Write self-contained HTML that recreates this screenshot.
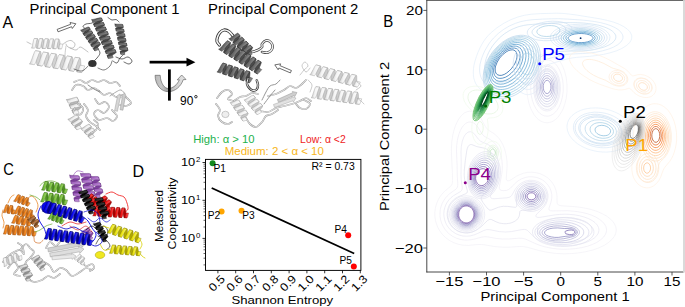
<!DOCTYPE html>
<html><head><meta charset="utf-8"><style>
html,body{margin:0;padding:0;background:#fff;}
body{width:685px;height:307px;overflow:hidden;}
svg{display:block;}
</style></head><body>
<svg width="685" height="307" viewBox="0 0 685 307">
<defs><clipPath id="clipB"><rect x="427.3" y="1.1" width="255.9" height="270.5"/></clipPath></defs>
<g clip-path="url(#clipB)">
<g fill="none" stroke-width="0.7"><path d="M540.6 13.6 556.8 13.2 562.8 13.4 568.8 14.0 575.8 14.9 599.8 18.8 607.3 20.4 613.8 22.2 619.3 24.3 623.7 26.6 627.3 29.1 629.8 31.6 631.2 34.1 631.7 35.6 631.8 37.1 631.6 38.6 631.2 40.1 629.6 42.6 628.2 44.1 626.4 45.6 621.8 48.5 616.3 50.9 609.8 52.9 603.3 54.4 595.8 55.6 589.3 56.4 576.3 57.4 571.2 58.1 566.3 59.2 549.8 64.0 547.8 64.7 546.3 65.9 545.4 67.6 544.0 75.6 543.3 78.6 542.1 82.1 540.5 85.6 538.6 88.6 536.3 91.1 533.8 93.0 531.3 94.1 528.3 94.6 526.3 94.5 524.8 94.2 521.8 92.8 517.3 89.7 516.3 89.2 515.3 89.0 513.3 89.3 507.3 91.4 502.8 92.7 498.8 93.5 494.8 93.7 490.8 93.5 486.8 92.6 483.3 91.1 480.3 89.1 478.3 87.2 476.8 85.3 475.5 83.1 474.5 80.6 473.8 78.1 473.4 75.1 473.3 72.1 473.5 68.6 474.0 65.1 475.0 61.1 476.4 56.6 478.1 52.1 480.1 47.6 482.0 44.1 483.8 41.1 486.0 38.1 488.1 35.6 490.8 32.9 496.8 27.9 503.8 23.3 510.8 19.7 517.8 17.0 524.3 15.3 531.3 14.2 540.6 13.6 M590.8 108.1 595.8 107.9 600.8 108.2 605.3 109.0 610.3 110.3 614.8 112.0 618.8 113.9 622.8 116.5 625.9 119.1 628.7 122.1 630.7 125.1 632.1 128.1 632.9 131.6 632.9 135.1 632.2 138.1 630.7 141.1 628.8 143.6 626.6 145.6 623.8 147.5 620.8 149.0 617.8 150.2 614.3 151.1 610.8 151.7 606.8 152.1 602.8 152.0 598.8 151.7 594.8 151.0 590.8 150.0 587.3 148.9 583.8 147.4 580.3 145.5 577.3 143.6 574.3 141.1 571.9 138.6 570.0 136.1 568.6 133.6 567.5 130.6 567.0 127.6 567.1 125.1 567.6 122.6 568.6 120.1 570.2 117.6 572.0 115.6 574.5 113.6 577.3 111.9 580.3 110.5 583.8 109.3 587.3 108.6 590.8 108.1" stroke="#e3eef9"/>
<path d="M542.8 19.1 551.3 18.8 558.8 18.7 567.3 19.1 579.8 19.9 587.8 20.6 594.3 21.5 600.3 22.6 605.8 24.0 610.8 25.7 615.0 27.6 618.3 29.7 620.9 32.1 622.5 34.6 622.9 36.1 623.0 37.1 622.8 38.6 622.4 39.6 620.8 42.1 617.9 44.6 613.6 47.1 608.3 49.2 602.3 50.9 595.8 52.2 589.3 53.0 582.8 53.5 569.8 54.1 564.3 54.7 557.3 56.2 547.8 58.8 544.8 59.9 543.3 61.1 542.6 62.1 542.2 63.1 541.8 65.1 541.4 70.6 540.9 74.1 540.0 77.6 538.6 81.1 536.9 84.1 534.8 86.5 532.8 88.1 530.3 89.2 528.8 89.4 527.3 89.5 525.8 89.2 524.3 88.7 521.8 87.2 517.8 83.9 516.8 83.4 515.8 83.2 514.8 83.2 513.3 83.5 507.8 85.5 504.3 86.5 500.8 87.2 497.3 87.4 493.8 87.1 490.3 86.2 487.3 84.8 485.0 83.1 483.6 81.6 482.1 79.6 481.1 77.6 480.3 75.1 479.8 72.6 479.6 70.1 479.7 67.1 480.1 64.1 481.0 60.6 481.9 57.6 483.3 54.1 484.9 50.6 488.7 44.1 490.9 41.1 493.5 38.1 498.1 33.6 503.3 29.6 509.3 26.0 515.3 23.4 520.8 21.6 526.8 20.4 532.8 19.7 542.8 19.1 M590.5 112.6 594.3 112.2 598.3 112.3 602.3 112.7 606.3 113.5 610.3 114.8 613.8 116.3 616.9 118.1 619.8 120.2 622.3 122.6 624.2 125.1 625.5 127.6 626.4 130.6 626.6 133.6 626.1 136.1 625.0 138.6 623.5 140.6 622.0 142.1 620.0 143.6 617.8 144.9 615.3 145.9 612.8 146.7 609.8 147.4 606.8 147.7 603.3 147.8 600.3 147.6 596.8 147.2 593.3 146.4 590.3 145.4 587.3 144.2 584.8 142.9 582.3 141.4 580.0 139.6 577.9 137.6 576.3 135.6 575.0 133.6 574.2 131.6 573.5 129.1 573.4 127.1 573.6 125.1 574.2 123.1 575.2 121.1 576.8 119.1 578.3 117.6 580.3 116.2 582.3 115.1 584.8 114.0 587.3 113.3 590.5 112.6" stroke="#dae8f6"/>
<path d="M563.2 22.6 577.3 22.7 583.3 23.0 588.8 23.6 593.8 24.3 598.8 25.3 603.2 26.6 606.8 28.0 610.1 29.6 612.3 31.1 614.4 33.1 615.6 35.1 615.9 37.1 615.5 39.1 614.2 41.1 611.8 43.3 608.8 45.1 604.8 46.8 600.3 48.2 594.8 49.5 588.8 50.4 582.8 50.9 564.8 51.2 559.2 51.6 554.8 52.3 549.3 53.6 544.8 54.8 542.3 55.9 541.2 56.6 540.3 57.4 539.6 58.6 539.2 59.6 538.9 62.1 538.9 67.6 538.6 71.1 537.9 74.6 536.9 77.6 535.6 80.1 533.8 82.4 531.8 84.1 529.8 84.9 527.3 85.1 524.8 84.4 522.3 82.8 518.8 79.4 517.8 78.8 516.8 78.4 515.8 78.3 514.3 78.6 508.3 80.8 504.8 81.7 501.3 82.2 498.3 82.2 494.8 81.7 491.8 80.5 489.3 78.7 487.4 76.6 486.2 74.6 485.5 72.6 484.9 70.1 484.7 67.6 484.9 64.6 485.4 61.6 486.2 58.6 487.3 55.6 488.6 52.6 490.5 49.1 492.4 46.1 494.7 43.1 499.3 38.0 502.1 35.6 504.8 33.5 509.3 30.7 513.8 28.5 518.8 26.6 523.8 25.4 527.8 24.8 532.3 24.4 552.3 23.0 563.2 22.6 M592.4 116.1 595.3 115.8 598.3 115.8 601.8 116.2 604.8 116.8 607.8 117.7 610.8 119.0 613.3 120.4 615.7 122.1 617.8 124.1 619.3 126.1 620.4 128.1 621.0 130.1 621.3 132.1 621.1 134.1 620.4 136.1 619.1 138.1 617.8 139.5 616.3 140.7 614.3 141.8 612.3 142.7 607.8 143.9 602.8 144.2 597.8 143.8 592.8 142.5 588.3 140.6 584.3 137.9 581.5 135.1 580.5 133.6 579.5 131.6 579.0 130.1 578.7 128.1 578.9 126.1 579.3 124.6 580.1 123.1 581.1 121.6 582.7 120.1 584.0 119.1 585.8 118.1 587.8 117.3 592.4 116.1" stroke="#ccdff1"/></g>
<g fill="none" stroke-width="0.7"><path d="M544.1 53.6 546.3 53.3 548.3 53.3 550.3 53.7 552.3 54.5 553.8 55.3 555.8 56.7 557.7 58.6 559.4 60.6 561.0 63.1 562.4 65.6 564.6 71.1 566.2 77.6 567.0 84.6 567.0 91.6 566.2 98.6 564.5 105.1 563.4 108.1 562.0 111.1 559.2 115.6 557.6 117.6 555.8 119.3 553.8 120.7 551.8 121.8 549.8 122.4 547.8 122.7 545.8 122.7 543.8 122.3 542.3 121.8 540.3 120.8 538.3 119.4 536.8 118.0 535.3 116.3 533.7 114.1 531.0 109.1 529.0 103.6 527.7 97.6 526.9 91.1 527.0 84.6 527.7 78.1 529.1 72.1 531.1 66.6 533.8 61.8 536.8 58.0 538.4 56.6 540.3 55.2 542.3 54.2 544.1 53.6 M467.4 111.6 469.8 111.2 472.3 111.5 474.8 112.5 477.3 114.3 479.3 116.4 481.0 118.6 485.3 126.4 486.8 128.6 488.8 130.4 493.8 133.5 496.4 135.6 499.2 138.6 501.5 142.1 503.1 145.1 504.6 149.1 505.7 153.1 506.5 157.1 507.0 161.6 507.1 166.1 506.3 178.1 506.5 179.6 507.1 180.6 507.8 180.9 509.3 180.7 511.3 179.6 516.3 176.3 519.3 174.8 523.3 173.3 527.3 172.4 531.8 172.2 536.3 172.7 540.3 173.8 544.3 175.7 547.3 177.6 550.3 180.3 552.6 183.1 554.6 186.6 555.9 190.1 556.7 193.6 557.0 196.6 557.1 203.1 557.5 204.1 558.3 204.9 559.8 205.5 561.8 205.8 572.8 206.5 579.8 207.2 585.8 208.3 590.8 209.4 596.8 211.3 602.3 213.7 606.8 216.2 610.8 219.3 612.9 221.6 614.6 224.1 615.7 226.6 616.2 229.1 616.1 231.6 615.5 234.1 614.2 236.6 612.3 239.1 608.8 242.3 604.3 245.3 598.8 247.9 592.8 250.0 585.8 251.7 578.8 252.9 571.3 253.6 563.8 253.8 555.3 253.4 546.8 252.2 539.3 250.6 527.3 247.3 523.3 246.6 519.3 246.5 509.3 247.2 502.8 247.2 494.8 246.6 484.3 244.8 481.3 244.5 477.8 244.5 468.3 245.4 465.3 245.3 462.3 245.1 457.8 244.1 453.3 242.5 449.3 240.4 445.3 237.3 442.3 234.3 439.9 231.1 437.9 227.6 436.5 224.1 435.5 220.6 434.9 216.6 434.8 212.6 435.3 208.6 436.0 205.6 437.0 202.6 438.3 199.6 440.1 196.6 442.0 194.1 444.3 191.6 450.8 186.1 451.6 185.1 452.2 183.6 452.6 180.6 452.4 172.6 451.5 155.1 451.4 149.1 451.8 141.6 452.9 134.6 454.0 130.1 455.3 126.1 456.8 122.6 458.7 119.1 460.8 116.3 462.8 114.2 464.8 112.7 467.4 111.6" stroke="#f2f0f7"/>
<path d="M544.8 60.1 546.3 59.9 548.3 59.9 551.3 60.8 552.8 61.7 554.3 62.8 555.8 64.3 557.3 66.1 559.6 70.1 561.5 75.1 562.7 80.1 563.2 85.6 563.2 91.6 562.4 97.1 560.9 102.6 559.0 107.1 556.7 110.6 555.3 112.2 553.8 113.6 552.3 114.6 550.8 115.4 549.3 115.9 547.3 116.2 544.3 115.8 542.8 115.2 541.3 114.4 539.8 113.3 538.3 111.8 535.9 108.6 533.8 104.6 532.3 100.1 531.2 95.1 530.7 90.1 530.8 84.6 531.4 79.6 532.7 74.6 534.3 70.3 536.4 66.6 538.9 63.6 540.3 62.3 541.8 61.3 544.8 60.1 M468.7 122.1 470.3 122.0 472.3 122.4 473.8 123.1 475.3 124.2 477.8 127.0 481.5 133.1 483.0 135.1 484.8 136.6 490.3 139.6 493.3 141.8 496.3 145.1 497.6 147.1 498.9 149.6 500.3 153.1 501.4 157.1 502.0 161.1 502.3 165.6 502.2 170.1 501.7 174.6 499.3 186.6 499.3 188.4 499.9 189.6 501.3 190.4 503.3 190.6 506.3 190.4 508.3 189.7 510.3 188.3 514.8 183.6 517.8 181.0 521.3 178.9 525.3 177.5 528.8 176.8 532.8 176.8 536.8 177.5 540.3 178.8 542.3 179.8 544.2 181.1 547.3 184.1 549.7 187.6 551.1 191.1 551.8 194.6 551.8 198.1 551.0 202.1 549.0 208.1 548.9 209.1 549.3 210.1 550.3 210.7 552.3 210.9 567.3 210.7 572.8 211.1 577.8 211.7 582.8 212.6 587.3 213.7 591.3 215.1 595.3 216.8 599.2 219.1 602.3 221.5 604.5 224.1 605.9 226.6 606.5 229.1 606.5 230.6 606.3 232.1 605.3 234.6 603.6 237.1 600.8 239.7 596.8 242.4 592.3 244.5 587.3 246.3 581.8 247.6 575.8 248.6 569.8 249.1 563.3 249.3 558.3 249.0 553.3 248.5 548.8 247.7 544.3 246.7 540.3 245.5 536.8 244.2 525.8 239.2 522.3 238.3 518.8 238.2 508.8 239.0 502.3 239.0 496.8 238.5 487.8 236.9 484.8 236.7 481.3 237.2 474.8 239.0 471.3 239.7 467.8 240.1 464.8 240.1 460.8 239.5 456.8 238.4 452.8 236.4 449.3 234.0 446.8 231.6 444.8 229.1 443.0 226.1 441.6 223.1 440.7 220.1 440.1 216.6 440.0 213.1 440.3 209.6 441.0 206.6 442.1 203.6 443.7 200.6 445.3 198.2 447.1 196.1 449.3 194.0 456.0 189.1 456.9 188.1 457.4 187.1 457.7 185.6 457.8 184.1 457.3 176.6 457.1 165.6 456.5 151.1 456.7 145.6 457.3 140.6 458.1 137.1 459.1 133.6 460.3 130.6 461.8 127.8 463.4 125.6 465.3 123.7 466.8 122.8 468.7 122.1" stroke="#efedf5"/>
<path d="M545.5 65.1 546.8 65.0 548.3 65.1 550.8 65.9 553.3 67.7 555.7 70.6 557.4 73.6 558.9 77.6 559.9 82.1 560.3 86.6 560.2 91.1 559.6 95.6 558.5 99.6 556.8 103.6 554.8 106.7 552.4 109.1 549.8 110.5 547.3 111.0 544.8 110.7 542.3 109.6 540.0 107.6 538.1 105.1 536.3 101.8 535.0 98.1 534.1 94.1 533.7 89.6 533.8 85.1 534.4 80.6 535.4 76.6 536.8 73.1 538.6 70.1 540.8 67.6 543.3 65.9 545.5 65.1 M468.3 132.1 470.3 131.7 471.8 132.1 472.8 132.6 474.8 134.4 478.3 139.1 480.3 141.0 482.3 142.1 487.8 144.4 490.8 146.4 492.8 148.4 494.3 150.4 495.8 153.1 496.8 155.6 497.9 159.6 498.6 164.1 498.7 168.6 498.3 173.6 497.4 178.1 495.9 183.1 494.5 186.6 490.7 195.1 490.4 196.1 490.5 197.1 491.1 198.1 492.3 198.6 494.8 198.7 506.8 197.8 509.3 197.3 510.8 196.4 511.8 195.3 515.0 189.6 517.2 186.6 519.3 184.5 522.0 182.6 525.3 181.1 529.3 180.3 533.3 180.4 537.3 181.3 539.8 182.5 541.8 183.8 543.8 185.6 545.3 187.5 546.5 189.6 547.3 191.6 547.9 194.1 548.0 196.6 547.8 198.6 547.4 200.6 545.8 204.3 544.6 206.1 542.8 208.3 536.7 214.1 535.9 215.6 535.9 216.1 536.3 216.9 536.8 217.2 537.8 217.4 539.8 217.4 554.8 214.9 559.8 214.4 564.8 214.2 569.8 214.4 574.8 214.9 579.3 215.7 583.8 216.9 588.5 218.6 592.3 220.6 595.0 222.6 597.3 225.1 598.6 227.6 598.9 229.1 598.9 230.6 598.3 233.1 596.8 235.6 594.3 238.0 591.3 240.0 587.8 241.7 583.3 243.3 578.3 244.5 573.3 245.3 568.3 245.7 562.8 245.7 556.8 245.3 551.3 244.4 546.3 243.2 541.8 241.5 538.8 240.1 535.5 238.1 532.5 235.6 527.8 230.7 526.3 229.8 524.8 229.4 521.8 229.6 511.3 231.6 505.3 232.0 499.3 231.6 489.8 229.7 486.8 229.6 483.8 230.5 477.8 233.4 474.3 234.8 470.3 235.9 466.8 236.2 462.8 236.0 459.3 235.1 455.8 233.7 452.3 231.4 450.2 229.6 448.1 227.1 446.5 224.6 445.4 222.1 444.6 219.6 444.0 216.6 443.8 213.6 444.1 210.6 444.8 207.6 445.9 204.6 447.3 202.1 449.1 199.6 451.1 197.6 453.3 195.8 460.4 191.6 461.4 190.6 462.0 189.6 462.2 188.6 462.2 187.1 461.2 179.6 461.0 174.6 461.2 162.1 461.0 151.6 461.3 146.6 462.3 141.2 463.8 137.1 464.8 135.3 465.8 134.0 466.8 133.0 468.3 132.1" stroke="#e8e6f2"/>
<path d="M546.6 69.6 548.8 69.8 550.8 70.8 552.8 72.5 554.3 74.6 555.8 77.6 556.8 80.6 557.4 84.1 557.7 87.6 557.5 91.1 557.0 94.6 556.1 97.6 554.8 100.6 553.3 102.9 551.3 104.9 549.3 106.0 547.3 106.4 545.3 106.2 543.3 105.3 541.3 103.6 539.8 101.6 538.3 98.7 537.3 95.6 536.6 92.1 536.3 88.6 536.5 85.1 537.0 81.6 538.0 78.1 539.3 75.3 540.8 73.0 542.8 71.1 544.8 70.0 546.6 69.6 M470.2 144.6 471.8 144.6 476.8 146.6 484.3 148.2 486.3 149.0 487.8 149.9 489.9 151.6 491.8 154.0 493.3 156.8 494.5 160.1 495.4 165.1 495.5 170.1 494.8 175.6 493.4 180.6 491.7 184.6 489.3 188.6 486.8 191.7 482.1 196.1 481.4 197.1 481.1 198.1 481.4 199.6 482.7 202.1 485.8 206.4 488.3 209.2 489.8 210.1 491.3 210.1 498.3 207.3 500.8 206.7 503.3 206.3 507.8 206.4 514.8 207.3 515.8 207.2 516.3 206.9 516.6 206.6 516.8 205.6 516.5 199.6 516.7 196.1 517.4 193.1 518.5 190.6 519.5 189.1 520.8 187.6 523.3 185.6 526.3 184.2 529.8 183.4 531.8 183.4 533.8 183.7 537.3 184.8 539.3 186.0 540.6 187.1 542.0 188.6 543.0 190.1 543.7 191.6 544.4 193.6 544.6 195.1 544.6 197.1 544.2 199.1 543.7 200.6 542.8 202.5 541.7 204.1 540.3 205.6 538.3 207.1 536.3 208.3 533.8 209.3 529.3 210.2 522.3 210.3 520.7 210.6 520.2 211.1 519.9 211.6 519.4 215.1 519.0 216.6 517.8 218.7 516.5 220.1 515.1 221.1 513.2 222.1 510.8 223.0 508.8 223.4 506.3 223.7 503.8 223.7 501.3 223.4 499.3 223.0 496.8 222.1 491.3 219.5 490.3 219.4 489.3 219.5 487.3 220.7 481.3 226.6 477.3 229.6 475.3 230.7 472.8 231.7 470.3 232.4 467.8 232.8 463.8 232.7 460.3 232.0 456.8 230.5 453.8 228.4 452.0 226.6 450.4 224.6 449.2 222.6 448.2 220.1 447.6 218.1 447.2 215.6 447.2 213.1 447.5 210.6 448.3 207.6 449.4 205.1 451.0 202.6 453.3 200.1 455.3 198.5 457.8 197.0 466.0 193.6 466.8 193.0 467.3 192.1 467.4 191.1 467.2 190.1 465.3 183.6 464.6 179.6 464.2 175.1 464.3 170.1 465.3 160.6 466.8 150.3 467.4 148.1 468.3 146.3 469.3 145.1 470.2 144.6 M560.0 217.6 566.8 217.4 573.3 218.0 579.3 219.3 584.3 221.1 586.3 222.2 588.4 223.6 590.0 225.1 591.1 226.6 591.8 228.1 592.1 229.6 592.0 231.1 591.6 232.6 590.7 234.1 589.3 235.6 587.4 237.1 584.8 238.6 582.3 239.7 579.3 240.7 575.8 241.6 572.3 242.1 565.3 242.6 561.3 242.5 557.8 242.2 554.3 241.6 550.8 240.7 547.8 239.8 545.3 238.7 542.8 237.3 540.8 235.8 539.1 234.1 538.2 232.6 537.5 230.6 537.4 229.1 537.7 227.6 538.5 226.1 539.7 224.6 541.6 223.1 543.8 221.8 546.4 220.6 549.3 219.6 552.8 218.7 556.3 218.0 560.0 217.6" stroke="#dfdfed"/></g>
<g fill="none" stroke-width="0.7"><path d="M579.8 51.6 585.3 51.9 591.8 53.1 598.3 55.0 605.3 57.9 610.8 60.7 624.8 68.7 627.9 71.1 631.3 75.1 632.3 75.8 633.3 75.9 637.8 74.7 640.8 74.5 644.3 75.1 647.8 76.5 650.3 78.1 652.3 79.9 654.0 82.1 655.1 84.1 655.9 86.6 656.0 88.6 655.8 90.6 655.1 92.6 654.1 94.1 653.1 95.1 651.8 96.1 650.3 96.8 648.8 97.3 646.8 97.5 644.8 97.5 642.8 97.2 639.3 96.1 636.3 94.4 634.0 92.6 630.8 89.1 629.8 88.4 628.8 88.3 624.8 89.5 621.8 89.9 618.8 89.9 615.3 89.4 611.3 88.3 599.8 84.3 594.8 82.2 589.8 79.7 582.8 75.3 579.8 73.1 576.9 70.6 574.4 68.1 572.7 66.1 571.1 63.6 570.1 61.6 569.6 59.6 569.6 57.6 570.0 56.1 571.0 54.6 572.3 53.5 574.3 52.5 576.8 51.9 579.8 51.6 M651.6 104.1 653.8 103.7 656.3 103.8 658.8 104.2 661.3 105.1 663.8 106.6 665.8 108.1 667.8 110.1 669.8 112.7 671.6 115.6 673.0 118.6 674.2 121.6 675.2 125.1 675.9 128.6 676.5 132.6 676.6 136.1 676.6 140.1 676.2 144.1 675.4 148.1 674.3 152.1 673.0 155.6 671.5 158.6 669.8 161.3 665.0 167.1 663.8 168.9 662.8 171.1 660.7 177.1 658.8 180.6 656.3 183.7 653.3 186.1 651.8 186.8 649.8 187.5 648.3 187.8 646.3 187.8 643.8 187.4 641.8 186.6 639.8 185.5 637.8 183.8 636.3 182.1 634.6 179.6 633.4 177.1 632.5 174.1 631.8 169.6 631.9 165.1 632.6 161.1 634.7 154.6 635.0 152.1 634.8 150.1 633.5 141.1 633.4 137.6 633.5 133.6 634.1 128.1 635.3 123.1 637.0 118.6 639.3 114.1 641.8 110.6 644.8 107.6 648.3 105.3 651.6 104.1" stroke="#fff0e2"/>
<path d="M586.9 59.6 589.3 59.4 591.8 59.6 594.8 60.2 598.3 61.2 604.2 63.6 611.8 67.8 613.8 68.5 619.3 70.0 622.3 71.3 623.8 72.3 625.2 73.6 626.4 75.1 627.2 76.6 627.7 78.1 627.8 79.6 627.6 81.1 626.9 82.6 625.3 84.4 622.8 85.7 619.8 86.2 616.3 85.8 614.3 85.2 612.3 84.3 605.8 80.4 598.3 77.5 593.4 75.1 590.2 73.1 587.0 70.6 584.6 68.1 583.1 65.6 582.5 63.6 582.6 62.6 583.0 61.6 584.3 60.4 585.3 60.0 586.9 59.6 M639.1 78.1 640.8 77.9 642.3 78.0 645.3 78.8 646.8 79.5 648.3 80.6 650.3 82.6 651.7 85.1 652.1 86.6 652.2 88.1 651.9 89.6 651.5 90.6 650.8 91.6 649.8 92.6 648.3 93.5 646.3 94.0 644.3 94.1 642.3 93.8 640.3 93.1 638.3 91.9 636.7 90.6 635.4 89.1 634.6 87.6 633.9 85.6 633.8 83.6 634.1 82.1 634.9 80.6 635.9 79.6 637.3 78.7 639.1 78.1 M652.2 112.1 653.8 111.8 655.8 111.8 657.8 112.1 659.8 112.8 661.8 114.0 663.3 115.2 664.8 116.7 666.3 118.7 667.5 120.6 668.7 123.1 669.7 125.6 670.5 128.6 671.3 134.1 671.3 140.1 670.4 145.6 669.6 148.6 668.6 151.1 667.1 154.1 665.4 156.6 663.8 158.4 660.4 161.6 659.4 163.1 658.7 165.1 657.3 172.4 656.5 174.6 655.5 176.6 653.5 179.1 651.3 180.8 648.8 181.8 646.3 181.9 644.3 181.5 642.8 180.8 641.3 179.8 639.8 178.3 638.6 176.6 637.5 174.6 636.9 172.6 636.5 170.6 636.3 166.6 636.9 163.1 638.0 160.1 640.5 155.1 641.0 153.1 640.8 151.1 639.4 145.1 638.8 141.6 638.6 137.6 638.7 133.6 639.3 129.6 640.2 126.1 641.5 122.6 643.1 119.6 644.9 117.1 647.3 114.7 649.8 113.0 652.2 112.1" stroke="#fee9d4"/></g>
<g fill="none" stroke-width="0.7"><path d="M471.1 86.6 473.3 86.3 475.8 86.2 478.3 86.4 480.8 86.9 485.8 88.5 490.8 91.1 493.3 92.9 495.4 94.6 497.4 96.6 499.1 98.6 500.5 100.6 501.5 102.6 502.3 104.6 502.8 106.6 502.9 109.1 502.3 111.6 501.2 113.6 499.8 115.1 497.8 116.4 495.8 117.2 493.3 117.7 488.8 118.1 487.8 118.6 487.5 119.1 487.5 120.1 488.1 125.1 488.2 129.1 487.9 132.6 487.2 136.1 485.9 139.6 484.4 142.1 482.8 143.6 480.8 144.4 479.3 144.4 478.3 144.1 476.8 143.2 475.8 142.2 474.7 140.6 473.7 138.6 472.3 134.1 471.8 129.6 471.9 124.6 472.8 120.1 474.5 115.1 474.5 113.6 473.5 112.1 469.2 108.1 466.3 104.6 464.3 101.1 463.3 97.6 463.1 95.6 463.3 93.6 463.8 92.1 464.6 90.6 465.8 89.2 467.3 88.1 469.3 87.1 471.1 86.6 M490.5 141.6 492.3 141.2 493.8 141.3 495.8 141.9 497.3 142.9 498.8 144.5 499.8 146.1 500.7 148.1 501.3 150.6 501.4 153.1 501.1 155.6 500.6 157.6 499.7 159.6 498.7 161.1 497.2 162.6 495.3 163.7 493.8 164.1 492.3 164.2 490.8 163.9 489.3 163.2 487.8 162.0 486.6 160.6 485.7 159.1 484.8 157.1 484.4 155.1 484.2 153.1 484.3 150.6 484.7 148.6 485.5 146.1 486.4 144.6 487.3 143.6 488.8 142.4 490.5 141.6" stroke="#eff9eb"/>
<path d="M475.2 90.1 477.3 90.0 479.8 90.2 482.3 90.8 484.8 91.7 487.3 92.8 489.8 94.3 491.8 95.9 493.7 97.6 495.0 99.1 496.3 101.1 497.3 103.1 497.9 105.1 498.1 107.1 497.9 108.6 497.3 110.1 496.1 111.6 493.9 113.1 491.3 113.8 487.8 114.0 484.3 113.5 481.8 112.8 478.8 111.4 475.3 109.0 472.5 106.6 470.4 104.1 468.8 101.1 468.0 98.6 468.0 96.1 468.6 94.1 469.2 93.1 470.2 92.1 472.3 90.8 475.2 90.1 M479.7 121.6 480.3 121.6 481.3 122.1 482.3 123.5 483.0 125.6 483.2 128.1 482.9 130.6 482.2 132.6 481.3 133.9 480.8 134.2 479.8 134.4 478.8 134.0 477.8 132.6 477.1 130.6 476.8 128.1 477.0 125.6 477.7 123.6 478.7 122.1 479.7 121.6 M491.0 145.6 492.3 145.2 493.3 145.2 494.3 145.5 495.3 146.0 496.3 146.8 497.3 148.1 498.2 150.6 498.4 153.6 498.1 155.1 497.6 156.6 496.8 158.0 495.8 159.1 494.8 159.7 493.8 160.1 491.8 160.1 490.8 159.7 489.8 159.1 488.2 157.1 487.3 154.6 487.2 151.6 487.8 149.1 488.3 148.1 489.3 146.8 491.0 145.6" stroke="#e2f4dd"/></g>
<g fill="none" stroke-width="0.7"><path d="M517.3 35.6 520.3 35.3 523.3 35.3 525.8 35.7 528.9 36.6 531.8 38.1 533.8 39.6 535.7 41.6 537.2 43.6 538.3 45.7 539.4 48.6 540.0 51.6 540.3 55.1 540.3 58.6 539.8 62.1 538.9 66.1 537.8 69.3 536.3 72.8 534.8 75.7 532.8 79.0 530.3 82.4 527.8 85.3 525.0 88.1 522.1 90.6 519.3 92.6 515.9 94.6 512.7 96.1 509.8 97.1 506.3 98.0 503.3 98.3 500.3 98.3 497.3 97.9 494.8 97.1 491.3 95.3 488.3 92.7 486.8 90.8 485.8 89.1 484.3 85.6 483.3 80.9 483.2 76.1 483.8 70.8 485.3 65.4 487.3 60.5 490.3 55.2 493.8 50.4 498.3 45.7 502.6 42.1 507.4 39.1 511.8 37.1 514.8 36.2 517.3 35.6" stroke="#b7d4ea"/>
<path d="M517.9 36.6 520.8 36.4 523.5 36.6 526.3 37.2 528.7 38.1 530.8 39.3 533.0 41.1 534.7 43.1 536.0 45.1 537.1 47.6 537.8 50.1 538.3 53.1 538.5 56.1 538.3 59.4 537.8 62.6 536.9 66.1 535.8 69.2 534.3 72.6 532.7 75.6 530.8 78.6 528.3 81.9 525.9 84.6 523.3 87.1 520.3 89.6 517.3 91.6 514.3 93.3 511.4 94.6 508.4 95.6 505.8 96.2 502.8 96.5 499.8 96.4 497.3 96.0 494.8 95.2 492.8 94.3 491.3 93.3 489.8 92.0 488.5 90.6 486.3 87.2 484.8 83.1 484.1 78.6 484.3 73.6 485.2 68.6 486.8 63.6 489.3 58.3 492.3 53.6 495.8 49.3 499.8 45.4 504.0 42.1 508.3 39.6 513.3 37.6 517.9 36.6" stroke="#aed1e7"/>
<path d="M516.2 38.1 518.8 37.8 521.3 37.8 523.8 38.2 526.3 38.9 528.3 39.9 530.3 41.3 532.1 43.1 533.6 45.1 534.8 47.6 535.6 50.1 536.1 52.6 536.3 55.6 536.2 58.6 535.8 61.6 534.9 65.1 533.9 68.1 532.4 71.6 530.8 74.6 528.8 77.6 527.0 80.1 524.8 82.6 522.3 85.1 519.8 87.2 516.8 89.4 513.8 91.1 510.8 92.5 507.8 93.5 505.3 94.1 502.3 94.4 499.8 94.3 497.3 93.9 495.3 93.3 492.2 91.6 490.8 90.5 489.3 88.9 487.3 85.9 485.9 82.1 485.3 78.1 485.3 73.6 486.2 68.6 487.6 64.1 489.8 59.3 492.3 55.1 495.8 50.6 499.3 47.0 503.3 43.8 507.6 41.1 511.8 39.3 516.2 38.1" stroke="#a1cbe2"/>
<path d="M515.3 39.6 517.8 39.3 520.3 39.3 522.8 39.7 524.8 40.3 526.8 41.3 528.6 42.6 530.1 44.1 531.5 46.1 532.5 48.1 533.3 50.6 533.8 53.1 533.9 55.6 533.9 58.1 533.5 61.1 532.7 64.1 531.8 67.1 530.5 70.1 528.9 73.1 525.3 78.4 521.0 83.1 518.7 85.1 516.0 87.1 513.3 88.7 510.8 89.9 507.8 91.1 505.3 91.7 502.8 92.0 500.3 92.0 497.8 91.7 495.8 91.1 492.8 89.5 490.3 87.2 488.3 84.2 487.2 81.1 486.5 77.1 486.5 73.1 487.3 68.6 488.7 64.1 490.7 59.6 493.3 55.3 496.3 51.4 499.8 47.9 503.3 45.0 507.3 42.5 511.3 40.7 515.3 39.6" stroke="#8cc0dd"/>
<path d="M514.9 41.1 517.3 40.9 519.8 40.9 521.8 41.3 523.8 42.0 525.3 42.9 526.9 44.1 528.3 45.6 529.6 47.6 530.4 49.6 531.0 51.6 531.3 54.1 531.4 56.6 530.8 61.6 529.9 64.6 529.0 67.1 526.3 72.5 522.8 77.5 518.8 81.7 514.3 85.2 509.8 87.6 507.3 88.6 504.8 89.2 502.3 89.5 500.3 89.5 497.8 89.2 495.8 88.6 493.2 87.1 490.8 84.7 489.2 82.1 488.2 79.1 487.8 75.6 487.9 71.6 488.7 67.6 490.0 63.6 491.9 59.6 494.3 55.7 497.1 52.1 500.3 48.8 503.8 46.0 507.3 43.8 511.3 42.0 514.9 41.1" stroke="#74b3d8"/>
<path d="M515.2 42.6 517.3 42.5 519.3 42.7 521.3 43.3 522.8 44.0 524.3 45.0 525.5 46.1 526.6 47.6 527.4 49.1 528.1 51.1 528.6 53.1 528.7 55.1 528.7 57.6 527.9 62.1 526.1 67.1 523.4 72.1 520.3 76.3 516.5 80.1 512.3 83.3 507.8 85.6 505.3 86.4 503.3 86.8 501.3 86.9 499.3 86.8 497.3 86.4 495.8 85.9 493.3 84.3 491.4 82.1 490.1 79.6 489.4 76.6 489.1 73.1 489.5 69.6 490.3 66.1 491.9 62.1 493.7 58.6 496.0 55.1 498.8 51.8 501.8 49.0 504.9 46.6 508.3 44.7 511.8 43.3 515.2 42.6" stroke="#5da5d1"/>
<path d="M512.7 44.6 516.3 44.3 518.3 44.5 519.8 45.0 521.0 45.6 522.4 46.6 523.4 47.6 524.4 49.1 525.6 52.1 525.9 54.1 526.0 56.1 525.4 60.6 524.0 65.1 521.7 69.6 518.9 73.6 515.7 77.1 511.8 80.3 507.8 82.5 503.8 83.9 500.3 84.2 498.3 83.9 496.8 83.5 494.8 82.4 492.9 80.6 491.7 78.6 490.9 76.1 490.6 73.1 490.7 70.1 491.3 67.1 492.5 63.6 494.1 60.1 496.0 57.1 498.2 54.1 500.8 51.4 503.8 48.9 506.8 46.9 509.8 45.5 512.7 44.6" stroke="#4695c8"/>
<path d="M513.6 46.1 515.3 46.1 516.8 46.3 519.3 47.4 521.1 49.1 522.5 51.6 523.0 54.6 522.9 58.1 522.1 61.6 520.6 65.6 518.3 69.6 515.8 72.8 512.8 75.8 509.3 78.5 505.8 80.3 502.8 81.2 499.8 81.3 498.3 81.1 496.8 80.6 494.8 79.2 493.5 77.6 492.6 75.6 492.1 73.1 492.1 70.6 492.5 67.6 493.4 64.6 494.7 61.6 496.4 58.6 498.5 55.6 500.8 53.0 503.3 50.8 505.8 49.0 508.3 47.6 510.8 46.6 513.6 46.1" stroke="#3282be"/>
<path d="M511.5 48.1 514.3 48.0 516.5 48.6 517.3 49.1 518.4 50.1 519.5 52.1 520.1 54.6 520.0 57.6 519.3 60.6 518.0 64.1 516.0 67.6 513.8 70.6 511.3 73.2 508.3 75.6 505.3 77.3 502.3 78.2 499.8 78.4 498.3 78.2 497.3 77.8 495.8 76.8 494.8 75.6 494.1 74.1 493.7 72.1 493.6 70.1 493.9 67.6 494.6 65.1 495.8 62.1 497.2 59.6 498.9 57.1 500.8 54.8 502.8 52.8 504.9 51.1 507.3 49.6 509.3 48.7 511.5 48.1" stroke="#1d6cb1"/>
<path d="M510.0 50.1 512.3 49.8 513.9 50.1 515.5 51.1 516.5 52.6 517.0 54.6 517.0 57.1 516.3 60.1 515.1 63.1 513.3 66.1 511.3 68.8 509.0 71.1 506.5 73.1 504.3 74.4 501.8 75.3 499.8 75.4 497.8 74.9 496.8 74.2 495.9 73.1 495.4 71.6 495.2 70.1 495.2 68.1 495.6 66.1 497.2 62.1 499.6 58.1 502.8 54.5 506.3 51.8 508.3 50.7 510.0 50.1" stroke="#0d57a1"/></g>
<g fill="none" stroke-width="0.7"><path d="M572.7 24.6 580.3 24.2 587.8 24.6 594.8 25.9 597.8 26.8 600.8 27.9 603.3 29.2 605.6 30.6 607.3 32.1 608.6 33.6 609.4 35.1 609.9 36.6 609.9 38.1 609.4 40.1 608.2 42.1 606.8 43.6 604.8 45.1 602.3 46.5 599.3 47.8 596.3 48.8 592.8 49.7 589.3 50.3 581.8 51.0 577.8 51.0 573.8 50.7 570.3 50.3 566.3 49.5 562.8 48.5 559.8 47.4 557.0 46.1 554.6 44.6 552.8 43.0 551.3 41.1 550.6 39.6 550.2 37.6 550.6 35.6 551.3 34.1 552.4 32.6 554.3 30.8 556.8 29.2 559.3 28.0 562.3 26.8 565.8 25.8 572.7 24.6" stroke="#d9e8f5"/>
<path d="M573.9 26.1 580.3 25.8 586.8 26.1 592.8 27.2 598.3 28.9 600.8 30.0 602.6 31.1 604.3 32.4 605.5 33.6 606.4 35.1 607.0 36.6 607.1 38.1 606.7 39.6 605.9 41.1 604.7 42.6 602.8 44.1 600.8 45.3 598.3 46.5 595.3 47.5 588.8 48.9 581.8 49.5 574.3 49.3 567.8 48.2 564.8 47.4 561.8 46.4 559.3 45.2 557.3 43.9 555.7 42.6 554.4 41.1 553.6 39.6 553.3 38.1 553.5 36.1 554.2 34.6 555.3 33.1 557.0 31.6 558.8 30.4 561.3 29.2 564.3 28.1 567.3 27.2 573.9 26.1" stroke="#d3e3f3"/>
<path d="M573.7 27.6 579.8 27.2 585.8 27.5 591.3 28.4 596.3 29.9 600.3 31.8 601.8 32.9 603.0 34.1 603.8 35.3 604.3 36.6 604.5 38.1 604.1 39.6 603.3 41.0 602.3 42.1 600.8 43.3 598.6 44.6 593.8 46.5 587.8 47.8 581.3 48.3 574.8 48.0 568.8 47.0 563.8 45.5 561.3 44.3 559.4 43.1 558.2 42.1 556.9 40.6 556.4 39.6 556.0 38.1 556.2 36.6 556.8 35.1 557.8 33.8 559.1 32.6 560.8 31.5 562.8 30.4 567.8 28.7 573.7 27.6" stroke="#c7dbef"/>
<path d="M578.5 28.6 583.3 28.7 588.3 29.2 592.8 30.2 596.4 31.6 599.3 33.3 600.3 34.2 601.3 35.5 601.8 36.6 602.0 37.6 601.9 38.6 601.6 39.6 600.8 40.9 599.6 42.1 596.3 44.1 591.8 45.7 586.3 46.7 580.3 47.1 574.3 46.7 568.8 45.7 564.3 44.1 561.1 42.1 560.0 41.1 559.0 39.6 558.7 38.6 558.7 37.1 559.2 35.6 560.0 34.6 561.0 33.6 562.8 32.4 564.8 31.3 567.3 30.4 572.8 29.1 578.5 28.6" stroke="#afd1e7"/>
<path d="M575.7 30.1 580.3 29.9 585.3 30.1 589.8 30.9 593.3 31.9 596.3 33.4 598.5 35.1 599.2 36.1 599.6 37.1 599.7 38.1 599.5 39.1 598.9 40.1 598.1 41.1 596.8 42.1 595.3 43.0 591.3 44.5 586.8 45.4 581.8 45.9 576.3 45.7 571.3 45.0 567.3 43.8 564.0 42.1 562.7 41.1 561.8 40.1 561.3 39.1 561.1 38.1 561.2 37.1 561.6 36.1 562.3 35.1 563.4 34.1 564.9 33.1 566.8 32.2 570.8 30.9 575.7 30.1" stroke="#8fc2de"/>
<path d="M574.2 31.6 578.3 31.2 582.8 31.2 586.8 31.6 590.8 32.5 593.8 33.7 595.9 35.1 597.1 36.6 597.4 37.6 597.3 38.6 596.9 39.6 596.3 40.4 594.3 41.9 591.3 43.2 587.3 44.2 582.8 44.7 578.3 44.7 574.3 44.3 570.3 43.4 567.0 42.1 564.8 40.6 563.7 39.1 563.5 38.1 563.6 37.1 564.1 36.1 565.0 35.1 567.3 33.6 570.3 32.5 574.2 31.6" stroke="#69add5"/>
<path d="M576.1 32.6 579.8 32.3 583.3 32.4 586.8 32.9 589.8 33.6 592.3 34.6 594.3 36.0 595.0 37.1 595.1 38.6 594.2 40.1 592.3 41.4 589.8 42.4 586.3 43.2 582.3 43.7 578.3 43.6 574.8 43.2 571.3 42.4 568.8 41.4 566.8 40.1 565.9 38.6 566.0 37.1 567.2 35.6 569.3 34.3 572.3 33.3 576.1 32.6" stroke="#4896c8"/>
<path d="M578.2 33.6 581.3 33.5 584.3 33.7 586.8 34.1 589.3 34.8 591.1 35.6 592.4 36.6 593.0 37.6 593.0 38.6 592.3 39.6 590.3 40.9 587.8 41.8 584.8 42.4 581.8 42.6 578.3 42.6 575.3 42.2 572.3 41.5 570.2 40.6 568.8 39.6 568.2 38.6 568.1 37.6 568.4 37.1 569.8 35.8 571.8 34.8 574.8 34.0 578.2 33.6" stroke="#2979b9"/></g>
<g fill="none" stroke-width="0.7"><path d="M590.4 114.6 593.8 114.3 597.3 114.3 600.8 114.7 604.3 115.5 607.8 116.6 610.8 117.9 613.8 119.7 616.4 121.6 618.4 123.6 620.2 126.1 621.3 128.3 622.0 130.6 622.1 133.1 621.8 135.1 620.7 137.6 619.3 139.6 617.8 141.0 616.3 142.1 614.3 143.3 611.8 144.3 609.3 145.1 606.8 145.5 601.3 145.9 595.8 145.3 590.3 143.9 585.2 141.6 582.9 140.1 580.9 138.6 579.3 137.1 577.7 135.1 576.7 133.6 575.8 131.6 575.3 129.6 575.1 127.6 575.3 125.6 575.8 124.1 576.5 122.6 577.8 120.7 579.3 119.2 580.8 118.1 582.8 116.9 585.3 115.9 587.8 115.1 590.4 114.6" stroke="#d0e1f2"/>
<path d="M594.8 117.1 597.8 117.1 600.8 117.3 603.8 117.9 606.3 118.6 608.8 119.6 611.3 120.9 613.8 122.6 615.5 124.1 616.8 125.6 618.1 127.6 618.9 129.6 619.2 131.6 619.1 133.6 618.7 135.1 617.7 137.1 616.4 138.6 614.8 140.0 613.3 140.9 609.8 142.3 605.3 143.2 600.8 143.3 595.8 142.6 591.3 141.1 587.4 139.1 584.2 136.6 582.8 135.1 581.7 133.6 580.4 130.6 580.1 128.6 580.2 127.1 580.5 125.6 581.2 124.1 583.1 121.6 584.8 120.3 586.3 119.4 590.3 117.8 594.8 117.1" stroke="#c9ddf0"/>
<path d="M594.8 120.1 599.3 119.8 601.8 120.0 604.3 120.5 606.8 121.3 608.8 122.2 612.3 124.5 614.0 126.1 615.1 127.6 615.8 129.1 616.3 130.6 616.4 132.1 616.2 133.6 615.6 135.1 614.8 136.3 612.8 138.1 610.1 139.6 606.8 140.5 603.3 140.8 599.3 140.5 595.8 139.7 592.3 138.2 589.3 136.3 587.1 134.1 585.7 131.6 585.1 129.1 585.4 126.6 585.9 125.6 586.8 124.2 588.8 122.4 591.3 121.1 594.8 120.1" stroke="#b8d5ea"/>
<path d="M599.1 122.6 602.3 122.7 605.8 123.5 608.8 124.9 611.3 126.9 612.9 129.1 613.3 130.2 613.5 131.6 613.1 133.6 612.5 134.6 611.7 135.6 609.8 136.9 607.8 137.7 605.3 138.2 602.3 138.3 599.3 137.8 596.8 137.0 594.3 135.7 592.3 134.1 590.8 132.1 590.1 130.1 590.2 128.1 590.8 126.6 592.1 125.1 594.3 123.7 596.3 123.0 599.1 122.6" stroke="#a1cbe2"/>
<path d="M599.4 125.6 601.8 125.3 604.3 125.6 606.3 126.3 608.3 127.4 609.8 128.9 610.6 130.6 610.5 132.1 609.8 133.6 608.8 134.5 607.3 135.3 605.8 135.6 603.8 135.8 601.9 135.6 600.3 135.2 598.8 134.6 597.2 133.6 596.2 132.6 595.5 131.6 595.1 130.1 595.1 129.1 595.5 128.1 596.3 127.1 597.8 126.1 599.4 125.6" stroke="#7fb9da"/></g>
<g fill="none" stroke-width="0.7"><path d="M524.6 45.1 527.3 44.8 530.3 45.4 532.8 46.6 535.2 48.6 537.2 51.1 538.8 54.1 540.0 57.6 540.7 61.6 540.8 65.6 540.3 69.1 539.3 72.7 537.7 76.1 535.8 78.8 533.3 81.1 530.8 82.5 527.8 83.2 525.3 83.1 522.8 82.3 520.3 80.8 518.0 78.6 516.3 76.1 514.8 73.1 513.8 69.6 513.3 66.1 513.2 62.6 513.7 59.1 514.6 55.6 515.9 52.6 517.8 49.7 519.8 47.6 522.3 45.9 524.6 45.1" stroke="#d0e1f2"/>
<path d="M525.8 49.1 527.8 49.0 529.9 49.6 531.8 50.7 533.8 52.6 535.2 54.6 536.3 57.1 537.1 60.1 537.5 63.1 537.4 66.1 536.9 69.1 536.1 71.6 534.8 74.1 533.2 76.1 531.3 77.7 529.3 78.6 527.3 79.0 525.3 78.8 523.3 78.0 521.3 76.6 519.9 75.1 518.7 73.1 517.6 70.6 516.9 68.1 516.5 65.1 516.6 62.1 517.0 59.6 517.7 57.1 518.8 54.6 520.2 52.6 521.8 51.0 523.8 49.7 525.8 49.1" stroke="#c4daee"/>
<path d="M525.1 53.6 526.3 53.3 527.8 53.3 529.3 53.8 530.8 54.8 531.9 56.1 533.0 58.1 533.7 60.1 534.1 62.1 534.2 64.6 534.0 66.6 533.5 68.6 532.7 70.6 531.8 72.1 530.3 73.6 529.3 74.2 527.8 74.7 526.3 74.7 525.3 74.5 523.8 73.7 522.8 72.8 521.8 71.5 520.8 69.6 519.9 66.1 519.8 64.1 519.9 62.1 520.8 58.5 521.5 57.1 522.5 55.6 523.8 54.3 525.1 53.6" stroke="#a6cee4"/></g>
<g fill="none" stroke-width="0.7"><path d="M547.2 21.6 552.3 21.2 557.3 21.4 562.0 22.1 565.8 23.2 568.6 24.6 570.0 25.6 570.9 26.6 571.5 27.6 571.9 28.6 571.9 29.6 571.6 31.1 570.7 32.6 569.9 33.6 568.1 35.1 566.3 36.2 561.8 38.2 555.8 39.8 549.8 40.6 543.8 40.7 538.2 40.1 535.8 39.6 533.3 38.7 531.3 37.8 529.8 36.9 528.5 35.6 527.8 34.6 527.4 33.6 527.3 32.1 527.7 30.6 528.7 29.1 530.2 27.6 531.6 26.6 535.8 24.4 541.3 22.7 547.2 21.6" stroke="#d0e1f2"/>
<path d="M547.6 23.6 551.3 23.4 555.3 23.6 558.8 24.2 561.6 25.1 563.5 26.1 565.2 27.6 565.9 29.1 565.9 30.1 565.7 31.1 565.2 32.1 564.4 33.1 561.7 35.1 558.3 36.6 553.8 37.9 549.3 38.5 544.8 38.6 540.5 38.1 536.8 37.1 534.1 35.6 533.0 34.6 532.4 33.6 532.1 32.6 532.1 31.6 532.4 30.6 533.0 29.6 535.2 27.6 538.8 25.7 542.8 24.4 547.6 23.6" stroke="#c4daee"/>
<path d="M548.2 25.6 551.3 25.6 554.3 25.9 556.8 26.7 558.8 27.9 559.7 29.1 559.9 30.6 559.3 32.1 557.7 33.6 555.8 34.7 552.8 35.7 549.8 36.3 546.8 36.5 543.8 36.3 541.3 35.8 538.8 34.7 537.5 33.6 537.0 32.6 536.9 31.1 537.8 29.6 538.8 28.6 540.5 27.6 542.9 26.6 545.3 26.0 548.2 25.6" stroke="#a6cee4"/></g>
<g fill="none" stroke-width="0.9"><path d="M489.8 84.6 490.8 84.5 491.3 84.7 492.3 85.6 492.8 87.1 493.0 89.1 492.7 92.6 492.0 95.6 490.9 99.1 489.6 102.6 488.1 106.1 485.9 110.1 484.1 113.1 481.8 116.2 479.8 118.4 477.8 120.0 476.3 120.7 474.8 120.7 473.9 120.1 473.3 119.0 473.0 117.1 473.0 115.1 473.4 112.1 474.0 109.6 476.2 103.1 479.5 96.1 483.0 90.6 485.0 88.1 486.8 86.4 488.3 85.2 489.8 84.6" stroke="#73c476"/>
<path d="M488.8 85.6 490.3 85.2 491.3 85.5 492.1 86.6 492.5 88.6 492.5 91.1 492.0 94.1 491.0 97.6 489.6 101.6 488.1 105.1 486.0 109.1 484.1 112.1 481.9 115.1 480.3 116.9 478.3 118.6 476.8 119.4 475.3 119.4 474.4 118.6 474.0 117.6 473.7 116.1 473.7 114.1 474.7 109.1 476.7 103.1 479.4 97.1 482.4 92.1 485.8 87.9 487.3 86.5 488.8 85.6" stroke="#70c274"/>
<path d="M488.9 86.1 490.3 85.8 491.3 86.4 491.9 87.6 492.2 89.6 492.0 92.1 491.5 94.6 490.5 98.1 489.2 101.6 486.1 108.1 484.3 111.0 482.3 113.9 480.3 116.1 478.8 117.4 477.3 118.2 476.3 118.3 475.8 118.2 475.1 117.6 474.5 116.1 474.4 114.6 474.5 112.6 475.6 107.6 477.5 102.1 480.1 96.6 483.2 91.6 486.3 88.0 487.8 86.7 488.9 86.1" stroke="#68be70"/>
<path d="M489.0 86.6 490.3 86.5 491.1 87.1 491.6 88.1 491.8 90.1 491.5 92.6 490.9 95.6 490.0 98.6 488.6 102.1 485.3 108.6 483.4 111.6 481.8 113.7 480.3 115.3 478.8 116.5 477.3 117.2 476.3 117.1 475.7 116.6 475.2 115.6 475.0 114.1 475.1 112.1 476.0 107.6 477.9 102.1 480.5 96.6 483.7 91.6 486.3 88.5 487.8 87.2 489.0 86.6" stroke="#5eb96b"/>
<path d="M489.0 87.1 490.2 87.1 490.8 87.6 491.3 88.8 491.4 90.6 491.1 93.1 490.6 95.6 488.5 101.6 485.5 107.6 482.3 112.4 480.8 114.1 479.3 115.4 477.8 116.1 476.8 116.0 476.3 115.6 475.8 114.5 475.6 113.1 475.8 111.1 476.7 106.6 478.5 101.6 480.9 96.6 483.8 92.0 486.8 88.5 487.8 87.7 489.0 87.1" stroke="#53b466"/>
<path d="M489.1 87.6 489.8 87.6 490.5 88.1 490.9 89.1 491.1 91.1 490.7 93.6 490.1 96.1 488.1 101.6 485.3 107.2 482.3 111.7 480.8 113.3 479.3 114.6 478.3 115.0 477.3 115.0 476.8 114.6 476.4 113.6 476.2 112.1 476.3 110.6 477.3 106.1 479.1 101.1 481.6 96.1 484.1 92.1 486.8 89.0 487.8 88.2 489.1 87.6" stroke="#48ae60"/>
<path d="M489.1 88.1 489.8 88.2 490.5 89.1 490.7 90.6 490.7 92.1 489.7 96.6 487.8 101.6 485.3 106.6 482.3 111.0 479.8 113.5 478.8 114.0 477.8 114.0 477.3 113.6 476.9 112.6 476.8 111.1 476.9 109.6 478.0 105.1 479.7 100.6 481.9 96.1 484.5 92.1 486.8 89.4 488.3 88.3 489.1 88.1" stroke="#3ea75a"/>
<path d="M489.2 88.6 489.8 88.8 490.2 89.6 490.4 91.1 490.3 92.6 489.4 96.6 487.5 101.6 484.9 106.6 482.3 110.3 480.8 111.9 479.8 112.7 478.8 113.1 478.3 113.0 477.8 112.6 477.4 111.6 477.5 108.6 478.6 104.6 480.3 100.1 482.6 95.6 485.2 91.6 487.3 89.4 488.3 88.8 489.2 88.6" stroke="#359e53"/>
<path d="M488.8 89.1 489.3 89.2 489.8 89.7 490.1 90.6 490.1 92.1 489.2 96.1 487.6 100.6 485.3 105.2 482.8 109.1 481.3 110.8 480.3 111.6 479.3 112.1 478.8 112.1 478.3 111.7 478.0 111.1 478.0 108.6 478.8 105.1 480.4 100.6 482.6 96.1 484.9 92.6 487.0 90.1 487.8 89.5 488.8 89.1" stroke="#2d954d"/>
<path d="M488.7 89.6 489.3 89.8 489.7 90.6 489.7 92.6 488.9 96.1 487.3 100.6 485.0 105.1 482.8 108.4 480.8 110.6 479.8 111.1 479.3 111.2 478.8 110.8 478.5 110.1 478.6 107.6 479.5 104.1 481.0 100.1 483.0 96.1 485.2 92.6 487.3 90.3 488.7 89.6" stroke="#248c46"/>
<path d="M487.5 90.6 488.3 90.1 488.8 90.1 489.3 90.6 489.5 91.6 489.1 94.6 487.8 98.6 485.8 103.0 483.7 106.6 481.3 109.5 480.3 110.1 479.8 110.2 479.3 110.0 479.1 109.6 479.0 107.6 479.5 105.1 480.7 101.6 482.3 98.1 484.2 94.6 486.0 92.1 487.5 90.6" stroke="#19833e"/>
<path d="M488.2 90.6 488.8 90.7 489.0 91.1 489.1 93.1 488.2 96.6 486.6 100.6 484.8 104.2 482.8 107.2 481.8 108.4 480.8 109.2 480.3 109.3 479.8 109.1 479.6 108.6 479.5 107.6 479.8 105.6 480.7 102.6 482.1 99.1 483.9 95.6 485.5 93.1 486.8 91.6 488.2 90.6" stroke="#0e7936"/>
<path d="M488.1 91.1 488.4 91.1 488.8 91.6 488.8 93.6 487.9 96.6 486.6 100.1 484.8 103.6 482.8 106.6 481.3 108.2 480.8 108.4 480.3 108.3 480.0 107.1 480.3 105.1 481.2 102.1 482.4 99.1 484.0 96.1 485.5 93.6 486.8 92.0 488.1 91.1" stroke="#026f2e"/>
<path d="M487.8 91.6 488.3 91.6 488.6 92.1 488.5 93.6 487.7 96.6 486.5 99.6 485.0 102.6 483.3 105.4 481.8 107.1 481.3 107.4 480.8 107.5 480.5 106.6 480.7 105.1 481.4 102.6 482.5 99.6 484.0 96.6 485.5 94.1 486.8 92.4 487.8 91.6" stroke="#006227"/>
<path d="M487.6 92.1 488.1 92.1 488.3 92.5 488.1 94.1 487.4 96.6 486.4 99.1 484.9 102.1 483.4 104.6 482.3 106.0 481.3 106.6 481.0 106.1 481.1 104.6 481.9 102.1 482.9 99.6 485.5 94.6 486.8 92.8 487.6 92.1" stroke="#005221"/>
<path d="M487.4 92.6 487.8 92.4 487.9 92.6 487.9 94.1 486.3 98.6 484.9 101.6 483.4 104.1 482.3 105.4 481.8 105.8 481.5 105.1 481.7 103.6 483.2 99.6 485.8 94.6 487.4 92.6" stroke="#00441b"/></g>
<g fill="none" stroke-width="0.7"><path d="M491.7 147.1 493.3 146.9 494.8 147.6 496.0 149.1 496.5 150.1 496.8 151.6 496.8 154.1 496.1 156.1 494.8 157.8 493.3 158.5 491.8 158.3 490.3 157.3 489.2 155.6 488.7 153.6 488.8 151.6 489.3 149.6 490.3 148.1 491.7 147.1" stroke="#d3eecd"/>
<path d="M492.0 149.1 492.8 148.9 493.3 149.0 494.3 149.6 495.0 150.6 495.4 152.1 495.3 153.6 494.8 155.1 493.8 156.2 492.8 156.5 491.8 156.2 491.1 155.6 490.6 154.6 490.2 153.1 490.3 151.6 490.6 150.6 491.3 149.6 492.0 149.1" stroke="#b8e3b2"/></g>
<g fill="none" stroke-width="0.7"><path d="M544.9 66.6 547.3 66.3 549.8 66.9 552.3 68.4 554.3 70.6 556.2 73.6 557.6 77.1 558.6 81.1 559.2 85.6 559.2 90.1 558.6 94.6 557.6 98.6 556.2 102.1 554.3 105.3 552.3 107.4 549.8 109.0 547.3 109.5 544.8 109.2 542.8 108.2 540.8 106.5 538.9 104.1 537.3 101.1 536.1 97.6 535.3 94.1 534.8 90.1 534.8 86.1 535.2 82.1 536.1 78.1 537.3 74.8 538.8 71.9 540.8 69.3 542.8 67.6 544.9 66.6" stroke="#e2e2ef"/>
<path d="M544.6 69.1 546.8 68.6 548.3 68.8 549.3 69.0 551.3 70.2 553.3 72.2 554.9 74.6 556.4 78.1 557.3 81.6 557.8 85.6 557.8 89.6 557.4 93.1 556.6 96.6 555.3 100.1 553.8 102.7 551.8 104.9 549.8 106.2 548.8 106.6 547.3 106.9 545.3 106.6 543.3 105.7 541.4 104.1 539.9 102.1 538.5 99.6 537.4 96.6 536.7 93.6 536.3 90.1 536.2 86.6 536.5 83.1 537.2 79.6 538.2 76.6 539.7 73.6 541.2 71.6 542.8 70.1 544.6 69.1" stroke="#ddddec"/>
<path d="M545.8 71.1 547.8 71.0 549.6 71.6 551.3 72.7 552.9 74.6 554.3 77.0 555.3 79.6 556.0 82.6 556.4 86.1 556.4 89.6 556.0 92.6 555.3 95.7 554.1 98.6 552.8 100.8 551.1 102.6 549.3 103.7 547.3 104.2 545.3 103.9 543.8 103.2 542.3 102.0 540.8 100.1 539.5 97.6 538.6 95.1 537.9 92.1 537.6 89.1 537.7 85.6 538.0 82.6 538.8 79.6 539.7 77.1 540.8 75.1 542.3 73.2 543.8 72.0 545.8 71.1" stroke="#d1d2e7"/>
<path d="M545.4 73.6 547.3 73.3 548.8 73.6 550.3 74.5 551.8 76.0 552.8 77.6 553.9 80.1 554.6 82.6 555.0 85.6 555.1 88.6 554.7 91.6 554.2 94.1 553.2 96.6 552.0 98.6 550.6 100.1 548.8 101.2 547.3 101.6 545.8 101.4 544.3 100.7 542.9 99.6 541.8 98.2 540.8 96.4 539.9 94.1 539.4 91.6 539.1 89.1 539.0 86.1 539.3 83.6 539.8 81.1 540.5 79.1 541.6 77.1 542.8 75.4 544.3 74.1 545.4 73.6" stroke="#c1c2df"/>
<path d="M545.2 76.1 546.8 75.6 548.3 75.8 549.7 76.6 550.8 77.6 551.8 79.1 552.7 81.1 553.3 83.1 553.7 85.6 553.7 88.1 553.5 90.6 553.0 92.6 552.2 94.6 551.3 96.3 550.1 97.6 548.8 98.5 547.3 98.9 545.8 98.7 544.8 98.2 543.8 97.4 542.8 96.2 541.3 93.1 540.5 89.1 540.5 85.1 541.4 81.1 543.0 78.1 543.8 77.1 545.2 76.1" stroke="#afaed4"/>
<path d="M546.2 78.1 547.3 78.0 548.3 78.2 549.3 78.8 550.3 79.9 551.1 81.1 551.7 82.6 552.3 86.1 552.2 89.6 551.7 91.6 551.1 93.1 550.3 94.4 549.3 95.4 548.3 96.0 547.3 96.3 546.3 96.2 545.3 95.7 543.7 94.1 542.5 91.6 541.8 88.1 542.0 84.6 542.9 81.6 544.3 79.3 545.3 78.5 546.2 78.1" stroke="#9c98c7"/>
<path d="M546.0 80.6 547.3 80.3 548.3 80.6 548.9 81.1 549.7 82.1 550.3 83.1 550.9 85.6 550.9 88.6 550.1 91.1 548.8 92.9 547.3 93.6 545.8 93.2 544.8 92.3 543.8 90.5 543.3 88.1 543.3 85.6 543.7 83.6 544.8 81.6 546.0 80.6" stroke="#8683bd"/></g>
<g fill="none" stroke-width="0.7"><path d="M484.9 151.6 486.8 151.6 488.3 151.8 491.3 152.8 492.8 153.8 494.3 155.0 496.8 158.1 498.5 161.6 499.8 165.9 500.4 170.6 500.2 175.1 499.5 179.6 498.2 184.1 496.3 188.2 493.7 192.1 490.8 195.1 487.8 197.1 486.3 197.8 484.3 198.5 482.3 198.8 480.8 198.7 477.8 198.1 475.0 196.6 472.8 194.6 470.6 191.6 469.0 188.1 467.9 184.1 467.4 180.1 467.5 175.6 468.1 171.1 469.3 166.9 471.2 162.6 473.3 159.2 475.8 156.3 478.8 153.8 481.8 152.3 484.9 151.6" stroke="#e2e2ef"/>
<path d="M482.7 154.1 485.8 153.7 488.8 154.2 490.3 154.8 491.8 155.7 494.3 158.0 496.3 161.0 497.8 164.6 498.7 169.1 498.9 173.6 498.4 178.1 497.3 182.6 495.6 186.6 493.3 190.3 490.8 193.1 487.8 195.4 484.8 196.7 482.8 197.1 481.3 197.1 478.8 196.7 476.2 195.6 473.8 193.7 471.8 191.2 470.2 188.1 469.1 184.6 468.5 181.1 468.4 177.1 468.8 173.1 469.7 169.1 471.0 165.6 472.8 162.3 474.8 159.5 477.3 157.0 479.8 155.3 482.7 154.1" stroke="#ddddec"/>
<path d="M482.9 156.1 485.8 155.8 488.3 156.3 490.8 157.6 493.3 159.9 495.1 162.6 496.5 166.1 497.3 170.1 497.5 174.1 497.0 178.1 496.0 182.1 494.3 186.1 492.3 189.3 489.8 192.0 487.3 193.9 484.3 195.1 481.3 195.5 478.8 195.0 476.3 193.9 474.3 192.2 472.6 190.1 471.0 187.1 470.1 184.1 469.5 180.6 469.4 177.1 469.8 173.6 470.6 170.1 471.8 166.8 473.5 163.6 475.3 161.1 477.8 158.7 480.3 157.1 482.9 156.1" stroke="#d1d2e7"/>
<path d="M483.3 158.1 485.8 158.0 488.3 158.7 490.6 160.1 492.6 162.1 494.1 164.6 495.3 167.9 495.9 171.6 496.0 175.1 495.5 178.6 494.6 182.1 493.0 185.6 491.3 188.3 489.2 190.6 486.8 192.4 484.3 193.4 482.8 193.8 481.3 193.8 478.8 193.4 476.8 192.4 474.8 190.8 473.1 188.6 471.9 186.1 471.0 183.1 470.5 180.1 470.5 176.6 470.9 173.1 471.8 169.9 473.2 166.6 474.7 164.1 476.8 161.6 478.8 160.0 480.8 158.9 483.3 158.1" stroke="#c1c2df"/>
<path d="M481.6 160.6 483.8 160.1 486.3 160.3 488.8 161.4 490.8 163.1 492.3 165.1 493.6 168.1 494.3 171.1 494.6 174.1 494.3 177.6 493.6 180.6 492.5 183.6 490.8 186.6 488.8 188.9 486.7 190.6 484.3 191.7 481.8 192.2 479.8 192.0 477.8 191.2 475.8 189.8 474.3 188.1 473.1 186.1 472.2 183.6 471.7 181.1 471.5 178.1 471.7 175.1 472.1 172.6 473.1 169.6 474.3 167.2 475.8 164.9 477.8 162.8 479.8 161.4 481.6 160.6" stroke="#afaed4"/>
<path d="M481.7 162.6 483.8 162.3 486.2 162.6 488.3 163.6 489.8 165.0 491.3 167.1 492.2 169.1 492.8 171.6 493.1 174.6 492.9 177.6 492.2 180.6 491.2 183.1 489.8 185.6 488.1 187.6 486.2 189.1 483.8 190.2 481.8 190.5 479.8 190.3 478.3 189.8 476.8 188.8 475.2 187.1 474.0 185.1 473.2 183.1 472.7 180.6 472.5 178.1 472.7 175.1 473.3 172.6 474.2 170.1 475.2 168.1 476.8 165.9 478.3 164.5 479.8 163.4 481.7 162.6" stroke="#9c98c7"/>
<path d="M481.9 164.6 483.8 164.4 485.8 164.8 487.3 165.5 488.8 166.8 490.0 168.6 490.9 170.6 491.5 173.1 491.7 175.6 491.4 178.1 490.8 180.6 489.7 183.1 488.4 185.1 486.8 186.8 485.3 187.8 483.3 188.7 481.3 188.9 479.8 188.6 478.3 188.0 476.8 186.9 475.7 185.6 474.8 184.1 474.1 182.1 473.6 180.1 473.5 177.6 473.8 175.1 474.2 173.1 475.0 171.1 476.1 169.1 477.3 167.5 478.8 166.1 480.3 165.2 481.9 164.6" stroke="#8683bd"/>
<path d="M482.3 166.6 483.8 166.6 485.3 166.9 486.8 167.8 488.1 169.1 489.0 170.6 489.8 172.6 490.1 174.6 490.2 176.6 489.9 178.6 489.4 180.6 488.4 182.6 487.3 184.2 485.8 185.7 484.3 186.6 482.8 187.1 481.3 187.2 479.8 187.0 478.3 186.2 477.3 185.4 476.3 184.2 475.4 182.6 474.9 181.1 474.6 179.1 474.6 177.1 474.8 175.1 475.3 173.4 476.1 171.6 477.0 170.1 478.3 168.6 479.3 167.8 480.8 167.0 482.3 166.6" stroke="#7363ad"/>
<path d="M480.7 169.1 481.8 168.8 483.3 168.7 484.8 169.1 485.8 169.7 486.8 170.6 487.8 172.1 488.4 173.6 488.7 175.6 488.7 177.6 488.4 179.1 487.7 181.1 486.8 182.6 485.8 183.7 484.3 184.8 483.3 185.3 481.8 185.6 480.3 185.4 479.3 185.1 478.3 184.4 477.5 183.6 476.3 181.6 475.8 180.1 475.6 178.6 475.8 175.7 476.8 172.9 478.5 170.6 479.3 169.9 480.7 169.1" stroke="#61409b"/></g>
<g fill="none" stroke-width="0.55"><path d="M463.3 196.1 466.8 195.8 470.8 196.4 474.3 197.7 477.3 199.5 479.8 201.8 481.9 204.6 483.6 208.1 484.5 211.6 484.7 215.6 484.1 219.1 483.0 222.1 481.0 225.6 478.7 228.1 475.8 230.3 472.8 231.8 469.3 232.7 465.8 233.0 462.3 232.5 458.8 231.4 455.8 229.6 453.3 227.5 450.9 224.6 449.1 221.1 448.2 217.6 447.9 213.6 448.4 210.1 449.6 206.6 451.3 203.6 453.5 201.1 456.3 198.8 459.8 197.0 463.3 196.1" stroke="#e2e2ef"/>
<path d="M464.3 197.6 467.3 197.5 470.8 198.1 473.8 199.3 476.8 201.2 479.1 203.6 481.1 206.6 482.3 209.6 482.9 212.6 482.9 216.1 482.3 219.1 481.2 222.1 479.3 225.0 476.8 227.6 474.3 229.3 471.3 230.6 468.3 231.2 464.8 231.3 461.8 230.7 458.8 229.5 456.3 227.9 453.8 225.6 452.0 223.1 450.6 220.1 449.8 216.6 449.6 213.6 450.2 210.1 451.3 207.1 453.1 204.1 455.3 201.7 457.8 199.8 460.8 198.4 464.3 197.6" stroke="#dfdfed"/>
<path d="M463.0 199.1 466.3 198.7 469.3 199.0 472.3 200.0 474.8 201.4 476.9 203.1 479.0 205.6 480.3 208.1 481.3 211.1 481.6 214.1 481.4 217.1 480.6 220.1 479.1 223.1 477.0 225.6 474.8 227.4 472.3 228.8 469.3 229.8 466.3 230.1 463.3 229.8 460.3 228.8 457.8 227.4 455.6 225.6 453.5 223.1 452.2 220.6 451.3 217.6 451.0 214.6 451.2 211.6 452.0 208.6 453.3 206.1 455.2 203.6 457.5 201.6 460.3 200.0 463.0 199.1" stroke="#d8d8ea"/>
<path d="M463.5 200.1 466.3 199.8 469.3 200.1 471.8 200.9 474.3 202.3 476.3 204.0 478.0 206.1 479.3 208.6 480.2 211.6 480.5 214.6 480.2 217.6 479.4 220.1 478.0 222.6 476.3 224.8 474.1 226.6 471.8 227.9 468.8 228.8 465.8 229.0 463.3 228.7 460.8 227.9 458.3 226.5 456.3 224.8 454.6 222.6 453.2 220.1 452.3 217.1 452.1 214.1 452.5 211.1 453.3 208.6 454.6 206.1 456.3 204.0 458.3 202.3 460.8 200.9 463.5 200.1" stroke="#cdcde4"/>
<path d="M463.4 201.1 465.8 200.8 468.3 200.9 470.8 201.6 473.3 202.8 475.5 204.6 477.1 206.6 478.4 209.1 479.2 211.6 479.5 214.1 479.2 217.1 478.5 219.6 477.2 222.1 475.6 224.1 473.3 226.0 471.3 227.0 468.8 227.8 466.3 228.0 463.8 227.8 461.3 227.0 458.8 225.6 456.8 223.8 455.3 221.9 454.1 219.6 453.4 217.1 453.1 214.6 453.3 212.1 454.0 209.6 455.2 207.1 456.8 205.0 458.8 203.2 460.8 202.0 463.4 201.1" stroke="#c0c1de"/>
<path d="M463.1 202.1 465.3 201.7 467.8 201.7 470.3 202.3 472.3 203.3 474.3 204.7 476.0 206.6 477.2 208.6 478.1 211.1 478.5 213.6 478.4 216.1 477.9 218.6 476.8 220.9 475.3 223.0 473.6 224.6 471.8 225.8 469.3 226.8 466.8 227.1 464.8 227.1 462.3 226.5 460.3 225.5 458.3 224.1 456.5 222.1 455.4 220.1 454.5 217.6 454.1 215.1 454.2 212.6 454.8 210.1 455.7 208.1 457.0 206.1 458.8 204.3 460.8 203.0 463.1 202.1" stroke="#b2b2d5"/>
<path d="M464.6 202.6 466.8 202.5 468.8 202.8 470.8 203.4 472.8 204.6 474.5 206.1 476.0 208.1 476.9 210.1 477.5 212.6 477.6 215.1 477.4 217.1 476.5 219.6 475.4 221.6 473.8 223.4 471.8 224.8 469.8 225.8 467.8 226.2 465.3 226.3 463.3 225.9 461.3 225.1 459.3 223.8 457.8 222.3 456.6 220.6 455.7 218.6 455.0 216.1 455.0 213.6 455.2 211.6 456.1 209.1 457.3 207.1 458.8 205.4 460.6 204.1 462.3 203.2 464.6 202.6" stroke="#a3a0cb"/>
<path d="M463.6 203.6 465.8 203.2 467.8 203.3 469.8 203.9 471.8 204.9 473.4 206.1 475.0 208.1 476.0 210.1 476.6 212.1 476.8 214.1 476.6 216.6 476.1 218.6 475.1 220.6 473.8 222.2 472.3 223.6 470.3 224.7 468.3 225.4 466.3 225.6 464.3 225.4 462.3 224.7 460.8 223.9 459.1 222.6 457.9 221.1 456.7 219.1 456.1 217.1 455.8 215.1 455.9 212.6 456.4 210.6 457.3 208.6 458.3 207.1 459.8 205.6 461.8 204.3 463.6 203.6" stroke="#9390c3"/>
<path d="M464.7 204.1 466.8 204.0 468.8 204.3 470.7 205.1 472.2 206.1 473.7 207.6 474.7 209.1 475.6 211.1 476.0 213.1 476.0 215.6 475.6 217.6 474.8 219.6 473.8 221.1 472.3 222.6 470.8 223.7 469.3 224.3 467.3 224.8 465.3 224.8 463.8 224.5 461.8 223.7 460.3 222.6 458.8 221.1 457.8 219.6 457.0 217.6 456.6 215.6 456.6 213.6 456.9 211.6 457.6 209.6 458.5 208.1 459.8 206.6 461.3 205.4 462.8 204.7 464.7 204.1" stroke="#827fbb"/>
<path d="M463.6 205.1 465.3 204.7 467.3 204.7 469.3 205.2 470.8 206.0 472.3 207.1 473.6 208.6 474.4 210.1 475.1 212.1 475.3 214.1 475.2 216.1 474.7 218.1 473.9 219.6 472.8 221.2 471.3 222.5 469.8 223.4 468.3 223.9 466.8 224.1 464.8 224.0 463.3 223.6 461.8 222.8 460.3 221.7 459.3 220.6 458.4 219.1 457.6 217.1 457.3 215.1 457.3 213.1 457.8 211.1 458.4 209.6 459.4 208.1 460.8 206.7 462.3 205.7 463.6 205.1" stroke="#7566ae"/>
<path d="M464.3 205.6 465.8 205.3 467.8 205.5 469.3 205.9 470.8 206.8 471.8 207.6 473.1 209.1 473.9 210.6 474.5 212.6 474.6 214.1 474.5 216.1 473.9 218.1 473.1 219.6 471.9 221.1 470.8 222.0 469.3 222.9 467.8 223.3 466.3 223.5 464.8 223.3 463.3 222.9 461.8 222.0 460.7 221.1 459.5 219.6 458.7 218.1 458.1 216.1 458.0 214.1 458.1 212.6 458.5 211.1 459.2 209.6 460.3 208.1 461.4 207.1 462.8 206.2 464.3 205.6" stroke="#674ba0"/>
<path d="M465.0 206.1 466.3 206.0 467.6 206.1 469.2 206.6 470.8 207.6 471.8 208.6 472.9 210.1 473.5 211.6 473.9 213.1 473.8 216.0 473.3 217.8 472.3 219.6 471.3 220.8 470.3 221.6 468.8 222.4 467.3 222.8 465.8 222.8 464.6 222.6 463.2 222.1 461.7 221.1 460.7 220.1 459.7 218.6 459.1 217.1 458.7 215.6 458.8 212.8 459.3 211.1 460.0 209.6 461.2 208.1 462.5 207.1 463.8 206.4 465.0 206.1" stroke="#582f93"/></g>
<g fill="none" stroke-width="0.7"><path d="M529.3 181.6 532.3 181.6 535.3 182.1 538.3 183.2 540.8 184.6 543.0 186.6 544.9 189.1 546.1 191.6 546.9 194.6 546.9 197.6 546.4 200.6 545.3 203.1 543.7 205.6 541.7 207.6 539.3 209.3 536.3 210.6 533.3 211.3 529.8 211.4 526.8 210.9 523.8 209.8 521.3 208.4 519.3 206.6 517.3 204.1 516.0 201.6 515.2 198.6 515.1 195.6 515.6 192.6 516.6 190.1 518.3 187.5 520.7 185.1 523.3 183.4 526.3 182.2 529.3 181.6" stroke="#e2e2ef"/>
<path d="M527.2 183.6 529.8 183.2 532.8 183.2 535.3 183.7 537.8 184.7 539.8 185.9 541.8 187.6 543.4 189.6 544.6 192.1 545.3 194.6 545.4 197.1 545.0 199.6 544.0 202.1 542.8 204.1 540.8 206.3 538.8 207.7 536.3 208.9 533.3 209.6 530.3 209.8 527.3 209.3 524.8 208.5 522.3 207.0 520.3 205.2 518.7 203.1 517.5 200.6 516.9 198.1 516.9 195.1 517.4 192.6 518.5 190.1 520.3 187.7 522.3 185.9 524.8 184.5 527.2 183.6" stroke="#dcdcec"/>
<path d="M527.9 185.1 530.3 184.7 532.8 184.8 535.3 185.4 537.3 186.2 539.3 187.5 541.0 189.1 542.4 191.1 543.3 193.1 543.7 195.1 543.7 197.6 543.3 199.6 542.5 201.6 541.3 203.4 539.7 205.1 537.8 206.4 535.3 207.5 532.8 208.1 530.3 208.1 527.8 207.7 525.3 206.8 523.3 205.6 521.6 204.1 520.1 202.1 519.1 200.1 518.5 197.6 518.6 195.1 519.2 192.6 520.2 190.6 521.7 188.6 523.5 187.1 525.8 185.8 527.9 185.1" stroke="#cecee5"/>
<path d="M528.6 186.6 530.8 186.3 532.8 186.4 534.8 186.9 536.8 187.7 538.3 188.7 539.8 190.1 540.9 191.6 541.8 193.6 542.2 195.6 542.1 197.6 541.6 199.6 540.9 201.1 539.8 202.7 538.3 204.1 536.8 205.1 534.8 205.9 532.8 206.4 530.3 206.5 528.3 206.1 526.3 205.5 524.3 204.3 522.8 202.9 521.4 201.1 520.6 199.1 520.2 197.1 520.3 195.1 520.8 193.1 521.8 191.1 523.1 189.6 524.8 188.2 526.8 187.2 528.6 186.6" stroke="#babadb"/>
<path d="M529.3 188.1 530.8 187.9 532.8 188.0 534.3 188.4 536.0 189.1 537.3 189.9 538.5 191.1 539.6 192.6 540.2 194.1 540.5 195.6 540.6 197.1 540.3 198.6 539.6 200.1 538.6 201.6 537.3 202.8 535.8 203.8 534.3 204.4 532.3 204.8 530.3 204.8 528.3 204.4 526.8 203.8 525.3 202.9 523.9 201.6 522.8 200.1 522.2 198.6 521.9 197.1 522.0 195.1 522.4 193.6 523.2 192.1 524.3 190.7 525.8 189.5 527.3 188.7 529.3 188.1" stroke="#a4a1cc"/>
<path d="M530.1 189.6 531.8 189.5 533.3 189.8 535.8 190.8 537.7 192.6 538.3 193.6 538.9 195.1 539.0 196.1 538.9 197.6 538.6 198.6 537.8 200.0 536.8 201.1 535.8 201.9 533.3 203.0 531.8 203.2 530.3 203.1 528.8 202.8 527.3 202.2 525.8 201.2 524.8 200.1 524.2 199.1 523.7 197.6 523.6 196.1 523.7 195.1 524.2 193.6 524.9 192.6 525.8 191.6 527.1 190.6 528.8 189.9 530.1 189.6" stroke="#8c88bf"/>
<path d="M528.8 191.6 530.8 191.1 533.3 191.4 535.3 192.4 536.5 193.6 537.2 195.1 537.3 197.1 536.8 198.6 535.3 200.3 534.3 200.9 532.8 201.4 530.3 201.5 528.9 201.1 527.9 200.6 526.2 199.1 525.7 198.1 525.4 197.1 525.5 195.1 525.9 194.1 526.6 193.1 527.8 192.1 528.8 191.6" stroke="#7669af"/>
<path d="M529.4 193.1 530.8 192.8 532.3 192.8 533.8 193.3 534.8 194.1 535.5 195.1 535.8 196.6 535.5 197.6 534.8 198.6 533.3 199.5 531.3 199.9 529.3 199.5 528.0 198.6 527.1 197.1 527.1 195.6 527.9 194.1 529.4 193.1" stroke="#61409b"/></g>
<g fill="none" stroke-width="0.7"><path d="M556.2 218.1 563.8 217.7 571.3 218.2 578.4 219.6 581.7 220.6 584.8 221.9 587.2 223.1 589.5 224.6 591.3 226.2 592.7 228.1 593.5 229.6 593.9 231.6 593.8 233.6 593.3 235.1 592.0 237.1 590.6 238.6 588.7 240.1 585.8 241.8 582.9 243.1 579.8 244.1 576.1 245.1 572.3 245.8 568.3 246.2 564.3 246.4 560.3 246.4 556.3 246.1 552.3 245.5 548.3 244.6 544.8 243.6 541.8 242.4 538.8 240.8 536.4 239.1 534.8 237.6 533.4 235.6 532.6 233.6 532.5 231.6 532.9 229.6 533.7 228.1 535.2 226.1 536.9 224.6 539.3 223.0 542.2 221.6 545.3 220.4 548.8 219.4 552.3 218.7 556.2 218.1" stroke="#e2e2ef"/>
<path d="M555.5 220.1 562.3 219.8 568.8 220.2 574.8 221.3 580.3 223.1 582.8 224.3 584.8 225.6 586.5 227.1 587.7 228.6 588.5 230.1 588.8 231.6 588.8 233.1 588.4 234.6 587.5 236.1 586.2 237.6 584.3 239.1 581.7 240.6 579.3 241.7 576.3 242.7 569.8 244.1 562.8 244.6 555.8 244.3 549.3 243.2 546.3 242.3 543.3 241.2 540.8 240.0 538.7 238.6 537.1 237.1 535.9 235.6 535.2 234.1 534.9 232.6 535.1 230.6 535.7 229.1 536.8 227.6 538.3 226.1 540.3 224.7 542.8 223.4 545.8 222.2 548.8 221.3 555.5 220.1" stroke="#dbdbec"/>
<path d="M554.9 222.1 560.8 221.8 566.3 222.1 571.8 223.1 576.4 224.6 580.1 226.6 581.3 227.6 582.7 229.1 583.3 230.2 583.7 231.6 583.7 233.1 583.4 234.1 582.6 235.6 581.8 236.6 579.9 238.1 578.3 239.1 576.1 240.1 573.3 241.1 567.8 242.3 561.8 242.8 555.8 242.6 549.8 241.6 544.8 240.0 542.8 239.1 540.8 237.9 539.3 236.6 538.1 235.1 537.6 234.1 537.3 232.6 537.4 231.1 538.1 229.6 539.2 228.1 540.3 227.1 542.3 225.8 544.3 224.8 549.3 223.1 554.9 222.1" stroke="#cccce4"/>
<path d="M554.3 224.1 559.3 223.8 564.1 224.1 568.8 224.9 573.3 226.3 576.3 227.7 578.4 229.6 579.1 230.6 579.4 231.6 579.4 232.6 579.2 233.6 578.6 234.6 577.8 235.6 576.3 236.8 574.8 237.7 570.8 239.3 565.8 240.5 560.8 241.0 555.3 240.8 550.3 240.1 546.3 238.9 542.8 237.1 541.6 236.1 540.7 235.1 540.1 234.1 539.8 233.1 539.8 231.6 540.1 230.6 541.2 229.1 542.3 228.1 545.3 226.4 549.3 225.0 554.3 224.1" stroke="#b7b7d9"/>
<path d="M553.6 226.1 557.3 225.9 561.3 226.0 568.8 227.0 572.3 227.7 574.8 228.7 576.6 230.1 577.4 231.6 577.3 233.1 576.3 234.7 575.3 235.5 573.8 236.3 570.3 237.3 563.8 238.7 560.3 239.1 556.3 239.2 552.3 238.8 548.8 238.0 545.4 236.6 543.3 235.1 542.3 233.6 542.1 232.6 542.3 231.6 542.8 230.6 543.7 229.6 546.1 228.1 549.3 226.9 553.6 226.1" stroke="#9f9cc9"/>
<path d="M553.0 228.1 557.8 227.9 564.3 228.5 569.3 228.6 571.8 228.9 573.3 229.3 574.8 230.1 575.7 231.1 576.0 231.6 576.0 232.6 575.6 233.6 574.5 234.6 573.3 235.2 571.3 235.8 565.8 236.3 558.3 237.4 554.8 237.4 551.3 236.9 548.3 236.1 546.2 235.1 545.3 234.3 544.8 233.6 544.6 233.1 544.6 232.1 545.2 231.1 545.7 230.6 547.3 229.6 549.8 228.7 553.0 228.1" stroke="#8582bc"/>
<path d="M569.0 230.1 571.8 230.0 573.6 230.6 574.6 231.6 574.7 232.6 574.5 233.1 573.3 234.1 571.3 234.6 569.3 234.6 565.8 233.8 565.2 232.6 565.2 231.6 565.5 231.1 569.0 230.1" stroke="#6f5ba8"/></g>
<g fill="none" stroke-width="0.7"><path d="M652.7 114.1 654.3 113.7 655.8 113.7 657.3 113.8 658.8 114.3 660.3 115.0 661.8 115.9 664.3 118.4 666.5 121.6 668.3 125.6 669.5 130.1 670.1 134.6 670.1 139.6 669.6 144.1 668.4 148.6 666.8 152.6 664.5 156.1 662.0 158.6 659.3 160.2 657.8 160.8 656.3 161.0 654.8 161.0 653.3 160.8 650.8 159.8 648.3 158.0 646.2 155.6 644.3 152.6 642.6 148.6 641.6 144.6 640.9 140.1 640.9 135.6 641.4 131.1 642.3 127.1 643.8 123.1 645.8 119.6 647.8 117.2 650.3 115.2 652.7 114.1" stroke="#fee2c6"/>
<path d="M653.3 116.1 654.8 115.8 656.3 115.8 658.8 116.5 661.3 117.9 663.5 120.1 665.5 123.1 667.0 126.6 668.1 130.6 668.6 134.6 668.7 139.1 668.2 143.1 667.2 147.1 665.7 150.6 663.8 153.7 661.5 156.1 658.8 157.7 656.3 158.3 653.8 158.2 651.3 157.2 649.3 155.8 647.3 153.6 645.4 150.6 644.0 147.1 643.0 143.6 642.5 139.6 642.4 135.6 642.8 131.6 643.8 127.6 645.1 124.1 646.8 121.2 648.8 118.8 650.8 117.2 653.3 116.1" stroke="#fdd9b5"/>
<path d="M654.1 118.1 656.3 118.0 658.8 118.7 660.8 119.9 662.9 122.1 664.7 125.1 665.9 128.1 666.8 131.6 667.2 135.6 667.1 139.6 666.6 143.1 665.6 146.6 664.2 149.6 662.3 152.3 660.3 154.1 658.3 155.2 655.8 155.7 653.3 155.3 651.3 154.4 649.3 152.7 647.8 150.8 646.3 148.2 645.1 145.1 644.3 141.6 644.0 138.1 644.0 134.6 644.5 131.1 645.3 128.1 646.5 125.1 647.9 122.6 649.8 120.4 651.8 119.0 654.1 118.1" stroke="#fdca99"/>
<path d="M655.0 120.1 656.8 120.2 658.8 120.9 660.8 122.4 662.3 124.1 663.7 126.6 664.8 129.6 665.5 132.6 665.8 136.1 665.6 139.6 665.0 142.6 664.1 145.6 662.9 148.1 661.3 150.2 659.8 151.6 657.8 152.6 655.8 153.0 653.8 152.7 651.8 151.8 650.3 150.5 648.7 148.6 647.4 146.1 646.5 143.6 645.8 140.6 645.5 137.1 645.6 134.1 646.1 131.1 646.9 128.1 648.1 125.6 649.4 123.6 651.3 121.7 653.3 120.5 655.0 120.1" stroke="#fdb170"/>
<path d="M653.6 122.6 655.3 122.2 657.3 122.5 658.8 123.2 660.5 124.6 661.8 126.4 662.9 128.6 663.7 131.1 664.2 134.1 664.3 137.1 664.0 140.1 663.4 142.6 662.4 145.1 661.3 146.9 659.8 148.6 658.3 149.7 656.3 150.3 654.8 150.3 653.3 149.8 651.8 148.8 650.3 147.3 649.2 145.6 648.3 143.5 647.6 141.1 647.2 138.6 647.1 136.1 647.2 133.6 647.7 131.1 648.5 128.6 649.4 126.6 650.8 124.7 652.3 123.3 653.6 122.6" stroke="#fd9547"/>
<path d="M654.2 124.6 655.8 124.3 657.3 124.6 658.8 125.5 659.8 126.5 660.8 127.9 661.6 129.6 662.3 131.6 662.7 134.1 662.8 136.6 662.5 139.1 662.1 141.1 661.3 143.2 660.3 144.9 659.3 146.1 657.8 147.2 656.3 147.6 654.8 147.6 653.8 147.2 652.3 146.2 651.3 145.1 650.3 143.5 649.5 141.6 649.0 139.6 648.7 137.6 648.6 135.1 648.8 133.1 649.3 131.1 650.0 129.1 650.8 127.6 651.8 126.3 652.8 125.4 654.2 124.6" stroke="#f5741f"/>
<path d="M654.8 126.6 656.3 126.5 657.3 126.8 658.3 127.5 659.3 128.6 660.2 130.1 660.7 131.6 661.3 135.1 661.3 137.1 660.9 139.1 659.8 142.1 658.8 143.5 657.8 144.3 656.8 144.8 655.8 145.0 654.8 144.9 653.8 144.4 652.8 143.6 652.0 142.6 650.8 140.0 650.2 136.6 650.4 133.1 651.3 130.1 652.8 127.9 653.8 127.1 654.8 126.6" stroke="#e05206"/>
<path d="M654.3 129.1 655.3 128.7 656.3 128.7 657.8 129.5 658.9 131.1 659.7 133.6 659.8 136.5 659.2 139.1 658.5 140.6 657.8 141.4 656.3 142.3 654.8 142.1 653.5 141.1 652.4 139.1 651.9 137.1 651.8 134.6 652.3 132.1 653.3 130.1 654.3 129.1" stroke="#b03903"/></g>
<g fill="none" stroke-width="0.7"><path d="M646.3 153.6 648.8 153.5 650.8 154.0 652.8 155.0 654.6 156.6 656.2 158.6 657.4 161.1 658.2 163.6 658.7 166.6 658.7 169.6 658.2 172.6 657.4 175.1 656.0 177.6 654.4 179.6 652.6 181.1 650.3 182.2 648.3 182.5 646.3 182.4 644.3 181.7 642.3 180.5 640.8 179.0 639.4 177.1 638.3 174.9 637.5 172.1 637.1 169.6 637.1 166.6 637.4 164.1 638.1 161.6 639.3 159.1 640.7 157.1 642.3 155.5 644.3 154.3 646.3 153.6" stroke="#fee7d0"/>
<path d="M647.0 156.6 648.8 156.7 650.3 157.2 651.8 158.1 653.3 159.6 654.3 161.1 655.2 163.1 655.7 165.1 656.0 167.6 655.9 170.1 655.5 172.1 654.7 174.1 653.8 175.7 652.7 177.1 651.3 178.3 649.8 179.0 647.8 179.4 646.3 179.3 644.5 178.6 643.1 177.6 641.8 176.2 640.8 174.6 639.9 172.6 639.4 170.6 639.2 168.6 639.3 166.1 639.7 164.1 640.4 162.1 641.3 160.5 642.3 159.1 643.8 157.8 645.3 157.0 647.0 156.6" stroke="#fee0c1"/>
<path d="M645.5 160.1 646.8 159.7 647.8 159.7 649.2 160.1 650.3 160.8 651.3 161.8 652.1 163.1 652.8 164.6 653.2 166.6 653.3 168.6 653.1 170.1 652.7 171.6 652.0 173.1 651.3 174.2 650.3 175.2 649.3 175.9 647.8 176.3 646.8 176.3 645.8 176.0 644.8 175.5 643.8 174.6 642.3 172.3 641.6 169.6 641.5 166.6 642.3 163.7 643.8 161.4 645.5 160.1" stroke="#fdd3a9"/>
<path d="M646.0 163.1 647.3 162.8 648.8 163.5 650.0 165.1 650.5 167.1 650.5 169.1 649.9 171.1 648.8 172.5 647.3 173.2 646.3 173.1 645.0 172.1 644.1 170.6 643.7 169.1 643.7 167.1 644.0 165.6 644.8 164.1 646.0 163.1" stroke="#fdbe84"/></g>
<g fill="none" stroke-width="0.7"><path d="M615.1 70.6 617.8 70.5 620.8 71.3 622.3 72.0 623.8 73.0 625.6 75.1 626.7 77.6 626.9 79.1 626.8 80.1 626.3 81.6 625.8 82.5 624.1 84.1 622.8 84.8 620.8 85.3 618.8 85.4 616.8 85.2 614.8 84.5 613.2 83.6 611.4 82.1 610.3 80.7 609.5 79.1 609.1 77.6 609.1 76.1 609.5 74.6 610.5 73.1 611.8 71.9 613.3 71.1 615.1 70.6" stroke="#feeddc"/>
<path d="M614.8 72.6 616.8 72.3 619.3 72.6 621.5 73.6 623.2 75.1 624.2 76.6 624.7 78.6 624.3 80.5 623.3 81.9 622.3 82.6 621.1 83.1 619.8 83.4 618.3 83.4 616.8 83.1 615.3 82.5 613.8 81.6 612.8 80.6 611.6 78.6 611.3 77.1 611.4 76.1 611.7 75.1 612.4 74.1 613.3 73.3 614.8 72.6" stroke="#fee7d0"/>
<path d="M616.8 74.1 618.3 74.2 619.8 74.7 620.8 75.3 621.8 76.4 622.4 77.6 622.5 78.6 622.2 79.6 621.3 80.6 619.8 81.3 617.8 81.3 615.8 80.5 614.2 79.1 613.6 77.6 613.6 76.6 613.8 75.9 614.4 75.1 615.1 74.6 616.8 74.1" stroke="#fdd9b4"/></g>
<g fill="none" stroke-width="0.7"><path d="M639.1 78.6 641.8 78.3 644.8 78.9 646.3 79.6 647.8 80.6 649.8 82.6 651.2 85.1 651.6 86.6 651.7 88.1 651.3 89.6 650.9 90.6 650.2 91.6 649.3 92.4 647.8 93.2 646.3 93.7 644.8 93.8 642.8 93.6 640.9 93.1 639.3 92.3 637.6 91.1 636.2 89.6 635.2 88.1 634.6 86.6 634.3 84.6 634.5 83.1 635.1 81.6 636.3 80.1 637.8 79.1 639.1 78.6" stroke="#feeddc"/>
<path d="M640.4 80.6 642.8 80.6 644.8 81.2 646.8 82.4 648.4 84.1 649.3 86.1 649.5 88.1 648.8 89.9 647.6 91.1 646.7 91.6 645.3 92.0 643.8 92.0 642.3 91.8 639.8 90.6 638.6 89.6 637.7 88.6 637.1 87.6 636.6 86.1 636.5 84.6 636.7 83.6 637.3 82.5 638.2 81.6 639.3 80.9 640.4 80.6" stroke="#fee7d0"/>
<path d="M640.1 83.1 641.3 82.7 642.8 82.7 644.3 83.2 645.8 84.2 646.8 85.4 647.3 86.6 647.3 88.1 646.7 89.1 646.2 89.6 645.3 90.1 643.8 90.3 641.8 89.8 640.3 88.8 639.0 87.1 638.6 85.6 639.1 84.1 640.1 83.1" stroke="#fdd9b4"/></g>
<g fill="none" stroke-width="0.55"><path d="M633.5 113.6 635.3 113.3 636.8 113.3 638.3 113.7 639.3 114.2 640.8 115.4 641.8 116.6 642.7 118.1 643.5 120.1 644.6 124.6 644.9 129.6 644.5 135.1 643.4 141.1 641.7 147.1 639.3 153.0 636.3 158.6 633.3 163.0 629.8 166.8 626.3 169.4 624.3 170.3 622.8 170.7 621.3 170.9 619.8 170.7 618.3 170.2 617.3 169.6 615.3 167.7 613.8 164.9 612.8 161.7 612.2 157.6 612.2 153.1 612.6 148.1 613.6 143.1 615.1 137.6 617.0 132.6 619.5 127.6 621.9 123.6 624.8 119.8 627.8 116.9 630.8 114.7 633.5 113.6" stroke="#e2e2e2"/>
<path d="M634.3 114.6 635.8 114.4 637.3 114.6 638.8 115.2 639.8 115.9 640.8 116.8 641.7 118.1 643.1 121.1 644.0 125.1 644.2 130.1 643.7 135.6 642.6 141.1 640.9 146.6 638.6 152.1 635.8 157.1 632.8 161.2 629.8 164.2 626.8 166.3 625.3 167.0 623.8 167.4 622.3 167.5 620.8 167.3 618.8 166.4 617.8 165.6 616.8 164.4 615.4 161.6 614.5 158.6 614.0 154.6 614.1 150.1 614.6 145.6 615.6 140.6 617.2 135.6 619.0 131.1 621.1 127.1 623.6 123.1 626.0 120.1 628.8 117.4 631.8 115.5 634.3 114.6" stroke="#dedede"/>
<path d="M635.1 115.6 636.3 115.6 637.8 115.9 639.8 117.1 640.8 118.2 641.7 119.6 642.8 122.6 643.5 126.6 643.5 131.1 643.0 136.1 641.8 141.1 640.2 146.1 637.9 151.1 635.3 155.6 632.8 158.8 630.3 161.3 627.3 163.3 625.8 164.0 624.3 164.3 622.8 164.3 621.8 164.1 619.8 163.0 618.3 161.4 616.9 158.6 616.1 155.6 615.7 151.6 615.9 147.6 616.5 143.1 617.5 138.6 619.0 134.1 620.7 130.1 622.9 126.1 625.2 122.6 627.8 119.7 630.3 117.6 632.8 116.2 635.1 115.6" stroke="#d6d6d6"/>
<path d="M633.4 117.1 635.8 116.6 637.3 116.8 638.3 117.2 639.3 117.9 640.3 118.9 641.8 121.6 642.7 125.1 643.0 129.1 642.7 133.6 641.9 138.1 640.4 143.1 638.6 147.6 636.3 151.9 633.8 155.4 631.3 158.1 628.3 160.2 625.8 161.1 624.3 161.3 623.3 161.1 621.3 160.2 619.8 158.6 618.7 156.6 618.0 154.1 617.5 151.1 617.4 147.6 617.7 144.1 618.4 140.1 619.5 136.1 621.0 132.1 622.6 128.6 624.7 125.1 626.8 122.2 628.8 120.1 631.3 118.1 633.4 117.1" stroke="#cccccc"/>
<path d="M633.6 118.1 634.8 117.8 636.3 117.7 638.3 118.4 639.8 119.6 641.2 122.1 642.0 125.1 642.4 128.6 642.2 132.6 641.4 137.1 640.1 141.6 638.3 146.1 636.3 149.7 633.8 153.2 631.3 155.8 628.8 157.4 626.3 158.2 624.3 158.1 622.8 157.4 621.3 155.9 620.3 154.1 619.5 151.6 619.1 148.6 619.1 145.6 619.4 142.1 620.1 138.6 621.1 135.1 622.4 131.6 623.8 128.6 625.5 125.6 627.7 122.6 629.7 120.6 631.8 119.0 633.6 118.1" stroke="#bfbfbf"/>
<path d="M633.8 119.1 635.8 118.7 637.8 119.2 639.3 120.3 640.7 122.6 641.4 125.1 641.8 128.6 641.6 132.1 641.0 136.1 639.8 140.2 638.3 143.9 636.3 147.7 634.3 150.5 632.3 152.6 629.8 154.4 627.8 155.2 625.8 155.2 624.3 154.7 622.8 153.3 621.9 151.6 621.2 149.6 620.8 147.1 620.7 144.1 621.0 141.1 621.5 138.1 622.4 134.6 623.5 131.6 624.9 128.6 626.3 126.1 628.1 123.6 630.0 121.6 631.8 120.1 633.8 119.1" stroke="#aeaeae"/>
<path d="M633.9 120.1 635.8 119.7 636.8 119.8 637.8 120.2 639.3 121.6 640.2 123.1 640.9 125.6 641.2 128.6 641.1 131.6 640.5 135.1 639.5 138.6 638.3 141.8 636.8 144.8 634.8 147.8 632.8 150.0 630.8 151.5 628.8 152.3 626.8 152.3 625.3 151.7 624.3 150.7 623.3 149.1 622.8 147.5 622.4 145.1 622.3 142.6 622.5 140.1 623.0 137.1 623.8 134.1 624.9 131.1 626.0 128.6 627.5 126.1 628.9 124.1 630.8 122.1 632.3 120.9 633.9 120.1" stroke="#999999"/>
<path d="M634.0 121.1 635.8 120.7 637.3 121.0 638.7 122.1 639.6 123.6 640.3 125.6 640.6 128.6 640.5 131.6 640.0 134.6 639.1 137.6 637.8 140.9 636.3 143.6 634.8 145.7 633.3 147.3 631.3 148.8 629.3 149.5 627.8 149.5 626.8 149.1 625.7 148.1 624.8 146.6 624.3 145.1 624.0 143.1 623.9 141.1 624.0 138.6 624.4 136.1 626.0 131.1 628.3 126.6 629.7 124.6 631.1 123.1 632.8 121.7 634.0 121.1" stroke="#858585"/>
<path d="M634.1 122.1 635.3 121.8 636.8 121.9 638.3 122.8 639.1 124.1 639.8 126.1 640.0 128.1 640.0 130.6 639.5 133.6 638.8 136.3 637.8 138.8 636.3 141.6 634.8 143.7 633.3 145.2 631.8 146.2 630.3 146.7 628.8 146.6 627.8 146.2 626.8 145.1 625.8 142.8 625.5 141.1 625.4 139.1 625.9 135.1 627.1 131.1 629.0 127.1 631.3 124.1 632.8 122.8 634.1 122.1" stroke="#707070"/>
<path d="M634.2 123.1 635.3 122.7 636.8 122.9 637.8 123.5 638.6 124.6 639.2 126.1 639.5 128.1 639.2 132.1 638.6 134.6 637.8 136.8 635.8 140.4 634.3 142.1 632.8 143.3 631.3 143.9 630.3 144.0 629.3 143.6 628.6 143.1 627.9 142.1 627.4 141.1 627.0 138.1 627.3 134.6 628.2 131.1 629.8 127.6 631.8 124.9 632.8 124.0 634.2 123.1" stroke="#5c5c5c"/>
<path d="M634.2 124.1 635.3 123.7 636.3 123.7 637.3 124.2 638.1 125.1 638.6 126.1 638.9 127.6 638.8 131.1 637.8 134.7 636.8 136.9 635.8 138.4 634.8 139.6 633.3 140.7 632.3 141.1 631.3 141.2 630.3 140.8 629.8 140.4 628.8 138.6 628.5 136.1 628.7 133.6 629.5 130.6 630.9 127.6 632.4 125.6 634.2 124.1" stroke="#414141"/>
<path d="M634.3 125.1 635.3 124.7 636.3 124.7 636.8 124.9 637.6 125.6 638.1 126.6 638.3 127.6 638.3 130.4 637.9 132.1 637.3 133.9 635.8 136.4 634.8 137.5 633.8 138.2 632.3 138.4 631.3 138.0 630.4 136.6 630.0 134.6 630.1 132.6 630.7 130.1 631.7 128.1 632.8 126.4 634.3 125.1" stroke="#232323"/></g>
</g>
<defs>
<linearGradient id="rd2d2d2f4f4f4ffffff" x1="0" y1="0" x2="1" y2="0"><stop offset="0" stop-color="#d2d2d2"/><stop offset="0.45" stop-color="#f4f4f4"/><stop offset="1" stop-color="#ffffff"/></linearGradient>
<linearGradient id="r4a4a4a6c6c6c989898" x1="0" y1="0" x2="1" y2="0"><stop offset="0" stop-color="#4a4a4a"/><stop offset="0.45" stop-color="#6c6c6c"/><stop offset="1" stop-color="#989898"/></linearGradient>
<linearGradient id="rb8b8b8eeeeeeffffff" x1="0" y1="0" x2="1" y2="0"><stop offset="0" stop-color="#b8b8b8"/><stop offset="0.45" stop-color="#eeeeee"/><stop offset="1" stop-color="#ffffff"/></linearGradient>
</defs>
<path d="M27.0 42.0 C27.7 42.3 30.3 43.7 31.0 44.0" fill="none" stroke="#9a9a9a" stroke-width="0.6" stroke-linecap="round"/>
<path d="M62.0 45.0 C62.7 44.5 64.5 42.8 66.0 42.0 C67.5 41.2 69.5 40.2 71.0 40.5 C72.5 40.8 74.7 42.8 75.0 44.0 C75.3 45.2 74.2 47.5 73.0 48.0 C71.8 48.5 69.2 47.7 68.0 47.0 C66.8 46.3 66.3 44.5 66.0 44.0" fill="none" stroke="#9a9a9a" stroke-width="0.6" stroke-linecap="round"/>
<path d="M70.0 48.0 C71.0 48.3 74.3 50.2 76.0 50.0 C77.7 49.8 78.7 47.2 80.0 47.0 C81.3 46.8 82.7 48.2 84.0 49.0 C85.3 49.8 87.3 51.5 88.0 52.0" fill="none" stroke="#9a9a9a" stroke-width="0.6" stroke-linecap="round"/>
<path d="M66.0 46.0 C65.8 47.5 65.0 52.7 65.0 55.0 C65.0 57.3 65.8 59.2 66.0 60.0" fill="none" stroke="#9a9a9a" stroke-width="0.5" stroke-linecap="round"/>
<g transform="translate(31.5,43.3) rotate(1.4)">
<path d="M2.7 -4.8 L2.9 -4.6 L3.1 -4.1 L3.4 -3.4 L3.6 -2.4 L3.8 -1.2 L4.0 -0.0 L4.2 1.2 L4.5 2.4 L4.7 3.4 L4.9 4.1 L5.1 4.6 L5.4 4.8 L8.6 4.8 L8.4 4.6 L8.1 4.1 L7.9 3.4 L7.7 2.4 L7.5 1.2 L7.2 -0.0 L7.0 -1.2 L6.8 -2.4 L6.6 -3.4 L6.3 -4.1 L6.1 -4.6 L5.9 -4.8Z" fill="#d2d2d2" stroke="#969696" stroke-width="0.4" stroke-linejoin="round"/>
<path d="M8.0 -4.8 L8.3 -4.6 L8.5 -4.1 L8.7 -3.4 L8.9 -2.4 L9.2 -1.2 L9.4 -0.0 L9.6 1.2 L9.8 2.4 L10.1 3.4 L10.3 4.1 L10.5 4.6 L10.7 4.8 L13.9 4.8 L13.7 4.6 L13.5 4.1 L13.3 3.4 L13.1 2.4 L12.8 1.2 L12.6 -0.0 L12.4 -1.2 L12.2 -2.4 L11.9 -3.4 L11.7 -4.1 L11.5 -4.6 L11.3 -4.8Z" fill="#d2d2d2" stroke="#969696" stroke-width="0.4" stroke-linejoin="round"/>
<path d="M13.4 -4.8 L13.6 -4.6 L13.9 -4.1 L14.1 -3.4 L14.3 -2.4 L14.5 -1.2 L14.8 -0.0 L15.0 1.2 L15.2 2.4 L15.4 3.4 L15.6 4.1 L15.9 4.6 L16.1 4.8 L19.3 4.8 L19.1 4.6 L18.9 4.1 L18.6 3.4 L18.4 2.4 L18.2 1.2 L18.0 -0.0 L17.7 -1.2 L17.5 -2.4 L17.3 -3.4 L17.1 -4.1 L16.9 -4.6 L16.6 -4.8Z" fill="#d2d2d2" stroke="#969696" stroke-width="0.4" stroke-linejoin="round"/>
<path d="M18.8 -4.8 L19.0 -4.6 L19.2 -4.1 L19.4 -3.4 L19.7 -2.4 L19.9 -1.2 L20.1 -0.0 L20.3 1.2 L20.6 2.4 L20.8 3.4 L21.0 4.1 L21.2 4.6 L21.5 4.8 L24.7 4.8 L24.5 4.6 L24.2 4.1 L24.0 3.4 L23.8 2.4 L23.6 1.2 L23.3 -0.0 L23.1 -1.2 L22.9 -2.4 L22.7 -3.4 L22.4 -4.1 L22.2 -4.6 L22.0 -4.8Z" fill="#d2d2d2" stroke="#969696" stroke-width="0.4" stroke-linejoin="round"/>
<path d="M24.1 -4.8 L24.4 -4.6 L24.6 -4.1 L24.8 -3.4 L25.0 -2.4 L25.3 -1.2 L25.5 -0.0 L25.7 1.2 L25.9 2.4 L26.2 3.4 L26.4 4.1 L26.6 4.6 L26.8 4.8 L30.0 4.8 L29.8 4.6 L29.6 4.1 L29.4 3.4 L29.2 2.4 L28.9 1.2 L28.7 -0.0 L28.5 -1.2 L28.3 -2.4 L28.0 -3.4 L27.8 -4.1 L27.6 -4.6 L27.4 -4.8Z" fill="#d2d2d2" stroke="#969696" stroke-width="0.4" stroke-linejoin="round"/>
<path d="M0.0 4.8 L0.2 4.6 L0.4 4.1 L0.7 3.4 L0.9 2.4 L1.1 1.2 L1.3 0.0 L1.6 -1.2 L1.8 -2.4 L2.0 -3.4 L2.2 -4.1 L2.5 -4.6 L2.7 -4.8 L5.9 -4.8 L5.7 -4.6 L5.5 -4.1 L5.2 -3.4 L5.0 -2.4 L4.8 -1.2 L4.6 0.0 L4.3 1.2 L4.1 2.4 L3.9 3.4 L3.7 4.1 L3.4 4.6 L3.2 4.8Z" fill="url(#rd2d2d2f4f4f4ffffff)" stroke="#969696" stroke-width="0.4" stroke-linejoin="round"/>
<path d="M5.4 4.8 L5.6 4.6 L5.8 4.1 L6.0 3.4 L6.3 2.4 L6.5 1.2 L6.7 0.0 L6.9 -1.2 L7.2 -2.4 L7.4 -3.4 L7.6 -4.1 L7.8 -4.6 L8.0 -4.8 L11.3 -4.8 L11.0 -4.6 L10.8 -4.1 L10.6 -3.4 L10.4 -2.4 L10.1 -1.2 L9.9 0.0 L9.7 1.2 L9.5 2.4 L9.3 3.4 L9.0 4.1 L8.8 4.6 L8.6 4.8Z" fill="url(#rd2d2d2f4f4f4ffffff)" stroke="#969696" stroke-width="0.4" stroke-linejoin="round"/>
<path d="M10.7 4.8 L11.0 4.6 L11.2 4.1 L11.4 3.4 L11.6 2.4 L11.8 1.2 L12.1 0.0 L12.3 -1.2 L12.5 -2.4 L12.7 -3.4 L13.0 -4.1 L13.2 -4.6 L13.4 -4.8 L16.6 -4.8 L16.4 -4.6 L16.2 -4.1 L16.0 -3.4 L15.7 -2.4 L15.5 -1.2 L15.3 0.0 L15.1 1.2 L14.8 2.4 L14.6 3.4 L14.4 4.1 L14.2 4.6 L13.9 4.8Z" fill="url(#rd2d2d2f4f4f4ffffff)" stroke="#969696" stroke-width="0.4" stroke-linejoin="round"/>
<path d="M16.1 4.8 L16.3 4.6 L16.5 4.1 L16.8 3.4 L17.0 2.4 L17.2 1.2 L17.4 0.0 L17.7 -1.2 L17.9 -2.4 L18.1 -3.4 L18.3 -4.1 L18.6 -4.6 L18.8 -4.8 L22.0 -4.8 L21.8 -4.6 L21.6 -4.1 L21.3 -3.4 L21.1 -2.4 L20.9 -1.2 L20.7 0.0 L20.4 1.2 L20.2 2.4 L20.0 3.4 L19.8 4.1 L19.5 4.6 L19.3 4.8Z" fill="url(#rd2d2d2f4f4f4ffffff)" stroke="#969696" stroke-width="0.4" stroke-linejoin="round"/>
<path d="M21.5 4.8 L21.7 4.6 L21.9 4.1 L22.1 3.4 L22.4 2.4 L22.6 1.2 L22.8 0.0 L23.0 -1.2 L23.2 -2.4 L23.5 -3.4 L23.7 -4.1 L23.9 -4.6 L24.1 -4.8 L27.4 -4.8 L27.1 -4.6 L26.9 -4.1 L26.7 -3.4 L26.5 -2.4 L26.2 -1.2 L26.0 0.0 L25.8 1.2 L25.6 2.4 L25.4 3.4 L25.1 4.1 L24.9 4.6 L24.7 4.8Z" fill="url(#rd2d2d2f4f4f4ffffff)" stroke="#969696" stroke-width="0.4" stroke-linejoin="round"/>
<path d="M26.8 4.8 L27.0 4.6 L27.3 4.1 L27.5 3.4 L27.7 2.4 L27.9 1.2 L28.2 0.0 L31.4 0.0 L31.2 1.2 L30.9 2.4 L30.7 3.4 L30.5 4.1 L30.3 4.6 L30.0 4.8Z" fill="url(#rd2d2d2f4f4f4ffffff)" stroke="#969696" stroke-width="0.4" stroke-linejoin="round"/>
</g>
<g transform="translate(30.5,57.0) rotate(9.4)">
<path d="M4.0 -7.0 L4.3 -6.8 L4.7 -6.1 L5.0 -4.9 L5.4 -3.5 L5.7 -1.8 L6.0 -0.0 L6.4 1.8 L6.7 3.5 L7.0 4.9 L7.4 6.1 L7.7 6.8 L8.0 7.0 L12.8 7.0 L12.5 6.8 L12.2 6.1 L11.8 4.9 L11.5 3.5 L11.2 1.8 L10.8 -0.0 L10.5 -1.8 L10.2 -3.5 L9.8 -4.9 L9.5 -6.1 L9.2 -6.8 L8.8 -7.0Z" fill="#d2d2d2" stroke="#969696" stroke-width="0.4" stroke-linejoin="round"/>
<path d="M12.0 -7.0 L12.4 -6.8 L12.7 -6.1 L13.0 -4.9 L13.4 -3.5 L13.7 -1.8 L14.1 -0.0 L14.4 1.8 L14.7 3.5 L15.1 4.9 L15.4 6.1 L15.7 6.8 L16.1 7.0 L20.9 7.0 L20.5 6.8 L20.2 6.1 L19.9 4.9 L19.5 3.5 L19.2 1.8 L18.9 -0.0 L18.5 -1.8 L18.2 -3.5 L17.9 -4.9 L17.5 -6.1 L17.2 -6.8 L16.9 -7.0Z" fill="#d2d2d2" stroke="#969696" stroke-width="0.4" stroke-linejoin="round"/>
<path d="M20.1 -7.0 L20.4 -6.8 L20.7 -6.1 L21.1 -4.9 L21.4 -3.5 L21.7 -1.8 L22.1 -0.0 L22.4 1.8 L22.8 3.5 L23.1 4.9 L23.4 6.1 L23.8 6.8 L24.1 7.0 L28.9 7.0 L28.6 6.8 L28.2 6.1 L27.9 4.9 L27.6 3.5 L27.2 1.8 L26.9 -0.0 L26.6 -1.8 L26.2 -3.5 L25.9 -4.9 L25.6 -6.1 L25.2 -6.8 L24.9 -7.0Z" fill="#d2d2d2" stroke="#969696" stroke-width="0.4" stroke-linejoin="round"/>
<path d="M28.1 -7.0 L28.4 -6.8 L28.8 -6.1 L29.1 -4.9 L29.4 -3.5 L29.8 -1.8 L30.1 -0.0 L30.4 1.8 L30.8 3.5 L31.1 4.9 L31.5 6.1 L31.8 6.8 L32.1 7.0 L36.9 7.0 L36.6 6.8 L36.3 6.1 L35.9 4.9 L35.6 3.5 L35.3 1.8 L34.9 -0.0 L34.6 -1.8 L34.3 -3.5 L33.9 -4.9 L33.6 -6.1 L33.3 -6.8 L32.9 -7.0Z" fill="#d2d2d2" stroke="#969696" stroke-width="0.4" stroke-linejoin="round"/>
<path d="M36.1 -7.0 L36.5 -6.8 L36.8 -6.1 L37.1 -4.9 L37.5 -3.5 L37.8 -1.8 L38.1 -0.0 L38.5 1.8 L38.8 3.5 L39.1 4.9 L39.5 6.1 L39.8 6.8 L40.2 7.0 L45.0 7.0 L44.6 6.8 L44.3 6.1 L44.0 4.9 L43.6 3.5 L43.3 1.8 L43.0 -0.0 L42.6 -1.8 L42.3 -3.5 L42.0 -4.9 L41.6 -6.1 L41.3 -6.8 L41.0 -7.0Z" fill="#d2d2d2" stroke="#969696" stroke-width="0.4" stroke-linejoin="round"/>
<path d="M44.2 -7.0 L44.5 -6.8 L44.8 -6.1 L45.2 -4.9 L45.5 -3.5 L45.8 -1.8 L46.2 -0.0 L46.5 1.8 L46.8 3.5 L47.2 4.9 L47.5 6.1 L47.8 6.8 L48.2 7.0 L53.0 7.0 L52.7 6.8 L52.3 6.1 L52.0 4.9 L51.7 3.5 L51.3 1.8 L51.0 -0.0 L50.7 -1.8 L50.3 -3.5 L50.0 -4.9 L49.7 -6.1 L49.3 -6.8 L49.0 -7.0Z" fill="#d2d2d2" stroke="#969696" stroke-width="0.4" stroke-linejoin="round"/>
<path d="M0.0 7.0 L0.3 6.8 L0.7 6.1 L1.0 4.9 L1.3 3.5 L1.7 1.8 L2.0 0.0 L2.3 -1.8 L2.7 -3.5 L3.0 -4.9 L3.3 -6.1 L3.7 -6.8 L4.0 -7.0 L8.8 -7.0 L8.5 -6.8 L8.2 -6.1 L7.8 -4.9 L7.5 -3.5 L7.2 -1.8 L6.8 0.0 L6.5 1.8 L6.2 3.5 L5.8 4.9 L5.5 6.1 L5.2 6.8 L4.8 7.0Z" fill="url(#rd2d2d2f4f4f4ffffff)" stroke="#969696" stroke-width="0.4" stroke-linejoin="round"/>
<path d="M8.0 7.0 L8.4 6.8 L8.7 6.1 L9.0 4.9 L9.4 3.5 L9.7 1.8 L10.0 0.0 L10.4 -1.8 L10.7 -3.5 L11.0 -4.9 L11.4 -6.1 L11.7 -6.8 L12.0 -7.0 L16.9 -7.0 L16.5 -6.8 L16.2 -6.1 L15.9 -4.9 L15.5 -3.5 L15.2 -1.8 L14.9 0.0 L14.5 1.8 L14.2 3.5 L13.9 4.9 L13.5 6.1 L13.2 6.8 L12.8 7.0Z" fill="url(#rd2d2d2f4f4f4ffffff)" stroke="#969696" stroke-width="0.4" stroke-linejoin="round"/>
<path d="M16.1 7.0 L16.4 6.8 L16.7 6.1 L17.1 4.9 L17.4 3.5 L17.7 1.8 L18.1 0.0 L18.4 -1.8 L18.7 -3.5 L19.1 -4.9 L19.4 -6.1 L19.7 -6.8 L20.1 -7.0 L24.9 -7.0 L24.6 -6.8 L24.2 -6.1 L23.9 -4.9 L23.6 -3.5 L23.2 -1.8 L22.9 0.0 L22.6 1.8 L22.2 3.5 L21.9 4.9 L21.5 6.1 L21.2 6.8 L20.9 7.0Z" fill="url(#rd2d2d2f4f4f4ffffff)" stroke="#969696" stroke-width="0.4" stroke-linejoin="round"/>
<path d="M24.1 7.0 L24.4 6.8 L24.8 6.1 L25.1 4.9 L25.4 3.5 L25.8 1.8 L26.1 0.0 L26.4 -1.8 L26.8 -3.5 L27.1 -4.9 L27.4 -6.1 L27.8 -6.8 L28.1 -7.0 L32.9 -7.0 L32.6 -6.8 L32.3 -6.1 L31.9 -4.9 L31.6 -3.5 L31.3 -1.8 L30.9 0.0 L30.6 1.8 L30.2 3.5 L29.9 4.9 L29.6 6.1 L29.2 6.8 L28.9 7.0Z" fill="url(#rd2d2d2f4f4f4ffffff)" stroke="#969696" stroke-width="0.4" stroke-linejoin="round"/>
<path d="M32.1 7.0 L32.5 6.8 L32.8 6.1 L33.1 4.9 L33.5 3.5 L33.8 1.8 L34.1 0.0 L34.5 -1.8 L34.8 -3.5 L35.1 -4.9 L35.5 -6.1 L35.8 -6.8 L36.1 -7.0 L41.0 -7.0 L40.6 -6.8 L40.3 -6.1 L40.0 -4.9 L39.6 -3.5 L39.3 -1.8 L38.9 0.0 L38.6 1.8 L38.3 3.5 L37.9 4.9 L37.6 6.1 L37.3 6.8 L36.9 7.0Z" fill="url(#rd2d2d2f4f4f4ffffff)" stroke="#969696" stroke-width="0.4" stroke-linejoin="round"/>
<path d="M40.2 7.0 L40.5 6.8 L40.8 6.1 L41.2 4.9 L41.5 3.5 L41.8 1.8 L42.2 0.0 L42.5 -1.8 L42.8 -3.5 L43.2 -4.9 L43.5 -6.1 L43.8 -6.8 L44.2 -7.0 L49.0 -7.0 L48.7 -6.8 L48.3 -6.1 L48.0 -4.9 L47.6 -3.5 L47.3 -1.8 L47.0 0.0 L46.6 1.8 L46.3 3.5 L46.0 4.9 L45.6 6.1 L45.3 6.8 L45.0 7.0Z" fill="url(#rd2d2d2f4f4f4ffffff)" stroke="#969696" stroke-width="0.4" stroke-linejoin="round"/>
<path d="M48.2 7.0 L48.5 6.8 L48.9 6.1 L49.2 4.9 L49.5 3.5 L49.9 1.8 L50.2 0.0 L55.0 0.0 L54.7 1.8 L54.3 3.5 L54.0 4.9 L53.7 6.1 L53.3 6.8 L53.0 7.0Z" fill="url(#rd2d2d2f4f4f4ffffff)" stroke="#969696" stroke-width="0.4" stroke-linejoin="round"/>
</g>
<path d="M86.0 29.0 C85.5 28.6 83.0 27.3 83.0 26.5 C83.0 25.7 84.5 24.6 86.0 24.0 C87.5 23.4 90.2 23.8 92.0 23.0 C93.8 22.2 96.2 19.7 97.0 19.0" fill="none" stroke="#2a2a2a" stroke-width="0.7" stroke-linecap="round"/>
<path d="M97.5 48.5 C97.9 49.2 100.1 51.4 100.0 53.0 C99.9 54.6 98.2 56.5 97.0 58.0 C95.8 59.5 93.7 61.3 93.0 62.0" fill="none" stroke="#2a2a2a" stroke-width="0.7" stroke-linecap="round"/>
<path d="M119.0 22.0 C118.5 21.6 117.2 19.8 116.0 19.5 C114.8 19.2 113.3 20.3 112.0 20.0 C110.7 19.7 108.7 17.9 108.0 17.5" fill="none" stroke="#2a2a2a" stroke-width="0.7" stroke-linecap="round"/>
<path d="M113.0 61.0 C113.7 61.3 115.8 63.5 117.0 63.0 C118.2 62.5 118.8 59.5 120.0 58.0 C121.2 56.5 123.3 54.7 124.0 54.0" fill="none" stroke="#2a2a2a" stroke-width="0.7" stroke-linecap="round"/>
<path d="M116.0 57.0 C117.0 57.3 120.0 59.0 122.0 59.0 C124.0 59.0 126.3 56.7 128.0 57.0 C129.7 57.3 131.8 59.8 132.0 61.0 C132.2 62.2 130.3 63.8 129.0 64.0 C127.7 64.2 124.8 62.3 124.0 62.0" fill="none" stroke="#2a2a2a" stroke-width="0.7" stroke-linecap="round"/>
<path d="M112.0 61.0 C111.7 61.8 111.3 64.5 110.0 66.0 C108.7 67.5 106.0 69.7 104.0 70.0 C102.0 70.3 99.0 68.3 98.0 68.0" fill="none" stroke="#2a2a2a" stroke-width="0.6" stroke-linecap="round"/>
<path d="M88.0 66.0 C87.3 66.7 85.3 69.2 84.0 70.0 C82.7 70.8 81.7 71.2 80.0 71.0 C78.3 70.8 75.0 69.3 74.0 69.0" fill="none" stroke="#2a2a2a" stroke-width="0.6" stroke-linecap="round"/>
<g transform="translate(84.0,27.5) rotate(55.7)">
<path d="M2.3 -4.2 L2.4 -4.1 L2.6 -3.7 L2.8 -3.0 L3.0 -2.1 L3.2 -1.1 L3.4 -0.0 L3.6 1.1 L3.8 2.1 L3.9 3.0 L4.1 3.7 L4.3 4.1 L4.5 4.2 L7.2 4.2 L7.0 4.1 L6.8 3.7 L6.7 3.0 L6.5 2.1 L6.3 1.1 L6.1 -0.0 L5.9 -1.1 L5.7 -2.1 L5.5 -3.0 L5.3 -3.7 L5.2 -4.1 L5.0 -4.2Z" fill="#4a4a4a" stroke="#2c2c2c" stroke-width="0.4" stroke-linejoin="round"/>
<path d="M6.8 -4.2 L7.0 -4.1 L7.1 -3.7 L7.3 -3.0 L7.5 -2.1 L7.7 -1.1 L7.9 -0.0 L8.1 1.1 L8.3 2.1 L8.5 3.0 L8.7 3.7 L8.8 4.1 L9.0 4.2 L11.7 4.2 L11.5 4.1 L11.4 3.7 L11.2 3.0 L11.0 2.1 L10.8 1.1 L10.6 -0.0 L10.4 -1.1 L10.2 -2.1 L10.0 -3.0 L9.9 -3.7 L9.7 -4.1 L9.5 -4.2Z" fill="#4a4a4a" stroke="#2c2c2c" stroke-width="0.4" stroke-linejoin="round"/>
<path d="M11.3 -4.2 L11.5 -4.1 L11.7 -3.7 L11.8 -3.0 L12.0 -2.1 L12.2 -1.1 L12.4 -0.0 L12.6 1.1 L12.8 2.1 L13.0 3.0 L13.2 3.7 L13.4 4.1 L13.5 4.2 L16.2 4.2 L16.1 4.1 L15.9 3.7 L15.7 3.0 L15.5 2.1 L15.3 1.1 L15.1 -0.0 L14.9 -1.1 L14.7 -2.1 L14.6 -3.0 L14.4 -3.7 L14.2 -4.1 L14.0 -4.2Z" fill="#4a4a4a" stroke="#2c2c2c" stroke-width="0.4" stroke-linejoin="round"/>
<path d="M15.8 -4.2 L16.0 -4.1 L16.2 -3.7 L16.4 -3.0 L16.5 -2.1 L16.7 -1.1 L16.9 -0.0 L17.1 1.1 L17.3 2.1 L17.5 3.0 L17.7 3.7 L17.9 4.1 L18.1 4.2 L20.8 4.2 L20.6 4.1 L20.4 3.7 L20.2 3.0 L20.0 2.1 L19.8 1.1 L19.6 -0.0 L19.4 -1.1 L19.3 -2.1 L19.1 -3.0 L18.9 -3.7 L18.7 -4.1 L18.5 -4.2Z" fill="#4a4a4a" stroke="#2c2c2c" stroke-width="0.4" stroke-linejoin="round"/>
<path d="M20.3 -4.2 L20.5 -4.1 L20.7 -3.7 L20.9 -3.0 L21.1 -2.1 L21.3 -1.1 L21.4 -0.0 L21.6 1.1 L21.8 2.1 L22.0 3.0 L22.2 3.7 L22.4 4.1 L22.6 4.2 L25.3 4.2 L25.1 4.1 L24.9 3.7 L24.7 3.0 L24.5 2.1 L24.3 1.1 L24.1 -0.0 L24.0 -1.1 L23.8 -2.1 L23.6 -3.0 L23.4 -3.7 L23.2 -4.1 L23.0 -4.2Z" fill="#4a4a4a" stroke="#2c2c2c" stroke-width="0.4" stroke-linejoin="round"/>
<path d="M0.0 4.2 L0.2 4.1 L0.4 3.7 L0.6 3.0 L0.8 2.1 L0.9 1.1 L1.1 0.0 L1.3 -1.1 L1.5 -2.1 L1.7 -3.0 L1.9 -3.7 L2.1 -4.1 L2.3 -4.2 L5.0 -4.2 L4.8 -4.1 L4.6 -3.7 L4.4 -3.0 L4.2 -2.1 L4.0 -1.1 L3.8 0.0 L3.6 1.1 L3.5 2.1 L3.3 3.0 L3.1 3.7 L2.9 4.1 L2.7 4.2Z" fill="url(#r4a4a4a6c6c6c989898)" stroke="#2c2c2c" stroke-width="0.4" stroke-linejoin="round"/>
<path d="M4.5 4.2 L4.7 4.1 L4.9 3.7 L5.1 3.0 L5.3 2.1 L5.5 1.1 L5.6 0.0 L5.8 -1.1 L6.0 -2.1 L6.2 -3.0 L6.4 -3.7 L6.6 -4.1 L6.8 -4.2 L9.5 -4.2 L9.3 -4.1 L9.1 -3.7 L8.9 -3.0 L8.7 -2.1 L8.5 -1.1 L8.4 0.0 L8.2 1.1 L8.0 2.1 L7.8 3.0 L7.6 3.7 L7.4 4.1 L7.2 4.2Z" fill="url(#r4a4a4a6c6c6c989898)" stroke="#2c2c2c" stroke-width="0.4" stroke-linejoin="round"/>
<path d="M9.0 4.2 L9.2 4.1 L9.4 3.7 L9.6 3.0 L9.8 2.1 L10.0 1.1 L10.2 0.0 L10.3 -1.1 L10.5 -2.1 L10.7 -3.0 L10.9 -3.7 L11.1 -4.1 L11.3 -4.2 L14.0 -4.2 L13.8 -4.1 L13.6 -3.7 L13.4 -3.0 L13.2 -2.1 L13.1 -1.1 L12.9 0.0 L12.7 1.1 L12.5 2.1 L12.3 3.0 L12.1 3.7 L11.9 4.1 L11.7 4.2Z" fill="url(#r4a4a4a6c6c6c989898)" stroke="#2c2c2c" stroke-width="0.4" stroke-linejoin="round"/>
<path d="M13.5 4.2 L13.7 4.1 L13.9 3.7 L14.1 3.0 L14.3 2.1 L14.5 1.1 L14.7 0.0 L14.9 -1.1 L15.0 -2.1 L15.2 -3.0 L15.4 -3.7 L15.6 -4.1 L15.8 -4.2 L18.5 -4.2 L18.3 -4.1 L18.1 -3.7 L17.9 -3.0 L17.8 -2.1 L17.6 -1.1 L17.4 0.0 L17.2 1.1 L17.0 2.1 L16.8 3.0 L16.6 3.7 L16.4 4.1 L16.2 4.2Z" fill="url(#r4a4a4a6c6c6c989898)" stroke="#2c2c2c" stroke-width="0.4" stroke-linejoin="round"/>
<path d="M18.1 4.2 L18.2 4.1 L18.4 3.7 L18.6 3.0 L18.8 2.1 L19.0 1.1 L19.2 0.0 L19.4 -1.1 L19.6 -2.1 L19.7 -3.0 L19.9 -3.7 L20.1 -4.1 L20.3 -4.2 L23.0 -4.2 L22.8 -4.1 L22.6 -3.7 L22.5 -3.0 L22.3 -2.1 L22.1 -1.1 L21.9 0.0 L21.7 1.1 L21.5 2.1 L21.3 3.0 L21.1 3.7 L21.0 4.1 L20.8 4.2Z" fill="url(#r4a4a4a6c6c6c989898)" stroke="#2c2c2c" stroke-width="0.4" stroke-linejoin="round"/>
<path d="M22.6 4.2 L22.8 4.1 L22.9 3.7 L23.1 3.0 L23.3 2.1 L23.5 1.1 L23.7 0.0 L26.4 0.0 L26.2 1.1 L26.0 2.1 L25.8 3.0 L25.7 3.7 L25.5 4.1 L25.3 4.2Z" fill="url(#r4a4a4a6c6c6c989898)" stroke="#2c2c2c" stroke-width="0.4" stroke-linejoin="round"/>
</g>
<g transform="translate(96.0,17.5) rotate(66.8)">
<path d="M2.5 -4.8 L2.7 -4.6 L2.9 -4.1 L3.1 -3.4 L3.3 -2.4 L3.5 -1.2 L3.7 -0.0 L3.9 1.2 L4.1 2.4 L4.3 3.4 L4.5 4.1 L4.7 4.6 L4.9 4.8 L7.9 4.8 L7.7 4.6 L7.5 4.1 L7.3 3.4 L7.1 2.4 L6.9 1.2 L6.7 -0.0 L6.4 -1.2 L6.2 -2.4 L6.0 -3.4 L5.8 -4.1 L5.6 -4.6 L5.4 -4.8Z" fill="#4a4a4a" stroke="#2c2c2c" stroke-width="0.4" stroke-linejoin="round"/>
<path d="M7.4 -4.8 L7.6 -4.6 L7.8 -4.1 L8.0 -3.4 L8.2 -2.4 L8.4 -1.2 L8.6 -0.0 L8.8 1.2 L9.0 2.4 L9.2 3.4 L9.4 4.1 L9.7 4.6 L9.9 4.8 L12.8 4.8 L12.6 4.6 L12.4 4.1 L12.2 3.4 L12.0 2.4 L11.8 1.2 L11.6 -0.0 L11.4 -1.2 L11.2 -2.4 L11.0 -3.4 L10.8 -4.1 L10.6 -4.6 L10.3 -4.8Z" fill="#4a4a4a" stroke="#2c2c2c" stroke-width="0.4" stroke-linejoin="round"/>
<path d="M12.3 -4.8 L12.5 -4.6 L12.7 -4.1 L12.9 -3.4 L13.1 -2.4 L13.3 -1.2 L13.6 -0.0 L13.8 1.2 L14.0 2.4 L14.2 3.4 L14.4 4.1 L14.6 4.6 L14.8 4.8 L17.7 4.8 L17.5 4.6 L17.3 4.1 L17.1 3.4 L16.9 2.4 L16.7 1.2 L16.5 -0.0 L16.3 -1.2 L16.1 -2.4 L15.9 -3.4 L15.7 -4.1 L15.5 -4.6 L15.3 -4.8Z" fill="#4a4a4a" stroke="#2c2c2c" stroke-width="0.4" stroke-linejoin="round"/>
<path d="M17.2 -4.8 L17.5 -4.6 L17.7 -4.1 L17.9 -3.4 L18.1 -2.4 L18.3 -1.2 L18.5 -0.0 L18.7 1.2 L18.9 2.4 L19.1 3.4 L19.3 4.1 L19.5 4.6 L19.7 4.8 L22.7 4.8 L22.5 4.6 L22.3 4.1 L22.1 3.4 L21.8 2.4 L21.6 1.2 L21.4 -0.0 L21.2 -1.2 L21.0 -2.4 L20.8 -3.4 L20.6 -4.1 L20.4 -4.6 L20.2 -4.8Z" fill="#4a4a4a" stroke="#2c2c2c" stroke-width="0.4" stroke-linejoin="round"/>
<path d="M22.2 -4.8 L22.4 -4.6 L22.6 -4.1 L22.8 -3.4 L23.0 -2.4 L23.2 -1.2 L23.4 -0.0 L23.6 1.2 L23.8 2.4 L24.0 3.4 L24.2 4.1 L24.4 4.6 L24.6 4.8 L27.6 4.8 L27.4 4.6 L27.2 4.1 L27.0 3.4 L26.8 2.4 L26.6 1.2 L26.4 -0.0 L26.2 -1.2 L26.0 -2.4 L25.7 -3.4 L25.5 -4.1 L25.3 -4.6 L25.1 -4.8Z" fill="#4a4a4a" stroke="#2c2c2c" stroke-width="0.4" stroke-linejoin="round"/>
<path d="M27.1 -4.8 L27.3 -4.6 L27.5 -4.1 L27.7 -3.4 L27.9 -2.4 L28.1 -1.2 L28.3 -0.0 L28.5 1.2 L28.7 2.4 L29.0 3.4 L29.2 4.1 L29.4 4.6 L29.6 4.8 L32.5 4.8 L32.3 4.6 L32.1 4.1 L31.9 3.4 L31.7 2.4 L31.5 1.2 L31.3 -0.0 L31.1 -1.2 L30.9 -2.4 L30.7 -3.4 L30.5 -4.1 L30.3 -4.6 L30.1 -4.8Z" fill="#4a4a4a" stroke="#2c2c2c" stroke-width="0.4" stroke-linejoin="round"/>
<path d="M32.0 -4.8 L32.2 -4.6 L32.4 -4.1 L32.6 -3.4 L32.9 -2.4 L33.1 -1.2 L33.3 -0.0 L33.5 1.2 L33.7 2.4 L33.9 3.4 L34.1 4.1 L34.3 4.6 L34.5 4.8 L37.5 4.8 L37.2 4.6 L37.0 4.1 L36.8 3.4 L36.6 2.4 L36.4 1.2 L36.2 -0.0 L36.0 -1.2 L35.8 -2.4 L35.6 -3.4 L35.4 -4.1 L35.2 -4.6 L35.0 -4.8Z" fill="#4a4a4a" stroke="#2c2c2c" stroke-width="0.4" stroke-linejoin="round"/>
<path d="M37.0 -4.8 L37.2 -4.6 L37.4 -4.1 L37.6 -3.4 L37.8 -2.4 L38.0 -1.2 L38.2 -0.0 L38.4 1.2 L38.6 2.4 L38.8 3.4 L39.0 4.1 L39.2 4.6 L39.4 4.8 L42.4 4.8 L42.2 4.6 L42.0 4.1 L41.8 3.4 L41.6 2.4 L41.4 1.2 L41.1 -0.0 L40.9 -1.2 L40.7 -2.4 L40.5 -3.4 L40.3 -4.1 L40.1 -4.6 L39.9 -4.8Z" fill="#4a4a4a" stroke="#2c2c2c" stroke-width="0.4" stroke-linejoin="round"/>
<path d="M0.0 4.8 L0.2 4.6 L0.4 4.1 L0.6 3.4 L0.8 2.4 L1.0 1.2 L1.2 0.0 L1.4 -1.2 L1.6 -2.4 L1.8 -3.4 L2.1 -4.1 L2.3 -4.6 L2.5 -4.8 L5.4 -4.8 L5.2 -4.6 L5.0 -4.1 L4.8 -3.4 L4.6 -2.4 L4.4 -1.2 L4.2 0.0 L4.0 1.2 L3.8 2.4 L3.6 3.4 L3.4 4.1 L3.2 4.6 L3.0 4.8Z" fill="url(#r4a4a4a6c6c6c989898)" stroke="#2c2c2c" stroke-width="0.4" stroke-linejoin="round"/>
<path d="M4.9 4.8 L5.1 4.6 L5.3 4.1 L5.5 3.4 L5.7 2.4 L6.0 1.2 L6.2 0.0 L6.4 -1.2 L6.6 -2.4 L6.8 -3.4 L7.0 -4.1 L7.2 -4.6 L7.4 -4.8 L10.3 -4.8 L10.1 -4.6 L9.9 -4.1 L9.7 -3.4 L9.5 -2.4 L9.3 -1.2 L9.1 0.0 L8.9 1.2 L8.7 2.4 L8.5 3.4 L8.3 4.1 L8.1 4.6 L7.9 4.8Z" fill="url(#r4a4a4a6c6c6c989898)" stroke="#2c2c2c" stroke-width="0.4" stroke-linejoin="round"/>
<path d="M9.9 4.8 L10.1 4.6 L10.3 4.1 L10.5 3.4 L10.7 2.4 L10.9 1.2 L11.1 0.0 L11.3 -1.2 L11.5 -2.4 L11.7 -3.4 L11.9 -4.1 L12.1 -4.6 L12.3 -4.8 L15.3 -4.8 L15.1 -4.6 L14.9 -4.1 L14.7 -3.4 L14.5 -2.4 L14.2 -1.2 L14.0 0.0 L13.8 1.2 L13.6 2.4 L13.4 3.4 L13.2 4.1 L13.0 4.6 L12.8 4.8Z" fill="url(#r4a4a4a6c6c6c989898)" stroke="#2c2c2c" stroke-width="0.4" stroke-linejoin="round"/>
<path d="M14.8 4.8 L15.0 4.6 L15.2 4.1 L15.4 3.4 L15.6 2.4 L15.8 1.2 L16.0 0.0 L16.2 -1.2 L16.4 -2.4 L16.6 -3.4 L16.8 -4.1 L17.0 -4.6 L17.2 -4.8 L20.2 -4.8 L20.0 -4.6 L19.8 -4.1 L19.6 -3.4 L19.4 -2.4 L19.2 -1.2 L19.0 0.0 L18.8 1.2 L18.6 2.4 L18.4 3.4 L18.2 4.1 L17.9 4.6 L17.7 4.8Z" fill="url(#r4a4a4a6c6c6c989898)" stroke="#2c2c2c" stroke-width="0.4" stroke-linejoin="round"/>
<path d="M19.7 4.8 L19.9 4.6 L20.1 4.1 L20.3 3.4 L20.5 2.4 L20.7 1.2 L20.9 0.0 L21.1 -1.2 L21.4 -2.4 L21.6 -3.4 L21.8 -4.1 L22.0 -4.6 L22.2 -4.8 L25.1 -4.8 L24.9 -4.6 L24.7 -4.1 L24.5 -3.4 L24.3 -2.4 L24.1 -1.2 L23.9 0.0 L23.7 1.2 L23.5 2.4 L23.3 3.4 L23.1 4.1 L22.9 4.6 L22.7 4.8Z" fill="url(#r4a4a4a6c6c6c989898)" stroke="#2c2c2c" stroke-width="0.4" stroke-linejoin="round"/>
<path d="M24.6 4.8 L24.8 4.6 L25.0 4.1 L25.3 3.4 L25.5 2.4 L25.7 1.2 L25.9 0.0 L26.1 -1.2 L26.3 -2.4 L26.5 -3.4 L26.7 -4.1 L26.9 -4.6 L27.1 -4.8 L30.1 -4.8 L29.9 -4.6 L29.6 -4.1 L29.4 -3.4 L29.2 -2.4 L29.0 -1.2 L28.8 0.0 L28.6 1.2 L28.4 2.4 L28.2 3.4 L28.0 4.1 L27.8 4.6 L27.6 4.8Z" fill="url(#r4a4a4a6c6c6c989898)" stroke="#2c2c2c" stroke-width="0.4" stroke-linejoin="round"/>
<path d="M29.6 4.8 L29.8 4.6 L30.0 4.1 L30.2 3.4 L30.4 2.4 L30.6 1.2 L30.8 0.0 L31.0 -1.2 L31.2 -2.4 L31.4 -3.4 L31.6 -4.1 L31.8 -4.6 L32.0 -4.8 L35.0 -4.8 L34.8 -4.6 L34.6 -4.1 L34.4 -3.4 L34.2 -2.4 L34.0 -1.2 L33.8 0.0 L33.6 1.2 L33.3 2.4 L33.1 3.4 L32.9 4.1 L32.7 4.6 L32.5 4.8Z" fill="url(#r4a4a4a6c6c6c989898)" stroke="#2c2c2c" stroke-width="0.4" stroke-linejoin="round"/>
<path d="M34.5 4.8 L34.7 4.6 L34.9 4.1 L35.1 3.4 L35.3 2.4 L35.5 1.2 L35.7 0.0 L35.9 -1.2 L36.1 -2.4 L36.3 -3.4 L36.5 -4.1 L36.8 -4.6 L37.0 -4.8 L39.9 -4.8 L39.7 -4.6 L39.5 -4.1 L39.3 -3.4 L39.1 -2.4 L38.9 -1.2 L38.7 0.0 L38.5 1.2 L38.3 2.4 L38.1 3.4 L37.9 4.1 L37.7 4.6 L37.5 4.8Z" fill="url(#r4a4a4a6c6c6c989898)" stroke="#2c2c2c" stroke-width="0.4" stroke-linejoin="round"/>
<path d="M39.4 4.8 L39.6 4.6 L39.8 4.1 L40.0 3.4 L40.2 2.4 L40.4 1.2 L40.7 0.0 L43.6 0.0 L43.4 1.2 L43.2 2.4 L43.0 3.4 L42.8 4.1 L42.6 4.6 L42.4 4.8Z" fill="url(#r4a4a4a6c6c6c989898)" stroke="#2c2c2c" stroke-width="0.4" stroke-linejoin="round"/>
</g>
<g transform="translate(118.5,23.0) rotate(78.7)">
<path d="M2.4 -3.8 L2.5 -3.6 L2.7 -3.2 L2.9 -2.7 L3.1 -1.9 L3.3 -1.0 L3.5 -0.0 L3.7 1.0 L3.9 1.9 L4.1 2.7 L4.3 3.2 L4.5 3.6 L4.7 3.8 L7.5 3.8 L7.3 3.6 L7.1 3.2 L6.9 2.7 L6.7 1.9 L6.6 1.0 L6.4 -0.0 L6.2 -1.0 L6.0 -1.9 L5.8 -2.7 L5.6 -3.2 L5.4 -3.6 L5.2 -3.8Z" fill="#4a4a4a" stroke="#2c2c2c" stroke-width="0.4" stroke-linejoin="round"/>
<path d="M7.1 -3.8 L7.3 -3.6 L7.5 -3.2 L7.6 -2.7 L7.8 -1.9 L8.0 -1.0 L8.2 -0.0 L8.4 1.0 L8.6 1.9 L8.8 2.7 L9.0 3.2 L9.2 3.6 L9.4 3.8 L12.2 3.8 L12.0 3.6 L11.8 3.2 L11.6 2.7 L11.5 1.9 L11.3 1.0 L11.1 -0.0 L10.9 -1.0 L10.7 -1.9 L10.5 -2.7 L10.3 -3.2 L10.1 -3.6 L9.9 -3.8Z" fill="#4a4a4a" stroke="#2c2c2c" stroke-width="0.4" stroke-linejoin="round"/>
<path d="M11.8 -3.8 L12.0 -3.6 L12.2 -3.2 L12.4 -2.7 L12.6 -1.9 L12.7 -1.0 L12.9 -0.0 L13.1 1.0 L13.3 1.9 L13.5 2.7 L13.7 3.2 L13.9 3.6 L14.1 3.8 L16.9 3.8 L16.7 3.6 L16.6 3.2 L16.4 2.7 L16.2 1.9 L16.0 1.0 L15.8 -0.0 L15.6 -1.0 L15.4 -1.9 L15.2 -2.7 L15.0 -3.2 L14.8 -3.6 L14.6 -3.8Z" fill="#4a4a4a" stroke="#2c2c2c" stroke-width="0.4" stroke-linejoin="round"/>
<path d="M16.5 -3.8 L16.7 -3.6 L16.9 -3.2 L17.1 -2.7 L17.3 -1.9 L17.5 -1.0 L17.7 -0.0 L17.8 1.0 L18.0 1.9 L18.2 2.7 L18.4 3.2 L18.6 3.6 L18.8 3.8 L21.7 3.8 L21.5 3.6 L21.3 3.2 L21.1 2.7 L20.9 1.9 L20.7 1.0 L20.5 -0.0 L20.3 -1.0 L20.1 -1.9 L19.9 -2.7 L19.7 -3.2 L19.5 -3.6 L19.3 -3.8Z" fill="#4a4a4a" stroke="#2c2c2c" stroke-width="0.4" stroke-linejoin="round"/>
<path d="M21.2 -3.8 L21.4 -3.6 L21.6 -3.2 L21.8 -2.7 L22.0 -1.9 L22.2 -1.0 L22.4 -0.0 L22.6 1.0 L22.7 1.9 L22.9 2.7 L23.1 3.2 L23.3 3.6 L23.5 3.8 L26.4 3.8 L26.2 3.6 L26.0 3.2 L25.8 2.7 L25.6 1.9 L25.4 1.0 L25.2 -0.0 L25.0 -1.0 L24.8 -1.9 L24.6 -2.7 L24.4 -3.2 L24.2 -3.6 L24.0 -3.8Z" fill="#4a4a4a" stroke="#2c2c2c" stroke-width="0.4" stroke-linejoin="round"/>
<path d="M25.9 -3.8 L26.1 -3.6 L26.3 -3.2 L26.5 -2.7 L26.7 -1.9 L26.9 -1.0 L27.1 -0.0 L27.3 1.0 L27.5 1.9 L27.7 2.7 L27.8 3.2 L28.0 3.6 L28.2 3.8 L31.1 3.8 L30.9 3.6 L30.7 3.2 L30.5 2.7 L30.3 1.9 L30.1 1.0 L29.9 -0.0 L29.7 -1.0 L29.5 -1.9 L29.3 -2.7 L29.1 -3.2 L28.9 -3.6 L28.7 -3.8Z" fill="#4a4a4a" stroke="#2c2c2c" stroke-width="0.4" stroke-linejoin="round"/>
<path d="M0.0 3.8 L0.2 3.6 L0.4 3.2 L0.6 2.7 L0.8 1.9 L1.0 1.0 L1.2 0.0 L1.4 -1.0 L1.6 -1.9 L1.8 -2.7 L2.0 -3.2 L2.2 -3.6 L2.4 -3.8 L5.2 -3.8 L5.0 -3.6 L4.8 -3.2 L4.6 -2.7 L4.4 -1.9 L4.2 -1.0 L4.0 0.0 L3.8 1.0 L3.6 1.9 L3.4 2.7 L3.2 3.2 L3.0 3.6 L2.8 3.8Z" fill="url(#r4a4a4a6c6c6c989898)" stroke="#2c2c2c" stroke-width="0.4" stroke-linejoin="round"/>
<path d="M4.7 3.8 L4.9 3.6 L5.1 3.2 L5.3 2.7 L5.5 1.9 L5.7 1.0 L5.9 0.0 L6.1 -1.0 L6.3 -1.9 L6.5 -2.7 L6.7 -3.2 L6.9 -3.6 L7.1 -3.8 L9.9 -3.8 L9.7 -3.6 L9.5 -3.2 L9.3 -2.7 L9.1 -1.9 L8.9 -1.0 L8.7 0.0 L8.5 1.0 L8.3 1.9 L8.1 2.7 L7.9 3.2 L7.7 3.6 L7.5 3.8Z" fill="url(#r4a4a4a6c6c6c989898)" stroke="#2c2c2c" stroke-width="0.4" stroke-linejoin="round"/>
<path d="M9.4 3.8 L9.6 3.6 L9.8 3.2 L10.0 2.7 L10.2 1.9 L10.4 1.0 L10.6 0.0 L10.8 -1.0 L11.0 -1.9 L11.2 -2.7 L11.4 -3.2 L11.6 -3.6 L11.8 -3.8 L14.6 -3.8 L14.4 -3.6 L14.2 -3.2 L14.0 -2.7 L13.8 -1.9 L13.6 -1.0 L13.4 0.0 L13.2 1.0 L13.0 1.9 L12.8 2.7 L12.6 3.2 L12.4 3.6 L12.2 3.8Z" fill="url(#r4a4a4a6c6c6c989898)" stroke="#2c2c2c" stroke-width="0.4" stroke-linejoin="round"/>
<path d="M14.1 3.8 L14.3 3.6 L14.5 3.2 L14.7 2.7 L14.9 1.9 L15.1 1.0 L15.3 0.0 L15.5 -1.0 L15.7 -1.9 L15.9 -2.7 L16.1 -3.2 L16.3 -3.6 L16.5 -3.8 L19.3 -3.8 L19.1 -3.6 L18.9 -3.2 L18.7 -2.7 L18.5 -1.9 L18.3 -1.0 L18.1 0.0 L17.9 1.0 L17.7 1.9 L17.5 2.7 L17.3 3.2 L17.1 3.6 L16.9 3.8Z" fill="url(#r4a4a4a6c6c6c989898)" stroke="#2c2c2c" stroke-width="0.4" stroke-linejoin="round"/>
<path d="M18.8 3.8 L19.0 3.6 L19.2 3.2 L19.4 2.7 L19.6 1.9 L19.8 1.0 L20.0 0.0 L20.2 -1.0 L20.4 -1.9 L20.6 -2.7 L20.8 -3.2 L21.0 -3.6 L21.2 -3.8 L24.0 -3.8 L23.8 -3.6 L23.6 -3.2 L23.4 -2.7 L23.2 -1.9 L23.0 -1.0 L22.8 0.0 L22.6 1.0 L22.4 1.9 L22.2 2.7 L22.0 3.2 L21.8 3.6 L21.7 3.8Z" fill="url(#r4a4a4a6c6c6c989898)" stroke="#2c2c2c" stroke-width="0.4" stroke-linejoin="round"/>
<path d="M23.5 3.8 L23.7 3.6 L23.9 3.2 L24.1 2.7 L24.3 1.9 L24.5 1.0 L24.7 0.0 L24.9 -1.0 L25.1 -1.9 L25.3 -2.7 L25.5 -3.2 L25.7 -3.6 L25.9 -3.8 L28.7 -3.8 L28.5 -3.6 L28.3 -3.2 L28.1 -2.7 L27.9 -1.9 L27.7 -1.0 L27.5 0.0 L27.3 1.0 L27.1 1.9 L26.9 2.7 L26.8 3.2 L26.6 3.6 L26.4 3.8Z" fill="url(#r4a4a4a6c6c6c989898)" stroke="#2c2c2c" stroke-width="0.4" stroke-linejoin="round"/>
<path d="M28.2 3.8 L28.4 3.6 L28.6 3.2 L28.8 2.7 L29.0 1.9 L29.2 1.0 L29.4 0.0 L32.2 0.0 L32.0 1.0 L31.8 1.9 L31.7 2.7 L31.5 3.2 L31.3 3.6 L31.1 3.8Z" fill="url(#r4a4a4a6c6c6c989898)" stroke="#2c2c2c" stroke-width="0.4" stroke-linejoin="round"/>
</g>
<ellipse cx="92.4" cy="63.5" rx="4.2" ry="3.6" fill="#333"/>
<path transform="translate(57.6,30.6) rotate(-20.6)" d="M0 -1.3 L14.5 -1.3 L14.5 -3.2 L19.5 0 L14.5 3.2 L14.5 1.3 L0 1.3 Z" fill="#fff" stroke="#444" stroke-width="0.7" stroke-linejoin="round"/>
<path d="M74.0 82.0 C75.0 81.7 78.0 79.8 80.0 80.0 C82.0 80.2 84.0 83.0 86.0 83.0 C88.0 83.0 90.0 80.2 92.0 80.0 C94.0 79.8 96.0 82.0 98.0 82.0 C100.0 82.0 102.0 79.8 104.0 80.0 C106.0 80.2 108.0 82.7 110.0 83.0 C112.0 83.3 114.3 81.5 116.0 82.0 C117.7 82.5 119.3 85.3 120.0 86.0" fill="none" stroke="#9c9c9c" stroke-width="1.7" stroke-linecap="round"/>
<path d="M74.0 82.0 C75.0 81.7 78.0 79.8 80.0 80.0 C82.0 80.2 84.0 83.0 86.0 83.0 C88.0 83.0 90.0 80.2 92.0 80.0 C94.0 79.8 96.0 82.0 98.0 82.0 C100.0 82.0 102.0 79.8 104.0 80.0 C106.0 80.2 108.0 82.7 110.0 83.0 C112.0 83.3 114.3 81.5 116.0 82.0 C117.7 82.5 119.3 85.3 120.0 86.0" fill="none" stroke="#ffffff" stroke-width="0.7" stroke-linecap="round"/>
<path d="M72.0 90.0 C72.7 89.2 74.2 85.7 76.0 85.0 C77.8 84.3 81.0 85.2 83.0 86.0 C85.0 86.8 86.2 89.7 88.0 90.0 C89.8 90.3 92.2 87.8 94.0 88.0 C95.8 88.2 98.2 90.5 99.0 91.0" fill="none" stroke="#9c9c9c" stroke-width="1.7" stroke-linecap="round"/>
<path d="M72.0 90.0 C72.7 89.2 74.2 85.7 76.0 85.0 C77.8 84.3 81.0 85.2 83.0 86.0 C85.0 86.8 86.2 89.7 88.0 90.0 C89.8 90.3 92.2 87.8 94.0 88.0 C95.8 88.2 98.2 90.5 99.0 91.0" fill="none" stroke="#ffffff" stroke-width="0.7" stroke-linecap="round"/>
<path d="M99.0 91.0 C99.8 91.7 102.2 94.7 104.0 95.0 C105.8 95.3 108.0 92.7 110.0 93.0 C112.0 93.3 114.0 96.7 116.0 97.0 C118.0 97.3 120.0 94.7 122.0 95.0 C124.0 95.3 126.5 97.7 128.0 99.0 C129.5 100.3 131.3 101.8 131.0 103.0 C130.7 104.2 127.8 105.7 126.0 106.0 C124.2 106.3 121.0 105.2 120.0 105.0" fill="none" stroke="#9c9c9c" stroke-width="1.7" stroke-linecap="round"/>
<path d="M99.0 91.0 C99.8 91.7 102.2 94.7 104.0 95.0 C105.8 95.3 108.0 92.7 110.0 93.0 C112.0 93.3 114.0 96.7 116.0 97.0 C118.0 97.3 120.0 94.7 122.0 95.0 C124.0 95.3 126.5 97.7 128.0 99.0 C129.5 100.3 131.3 101.8 131.0 103.0 C130.7 104.2 127.8 105.7 126.0 106.0 C124.2 106.3 121.0 105.2 120.0 105.0" fill="none" stroke="#ffffff" stroke-width="0.7" stroke-linecap="round"/>
<path d="M95.0 99.0 C95.7 99.8 97.3 103.5 99.0 104.0 C100.7 104.5 103.3 101.5 105.0 102.0 C106.7 102.5 109.2 105.2 109.0 107.0 C108.8 108.8 105.8 112.5 104.0 113.0 C102.2 113.5 99.7 109.8 98.0 110.0 C96.3 110.2 93.8 112.3 94.0 114.0 C94.2 115.7 96.8 119.3 99.0 120.0 C101.2 120.7 104.7 117.8 107.0 118.0 C109.3 118.2 111.3 121.3 113.0 121.0 C114.7 120.7 117.2 117.8 117.0 116.0 C116.8 114.2 112.8 111.0 112.0 110.0" fill="none" stroke="#9c9c9c" stroke-width="1.7" stroke-linecap="round"/>
<path d="M95.0 99.0 C95.7 99.8 97.3 103.5 99.0 104.0 C100.7 104.5 103.3 101.5 105.0 102.0 C106.7 102.5 109.2 105.2 109.0 107.0 C108.8 108.8 105.8 112.5 104.0 113.0 C102.2 113.5 99.7 109.8 98.0 110.0 C96.3 110.2 93.8 112.3 94.0 114.0 C94.2 115.7 96.8 119.3 99.0 120.0 C101.2 120.7 104.7 117.8 107.0 118.0 C109.3 118.2 111.3 121.3 113.0 121.0 C114.7 120.7 117.2 117.8 117.0 116.0 C116.8 114.2 112.8 111.0 112.0 110.0" fill="none" stroke="#ffffff" stroke-width="0.7" stroke-linecap="round"/>
<path d="M84.0 104.0 C84.7 105.0 87.7 108.0 88.0 110.0 C88.3 112.0 85.7 114.0 86.0 116.0 C86.3 118.0 88.3 120.3 90.0 122.0 C91.7 123.7 94.3 124.7 96.0 126.0 C97.7 127.3 99.3 129.3 100.0 130.0" fill="none" stroke="#9c9c9c" stroke-width="1.7" stroke-linecap="round"/>
<path d="M84.0 104.0 C84.7 105.0 87.7 108.0 88.0 110.0 C88.3 112.0 85.7 114.0 86.0 116.0 C86.3 118.0 88.3 120.3 90.0 122.0 C91.7 123.7 94.3 124.7 96.0 126.0 C97.7 127.3 99.3 129.3 100.0 130.0" fill="none" stroke="#ffffff" stroke-width="0.7" stroke-linecap="round"/>
<path d="M110.0 96.0 C111.0 95.3 114.2 93.0 116.0 92.0 C117.8 91.0 119.5 89.7 121.0 90.0 C122.5 90.3 124.3 93.3 125.0 94.0" fill="none" stroke="#999" stroke-width="0.8" stroke-linecap="round"/>
<path transform="translate(116.0,111.0) rotate(-78.4)" d="M0.0 -1.5 L13.8 -1.5 L13.8 -2.7 L17.4 0.0 L13.8 2.7 L13.8 1.5 L0.0 1.5Z" fill="#d6d6d6" stroke="#909090" stroke-width="0.4" stroke-linejoin="round"/>
<path transform="translate(121.5,110.0) rotate(-80.0)" d="M0.0 -1.5 L13.7 -1.5 L13.7 -2.7 L17.3 0.0 L13.7 2.7 L13.7 1.5 L0.0 1.5Z" fill="#cccccc" stroke="#909090" stroke-width="0.4" stroke-linejoin="round"/>
<path d="M88.0 85.0 C89.0 85.7 92.0 87.8 94.0 89.0 C96.0 90.2 99.0 91.5 100.0 92.0" fill="none" stroke="#8c8c8c" stroke-width="1.0" stroke-linecap="round"/>
<g transform="translate(71.0,97.0) rotate(63.4)">
<path d="M3.1 -5.2 L3.4 -5.1 L3.7 -4.5 L3.9 -3.7 L4.2 -2.6 L4.4 -1.4 L4.7 -0.0 L5.0 1.4 L5.2 2.6 L5.5 3.7 L5.7 4.5 L6.0 5.1 L6.3 5.2 L10.3 5.2 L10.1 5.1 L9.8 4.5 L9.5 3.7 L9.3 2.6 L9.0 1.4 L8.8 -0.0 L8.5 -1.4 L8.2 -2.6 L8.0 -3.7 L7.7 -4.5 L7.5 -5.1 L7.2 -5.2Z" fill="#b8b8b8" stroke="#8a8a8a" stroke-width="0.4" stroke-linejoin="round"/>
<path d="M9.4 -5.2 L9.7 -5.1 L9.9 -4.5 L10.2 -3.7 L10.4 -2.6 L10.7 -1.4 L11.0 -0.0 L11.2 1.4 L11.5 2.6 L11.7 3.7 L12.0 4.5 L12.3 5.1 L12.5 5.2 L16.6 5.2 L16.3 5.1 L16.1 4.5 L15.8 3.7 L15.5 2.6 L15.3 1.4 L15.0 -0.0 L14.8 -1.4 L14.5 -2.6 L14.2 -3.7 L14.0 -4.5 L13.7 -5.1 L13.5 -5.2Z" fill="#b8b8b8" stroke="#8a8a8a" stroke-width="0.4" stroke-linejoin="round"/>
<path d="M0.0 5.2 L0.3 5.1 L0.5 4.5 L0.8 3.7 L1.0 2.6 L1.3 1.4 L1.6 0.0 L1.8 -1.4 L2.1 -2.6 L2.3 -3.7 L2.6 -4.5 L2.9 -5.1 L3.1 -5.2 L7.2 -5.2 L6.9 -5.1 L6.7 -4.5 L6.4 -3.7 L6.2 -2.6 L5.9 -1.4 L5.6 0.0 L5.4 1.4 L5.1 2.6 L4.9 3.7 L4.6 4.5 L4.3 5.1 L4.1 5.2Z" fill="url(#rb8b8b8eeeeeeffffff)" stroke="#8a8a8a" stroke-width="0.4" stroke-linejoin="round"/>
<path d="M6.3 5.2 L6.5 5.1 L6.8 4.5 L7.0 3.7 L7.3 2.6 L7.6 1.4 L7.8 0.0 L8.1 -1.4 L8.3 -2.6 L8.6 -3.7 L8.9 -4.5 L9.1 -5.1 L9.4 -5.2 L13.5 -5.2 L13.2 -5.1 L12.9 -4.5 L12.7 -3.7 L12.4 -2.6 L12.2 -1.4 L11.9 0.0 L11.6 1.4 L11.4 2.6 L11.1 3.7 L10.9 4.5 L10.6 5.1 L10.3 5.2Z" fill="url(#rb8b8b8eeeeeeffffff)" stroke="#8a8a8a" stroke-width="0.4" stroke-linejoin="round"/>
<path d="M12.5 5.2 L12.8 5.1 L13.0 4.5 L13.3 3.7 L13.6 2.6 L13.8 1.4 L14.1 0.0 L18.2 0.0 L17.9 1.4 L17.6 2.6 L17.4 3.7 L17.1 4.5 L16.9 5.1 L16.6 5.2Z" fill="url(#rb8b8b8eeeeeeffffff)" stroke="#8a8a8a" stroke-width="0.4" stroke-linejoin="round"/>
</g>
<g transform="translate(71.5,116.0) rotate(49.6)">
<path d="M2.6 -4.8 L2.8 -4.6 L3.1 -4.1 L3.3 -3.4 L3.5 -2.4 L3.7 -1.2 L3.9 -0.0 L4.2 1.2 L4.4 2.4 L4.6 3.4 L4.8 4.1 L5.0 4.6 L5.2 4.8 L8.7 4.8 L8.4 4.6 L8.2 4.1 L8.0 3.4 L7.8 2.4 L7.6 1.2 L7.3 -0.0 L7.1 -1.2 L6.9 -2.4 L6.7 -3.4 L6.5 -4.1 L6.3 -4.6 L6.0 -4.8Z" fill="#b8b8b8" stroke="#8a8a8a" stroke-width="0.4" stroke-linejoin="round"/>
<path d="M7.9 -4.8 L8.1 -4.6 L8.3 -4.1 L8.5 -3.4 L8.7 -2.4 L9.0 -1.2 L9.2 -0.0 L9.4 1.2 L9.6 2.4 L9.8 3.4 L10.1 4.1 L10.3 4.6 L10.5 4.8 L13.9 4.8 L13.7 4.6 L13.5 4.1 L13.3 3.4 L13.0 2.4 L12.8 1.2 L12.6 -0.0 L12.4 -1.2 L12.2 -2.4 L11.9 -3.4 L11.7 -4.1 L11.5 -4.6 L11.3 -4.8Z" fill="#b8b8b8" stroke="#8a8a8a" stroke-width="0.4" stroke-linejoin="round"/>
<path d="M0.0 4.8 L0.2 4.6 L0.4 4.1 L0.7 3.4 L0.9 2.4 L1.1 1.2 L1.3 0.0 L1.5 -1.2 L1.7 -2.4 L2.0 -3.4 L2.2 -4.1 L2.4 -4.6 L2.6 -4.8 L6.0 -4.8 L5.8 -4.6 L5.6 -4.1 L5.4 -3.4 L5.2 -2.4 L4.9 -1.2 L4.7 0.0 L4.5 1.2 L4.3 2.4 L4.1 3.4 L3.8 4.1 L3.6 4.6 L3.4 4.8Z" fill="url(#rb8b8b8eeeeeeffffff)" stroke="#8a8a8a" stroke-width="0.4" stroke-linejoin="round"/>
<path d="M5.2 4.8 L5.5 4.6 L5.7 4.1 L5.9 3.4 L6.1 2.4 L6.3 1.2 L6.6 0.0 L6.8 -1.2 L7.0 -2.4 L7.2 -3.4 L7.4 -4.1 L7.7 -4.6 L7.9 -4.8 L11.3 -4.8 L11.1 -4.6 L10.8 -4.1 L10.6 -3.4 L10.4 -2.4 L10.2 -1.2 L10.0 0.0 L9.8 1.2 L9.5 2.4 L9.3 3.4 L9.1 4.1 L8.9 4.6 L8.7 4.8Z" fill="url(#rb8b8b8eeeeeeffffff)" stroke="#8a8a8a" stroke-width="0.4" stroke-linejoin="round"/>
<path d="M10.5 4.8 L10.7 4.6 L10.9 4.1 L11.2 3.4 L11.4 2.4 L11.6 1.2 L11.8 0.0 L15.2 0.0 L15.0 1.2 L14.8 2.4 L14.6 3.4 L14.3 4.1 L14.1 4.6 L13.9 4.8Z" fill="url(#rb8b8b8eeeeeeffffff)" stroke="#8a8a8a" stroke-width="0.4" stroke-linejoin="round"/>
</g>
<g transform="translate(84.0,125.5) rotate(46.5)">
<path d="M2.6 -4.5 L2.8 -4.3 L3.1 -3.9 L3.3 -3.2 L3.5 -2.3 L3.7 -1.2 L3.9 -0.0 L4.1 1.2 L4.4 2.2 L4.6 3.2 L4.8 3.9 L5.0 4.3 L5.2 4.5 L8.6 4.5 L8.4 4.3 L8.2 3.9 L8.0 3.2 L7.8 2.2 L7.5 1.2 L7.3 -0.0 L7.1 -1.2 L6.9 -2.3 L6.7 -3.2 L6.5 -3.9 L6.2 -4.3 L6.0 -4.5Z" fill="#b8b8b8" stroke="#8a8a8a" stroke-width="0.4" stroke-linejoin="round"/>
<path d="M7.9 -4.5 L8.1 -4.3 L8.3 -3.9 L8.5 -3.2 L8.7 -2.3 L8.9 -1.2 L9.2 -0.0 L9.4 1.2 L9.6 2.2 L9.8 3.2 L10.0 3.9 L10.3 4.3 L10.5 4.5 L13.9 4.5 L13.7 4.3 L13.4 3.9 L13.2 3.2 L13.0 2.2 L12.8 1.2 L12.6 -0.0 L12.3 -1.2 L12.1 -2.3 L11.9 -3.2 L11.7 -3.9 L11.5 -4.3 L11.3 -4.5Z" fill="#b8b8b8" stroke="#8a8a8a" stroke-width="0.4" stroke-linejoin="round"/>
<path d="M0.0 4.5 L0.2 4.3 L0.4 3.9 L0.7 3.2 L0.9 2.3 L1.1 1.2 L1.3 0.0 L1.5 -1.2 L1.7 -2.2 L2.0 -3.2 L2.2 -3.9 L2.4 -4.3 L2.6 -4.5 L6.0 -4.5 L5.8 -4.3 L5.6 -3.9 L5.4 -3.2 L5.1 -2.2 L4.9 -1.2 L4.7 0.0 L4.5 1.2 L4.3 2.3 L4.1 3.2 L3.8 3.9 L3.6 4.3 L3.4 4.5Z" fill="url(#rb8b8b8eeeeeeffffff)" stroke="#8a8a8a" stroke-width="0.4" stroke-linejoin="round"/>
<path d="M5.2 4.5 L5.5 4.3 L5.7 3.9 L5.9 3.2 L6.1 2.3 L6.3 1.2 L6.5 0.0 L6.8 -1.2 L7.0 -2.2 L7.2 -3.2 L7.4 -3.9 L7.6 -4.3 L7.9 -4.5 L11.3 -4.5 L11.0 -4.3 L10.8 -3.9 L10.6 -3.2 L10.4 -2.2 L10.2 -1.2 L9.9 0.0 L9.7 1.2 L9.5 2.3 L9.3 3.2 L9.1 3.9 L8.9 4.3 L8.6 4.5Z" fill="url(#rb8b8b8eeeeeeffffff)" stroke="#8a8a8a" stroke-width="0.4" stroke-linejoin="round"/>
<path d="M10.5 4.5 L10.7 4.3 L10.9 3.9 L11.1 3.2 L11.3 2.3 L11.6 1.2 L11.8 0.0 L15.2 0.0 L15.0 1.2 L14.7 2.3 L14.5 3.2 L14.3 3.9 L14.1 4.3 L13.9 4.5Z" fill="url(#rb8b8b8eeeeeeffffff)" stroke="#8a8a8a" stroke-width="0.4" stroke-linejoin="round"/>
</g>
<path d="M78.0 104.0 C78.8 104.7 82.5 106.3 83.0 108.0 C83.5 109.7 82.0 112.8 81.0 114.0 C80.0 115.2 77.7 114.8 77.0 115.0" fill="none" stroke="#9c9c9c" stroke-width="1.7" stroke-linecap="round"/>
<path d="M78.0 104.0 C78.8 104.7 82.5 106.3 83.0 108.0 C83.5 109.7 82.0 112.8 81.0 114.0 C80.0 115.2 77.7 114.8 77.0 115.0" fill="none" stroke="#ffffff" stroke-width="0.7" stroke-linecap="round"/>
<path d="M91.0 133.0 C91.8 132.5 94.8 131.5 96.0 130.0 C97.2 128.5 98.3 125.7 98.0 124.0 C97.7 122.3 94.7 120.7 94.0 120.0" fill="none" stroke="#9c9c9c" stroke-width="1.7" stroke-linecap="round"/>
<path d="M91.0 133.0 C91.8 132.5 94.8 131.5 96.0 130.0 C97.2 128.5 98.3 125.7 98.0 124.0 C97.7 122.3 94.7 120.7 94.0 120.0" fill="none" stroke="#ffffff" stroke-width="0.7" stroke-linecap="round"/>
<path d="M75.0 108.0 C74.7 108.7 73.3 111.3 73.0 112.0" fill="none" stroke="#9c9c9c" stroke-width="1.7" stroke-linecap="round"/>
<path d="M75.0 108.0 C74.7 108.7 73.3 111.3 73.0 112.0" fill="none" stroke="#ffffff" stroke-width="0.7" stroke-linecap="round"/>
<defs>
<linearGradient id="rd2d2d2f4f4f4ffffff" x1="0" y1="0" x2="1" y2="0"><stop offset="0" stop-color="#d2d2d2"/><stop offset="0.45" stop-color="#f4f4f4"/><stop offset="1" stop-color="#ffffff"/></linearGradient>
<linearGradient id="r4a4a4a6c6c6c989898" x1="0" y1="0" x2="1" y2="0"><stop offset="0" stop-color="#4a4a4a"/><stop offset="0.45" stop-color="#6c6c6c"/><stop offset="1" stop-color="#989898"/></linearGradient>
<linearGradient id="rb8b8b8eeeeeeffffff" x1="0" y1="0" x2="1" y2="0"><stop offset="0" stop-color="#b8b8b8"/><stop offset="0.45" stop-color="#eeeeee"/><stop offset="1" stop-color="#ffffff"/></linearGradient>
<linearGradient id="rcacacaf4f4f4ffffff" x1="0" y1="0" x2="1" y2="0"><stop offset="0" stop-color="#cacaca"/><stop offset="0.45" stop-color="#f4f4f4"/><stop offset="1" stop-color="#ffffff"/></linearGradient>
<linearGradient id="rc8c8c8f2f2f2ffffff" x1="0" y1="0" x2="1" y2="0"><stop offset="0" stop-color="#c8c8c8"/><stop offset="0.45" stop-color="#f2f2f2"/><stop offset="1" stop-color="#ffffff"/></linearGradient>
</defs>
<path d="M233.0 36.0 C232.3 35.2 230.5 32.5 229.0 31.5 C227.5 30.5 225.5 29.8 224.0 30.0 C222.5 30.2 221.1 31.3 220.0 32.5 C218.9 33.7 218.0 35.5 217.5 37.0 C217.0 38.5 216.7 40.2 217.0 41.5 C217.3 42.8 219.1 44.4 219.5 45.0" fill="none" stroke="#2a2a2a" stroke-width="3.2" stroke-linecap="round"/>
<path d="M233.0 36.0 C232.3 35.2 230.5 32.5 229.0 31.5 C227.5 30.5 225.5 29.8 224.0 30.0 C222.5 30.2 221.1 31.3 220.0 32.5 C218.9 33.7 218.0 35.5 217.5 37.0 C217.0 38.5 216.7 40.2 217.0 41.5 C217.3 42.8 219.1 44.4 219.5 45.0" fill="none" stroke="#f4f4f4" stroke-width="1.6" stroke-linecap="round"/>
<path d="M252.0 52.0 C253.0 51.7 256.3 50.8 258.0 50.0 C259.7 49.2 261.3 48.0 262.0 47.0 C262.7 46.0 261.3 45.1 262.0 44.0 C262.7 42.9 264.5 40.8 266.0 40.5 C267.5 40.2 269.9 41.2 271.0 42.5 C272.1 43.8 273.0 46.3 272.5 48.0 C272.0 49.7 269.8 51.8 268.0 52.5 C266.2 53.2 263.0 52.1 262.0 52.0" fill="none" stroke="#444" stroke-width="2.6" stroke-linecap="round"/>
<path d="M252.0 52.0 C253.0 51.7 256.3 50.8 258.0 50.0 C259.7 49.2 261.3 48.0 262.0 47.0 C262.7 46.0 261.3 45.1 262.0 44.0 C262.7 42.9 264.5 40.8 266.0 40.5 C267.5 40.2 269.9 41.2 271.0 42.5 C272.1 43.8 273.0 46.3 272.5 48.0 C272.0 49.7 269.8 51.8 268.0 52.5 C266.2 53.2 263.0 52.1 262.0 52.0" fill="none" stroke="#f4f4f4" stroke-width="1.2" stroke-linecap="round"/>
<g transform="translate(232.2,35.0) rotate(43.4)">
<path d="M2.8 -5.0 L3.1 -4.8 L3.3 -4.3 L3.6 -3.5 L3.8 -2.5 L4.0 -1.3 L4.3 -0.0 L4.5 1.3 L4.7 2.5 L5.0 3.5 L5.2 4.3 L5.5 4.8 L5.7 5.0 L9.1 5.0 L8.9 4.8 L8.6 4.3 L8.4 3.5 L8.2 2.5 L7.9 1.3 L7.7 -0.0 L7.4 -1.3 L7.2 -2.5 L7.0 -3.5 L6.7 -4.3 L6.5 -4.8 L6.3 -5.0Z" fill="#4a4a4a" stroke="#2c2c2c" stroke-width="0.4" stroke-linejoin="round"/>
<path d="M8.5 -5.0 L8.8 -4.8 L9.0 -4.3 L9.2 -3.5 L9.5 -2.5 L9.7 -1.3 L10.0 -0.0 L10.2 1.3 L10.4 2.5 L10.7 3.5 L10.9 4.3 L11.1 4.8 L11.4 5.0 L14.8 5.0 L14.6 4.8 L14.3 4.3 L14.1 3.5 L13.8 2.5 L13.6 1.3 L13.4 -0.0 L13.1 -1.3 L12.9 -2.5 L12.7 -3.5 L12.4 -4.3 L12.2 -4.8 L11.9 -5.0Z" fill="#4a4a4a" stroke="#2c2c2c" stroke-width="0.4" stroke-linejoin="round"/>
<path d="M14.2 -5.0 L14.5 -4.8 L14.7 -4.3 L14.9 -3.5 L15.2 -2.5 L15.4 -1.3 L15.6 -0.0 L15.9 1.3 L16.1 2.5 L16.4 3.5 L16.6 4.3 L16.8 4.8 L17.1 5.0 L20.5 5.0 L20.2 4.8 L20.0 4.3 L19.8 3.5 L19.5 2.5 L19.3 1.3 L19.1 -0.0 L18.8 -1.3 L18.6 -2.5 L18.4 -3.5 L18.1 -4.3 L17.9 -4.8 L17.6 -5.0Z" fill="#4a4a4a" stroke="#2c2c2c" stroke-width="0.4" stroke-linejoin="round"/>
<path d="M19.9 -5.0 L20.2 -4.8 L20.4 -4.3 L20.6 -3.5 L20.9 -2.5 L21.1 -1.3 L21.3 -0.0 L21.6 1.3 L21.8 2.5 L22.1 3.5 L22.3 4.3 L22.5 4.8 L22.8 5.0 L26.2 5.0 L25.9 4.8 L25.7 4.3 L25.5 3.5 L25.2 2.5 L25.0 1.3 L24.8 -0.0 L24.5 -1.3 L24.3 -2.5 L24.0 -3.5 L23.8 -4.3 L23.6 -4.8 L23.3 -5.0Z" fill="#4a4a4a" stroke="#2c2c2c" stroke-width="0.4" stroke-linejoin="round"/>
<path d="M0.0 5.0 L0.2 4.8 L0.5 4.3 L0.7 3.5 L0.9 2.5 L1.2 1.3 L1.4 0.0 L1.7 -1.3 L1.9 -2.5 L2.1 -3.5 L2.4 -4.3 L2.6 -4.8 L2.8 -5.0 L6.3 -5.0 L6.0 -4.8 L5.8 -4.3 L5.5 -3.5 L5.3 -2.5 L5.1 -1.3 L4.8 0.0 L4.6 1.3 L4.4 2.5 L4.1 3.5 L3.9 4.3 L3.7 4.8 L3.4 5.0Z" fill="url(#r4a4a4a6c6c6c989898)" stroke="#2c2c2c" stroke-width="0.4" stroke-linejoin="round"/>
<path d="M5.7 5.0 L5.9 4.8 L6.2 4.3 L6.4 3.5 L6.6 2.5 L6.9 1.3 L7.1 0.0 L7.4 -1.3 L7.6 -2.5 L7.8 -3.5 L8.1 -4.3 L8.3 -4.8 L8.5 -5.0 L11.9 -5.0 L11.7 -4.8 L11.5 -4.3 L11.2 -3.5 L11.0 -2.5 L10.8 -1.3 L10.5 0.0 L10.3 1.3 L10.1 2.5 L9.8 3.5 L9.6 4.3 L9.3 4.8 L9.1 5.0Z" fill="url(#r4a4a4a6c6c6c989898)" stroke="#2c2c2c" stroke-width="0.4" stroke-linejoin="round"/>
<path d="M11.4 5.0 L11.6 4.8 L11.9 4.3 L12.1 3.5 L12.3 2.5 L12.6 1.3 L12.8 0.0 L13.0 -1.3 L13.3 -2.5 L13.5 -3.5 L13.8 -4.3 L14.0 -4.8 L14.2 -5.0 L17.6 -5.0 L17.4 -4.8 L17.2 -4.3 L16.9 -3.5 L16.7 -2.5 L16.5 -1.3 L16.2 0.0 L16.0 1.3 L15.7 2.5 L15.5 3.5 L15.3 4.3 L15.0 4.8 L14.8 5.0Z" fill="url(#r4a4a4a6c6c6c989898)" stroke="#2c2c2c" stroke-width="0.4" stroke-linejoin="round"/>
<path d="M17.1 5.0 L17.3 4.8 L17.5 4.3 L17.8 3.5 L18.0 2.5 L18.3 1.3 L18.5 0.0 L18.7 -1.3 L19.0 -2.5 L19.2 -3.5 L19.4 -4.3 L19.7 -4.8 L19.9 -5.0 L23.3 -5.0 L23.1 -4.8 L22.9 -4.3 L22.6 -3.5 L22.4 -2.5 L22.1 -1.3 L21.9 0.0 L21.7 1.3 L21.4 2.5 L21.2 3.5 L21.0 4.3 L20.7 4.8 L20.5 5.0Z" fill="url(#r4a4a4a6c6c6c989898)" stroke="#2c2c2c" stroke-width="0.4" stroke-linejoin="round"/>
<path d="M22.8 5.0 L23.0 4.8 L23.2 4.3 L23.5 3.5 L23.7 2.5 L23.9 1.3 L24.2 0.0 L27.6 0.0 L27.4 1.3 L27.1 2.5 L26.9 3.5 L26.7 4.3 L26.4 4.8 L26.2 5.0Z" fill="url(#r4a4a4a6c6c6c989898)" stroke="#2c2c2c" stroke-width="0.4" stroke-linejoin="round"/>
</g>
<g transform="translate(221.8,44.2) rotate(32.5)">
<path d="M3.0 -6.0 L3.3 -5.8 L3.5 -5.2 L3.8 -4.2 L4.0 -3.0 L4.3 -1.6 L4.5 -0.0 L4.8 1.6 L5.0 3.0 L5.3 4.2 L5.5 5.2 L5.8 5.8 L6.0 6.0 L9.7 6.0 L9.4 5.8 L9.2 5.2 L8.9 4.2 L8.7 3.0 L8.4 1.6 L8.1 -0.0 L7.9 -1.6 L7.6 -3.0 L7.4 -4.2 L7.1 -5.2 L6.9 -5.8 L6.6 -6.0Z" fill="#4a4a4a" stroke="#2c2c2c" stroke-width="0.4" stroke-linejoin="round"/>
<path d="M9.1 -6.0 L9.3 -5.8 L9.6 -5.2 L9.8 -4.2 L10.1 -3.0 L10.3 -1.6 L10.6 -0.0 L10.8 1.6 L11.1 3.0 L11.3 4.2 L11.6 5.2 L11.8 5.8 L12.1 6.0 L15.7 6.0 L15.4 5.8 L15.2 5.2 L14.9 4.2 L14.7 3.0 L14.4 1.6 L14.2 -0.0 L13.9 -1.6 L13.7 -3.0 L13.4 -4.2 L13.2 -5.2 L12.9 -5.8 L12.7 -6.0Z" fill="#4a4a4a" stroke="#2c2c2c" stroke-width="0.4" stroke-linejoin="round"/>
<path d="M15.1 -6.0 L15.3 -5.8 L15.6 -5.2 L15.8 -4.2 L16.1 -3.0 L16.3 -1.6 L16.6 -0.0 L16.9 1.6 L17.1 3.0 L17.4 4.2 L17.6 5.2 L17.9 5.8 L18.1 6.0 L21.7 6.0 L21.5 5.8 L21.2 5.2 L21.0 4.2 L20.7 3.0 L20.5 1.6 L20.2 -0.0 L20.0 -1.6 L19.7 -3.0 L19.5 -4.2 L19.2 -5.2 L19.0 -5.8 L18.7 -6.0Z" fill="#4a4a4a" stroke="#2c2c2c" stroke-width="0.4" stroke-linejoin="round"/>
<path d="M21.1 -6.0 L21.4 -5.8 L21.6 -5.2 L21.9 -4.2 L22.1 -3.0 L22.4 -1.6 L22.6 -0.0 L22.9 1.6 L23.1 3.0 L23.4 4.2 L23.6 5.2 L23.9 5.8 L24.1 6.0 L27.8 6.0 L27.5 5.8 L27.3 5.2 L27.0 4.2 L26.8 3.0 L26.5 1.6 L26.3 -0.0 L26.0 -1.6 L25.8 -3.0 L25.5 -4.2 L25.3 -5.2 L25.0 -5.8 L24.7 -6.0Z" fill="#4a4a4a" stroke="#2c2c2c" stroke-width="0.4" stroke-linejoin="round"/>
<path d="M27.2 -6.0 L27.4 -5.8 L27.7 -5.2 L27.9 -4.2 L28.2 -3.0 L28.4 -1.6 L28.7 -0.0 L28.9 1.6 L29.2 3.0 L29.4 4.2 L29.7 5.2 L29.9 5.8 L30.2 6.0 L33.8 6.0 L33.6 5.8 L33.3 5.2 L33.0 4.2 L32.8 3.0 L32.5 1.6 L32.3 -0.0 L32.0 -1.6 L31.8 -3.0 L31.5 -4.2 L31.3 -5.2 L31.0 -5.8 L30.8 -6.0Z" fill="#4a4a4a" stroke="#2c2c2c" stroke-width="0.4" stroke-linejoin="round"/>
<path d="M33.2 -6.0 L33.5 -5.8 L33.7 -5.2 L34.0 -4.2 L34.2 -3.0 L34.5 -1.6 L34.7 -0.0 L35.0 1.6 L35.2 3.0 L35.5 4.2 L35.7 5.2 L36.0 5.8 L36.2 6.0 L39.8 6.0 L39.6 5.8 L39.3 5.2 L39.1 4.2 L38.8 3.0 L38.6 1.6 L38.3 -0.0 L38.1 -1.6 L37.8 -3.0 L37.6 -4.2 L37.3 -5.2 L37.1 -5.8 L36.8 -6.0Z" fill="#4a4a4a" stroke="#2c2c2c" stroke-width="0.4" stroke-linejoin="round"/>
<path d="M39.2 -6.0 L39.5 -5.8 L39.7 -5.2 L40.0 -4.2 L40.2 -3.0 L40.5 -1.6 L40.7 -0.0 L41.0 1.6 L41.2 3.0 L41.5 4.2 L41.8 5.2 L42.0 5.8 L42.3 6.0 L45.9 6.0 L45.6 5.8 L45.4 5.2 L45.1 4.2 L44.9 3.0 L44.6 1.6 L44.4 -0.0 L44.1 -1.6 L43.9 -3.0 L43.6 -4.2 L43.4 -5.2 L43.1 -5.8 L42.9 -6.0Z" fill="#4a4a4a" stroke="#2c2c2c" stroke-width="0.4" stroke-linejoin="round"/>
<path d="M0.0 6.0 L0.3 5.8 L0.5 5.2 L0.8 4.2 L1.0 3.0 L1.3 1.6 L1.5 0.0 L1.8 -1.6 L2.0 -3.0 L2.3 -4.2 L2.5 -5.2 L2.8 -5.8 L3.0 -6.0 L6.6 -6.0 L6.4 -5.8 L6.1 -5.2 L5.9 -4.2 L5.6 -3.0 L5.4 -1.6 L5.1 0.0 L4.9 1.6 L4.6 3.0 L4.4 4.2 L4.1 5.2 L3.9 5.8 L3.6 6.0Z" fill="url(#r4a4a4a6c6c6c989898)" stroke="#2c2c2c" stroke-width="0.4" stroke-linejoin="round"/>
<path d="M6.0 6.0 L6.3 5.8 L6.5 5.2 L6.8 4.2 L7.0 3.0 L7.3 1.6 L7.5 0.0 L7.8 -1.6 L8.0 -3.0 L8.3 -4.2 L8.6 -5.2 L8.8 -5.8 L9.1 -6.0 L12.7 -6.0 L12.4 -5.8 L12.2 -5.2 L11.9 -4.2 L11.7 -3.0 L11.4 -1.6 L11.2 0.0 L10.9 1.6 L10.7 3.0 L10.4 4.2 L10.2 5.2 L9.9 5.8 L9.7 6.0Z" fill="url(#r4a4a4a6c6c6c989898)" stroke="#2c2c2c" stroke-width="0.4" stroke-linejoin="round"/>
<path d="M12.1 6.0 L12.3 5.8 L12.6 5.2 L12.8 4.2 L13.1 3.0 L13.3 1.6 L13.6 0.0 L13.8 -1.6 L14.1 -3.0 L14.3 -4.2 L14.6 -5.2 L14.8 -5.8 L15.1 -6.0 L18.7 -6.0 L18.5 -5.8 L18.2 -5.2 L18.0 -4.2 L17.7 -3.0 L17.5 -1.6 L17.2 0.0 L17.0 1.6 L16.7 3.0 L16.4 4.2 L16.2 5.2 L15.9 5.8 L15.7 6.0Z" fill="url(#r4a4a4a6c6c6c989898)" stroke="#2c2c2c" stroke-width="0.4" stroke-linejoin="round"/>
<path d="M18.1 6.0 L18.4 5.8 L18.6 5.2 L18.9 4.2 L19.1 3.0 L19.4 1.6 L19.6 0.0 L19.9 -1.6 L20.1 -3.0 L20.4 -4.2 L20.6 -5.2 L20.9 -5.8 L21.1 -6.0 L24.7 -6.0 L24.5 -5.8 L24.2 -5.2 L24.0 -4.2 L23.7 -3.0 L23.5 -1.6 L23.2 0.0 L23.0 1.6 L22.7 3.0 L22.5 4.2 L22.2 5.2 L22.0 5.8 L21.7 6.0Z" fill="url(#r4a4a4a6c6c6c989898)" stroke="#2c2c2c" stroke-width="0.4" stroke-linejoin="round"/>
<path d="M24.1 6.0 L24.4 5.8 L24.6 5.2 L24.9 4.2 L25.2 3.0 L25.4 1.6 L25.7 0.0 L25.9 -1.6 L26.2 -3.0 L26.4 -4.2 L26.7 -5.2 L26.9 -5.8 L27.2 -6.0 L30.8 -6.0 L30.5 -5.8 L30.3 -5.2 L30.0 -4.2 L29.8 -3.0 L29.5 -1.6 L29.3 0.0 L29.0 1.6 L28.8 3.0 L28.5 4.2 L28.3 5.2 L28.0 5.8 L27.8 6.0Z" fill="url(#r4a4a4a6c6c6c989898)" stroke="#2c2c2c" stroke-width="0.4" stroke-linejoin="round"/>
<path d="M30.2 6.0 L30.4 5.8 L30.7 5.2 L30.9 4.2 L31.2 3.0 L31.4 1.6 L31.7 0.0 L31.9 -1.6 L32.2 -3.0 L32.4 -4.2 L32.7 -5.2 L32.9 -5.8 L33.2 -6.0 L36.8 -6.0 L36.6 -5.8 L36.3 -5.2 L36.1 -4.2 L35.8 -3.0 L35.6 -1.6 L35.3 0.0 L35.1 1.6 L34.8 3.0 L34.6 4.2 L34.3 5.2 L34.1 5.8 L33.8 6.0Z" fill="url(#r4a4a4a6c6c6c989898)" stroke="#2c2c2c" stroke-width="0.4" stroke-linejoin="round"/>
<path d="M36.2 6.0 L36.5 5.8 L36.7 5.2 L37.0 4.2 L37.2 3.0 L37.5 1.6 L37.7 0.0 L38.0 -1.6 L38.2 -3.0 L38.5 -4.2 L38.7 -5.2 L39.0 -5.8 L39.2 -6.0 L42.9 -6.0 L42.6 -5.8 L42.4 -5.2 L42.1 -4.2 L41.9 -3.0 L41.6 -1.6 L41.4 0.0 L41.1 1.6 L40.8 3.0 L40.6 4.2 L40.3 5.2 L40.1 5.8 L39.8 6.0Z" fill="url(#r4a4a4a6c6c6c989898)" stroke="#2c2c2c" stroke-width="0.4" stroke-linejoin="round"/>
<path d="M42.3 6.0 L42.5 5.8 L42.8 5.2 L43.0 4.2 L43.3 3.0 L43.5 1.6 L43.8 0.0 L47.4 0.0 L47.1 1.6 L46.9 3.0 L46.6 4.2 L46.4 5.2 L46.1 5.8 L45.9 6.0Z" fill="url(#r4a4a4a6c6c6c989898)" stroke="#2c2c2c" stroke-width="0.4" stroke-linejoin="round"/>
</g>
<g transform="translate(218.5,67.0) rotate(18.2)">
<path d="M3.1 -5.2 L3.3 -5.1 L3.6 -4.5 L3.8 -3.7 L4.1 -2.6 L4.3 -1.4 L4.6 -0.0 L4.8 1.4 L5.1 2.6 L5.4 3.7 L5.6 4.5 L5.9 5.1 L6.1 5.2 L9.8 5.2 L9.5 5.1 L9.3 4.5 L9.0 3.7 L8.8 2.6 L8.5 1.4 L8.3 -0.0 L8.0 -1.4 L7.8 -2.6 L7.5 -3.7 L7.2 -4.5 L7.0 -5.1 L6.7 -5.2Z" fill="#4a4a4a" stroke="#2c2c2c" stroke-width="0.4" stroke-linejoin="round"/>
<path d="M9.2 -5.2 L9.4 -5.1 L9.7 -4.5 L10.0 -3.7 L10.2 -2.6 L10.5 -1.4 L10.7 -0.0 L11.0 1.4 L11.2 2.6 L11.5 3.7 L11.7 4.5 L12.0 5.1 L12.2 5.2 L15.9 5.2 L15.7 5.1 L15.4 4.5 L15.2 3.7 L14.9 2.6 L14.6 1.4 L14.4 -0.0 L14.1 -1.4 L13.9 -2.6 L13.6 -3.7 L13.4 -4.5 L13.1 -5.1 L12.9 -5.2Z" fill="#4a4a4a" stroke="#2c2c2c" stroke-width="0.4" stroke-linejoin="round"/>
<path d="M15.3 -5.2 L15.6 -5.1 L15.8 -4.5 L16.1 -3.7 L16.3 -2.6 L16.6 -1.4 L16.8 -0.0 L17.1 1.4 L17.3 2.6 L17.6 3.7 L17.9 4.5 L18.1 5.1 L18.4 5.2 L22.0 5.2 L21.8 5.1 L21.5 4.5 L21.3 3.7 L21.0 2.6 L20.8 1.4 L20.5 -0.0 L20.3 -1.4 L20.0 -2.6 L19.7 -3.7 L19.5 -4.5 L19.2 -5.1 L19.0 -5.2Z" fill="#4a4a4a" stroke="#2c2c2c" stroke-width="0.4" stroke-linejoin="round"/>
<path d="M21.4 -5.2 L21.7 -5.1 L21.9 -4.5 L22.2 -3.7 L22.5 -2.6 L22.7 -1.4 L23.0 -0.0 L23.2 1.4 L23.5 2.6 L23.7 3.7 L24.0 4.5 L24.2 5.1 L24.5 5.2 L28.2 5.2 L27.9 5.1 L27.7 4.5 L27.4 3.7 L27.1 2.6 L26.9 1.4 L26.6 -0.0 L26.4 -1.4 L26.1 -2.6 L25.9 -3.7 L25.6 -4.5 L25.4 -5.1 L25.1 -5.2Z" fill="#4a4a4a" stroke="#2c2c2c" stroke-width="0.4" stroke-linejoin="round"/>
<path d="M27.6 -5.2 L27.8 -5.1 L28.1 -4.5 L28.3 -3.7 L28.6 -2.6 L28.8 -1.4 L29.1 -0.0 L29.3 1.4 L29.6 2.6 L29.9 3.7 L30.1 4.5 L30.4 5.1 L30.6 5.2 L34.3 5.2 L34.0 5.1 L33.8 4.5 L33.5 3.7 L33.3 2.6 L33.0 1.4 L32.8 -0.0 L32.5 -1.4 L32.2 -2.6 L32.0 -3.7 L31.7 -4.5 L31.5 -5.1 L31.2 -5.2Z" fill="#4a4a4a" stroke="#2c2c2c" stroke-width="0.4" stroke-linejoin="round"/>
<path d="M0.0 5.2 L0.3 5.1 L0.5 4.5 L0.8 3.7 L1.0 2.6 L1.3 1.4 L1.5 0.0 L1.8 -1.4 L2.0 -2.6 L2.3 -3.7 L2.6 -4.5 L2.8 -5.1 L3.1 -5.2 L6.7 -5.2 L6.5 -5.1 L6.2 -4.5 L6.0 -3.7 L5.7 -2.6 L5.5 -1.4 L5.2 0.0 L4.9 1.4 L4.7 2.6 L4.4 3.7 L4.2 4.5 L3.9 5.1 L3.7 5.2Z" fill="url(#r4a4a4a6c6c6c989898)" stroke="#2c2c2c" stroke-width="0.4" stroke-linejoin="round"/>
<path d="M6.1 5.2 L6.4 5.1 L6.6 4.5 L6.9 3.7 L7.1 2.6 L7.4 1.4 L7.7 0.0 L7.9 -1.4 L8.2 -2.6 L8.4 -3.7 L8.7 -4.5 L8.9 -5.1 L9.2 -5.2 L12.9 -5.2 L12.6 -5.1 L12.3 -4.5 L12.1 -3.7 L11.8 -2.6 L11.6 -1.4 L11.3 0.0 L11.1 1.4 L10.8 2.6 L10.6 3.7 L10.3 4.5 L10.1 5.1 L9.8 5.2Z" fill="url(#r4a4a4a6c6c6c989898)" stroke="#2c2c2c" stroke-width="0.4" stroke-linejoin="round"/>
<path d="M12.2 5.2 L12.5 5.1 L12.8 4.5 L13.0 3.7 L13.3 2.6 L13.5 1.4 L13.8 0.0 L14.0 -1.4 L14.3 -2.6 L14.5 -3.7 L14.8 -4.5 L15.1 -5.1 L15.3 -5.2 L19.0 -5.2 L18.7 -5.1 L18.5 -4.5 L18.2 -3.7 L18.0 -2.6 L17.7 -1.4 L17.5 0.0 L17.2 1.4 L16.9 2.6 L16.7 3.7 L16.4 4.5 L16.2 5.1 L15.9 5.2Z" fill="url(#r4a4a4a6c6c6c989898)" stroke="#2c2c2c" stroke-width="0.4" stroke-linejoin="round"/>
<path d="M18.4 5.2 L18.6 5.1 L18.9 4.5 L19.1 3.7 L19.4 2.6 L19.6 1.4 L19.9 0.0 L20.2 -1.4 L20.4 -2.6 L20.7 -3.7 L20.9 -4.5 L21.2 -5.1 L21.4 -5.2 L25.1 -5.2 L24.9 -5.1 L24.6 -4.5 L24.3 -3.7 L24.1 -2.6 L23.8 -1.4 L23.6 0.0 L23.3 1.4 L23.1 2.6 L22.8 3.7 L22.6 4.5 L22.3 5.1 L22.0 5.2Z" fill="url(#r4a4a4a6c6c6c989898)" stroke="#2c2c2c" stroke-width="0.4" stroke-linejoin="round"/>
<path d="M24.5 5.2 L24.7 5.1 L25.0 4.5 L25.3 3.7 L25.5 2.6 L25.8 1.4 L26.0 0.0 L26.3 -1.4 L26.5 -2.6 L26.8 -3.7 L27.0 -4.5 L27.3 -5.1 L27.6 -5.2 L31.2 -5.2 L31.0 -5.1 L30.7 -4.5 L30.5 -3.7 L30.2 -2.6 L30.0 -1.4 L29.7 0.0 L29.4 1.4 L29.2 2.6 L28.9 3.7 L28.7 4.5 L28.4 5.1 L28.2 5.2Z" fill="url(#r4a4a4a6c6c6c989898)" stroke="#2c2c2c" stroke-width="0.4" stroke-linejoin="round"/>
<path d="M30.6 5.2 L30.9 5.1 L31.1 4.5 L31.4 3.7 L31.6 2.6 L31.9 1.4 L32.1 0.0 L35.8 0.0 L35.6 1.4 L35.3 2.6 L35.1 3.7 L34.8 4.5 L34.5 5.1 L34.3 5.2Z" fill="url(#r4a4a4a6c6c6c989898)" stroke="#2c2c2c" stroke-width="0.4" stroke-linejoin="round"/>
</g>
<path transform="translate(290.9,71.7) rotate(-157)" d="M0 -1.3 L12.5 -1.3 L12.5 -3.2 L17.5 0 L12.5 3.2 L12.5 1.3 L0 1.3 Z" fill="#fff" stroke="#444" stroke-width="0.7" stroke-linejoin="round"/>
<path d="M300.0 75.0 C300.7 74.2 302.7 71.5 304.0 70.0 C305.3 68.5 307.8 67.3 308.0 66.0 C308.2 64.7 306.0 62.0 305.0 62.0 C304.0 62.0 301.8 64.3 302.0 66.0 C302.2 67.7 304.7 71.7 306.0 72.0 C307.3 72.3 309.3 68.7 310.0 68.0" fill="none" stroke="#a8a8a8" stroke-width="0.6" stroke-linecap="round"/>
<g transform="translate(311.2,69.3) rotate(14.7)">
<path d="M3.7 -5.5 L4.0 -5.3 L4.3 -4.8 L4.6 -3.9 L4.9 -2.8 L5.2 -1.4 L5.6 -0.0 L5.9 1.4 L6.2 2.7 L6.5 3.9 L6.8 4.8 L7.1 5.3 L7.4 5.5 L11.9 5.5 L11.5 5.3 L11.2 4.8 L10.9 3.9 L10.6 2.7 L10.3 1.4 L10.0 -0.0 L9.7 -1.4 L9.4 -2.8 L9.1 -3.9 L8.8 -4.8 L8.5 -5.3 L8.2 -5.5Z" fill="#cacaca" stroke="#9a9a9a" stroke-width="0.4" stroke-linejoin="round"/>
<path d="M11.1 -5.5 L11.4 -5.3 L11.7 -4.8 L12.0 -3.9 L12.4 -2.8 L12.7 -1.4 L13.0 -0.0 L13.3 1.4 L13.6 2.7 L13.9 3.9 L14.2 4.8 L14.5 5.3 L14.8 5.5 L19.3 5.5 L19.0 5.3 L18.7 4.8 L18.3 3.9 L18.0 2.7 L17.7 1.4 L17.4 -0.0 L17.1 -1.4 L16.8 -2.8 L16.5 -3.9 L16.2 -4.8 L15.9 -5.3 L15.6 -5.5Z" fill="#cacaca" stroke="#9a9a9a" stroke-width="0.4" stroke-linejoin="round"/>
<path d="M18.5 -5.5 L18.8 -5.3 L19.1 -4.8 L19.5 -3.9 L19.8 -2.8 L20.1 -1.4 L20.4 -0.0 L20.7 1.4 L21.0 2.7 L21.3 3.9 L21.6 4.8 L21.9 5.3 L22.2 5.5 L26.7 5.5 L26.4 5.3 L26.1 4.8 L25.8 3.9 L25.4 2.7 L25.1 1.4 L24.8 -0.0 L24.5 -1.4 L24.2 -2.8 L23.9 -3.9 L23.6 -4.8 L23.3 -5.3 L23.0 -5.5Z" fill="#cacaca" stroke="#9a9a9a" stroke-width="0.4" stroke-linejoin="round"/>
<path d="M25.9 -5.5 L26.2 -5.3 L26.6 -4.8 L26.9 -3.9 L27.2 -2.8 L27.5 -1.4 L27.8 -0.0 L28.1 1.4 L28.4 2.7 L28.7 3.9 L29.0 4.8 L29.3 5.3 L29.6 5.5 L34.1 5.5 L33.8 5.3 L33.5 4.8 L33.2 3.9 L32.9 2.7 L32.5 1.4 L32.2 -0.0 L31.9 -1.4 L31.6 -2.8 L31.3 -3.9 L31.0 -4.8 L30.7 -5.3 L30.4 -5.5Z" fill="#cacaca" stroke="#9a9a9a" stroke-width="0.4" stroke-linejoin="round"/>
<path d="M33.3 -5.5 L33.7 -5.3 L34.0 -4.8 L34.3 -3.9 L34.6 -2.8 L34.9 -1.4 L35.2 -0.0 L35.5 1.4 L35.8 2.7 L36.1 3.9 L36.4 4.8 L36.7 5.3 L37.1 5.5 L41.5 5.5 L41.2 5.3 L40.9 4.8 L40.6 3.9 L40.3 2.7 L40.0 1.4 L39.6 -0.0 L39.3 -1.4 L39.0 -2.8 L38.7 -3.9 L38.4 -4.8 L38.1 -5.3 L37.8 -5.5Z" fill="#cacaca" stroke="#9a9a9a" stroke-width="0.4" stroke-linejoin="round"/>
<path d="M40.8 -5.5 L41.1 -5.3 L41.4 -4.8 L41.7 -3.9 L42.0 -2.8 L42.3 -1.4 L42.6 -0.0 L42.9 1.4 L43.2 2.7 L43.5 3.9 L43.8 4.8 L44.2 5.3 L44.5 5.5 L48.9 5.5 L48.6 5.3 L48.3 4.8 L48.0 3.9 L47.7 2.7 L47.4 1.4 L47.1 -0.0 L46.8 -1.4 L46.4 -2.8 L46.1 -3.9 L45.8 -4.8 L45.5 -5.3 L45.2 -5.5Z" fill="#cacaca" stroke="#9a9a9a" stroke-width="0.4" stroke-linejoin="round"/>
<path d="M0.0 5.5 L0.3 5.3 L0.6 4.8 L0.9 3.9 L1.2 2.8 L1.5 1.4 L1.9 0.0 L2.2 -1.4 L2.5 -2.7 L2.8 -3.9 L3.1 -4.8 L3.4 -5.3 L3.7 -5.5 L8.2 -5.5 L7.8 -5.3 L7.5 -4.8 L7.2 -3.9 L6.9 -2.7 L6.6 -1.4 L6.3 0.0 L6.0 1.4 L5.7 2.8 L5.4 3.9 L5.1 4.8 L4.8 5.3 L4.4 5.5Z" fill="url(#rcacacaf4f4f4ffffff)" stroke="#9a9a9a" stroke-width="0.4" stroke-linejoin="round"/>
<path d="M7.4 5.5 L7.7 5.3 L8.0 4.8 L8.3 3.9 L8.6 2.8 L9.0 1.4 L9.3 0.0 L9.6 -1.4 L9.9 -2.7 L10.2 -3.9 L10.5 -4.8 L10.8 -5.3 L11.1 -5.5 L15.6 -5.5 L15.3 -5.3 L14.9 -4.8 L14.6 -3.9 L14.3 -2.7 L14.0 -1.4 L13.7 0.0 L13.4 1.4 L13.1 2.8 L12.8 3.9 L12.5 4.8 L12.2 5.3 L11.9 5.5Z" fill="url(#rcacacaf4f4f4ffffff)" stroke="#9a9a9a" stroke-width="0.4" stroke-linejoin="round"/>
<path d="M14.8 5.5 L15.1 5.3 L15.4 4.8 L15.7 3.9 L16.1 2.8 L16.4 1.4 L16.7 0.0 L17.0 -1.4 L17.3 -2.7 L17.6 -3.9 L17.9 -4.8 L18.2 -5.3 L18.5 -5.5 L23.0 -5.5 L22.7 -5.3 L22.4 -4.8 L22.0 -3.9 L21.7 -2.7 L21.4 -1.4 L21.1 0.0 L20.8 1.4 L20.5 2.8 L20.2 3.9 L19.9 4.8 L19.6 5.3 L19.3 5.5Z" fill="url(#rcacacaf4f4f4ffffff)" stroke="#9a9a9a" stroke-width="0.4" stroke-linejoin="round"/>
<path d="M22.2 5.5 L22.5 5.3 L22.9 4.8 L23.2 3.9 L23.5 2.8 L23.8 1.4 L24.1 0.0 L24.4 -1.4 L24.7 -2.7 L25.0 -3.9 L25.3 -4.8 L25.6 -5.3 L25.9 -5.5 L30.4 -5.5 L30.1 -5.3 L29.8 -4.8 L29.5 -3.9 L29.1 -2.7 L28.8 -1.4 L28.5 0.0 L28.2 1.4 L27.9 2.8 L27.6 3.9 L27.3 4.8 L27.0 5.3 L26.7 5.5Z" fill="url(#rcacacaf4f4f4ffffff)" stroke="#9a9a9a" stroke-width="0.4" stroke-linejoin="round"/>
<path d="M29.6 5.5 L30.0 5.3 L30.3 4.8 L30.6 3.9 L30.9 2.8 L31.2 1.4 L31.5 0.0 L31.8 -1.4 L32.1 -2.7 L32.4 -3.9 L32.7 -4.8 L33.0 -5.3 L33.3 -5.5 L37.8 -5.5 L37.5 -5.3 L37.2 -4.8 L36.9 -3.9 L36.6 -2.7 L36.3 -1.4 L35.9 0.0 L35.6 1.4 L35.3 2.8 L35.0 3.9 L34.7 4.8 L34.4 5.3 L34.1 5.5Z" fill="url(#rcacacaf4f4f4ffffff)" stroke="#9a9a9a" stroke-width="0.4" stroke-linejoin="round"/>
<path d="M37.1 5.5 L37.4 5.3 L37.7 4.8 L38.0 3.9 L38.3 2.8 L38.6 1.4 L38.9 0.0 L39.2 -1.4 L39.5 -2.7 L39.8 -3.9 L40.1 -4.8 L40.5 -5.3 L40.8 -5.5 L45.2 -5.5 L44.9 -5.3 L44.6 -4.8 L44.3 -3.9 L44.0 -2.7 L43.7 -1.4 L43.4 0.0 L43.0 1.4 L42.7 2.8 L42.4 3.9 L42.1 4.8 L41.8 5.3 L41.5 5.5Z" fill="url(#rcacacaf4f4f4ffffff)" stroke="#9a9a9a" stroke-width="0.4" stroke-linejoin="round"/>
<path d="M44.5 5.5 L44.8 5.3 L45.1 4.8 L45.4 3.9 L45.7 2.8 L46.0 1.4 L46.3 0.0 L50.8 0.0 L50.5 1.4 L50.1 2.8 L49.8 3.9 L49.5 4.8 L49.2 5.3 L48.9 5.5Z" fill="url(#rcacacaf4f4f4ffffff)" stroke="#9a9a9a" stroke-width="0.4" stroke-linejoin="round"/>
</g>
<g transform="translate(312.0,92.0) rotate(7.8)">
<path d="M3.2 -5.8 L3.5 -5.6 L3.7 -5.0 L4.0 -4.1 L4.3 -2.9 L4.5 -1.5 L4.8 -0.0 L5.1 1.5 L5.3 2.9 L5.6 4.1 L5.9 5.0 L6.1 5.6 L6.4 5.8 L10.2 5.8 L10.0 5.6 L9.7 5.0 L9.4 4.1 L9.2 2.9 L8.9 1.5 L8.6 -0.0 L8.4 -1.5 L8.1 -2.9 L7.8 -4.1 L7.6 -5.0 L7.3 -5.6 L7.0 -5.8Z" fill="#cacaca" stroke="#9a9a9a" stroke-width="0.4" stroke-linejoin="round"/>
<path d="M9.6 -5.8 L9.9 -5.6 L10.1 -5.0 L10.4 -4.1 L10.7 -2.9 L10.9 -1.5 L11.2 -0.0 L11.5 1.5 L11.7 2.9 L12.0 4.1 L12.3 5.0 L12.5 5.6 L12.8 5.8 L16.6 5.8 L16.4 5.6 L16.1 5.0 L15.8 4.1 L15.6 2.9 L15.3 1.5 L15.0 -0.0 L14.8 -1.5 L14.5 -2.9 L14.2 -4.1 L14.0 -5.0 L13.7 -5.6 L13.4 -5.8Z" fill="#cacaca" stroke="#9a9a9a" stroke-width="0.4" stroke-linejoin="round"/>
<path d="M16.0 -5.8 L16.2 -5.6 L16.5 -5.0 L16.8 -4.1 L17.0 -2.9 L17.3 -1.5 L17.6 -0.0 L17.8 1.5 L18.1 2.9 L18.4 4.1 L18.6 5.0 L18.9 5.6 L19.2 5.8 L23.0 5.8 L22.7 5.6 L22.5 5.0 L22.2 4.1 L21.9 2.9 L21.7 1.5 L21.4 -0.0 L21.1 -1.5 L20.9 -2.9 L20.6 -4.1 L20.3 -5.0 L20.1 -5.6 L19.8 -5.8Z" fill="#cacaca" stroke="#9a9a9a" stroke-width="0.4" stroke-linejoin="round"/>
<path d="M22.4 -5.8 L22.6 -5.6 L22.9 -5.0 L23.2 -4.1 L23.4 -2.9 L23.7 -1.5 L24.0 -0.0 L24.2 1.5 L24.5 2.9 L24.8 4.1 L25.0 5.0 L25.3 5.6 L25.6 5.8 L29.4 5.8 L29.1 5.6 L28.9 5.0 L28.6 4.1 L28.3 2.9 L28.1 1.5 L27.8 -0.0 L27.5 -1.5 L27.3 -2.9 L27.0 -4.1 L26.7 -5.0 L26.5 -5.6 L26.2 -5.8Z" fill="#cacaca" stroke="#9a9a9a" stroke-width="0.4" stroke-linejoin="round"/>
<path d="M28.8 -5.8 L29.0 -5.6 L29.3 -5.0 L29.6 -4.1 L29.8 -2.9 L30.1 -1.5 L30.4 -0.0 L30.6 1.5 L30.9 2.9 L31.2 4.1 L31.4 5.0 L31.7 5.6 L32.0 5.8 L35.8 5.8 L35.5 5.6 L35.3 5.0 L35.0 4.1 L34.7 2.9 L34.5 1.5 L34.2 -0.0 L33.9 -1.5 L33.7 -2.9 L33.4 -4.1 L33.1 -5.0 L32.9 -5.6 L32.6 -5.8Z" fill="#cacaca" stroke="#9a9a9a" stroke-width="0.4" stroke-linejoin="round"/>
<path d="M35.2 -5.8 L35.4 -5.6 L35.7 -5.0 L36.0 -4.1 L36.2 -2.9 L36.5 -1.5 L36.8 -0.0 L37.0 1.5 L37.3 2.9 L37.6 4.1 L37.8 5.0 L38.1 5.6 L38.4 5.8 L42.2 5.8 L41.9 5.6 L41.7 5.0 L41.4 4.1 L41.1 2.9 L40.9 1.5 L40.6 -0.0 L40.3 -1.5 L40.1 -2.9 L39.8 -4.1 L39.5 -5.0 L39.3 -5.6 L39.0 -5.8Z" fill="#cacaca" stroke="#9a9a9a" stroke-width="0.4" stroke-linejoin="round"/>
<path d="M41.6 -5.8 L41.8 -5.6 L42.1 -5.0 L42.3 -4.1 L42.6 -2.9 L42.9 -1.5 L43.1 -0.0 L43.4 1.5 L43.7 2.9 L43.9 4.1 L44.2 5.0 L44.5 5.6 L44.7 5.8 L48.6 5.8 L48.3 5.6 L48.0 5.0 L47.8 4.1 L47.5 2.9 L47.3 1.5 L47.0 -0.0 L46.7 -1.5 L46.5 -2.9 L46.2 -4.1 L45.9 -5.0 L45.7 -5.6 L45.4 -5.8Z" fill="#cacaca" stroke="#9a9a9a" stroke-width="0.4" stroke-linejoin="round"/>
<path d="M0.0 5.8 L0.3 5.6 L0.5 5.0 L0.8 4.1 L1.1 2.9 L1.3 1.5 L1.6 0.0 L1.9 -1.5 L2.1 -2.9 L2.4 -4.1 L2.7 -5.0 L2.9 -5.6 L3.2 -5.8 L7.0 -5.8 L6.8 -5.6 L6.5 -5.0 L6.2 -4.1 L6.0 -2.9 L5.7 -1.5 L5.4 0.0 L5.2 1.5 L4.9 2.9 L4.6 4.1 L4.4 5.0 L4.1 5.6 L3.8 5.8Z" fill="url(#rcacacaf4f4f4ffffff)" stroke="#9a9a9a" stroke-width="0.4" stroke-linejoin="round"/>
<path d="M6.4 5.8 L6.7 5.6 L6.9 5.0 L7.2 4.1 L7.5 2.9 L7.7 1.5 L8.0 0.0 L8.3 -1.5 L8.5 -2.9 L8.8 -4.1 L9.1 -5.0 L9.3 -5.6 L9.6 -5.8 L13.4 -5.8 L13.2 -5.6 L12.9 -5.0 L12.6 -4.1 L12.4 -2.9 L12.1 -1.5 L11.8 0.0 L11.6 1.5 L11.3 2.9 L11.0 4.1 L10.8 5.0 L10.5 5.6 L10.2 5.8Z" fill="url(#rcacacaf4f4f4ffffff)" stroke="#9a9a9a" stroke-width="0.4" stroke-linejoin="round"/>
<path d="M12.8 5.8 L13.1 5.6 L13.3 5.0 L13.6 4.1 L13.9 2.9 L14.1 1.5 L14.4 0.0 L14.6 -1.5 L14.9 -2.9 L15.2 -4.1 L15.4 -5.0 L15.7 -5.6 L16.0 -5.8 L19.8 -5.8 L19.5 -5.6 L19.3 -5.0 L19.0 -4.1 L18.8 -2.9 L18.5 -1.5 L18.2 0.0 L18.0 1.5 L17.7 2.9 L17.4 4.1 L17.2 5.0 L16.9 5.6 L16.6 5.8Z" fill="url(#rcacacaf4f4f4ffffff)" stroke="#9a9a9a" stroke-width="0.4" stroke-linejoin="round"/>
<path d="M19.2 5.8 L19.4 5.6 L19.7 5.0 L20.0 4.1 L20.2 2.9 L20.5 1.5 L20.8 0.0 L21.0 -1.5 L21.3 -2.9 L21.6 -4.1 L21.8 -5.0 L22.1 -5.6 L22.4 -5.8 L26.2 -5.8 L25.9 -5.6 L25.7 -5.0 L25.4 -4.1 L25.1 -2.9 L24.9 -1.5 L24.6 0.0 L24.3 1.5 L24.1 2.9 L23.8 4.1 L23.5 5.0 L23.3 5.6 L23.0 5.8Z" fill="url(#rcacacaf4f4f4ffffff)" stroke="#9a9a9a" stroke-width="0.4" stroke-linejoin="round"/>
<path d="M25.6 5.8 L25.8 5.6 L26.1 5.0 L26.4 4.1 L26.6 2.9 L26.9 1.5 L27.2 0.0 L27.4 -1.5 L27.7 -2.9 L28.0 -4.1 L28.2 -5.0 L28.5 -5.6 L28.8 -5.8 L32.6 -5.8 L32.3 -5.6 L32.1 -5.0 L31.8 -4.1 L31.5 -2.9 L31.3 -1.5 L31.0 0.0 L30.7 1.5 L30.5 2.9 L30.2 4.1 L29.9 5.0 L29.7 5.6 L29.4 5.8Z" fill="url(#rcacacaf4f4f4ffffff)" stroke="#9a9a9a" stroke-width="0.4" stroke-linejoin="round"/>
<path d="M32.0 5.8 L32.2 5.6 L32.5 5.0 L32.8 4.1 L33.0 2.9 L33.3 1.5 L33.6 0.0 L33.8 -1.5 L34.1 -2.9 L34.4 -4.1 L34.6 -5.0 L34.9 -5.6 L35.2 -5.8 L39.0 -5.8 L38.7 -5.6 L38.5 -5.0 L38.2 -4.1 L37.9 -2.9 L37.7 -1.5 L37.4 0.0 L37.1 1.5 L36.9 2.9 L36.6 4.1 L36.3 5.0 L36.1 5.6 L35.8 5.8Z" fill="url(#rcacacaf4f4f4ffffff)" stroke="#9a9a9a" stroke-width="0.4" stroke-linejoin="round"/>
<path d="M38.4 5.8 L38.6 5.6 L38.9 5.0 L39.2 4.1 L39.4 2.9 L39.7 1.5 L40.0 0.0 L40.2 -1.5 L40.5 -2.9 L40.8 -4.1 L41.0 -5.0 L41.3 -5.6 L41.6 -5.8 L45.4 -5.8 L45.1 -5.6 L44.9 -5.0 L44.6 -4.1 L44.3 -2.9 L44.1 -1.5 L43.8 0.0 L43.5 1.5 L43.3 2.9 L43.0 4.1 L42.7 5.0 L42.5 5.6 L42.2 5.8Z" fill="url(#rcacacaf4f4f4ffffff)" stroke="#9a9a9a" stroke-width="0.4" stroke-linejoin="round"/>
<path d="M44.7 5.8 L45.0 5.6 L45.3 5.0 L45.5 4.1 L45.8 2.9 L46.1 1.5 L46.3 0.0 L50.2 0.0 L49.9 1.5 L49.6 2.9 L49.4 4.1 L49.1 5.0 L48.8 5.6 L48.6 5.8Z" fill="url(#rcacacaf4f4f4ffffff)" stroke="#9a9a9a" stroke-width="0.4" stroke-linejoin="round"/>
</g>
<path d="M308.0 80.0 C308.7 80.8 311.7 83.0 312.0 85.0 C312.3 87.0 310.3 90.8 310.0 92.0" fill="none" stroke="#a8a8a8" stroke-width="0.6" stroke-linecap="round"/>
<path d="M357.0 98.0 C357.7 98.5 359.8 100.0 361.0 101.0 C362.2 102.0 363.5 103.5 364.0 104.0" fill="none" stroke="#a8a8a8" stroke-width="0.6" stroke-linecap="round"/>
<path d="M357.0 82.0 C357.7 82.7 361.2 84.7 361.0 86.0 C360.8 87.3 356.8 89.3 356.0 90.0" fill="none" stroke="#a8a8a8" stroke-width="0.6" stroke-linecap="round"/>
<path d="M217.0 98.0 C217.8 97.0 220.2 93.3 222.0 92.0 C223.8 90.7 226.3 89.7 228.0 90.0 C229.7 90.3 232.0 92.5 232.0 94.0 C232.0 95.5 227.7 97.8 228.0 99.0 C228.3 100.2 233.0 100.7 234.0 101.0" fill="none" stroke="#9c9c9c" stroke-width="1.7" stroke-linecap="round"/>
<path d="M217.0 98.0 C217.8 97.0 220.2 93.3 222.0 92.0 C223.8 90.7 226.3 89.7 228.0 90.0 C229.7 90.3 232.0 92.5 232.0 94.0 C232.0 95.5 227.7 97.8 228.0 99.0 C228.3 100.2 233.0 100.7 234.0 101.0" fill="none" stroke="#ffffff" stroke-width="0.7" stroke-linecap="round"/>
<path d="M216.0 104.0 C216.7 105.0 219.7 108.0 220.0 110.0 C220.3 112.0 217.7 114.0 218.0 116.0 C218.3 118.0 220.3 120.7 222.0 122.0 C223.7 123.3 226.3 124.0 228.0 124.0 C229.7 124.0 231.3 122.3 232.0 122.0" fill="none" stroke="#9c9c9c" stroke-width="1.7" stroke-linecap="round"/>
<path d="M216.0 104.0 C216.7 105.0 219.7 108.0 220.0 110.0 C220.3 112.0 217.7 114.0 218.0 116.0 C218.3 118.0 220.3 120.7 222.0 122.0 C223.7 123.3 226.3 124.0 228.0 124.0 C229.7 124.0 231.3 122.3 232.0 122.0" fill="none" stroke="#ffffff" stroke-width="0.7" stroke-linecap="round"/>
<path d="M234.0 101.0 C235.0 100.3 238.0 97.8 240.0 97.0 C242.0 96.2 244.0 96.7 246.0 96.0 C248.0 95.3 250.0 93.3 252.0 93.0 C254.0 92.7 257.0 93.8 258.0 94.0" fill="none" stroke="#9c9c9c" stroke-width="1.7" stroke-linecap="round"/>
<path d="M234.0 101.0 C235.0 100.3 238.0 97.8 240.0 97.0 C242.0 96.2 244.0 96.7 246.0 96.0 C248.0 95.3 250.0 93.3 252.0 93.0 C254.0 92.7 257.0 93.8 258.0 94.0" fill="none" stroke="#ffffff" stroke-width="0.7" stroke-linecap="round"/>
<path d="M246.0 118.0 C246.7 119.0 248.3 122.5 250.0 124.0 C251.7 125.5 254.0 127.3 256.0 127.0 C258.0 126.7 260.3 123.8 262.0 122.0 C263.7 120.2 264.3 117.3 266.0 116.0 C267.7 114.7 270.0 115.0 272.0 114.0 C274.0 113.0 277.0 110.7 278.0 110.0" fill="none" stroke="#9c9c9c" stroke-width="1.7" stroke-linecap="round"/>
<path d="M246.0 118.0 C246.7 119.0 248.3 122.5 250.0 124.0 C251.7 125.5 254.0 127.3 256.0 127.0 C258.0 126.7 260.3 123.8 262.0 122.0 C263.7 120.2 264.3 117.3 266.0 116.0 C267.7 114.7 270.0 115.0 272.0 114.0 C274.0 113.0 277.0 110.7 278.0 110.0" fill="none" stroke="#ffffff" stroke-width="0.7" stroke-linecap="round"/>
<path d="M260.0 111.0 C261.3 111.2 265.3 112.5 268.0 112.0 C270.7 111.5 273.3 109.0 276.0 108.0 C278.7 107.0 281.3 106.7 284.0 106.0 C286.7 105.3 289.3 104.8 292.0 104.0 C294.7 103.2 297.7 102.0 300.0 101.0 C302.3 100.0 304.2 98.0 306.0 98.0 C307.8 98.0 310.2 100.5 311.0 101.0" fill="none" stroke="#9c9c9c" stroke-width="1.7" stroke-linecap="round"/>
<path d="M260.0 111.0 C261.3 111.2 265.3 112.5 268.0 112.0 C270.7 111.5 273.3 109.0 276.0 108.0 C278.7 107.0 281.3 106.7 284.0 106.0 C286.7 105.3 289.3 104.8 292.0 104.0 C294.7 103.2 297.7 102.0 300.0 101.0 C302.3 100.0 304.2 98.0 306.0 98.0 C307.8 98.0 310.2 100.5 311.0 101.0" fill="none" stroke="#ffffff" stroke-width="0.7" stroke-linecap="round"/>
<path d="M268.0 96.0 C269.3 95.7 273.3 95.0 276.0 94.0 C278.7 93.0 281.7 91.3 284.0 90.0 C286.3 88.7 288.0 86.3 290.0 86.0 C292.0 85.7 294.0 88.3 296.0 88.0 C298.0 87.7 300.3 85.3 302.0 84.0 C303.7 82.7 305.3 80.7 306.0 80.0" fill="none" stroke="#9c9c9c" stroke-width="1.7" stroke-linecap="round"/>
<path d="M268.0 96.0 C269.3 95.7 273.3 95.0 276.0 94.0 C278.7 93.0 281.7 91.3 284.0 90.0 C286.3 88.7 288.0 86.3 290.0 86.0 C292.0 85.7 294.0 88.3 296.0 88.0 C298.0 87.7 300.3 85.3 302.0 84.0 C303.7 82.7 305.3 80.7 306.0 80.0" fill="none" stroke="#ffffff" stroke-width="0.7" stroke-linecap="round"/>
<path d="M296.0 104.0 C296.7 104.7 298.3 107.2 300.0 108.0 C301.7 108.8 304.3 109.7 306.0 109.0 C307.7 108.3 310.3 105.5 310.0 104.0 C309.7 102.5 305.0 100.7 304.0 100.0" fill="none" stroke="#9c9c9c" stroke-width="1.7" stroke-linecap="round"/>
<path d="M296.0 104.0 C296.7 104.7 298.3 107.2 300.0 108.0 C301.7 108.8 304.3 109.7 306.0 109.0 C307.7 108.3 310.3 105.5 310.0 104.0 C309.7 102.5 305.0 100.7 304.0 100.0" fill="none" stroke="#ffffff" stroke-width="0.7" stroke-linecap="round"/>
<path d="M262.0 100.0 C262.7 98.7 264.7 94.3 266.0 92.0 C267.3 89.7 268.3 87.3 270.0 86.0 C271.7 84.7 274.3 85.0 276.0 84.0 C277.7 83.0 279.3 80.7 280.0 80.0" fill="none" stroke="#8a8a8a" stroke-width="0.9" stroke-linecap="round"/>
<path d="M264.0 104.0 C265.0 102.7 268.2 98.3 270.0 96.0 C271.8 93.7 274.2 91.0 275.0 90.0" fill="none" stroke="#8a8a8a" stroke-width="0.9" stroke-linecap="round"/>
<path transform="translate(278.0,101.0) rotate(-24.1)" d="M0.0 -1.6 L17.0 -1.6 L17.0 -2.9 L20.8 0.0 L17.0 2.9 L17.0 1.6 L0.0 1.6Z" fill="#cfcfcf" stroke="#8e8e8e" stroke-width="0.4" stroke-linejoin="round"/>
<path transform="translate(274.0,106.0) rotate(-20.0)" d="M0.0 -1.6 L19.6 -1.6 L19.6 -2.9 L23.4 0.0 L19.6 2.9 L19.6 1.6 L0.0 1.6Z" fill="#e2e2e2" stroke="#9a9a9a" stroke-width="0.4" stroke-linejoin="round"/>
<g transform="translate(247.8,96.5) rotate(48.6)">
<path d="M2.7 -5.0 L2.9 -4.8 L3.2 -4.3 L3.4 -3.5 L3.6 -2.5 L3.9 -1.3 L4.1 -0.0 L4.3 1.3 L4.5 2.5 L4.8 3.5 L5.0 4.3 L5.2 4.8 L5.4 5.0 L8.7 5.0 L8.5 4.8 L8.3 4.3 L8.0 3.5 L7.8 2.5 L7.6 1.3 L7.4 -0.0 L7.1 -1.3 L6.9 -2.5 L6.7 -3.5 L6.4 -4.3 L6.2 -4.8 L6.0 -5.0Z" fill="#c8c8c8" stroke="#959595" stroke-width="0.4" stroke-linejoin="round"/>
<path d="M8.2 -5.0 L8.4 -4.8 L8.6 -4.3 L8.8 -3.5 L9.1 -2.5 L9.3 -1.3 L9.5 -0.0 L9.8 1.3 L10.0 2.5 L10.2 3.5 L10.4 4.3 L10.7 4.8 L10.9 5.0 L14.2 5.0 L13.9 4.8 L13.7 4.3 L13.5 3.5 L13.3 2.5 L13.0 1.3 L12.8 -0.0 L12.6 -1.3 L12.3 -2.5 L12.1 -3.5 L11.9 -4.3 L11.7 -4.8 L11.4 -5.0Z" fill="#c8c8c8" stroke="#959595" stroke-width="0.4" stroke-linejoin="round"/>
<path d="M13.6 -5.0 L13.8 -4.8 L14.1 -4.3 L14.3 -3.5 L14.5 -2.5 L14.7 -1.3 L15.0 -0.0 L15.2 1.3 L15.4 2.5 L15.7 3.5 L15.9 4.3 L16.1 4.8 L16.3 5.0 L19.6 5.0 L19.4 4.8 L19.1 4.3 L18.9 3.5 L18.7 2.5 L18.5 1.3 L18.2 -0.0 L18.0 -1.3 L17.8 -2.5 L17.6 -3.5 L17.3 -4.3 L17.1 -4.8 L16.9 -5.0Z" fill="#c8c8c8" stroke="#959595" stroke-width="0.4" stroke-linejoin="round"/>
<path d="M0.0 5.0 L0.2 4.8 L0.5 4.3 L0.7 3.5 L0.9 2.5 L1.1 1.3 L1.4 0.0 L1.6 -1.3 L1.8 -2.5 L2.0 -3.5 L2.3 -4.3 L2.5 -4.8 L2.7 -5.0 L6.0 -5.0 L5.8 -4.8 L5.5 -4.3 L5.3 -3.5 L5.1 -2.5 L4.9 -1.3 L4.6 0.0 L4.4 1.3 L4.2 2.5 L3.9 3.5 L3.7 4.3 L3.5 4.8 L3.3 5.0Z" fill="url(#rc8c8c8f2f2f2ffffff)" stroke="#959595" stroke-width="0.4" stroke-linejoin="round"/>
<path d="M5.4 5.0 L5.7 4.8 L5.9 4.3 L6.1 3.5 L6.4 2.5 L6.6 1.3 L6.8 0.0 L7.0 -1.3 L7.3 -2.5 L7.5 -3.5 L7.7 -4.3 L7.9 -4.8 L8.2 -5.0 L11.4 -5.0 L11.2 -4.8 L11.0 -4.3 L10.8 -3.5 L10.5 -2.5 L10.3 -1.3 L10.1 0.0 L9.8 1.3 L9.6 2.5 L9.4 3.5 L9.2 4.3 L8.9 4.8 L8.7 5.0Z" fill="url(#rc8c8c8f2f2f2ffffff)" stroke="#959595" stroke-width="0.4" stroke-linejoin="round"/>
<path d="M10.9 5.0 L11.1 4.8 L11.3 4.3 L11.6 3.5 L11.8 2.5 L12.0 1.3 L12.3 0.0 L12.5 -1.3 L12.7 -2.5 L12.9 -3.5 L13.2 -4.3 L13.4 -4.8 L13.6 -5.0 L16.9 -5.0 L16.7 -4.8 L16.4 -4.3 L16.2 -3.5 L16.0 -2.5 L15.7 -1.3 L15.5 0.0 L15.3 1.3 L15.1 2.5 L14.8 3.5 L14.6 4.3 L14.4 4.8 L14.2 5.0Z" fill="url(#rc8c8c8f2f2f2ffffff)" stroke="#959595" stroke-width="0.4" stroke-linejoin="round"/>
<path d="M16.3 5.0 L16.6 4.8 L16.8 4.3 L17.0 3.5 L17.2 2.5 L17.5 1.3 L17.7 0.0 L21.0 0.0 L20.7 1.3 L20.5 2.5 L20.3 3.5 L20.1 4.3 L19.8 4.8 L19.6 5.0Z" fill="url(#rc8c8c8f2f2f2ffffff)" stroke="#959595" stroke-width="0.4" stroke-linejoin="round"/>
</g>
<g transform="translate(233.5,100.0) rotate(55.2)">
<path d="M3.1 -4.2 L3.4 -4.1 L3.7 -3.7 L3.9 -3.0 L4.2 -2.1 L4.4 -1.1 L4.7 -0.0 L5.0 1.1 L5.2 2.1 L5.5 3.0 L5.7 3.7 L6.0 4.1 L6.3 4.2 L10.0 4.2 L9.8 4.1 L9.5 3.7 L9.2 3.0 L9.0 2.1 L8.7 1.1 L8.5 -0.0 L8.2 -1.1 L7.9 -2.1 L7.7 -3.0 L7.4 -3.7 L7.1 -4.1 L6.9 -4.2Z" fill="#c8c8c8" stroke="#959595" stroke-width="0.4" stroke-linejoin="round"/>
<path d="M9.4 -4.2 L9.7 -4.1 L9.9 -3.7 L10.2 -3.0 L10.4 -2.1 L10.7 -1.1 L11.0 -0.0 L11.2 1.1 L11.5 2.1 L11.7 3.0 L12.0 3.7 L12.3 4.1 L12.5 4.2 L16.3 4.2 L16.0 4.1 L15.8 3.7 L15.5 3.0 L15.2 2.1 L15.0 1.1 L14.7 -0.0 L14.5 -1.1 L14.2 -2.1 L13.9 -3.0 L13.7 -3.7 L13.4 -4.1 L13.1 -4.2Z" fill="#c8c8c8" stroke="#959595" stroke-width="0.4" stroke-linejoin="round"/>
<path d="M15.7 -4.2 L15.9 -4.1 L16.2 -3.7 L16.4 -3.0 L16.7 -2.1 L17.0 -1.1 L17.2 -0.0 L17.5 1.1 L17.7 2.1 L18.0 3.0 L18.3 3.7 L18.5 4.1 L18.8 4.2 L22.5 4.2 L22.3 4.1 L22.0 3.7 L21.8 3.0 L21.5 2.1 L21.2 1.1 L21.0 -0.0 L20.7 -1.1 L20.5 -2.1 L20.2 -3.0 L19.9 -3.7 L19.7 -4.1 L19.4 -4.2Z" fill="#c8c8c8" stroke="#959595" stroke-width="0.4" stroke-linejoin="round"/>
<path d="M0.0 4.2 L0.3 4.1 L0.5 3.7 L0.8 3.0 L1.0 2.1 L1.3 1.1 L1.6 0.0 L1.8 -1.1 L2.1 -2.1 L2.3 -3.0 L2.6 -3.7 L2.9 -4.1 L3.1 -4.2 L6.9 -4.2 L6.6 -4.1 L6.4 -3.7 L6.1 -3.0 L5.8 -2.1 L5.6 -1.1 L5.3 0.0 L5.1 1.1 L4.8 2.1 L4.5 3.0 L4.3 3.7 L4.0 4.1 L3.8 4.2Z" fill="url(#rc8c8c8f2f2f2ffffff)" stroke="#959595" stroke-width="0.4" stroke-linejoin="round"/>
<path d="M6.3 4.2 L6.5 4.1 L6.8 3.7 L7.0 3.0 L7.3 2.1 L7.6 1.1 L7.8 0.0 L8.1 -1.1 L8.3 -2.1 L8.6 -3.0 L8.9 -3.7 L9.1 -4.1 L9.4 -4.2 L13.1 -4.2 L12.9 -4.1 L12.6 -3.7 L12.4 -3.0 L12.1 -2.1 L11.8 -1.1 L11.6 0.0 L11.3 1.1 L11.1 2.1 L10.8 3.0 L10.5 3.7 L10.3 4.1 L10.0 4.2Z" fill="url(#rc8c8c8f2f2f2ffffff)" stroke="#959595" stroke-width="0.4" stroke-linejoin="round"/>
<path d="M12.5 4.2 L12.8 4.1 L13.0 3.7 L13.3 3.0 L13.6 2.1 L13.8 1.1 L14.1 0.0 L14.3 -1.1 L14.6 -2.1 L14.9 -3.0 L15.1 -3.7 L15.4 -4.1 L15.7 -4.2 L19.4 -4.2 L19.1 -4.1 L18.9 -3.7 L18.6 -3.0 L18.4 -2.1 L18.1 -1.1 L17.8 0.0 L17.6 1.1 L17.3 2.1 L17.1 3.0 L16.8 3.7 L16.5 4.1 L16.3 4.2Z" fill="url(#rc8c8c8f2f2f2ffffff)" stroke="#959595" stroke-width="0.4" stroke-linejoin="round"/>
<path d="M18.8 4.2 L19.0 4.1 L19.3 3.7 L19.6 3.0 L19.8 2.1 L20.1 1.1 L20.3 0.0 L24.1 0.0 L23.8 1.1 L23.6 2.1 L23.3 3.0 L23.1 3.7 L22.8 4.1 L22.5 4.2Z" fill="url(#rc8c8c8f2f2f2ffffff)" stroke="#959595" stroke-width="0.4" stroke-linejoin="round"/>
</g>
<ellipse cx="225.4" cy="114.4" rx="3.6" ry="3.2" fill="#eeeeee" stroke="#9a9a9a" stroke-width="0.5"/>
<path d="M248.0 78.6 C247.8 79.5 246.7 82.4 247.0 84.0 C247.3 85.6 248.6 87.3 249.6 88.4 C250.6 89.5 251.8 90.3 253.0 90.5 C254.2 90.7 256.0 90.2 256.8 89.3 C257.6 88.4 258.0 86.5 258.0 85.0 C258.0 83.5 257.0 81.2 256.8 80.4" fill="none" stroke="#333" stroke-width="2.4" stroke-linecap="round"/>
<path d="M248.0 78.6 C247.8 79.5 246.7 82.4 247.0 84.0 C247.3 85.6 248.6 87.3 249.6 88.4 C250.6 89.5 251.8 90.3 253.0 90.5 C254.2 90.7 256.0 90.2 256.8 89.3 C257.6 88.4 258.0 86.5 258.0 85.0 C258.0 83.5 257.0 81.2 256.8 80.4" fill="none" stroke="#f4f4f4" stroke-width="1.0" stroke-linecap="round"/>
<defs>
<linearGradient id="rd2d2d2f4f4f4ffffff" x1="0" y1="0" x2="1" y2="0"><stop offset="0" stop-color="#d2d2d2"/><stop offset="0.45" stop-color="#f4f4f4"/><stop offset="1" stop-color="#ffffff"/></linearGradient>
<linearGradient id="r4a4a4a6c6c6c989898" x1="0" y1="0" x2="1" y2="0"><stop offset="0" stop-color="#4a4a4a"/><stop offset="0.45" stop-color="#6c6c6c"/><stop offset="1" stop-color="#989898"/></linearGradient>
<linearGradient id="rb8b8b8eeeeeeffffff" x1="0" y1="0" x2="1" y2="0"><stop offset="0" stop-color="#b8b8b8"/><stop offset="0.45" stop-color="#eeeeee"/><stop offset="1" stop-color="#ffffff"/></linearGradient>
<linearGradient id="rcacacaf4f4f4ffffff" x1="0" y1="0" x2="1" y2="0"><stop offset="0" stop-color="#cacaca"/><stop offset="0.45" stop-color="#f4f4f4"/><stop offset="1" stop-color="#ffffff"/></linearGradient>
<linearGradient id="rc8c8c8f2f2f2ffffff" x1="0" y1="0" x2="1" y2="0"><stop offset="0" stop-color="#c8c8c8"/><stop offset="0.45" stop-color="#f2f2f2"/><stop offset="1" stop-color="#ffffff"/></linearGradient>
<linearGradient id="r909090d8d8d8f4f4f4" x1="0" y1="0" x2="1" y2="0"><stop offset="0" stop-color="#909090"/><stop offset="0.45" stop-color="#d8d8d8"/><stop offset="1" stop-color="#f4f4f4"/></linearGradient>
<linearGradient id="rc86c1cf5871ffbb468" x1="0" y1="0" x2="1" y2="0"><stop offset="0" stop-color="#c86c1c"/><stop offset="0.45" stop-color="#f5871f"/><stop offset="1" stop-color="#fbb468"/></linearGradient>
<linearGradient id="r7a4a20b07040d09a6a" x1="0" y1="0" x2="1" y2="0"><stop offset="0" stop-color="#7a4a20"/><stop offset="0.45" stop-color="#b07040"/><stop offset="1" stop-color="#d09a6a"/></linearGradient>
<linearGradient id="r4e8f227cc040a8dc78" x1="0" y1="0" x2="1" y2="0"><stop offset="0" stop-color="#4e8f22"/><stop offset="0.45" stop-color="#7cc040"/><stop offset="1" stop-color="#a8dc78"/></linearGradient>
<linearGradient id="r7e3f9ea86cc4d0a8e4" x1="0" y1="0" x2="1" y2="0"><stop offset="0" stop-color="#7e3f9e"/><stop offset="0.45" stop-color="#a86cc4"/><stop offset="1" stop-color="#d0a8e4"/></linearGradient>
<linearGradient id="rb00000f01a1aff7070" x1="0" y1="0" x2="1" y2="0"><stop offset="0" stop-color="#b00000"/><stop offset="0.45" stop-color="#f01a1a"/><stop offset="1" stop-color="#ff7070"/></linearGradient>
<linearGradient id="r0505052a2a2a555555" x1="0" y1="0" x2="1" y2="0"><stop offset="0" stop-color="#050505"/><stop offset="0.45" stop-color="#2a2a2a"/><stop offset="1" stop-color="#555555"/></linearGradient>
<linearGradient id="r00008c0a0af05a5aff" x1="0" y1="0" x2="1" y2="0"><stop offset="0" stop-color="#00008c"/><stop offset="0.45" stop-color="#0a0af0"/><stop offset="1" stop-color="#5a5aff"/></linearGradient>
<linearGradient id="rb0a800eee81afbf790" x1="0" y1="0" x2="1" y2="0"><stop offset="0" stop-color="#b0a800"/><stop offset="0.45" stop-color="#eee81a"/><stop offset="1" stop-color="#fbf790"/></linearGradient>
</defs>
<path d="M3.0 262.0 C3.8 261.0 6.2 257.7 8.0 256.0 C9.8 254.3 12.0 253.0 14.0 252.0 C16.0 251.0 18.3 249.7 20.0 250.0 C21.7 250.3 23.7 254.7 24.0 254.0 C24.3 253.3 23.0 247.8 22.0 246.0 C21.0 244.2 18.7 243.5 18.0 243.0" fill="none" stroke="#9c9c9c" stroke-width="1.7" stroke-linecap="round"/>
<path d="M3.0 262.0 C3.8 261.0 6.2 257.7 8.0 256.0 C9.8 254.3 12.0 253.0 14.0 252.0 C16.0 251.0 18.3 249.7 20.0 250.0 C21.7 250.3 23.7 254.7 24.0 254.0 C24.3 253.3 23.0 247.8 22.0 246.0 C21.0 244.2 18.7 243.5 18.0 243.0" fill="none" stroke="#ffffff" stroke-width="0.7" stroke-linecap="round"/>
<path d="M20.0 250.0 C21.0 249.0 24.3 244.3 26.0 244.0 C27.7 243.7 28.7 246.7 30.0 248.0 C31.3 249.3 34.0 250.3 34.0 252.0 C34.0 253.7 31.3 256.3 30.0 258.0 C28.7 259.7 27.0 260.0 26.0 262.0 C25.0 264.0 23.7 267.3 24.0 270.0 C24.3 272.7 26.3 276.0 28.0 278.0 C29.7 280.0 31.7 281.7 34.0 282.0 C36.3 282.3 39.7 281.0 42.0 280.0 C44.3 279.0 46.0 276.3 48.0 276.0 C50.0 275.7 52.0 278.3 54.0 278.0 C56.0 277.7 59.0 274.7 60.0 274.0" fill="none" stroke="#9c9c9c" stroke-width="1.7" stroke-linecap="round"/>
<path d="M20.0 250.0 C21.0 249.0 24.3 244.3 26.0 244.0 C27.7 243.7 28.7 246.7 30.0 248.0 C31.3 249.3 34.0 250.3 34.0 252.0 C34.0 253.7 31.3 256.3 30.0 258.0 C28.7 259.7 27.0 260.0 26.0 262.0 C25.0 264.0 23.7 267.3 24.0 270.0 C24.3 272.7 26.3 276.0 28.0 278.0 C29.7 280.0 31.7 281.7 34.0 282.0 C36.3 282.3 39.7 281.0 42.0 280.0 C44.3 279.0 46.0 276.3 48.0 276.0 C50.0 275.7 52.0 278.3 54.0 278.0 C56.0 277.7 59.0 274.7 60.0 274.0" fill="none" stroke="#ffffff" stroke-width="0.7" stroke-linecap="round"/>
<path d="M44.0 262.0 C45.0 262.7 48.3 264.3 50.0 266.0 C51.7 267.7 52.3 271.7 54.0 272.0 C55.7 272.3 58.0 268.3 60.0 268.0 C62.0 267.7 64.0 268.7 66.0 270.0 C68.0 271.3 69.7 275.7 72.0 276.0 C74.3 276.3 77.7 273.3 80.0 272.0 C82.3 270.7 84.0 268.3 86.0 268.0 C88.0 267.7 91.0 269.7 92.0 270.0" fill="none" stroke="#9c9c9c" stroke-width="1.7" stroke-linecap="round"/>
<path d="M44.0 262.0 C45.0 262.7 48.3 264.3 50.0 266.0 C51.7 267.7 52.3 271.7 54.0 272.0 C55.7 272.3 58.0 268.3 60.0 268.0 C62.0 267.7 64.0 268.7 66.0 270.0 C68.0 271.3 69.7 275.7 72.0 276.0 C74.3 276.3 77.7 273.3 80.0 272.0 C82.3 270.7 84.0 268.3 86.0 268.0 C88.0 267.7 91.0 269.7 92.0 270.0" fill="none" stroke="#ffffff" stroke-width="0.7" stroke-linecap="round"/>
<path d="M46.0 248.0 C46.7 247.0 48.3 242.3 50.0 242.0 C51.7 241.7 54.0 246.3 56.0 246.0 C58.0 245.7 59.7 240.3 62.0 240.0 C64.3 239.7 68.7 243.3 70.0 244.0" fill="none" stroke="#9c9c9c" stroke-width="1.7" stroke-linecap="round"/>
<path d="M46.0 248.0 C46.7 247.0 48.3 242.3 50.0 242.0 C51.7 241.7 54.0 246.3 56.0 246.0 C58.0 245.7 59.7 240.3 62.0 240.0 C64.3 239.7 68.7 243.3 70.0 244.0" fill="none" stroke="#ffffff" stroke-width="0.7" stroke-linecap="round"/>
<path d="M82.0 262.0 C82.7 262.7 84.3 265.7 86.0 266.0 C87.7 266.3 90.7 263.7 92.0 264.0 C93.3 264.3 94.3 266.8 94.0 268.0 C93.7 269.2 90.7 270.5 90.0 271.0" fill="none" stroke="#9c9c9c" stroke-width="1.7" stroke-linecap="round"/>
<path d="M82.0 262.0 C82.7 262.7 84.3 265.7 86.0 266.0 C87.7 266.3 90.7 263.7 92.0 264.0 C93.3 264.3 94.3 266.8 94.0 268.0 C93.7 269.2 90.7 270.5 90.0 271.0" fill="none" stroke="#ffffff" stroke-width="0.7" stroke-linecap="round"/>
<path d="M8.0 268.0 C9.0 267.0 12.3 262.0 14.0 262.0 C15.7 262.0 18.0 266.0 18.0 268.0 C18.0 270.0 13.7 272.7 14.0 274.0 C14.3 275.3 19.0 275.7 20.0 276.0" fill="none" stroke="#9c9c9c" stroke-width="1.7" stroke-linecap="round"/>
<path d="M8.0 268.0 C9.0 267.0 12.3 262.0 14.0 262.0 C15.7 262.0 18.0 266.0 18.0 268.0 C18.0 270.0 13.7 272.7 14.0 274.0 C14.3 275.3 19.0 275.7 20.0 276.0" fill="none" stroke="#ffffff" stroke-width="0.7" stroke-linecap="round"/>
<g transform="translate(2.5,263.0) rotate(-21.8)">
<path d="M2.7 -4.0 L2.9 -3.9 L3.1 -3.5 L3.4 -2.8 L3.6 -2.0 L3.8 -1.0 L4.0 -0.0 L4.3 1.0 L4.5 2.0 L4.7 2.8 L4.9 3.5 L5.2 3.9 L5.4 4.0 L8.3 4.0 L8.1 3.9 L7.9 3.5 L7.7 2.8 L7.4 2.0 L7.2 1.0 L7.0 -0.0 L6.8 -1.0 L6.6 -2.0 L6.3 -2.8 L6.1 -3.5 L5.9 -3.9 L5.7 -4.0Z" fill="#cacaca" stroke="#9a9a9a" stroke-width="0.4" stroke-linejoin="round"/>
<path d="M8.1 -4.0 L8.3 -3.9 L8.5 -3.5 L8.8 -2.8 L9.0 -2.0 L9.2 -1.0 L9.4 -0.0 L9.6 1.0 L9.9 2.0 L10.1 2.8 L10.3 3.5 L10.5 3.9 L10.8 4.0 L13.7 4.0 L13.5 3.9 L13.3 3.5 L13.1 2.8 L12.8 2.0 L12.6 1.0 L12.4 -0.0 L12.2 -1.0 L11.9 -2.0 L11.7 -2.8 L11.5 -3.5 L11.3 -3.9 L11.0 -4.0Z" fill="#cacaca" stroke="#9a9a9a" stroke-width="0.4" stroke-linejoin="round"/>
<path d="M13.5 -4.0 L13.7 -3.9 L13.9 -3.5 L14.1 -2.8 L14.4 -2.0 L14.6 -1.0 L14.8 -0.0 L15.0 1.0 L15.3 2.0 L15.5 2.8 L15.7 3.5 L15.9 3.9 L16.2 4.0 L19.1 4.0 L18.9 3.9 L18.7 3.5 L18.4 2.8 L18.2 2.0 L18.0 1.0 L17.8 -0.0 L17.5 -1.0 L17.3 -2.0 L17.1 -2.8 L16.9 -3.5 L16.6 -3.9 L16.4 -4.0Z" fill="#cacaca" stroke="#9a9a9a" stroke-width="0.4" stroke-linejoin="round"/>
<path d="M0.0 4.0 L0.2 3.9 L0.4 3.5 L0.7 2.8 L0.9 2.0 L1.1 1.0 L1.3 0.0 L1.6 -1.0 L1.8 -2.0 L2.0 -2.8 L2.2 -3.5 L2.5 -3.9 L2.7 -4.0 L5.7 -4.0 L5.4 -3.9 L5.2 -3.5 L5.0 -2.8 L4.8 -2.0 L4.5 -1.0 L4.3 0.0 L4.1 1.0 L3.9 2.0 L3.6 2.8 L3.4 3.5 L3.2 3.9 L3.0 4.0Z" fill="url(#rcacacaf4f4f4ffffff)" stroke="#9a9a9a" stroke-width="0.4" stroke-linejoin="round"/>
<path d="M5.4 4.0 L5.6 3.9 L5.8 3.5 L6.1 2.8 L6.3 2.0 L6.5 1.0 L6.7 0.0 L7.0 -1.0 L7.2 -2.0 L7.4 -2.8 L7.6 -3.5 L7.9 -3.9 L8.1 -4.0 L11.0 -4.0 L10.8 -3.9 L10.6 -3.5 L10.4 -2.8 L10.1 -2.0 L9.9 -1.0 L9.7 0.0 L9.5 1.0 L9.2 2.0 L9.0 2.8 L8.8 3.5 L8.6 3.9 L8.3 4.0Z" fill="url(#rcacacaf4f4f4ffffff)" stroke="#9a9a9a" stroke-width="0.4" stroke-linejoin="round"/>
<path d="M10.8 4.0 L11.0 3.9 L11.2 3.5 L11.4 2.8 L11.7 2.0 L11.9 1.0 L12.1 0.0 L12.3 -1.0 L12.6 -2.0 L12.8 -2.8 L13.0 -3.5 L13.2 -3.9 L13.5 -4.0 L16.4 -4.0 L16.2 -3.9 L16.0 -3.5 L15.8 -2.8 L15.5 -2.0 L15.3 -1.0 L15.1 0.0 L14.9 1.0 L14.6 2.0 L14.4 2.8 L14.2 3.5 L14.0 3.9 L13.7 4.0Z" fill="url(#rcacacaf4f4f4ffffff)" stroke="#9a9a9a" stroke-width="0.4" stroke-linejoin="round"/>
<path d="M16.2 4.0 L16.4 3.9 L16.6 3.5 L16.8 2.8 L17.1 2.0 L17.3 1.0 L17.5 0.0 L20.5 0.0 L20.2 1.0 L20.0 2.0 L19.8 2.8 L19.6 3.5 L19.3 3.9 L19.1 4.0Z" fill="url(#rcacacaf4f4f4ffffff)" stroke="#9a9a9a" stroke-width="0.4" stroke-linejoin="round"/>
</g>
<g transform="translate(22.0,264.0) rotate(61.9)">
<path d="M2.4 -4.0 L2.6 -3.9 L2.8 -3.5 L3.0 -2.8 L3.2 -2.0 L3.4 -1.0 L3.6 -0.0 L3.8 1.0 L4.0 2.0 L4.2 2.8 L4.5 3.5 L4.7 3.9 L4.9 4.0 L7.5 4.0 L7.3 3.9 L7.1 3.5 L6.9 2.8 L6.7 2.0 L6.5 1.0 L6.3 -0.0 L6.1 -1.0 L5.9 -2.0 L5.7 -2.8 L5.5 -3.5 L5.3 -3.9 L5.1 -4.0Z" fill="#909090" stroke="#808080" stroke-width="0.4" stroke-linejoin="round"/>
<path d="M7.3 -4.0 L7.5 -3.9 L7.7 -3.5 L7.9 -2.8 L8.1 -2.0 L8.3 -1.0 L8.5 -0.0 L8.7 1.0 L8.9 2.0 L9.1 2.8 L9.3 3.5 L9.5 3.9 L9.7 4.0 L12.4 4.0 L12.2 3.9 L12.0 3.5 L11.8 2.8 L11.6 2.0 L11.4 1.0 L11.2 -0.0 L11.0 -1.0 L10.8 -2.0 L10.6 -2.8 L10.4 -3.5 L10.2 -3.9 L10.0 -4.0Z" fill="#909090" stroke="#808080" stroke-width="0.4" stroke-linejoin="round"/>
<path d="M12.1 -4.0 L12.3 -3.9 L12.5 -3.5 L12.7 -2.8 L13.0 -2.0 L13.2 -1.0 L13.4 -0.0 L13.6 1.0 L13.8 2.0 L14.0 2.8 L14.2 3.5 L14.4 3.9 L14.6 4.0 L17.2 4.0 L17.0 3.9 L16.8 3.5 L16.6 2.8 L16.4 2.0 L16.2 1.0 L16.0 -0.0 L15.8 -1.0 L15.6 -2.0 L15.4 -2.8 L15.2 -3.5 L15.0 -3.9 L14.8 -4.0Z" fill="#909090" stroke="#808080" stroke-width="0.4" stroke-linejoin="round"/>
<path d="M0.0 4.0 L0.2 3.9 L0.4 3.5 L0.6 2.8 L0.8 2.0 L1.0 1.0 L1.2 0.0 L1.4 -1.0 L1.6 -2.0 L1.8 -2.8 L2.0 -3.5 L2.2 -3.9 L2.4 -4.0 L5.1 -4.0 L4.9 -3.9 L4.7 -3.5 L4.5 -2.8 L4.3 -2.0 L4.1 -1.0 L3.9 0.0 L3.7 1.0 L3.5 2.0 L3.3 2.8 L3.1 3.5 L2.9 3.9 L2.7 4.0Z" fill="url(#r909090d8d8d8f4f4f4)" stroke="#808080" stroke-width="0.4" stroke-linejoin="round"/>
<path d="M4.9 4.0 L5.1 3.9 L5.3 3.5 L5.5 2.8 L5.7 2.0 L5.9 1.0 L6.1 0.0 L6.3 -1.0 L6.5 -2.0 L6.7 -2.8 L6.9 -3.5 L7.1 -3.9 L7.3 -4.0 L10.0 -4.0 L9.8 -3.9 L9.6 -3.5 L9.3 -2.8 L9.1 -2.0 L8.9 -1.0 L8.7 0.0 L8.5 1.0 L8.3 2.0 L8.1 2.8 L7.9 3.5 L7.7 3.9 L7.5 4.0Z" fill="url(#r909090d8d8d8f4f4f4)" stroke="#808080" stroke-width="0.4" stroke-linejoin="round"/>
<path d="M9.7 4.0 L9.9 3.9 L10.1 3.5 L10.3 2.8 L10.5 2.0 L10.7 1.0 L10.9 0.0 L11.1 -1.0 L11.3 -2.0 L11.5 -2.8 L11.7 -3.5 L11.9 -3.9 L12.1 -4.0 L14.8 -4.0 L14.6 -3.9 L14.4 -3.5 L14.2 -2.8 L14.0 -2.0 L13.8 -1.0 L13.6 0.0 L13.4 1.0 L13.2 2.0 L13.0 2.8 L12.8 3.5 L12.6 3.9 L12.4 4.0Z" fill="url(#r909090d8d8d8f4f4f4)" stroke="#808080" stroke-width="0.4" stroke-linejoin="round"/>
<path d="M14.6 4.0 L14.8 3.9 L15.0 3.5 L15.2 2.8 L15.4 2.0 L15.6 1.0 L15.8 0.0 L18.5 0.0 L18.3 1.0 L18.1 2.0 L17.8 2.8 L17.6 3.5 L17.4 3.9 L17.2 4.0Z" fill="url(#r909090d8d8d8f4f4f4)" stroke="#808080" stroke-width="0.4" stroke-linejoin="round"/>
</g>
<g transform="translate(34.0,256.0) rotate(50.2)">
<path d="M2.2 -4.0 L2.4 -3.9 L2.6 -3.5 L2.8 -2.8 L3.0 -2.0 L3.2 -1.0 L3.3 -0.0 L3.5 1.0 L3.7 2.0 L3.9 2.8 L4.1 3.5 L4.3 3.9 L4.5 4.0 L6.9 4.0 L6.7 3.9 L6.5 3.5 L6.4 2.8 L6.2 2.0 L6.0 1.0 L5.8 -0.0 L5.6 -1.0 L5.4 -2.0 L5.2 -2.8 L5.1 -3.5 L4.9 -3.9 L4.7 -4.0Z" fill="#909090" stroke="#808080" stroke-width="0.4" stroke-linejoin="round"/>
<path d="M6.7 -4.0 L6.9 -3.9 L7.1 -3.5 L7.3 -2.8 L7.4 -2.0 L7.6 -1.0 L7.8 -0.0 L8.0 1.0 L8.2 2.0 L8.4 2.8 L8.6 3.5 L8.7 3.9 L8.9 4.0 L11.4 4.0 L11.2 3.9 L11.0 3.5 L10.8 2.8 L10.6 2.0 L10.5 1.0 L10.3 -0.0 L10.1 -1.0 L9.9 -2.0 L9.7 -2.8 L9.5 -3.5 L9.3 -3.9 L9.1 -4.0Z" fill="#909090" stroke="#808080" stroke-width="0.4" stroke-linejoin="round"/>
<path d="M11.2 -4.0 L11.3 -3.9 L11.5 -3.5 L11.7 -2.8 L11.9 -2.0 L12.1 -1.0 L12.3 -0.0 L12.5 1.0 L12.6 2.0 L12.8 2.8 L13.0 3.5 L13.2 3.9 L13.4 4.0 L15.8 4.0 L15.7 3.9 L15.5 3.5 L15.3 2.8 L15.1 2.0 L14.9 1.0 L14.7 -0.0 L14.5 -1.0 L14.4 -2.0 L14.2 -2.8 L14.0 -3.5 L13.8 -3.9 L13.6 -4.0Z" fill="#909090" stroke="#808080" stroke-width="0.4" stroke-linejoin="round"/>
<path d="M0.0 4.0 L0.2 3.9 L0.4 3.5 L0.6 2.8 L0.7 2.0 L0.9 1.0 L1.1 0.0 L1.3 -1.0 L1.5 -2.0 L1.7 -2.8 L1.9 -3.5 L2.0 -3.9 L2.2 -4.0 L4.7 -4.0 L4.5 -3.9 L4.3 -3.5 L4.1 -2.8 L3.9 -2.0 L3.8 -1.0 L3.6 0.0 L3.4 1.0 L3.2 2.0 L3.0 2.8 L2.8 3.5 L2.6 3.9 L2.5 4.0Z" fill="url(#r909090d8d8d8f4f4f4)" stroke="#808080" stroke-width="0.4" stroke-linejoin="round"/>
<path d="M4.5 4.0 L4.6 3.9 L4.8 3.5 L5.0 2.8 L5.2 2.0 L5.4 1.0 L5.6 0.0 L5.8 -1.0 L6.0 -2.0 L6.1 -2.8 L6.3 -3.5 L6.5 -3.9 L6.7 -4.0 L9.1 -4.0 L9.0 -3.9 L8.8 -3.5 L8.6 -2.8 L8.4 -2.0 L8.2 -1.0 L8.0 0.0 L7.8 1.0 L7.7 2.0 L7.5 2.8 L7.3 3.5 L7.1 3.9 L6.9 4.0Z" fill="url(#r909090d8d8d8f4f4f4)" stroke="#808080" stroke-width="0.4" stroke-linejoin="round"/>
<path d="M8.9 4.0 L9.1 3.9 L9.3 3.5 L9.5 2.8 L9.7 2.0 L9.9 1.0 L10.0 0.0 L10.2 -1.0 L10.4 -2.0 L10.6 -2.8 L10.8 -3.5 L11.0 -3.9 L11.2 -4.0 L13.6 -4.0 L13.4 -3.9 L13.2 -3.5 L13.1 -2.8 L12.9 -2.0 L12.7 -1.0 L12.5 0.0 L12.3 1.0 L12.1 2.0 L11.9 2.8 L11.8 3.5 L11.6 3.9 L11.4 4.0Z" fill="url(#r909090d8d8d8f4f4f4)" stroke="#808080" stroke-width="0.4" stroke-linejoin="round"/>
<path d="M13.4 4.0 L13.6 3.9 L13.8 3.5 L13.9 2.8 L14.1 2.0 L14.3 1.0 L14.5 0.0 L17.0 0.0 L16.8 1.0 L16.6 2.0 L16.4 2.8 L16.2 3.5 L16.0 3.9 L15.8 4.0Z" fill="url(#r909090d8d8d8f4f4f4)" stroke="#808080" stroke-width="0.4" stroke-linejoin="round"/>
</g>
<path transform="translate(48.0,250.0) rotate(-10.4)" d="M0.0 -2.0 L33.8 -2.0 L33.8 -3.6 L38.6 0.0 L33.8 3.6 L33.8 2.0 L0.0 2.0Z" fill="#d2d2d2" stroke="#8e8e8e" stroke-width="0.4" stroke-linejoin="round"/>
<path transform="translate(50.0,255.0) rotate(-10.0)" d="M0.0 -2.0 L29.7 -2.0 L29.7 -3.6 L34.5 0.0 L29.7 3.6 L29.7 2.0 L0.0 2.0Z" fill="#dedede" stroke="#8e8e8e" stroke-width="0.4" stroke-linejoin="round"/>
<path transform="translate(52.0,258.0) rotate(-4.8)" d="M0.0 -1.8 L19.9 -1.8 L19.9 -3.1 L24.1 0.0 L19.9 3.1 L19.9 1.8 L0.0 1.8Z" fill="#e8e8e8" stroke="#999" stroke-width="0.4" stroke-linejoin="round"/>
<g transform="translate(76.0,256.0) rotate(36.9)">
<path d="M2.0 -3.5 L2.2 -3.4 L2.3 -3.0 L2.5 -2.5 L2.7 -1.8 L2.8 -0.9 L3.0 -0.0 L3.2 0.9 L3.3 1.7 L3.5 2.5 L3.7 3.0 L3.8 3.4 L4.0 3.5 L6.2 3.5 L6.0 3.4 L5.9 3.0 L5.7 2.5 L5.5 1.7 L5.4 0.9 L5.2 -0.0 L5.0 -0.9 L4.9 -1.8 L4.7 -2.5 L4.5 -3.0 L4.4 -3.4 L4.2 -3.5Z" fill="#cacaca" stroke="#9a9a9a" stroke-width="0.4" stroke-linejoin="round"/>
<path d="M6.0 -3.5 L6.2 -3.4 L6.3 -3.0 L6.5 -2.5 L6.7 -1.8 L6.8 -0.9 L7.0 -0.0 L7.2 0.9 L7.3 1.7 L7.5 2.5 L7.7 3.0 L7.8 3.4 L8.0 3.5 L10.2 3.5 L10.0 3.4 L9.9 3.0 L9.7 2.5 L9.5 1.7 L9.4 0.9 L9.2 -0.0 L9.0 -0.9 L8.9 -1.8 L8.7 -2.5 L8.5 -3.0 L8.4 -3.4 L8.2 -3.5Z" fill="#cacaca" stroke="#9a9a9a" stroke-width="0.4" stroke-linejoin="round"/>
<path d="M0.0 3.5 L0.2 3.4 L0.3 3.0 L0.5 2.5 L0.7 1.8 L0.8 0.9 L1.0 0.0 L1.2 -0.9 L1.3 -1.7 L1.5 -2.5 L1.7 -3.0 L1.8 -3.4 L2.0 -3.5 L4.2 -3.5 L4.0 -3.4 L3.9 -3.0 L3.7 -2.5 L3.5 -1.7 L3.4 -0.9 L3.2 0.0 L3.0 0.9 L2.9 1.8 L2.7 2.5 L2.5 3.0 L2.4 3.4 L2.2 3.5Z" fill="url(#rcacacaf4f4f4ffffff)" stroke="#9a9a9a" stroke-width="0.4" stroke-linejoin="round"/>
<path d="M4.0 3.5 L4.2 3.4 L4.3 3.0 L4.5 2.5 L4.7 1.8 L4.8 0.9 L5.0 0.0 L5.2 -0.9 L5.3 -1.7 L5.5 -2.5 L5.7 -3.0 L5.8 -3.4 L6.0 -3.5 L8.2 -3.5 L8.0 -3.4 L7.9 -3.0 L7.7 -2.5 L7.5 -1.7 L7.4 -0.9 L7.2 0.0 L7.0 0.9 L6.9 1.8 L6.7 2.5 L6.5 3.0 L6.4 3.4 L6.2 3.5Z" fill="url(#rcacacaf4f4f4ffffff)" stroke="#9a9a9a" stroke-width="0.4" stroke-linejoin="round"/>
<path d="M8.0 3.5 L8.2 3.4 L8.3 3.0 L8.5 2.5 L8.7 1.8 L8.8 0.9 L9.0 0.0 L11.2 0.0 L11.0 0.9 L10.9 1.8 L10.7 2.5 L10.5 3.0 L10.4 3.4 L10.2 3.5Z" fill="url(#rcacacaf4f4f4ffffff)" stroke="#9a9a9a" stroke-width="0.4" stroke-linejoin="round"/>
</g>
<path d="M8.0 203.0 C8.5 202.0 10.0 198.3 11.0 197.0 C12.0 195.7 13.5 195.3 14.0 195.0" fill="none" stroke="#e8862a" stroke-width="0.8" stroke-linecap="round"/>
<path d="M3.0 210.0 C2.8 211.0 1.8 214.0 2.0 216.0 C2.2 218.0 3.8 220.0 4.0 222.0 C4.2 224.0 3.2 227.0 3.0 228.0" fill="none" stroke="#e8862a" stroke-width="0.8" stroke-linecap="round"/>
<path d="M33.0 232.0 C33.2 233.0 33.7 236.3 34.0 238.0 C34.3 239.7 34.0 241.2 35.0 242.0 C36.0 242.8 38.7 243.3 40.0 243.0 C41.3 242.7 42.5 240.5 43.0 240.0" fill="none" stroke="#d88040" stroke-width="0.8" stroke-linecap="round"/>
<path d="M28.0 198.0 C28.7 197.7 30.7 195.7 32.0 196.0 C33.3 196.3 35.0 198.3 36.0 200.0 C37.0 201.7 38.0 204.0 38.0 206.0 C38.0 208.0 36.3 211.0 36.0 212.0" fill="none" stroke="#e8862a" stroke-width="0.8" stroke-linecap="round"/>
<g transform="translate(14.8,197.5) rotate(19.4)">
<path d="M2.2 -3.8 L2.3 -3.6 L2.5 -3.2 L2.7 -2.7 L2.9 -1.9 L3.0 -1.0 L3.2 -0.0 L3.4 1.0 L3.6 1.9 L3.8 2.7 L3.9 3.2 L4.1 3.6 L4.3 3.8 L6.7 3.8 L6.5 3.6 L6.3 3.2 L6.1 2.7 L6.0 1.9 L5.8 1.0 L5.6 -0.0 L5.4 -1.0 L5.2 -1.9 L5.1 -2.7 L4.9 -3.2 L4.7 -3.6 L4.5 -3.8Z" fill="#c86c1c" stroke="#9a5212" stroke-width="0.4" stroke-linejoin="round"/>
<path d="M6.5 -3.8 L6.6 -3.6 L6.8 -3.2 L7.0 -2.7 L7.2 -1.9 L7.3 -1.0 L7.5 -0.0 L7.7 1.0 L7.9 1.9 L8.1 2.7 L8.2 3.2 L8.4 3.6 L8.6 3.8 L11.0 3.8 L10.8 3.6 L10.6 3.2 L10.4 2.7 L10.3 1.9 L10.1 1.0 L9.9 -0.0 L9.7 -1.0 L9.5 -1.9 L9.4 -2.7 L9.2 -3.2 L9.0 -3.6 L8.8 -3.8Z" fill="#c86c1c" stroke="#9a5212" stroke-width="0.4" stroke-linejoin="round"/>
<path d="M10.8 -3.8 L10.9 -3.6 L11.1 -3.2 L11.3 -2.7 L11.5 -1.9 L11.6 -1.0 L11.8 -0.0 L12.0 1.0 L12.2 1.9 L12.4 2.7 L12.5 3.2 L12.7 3.6 L12.9 3.8 L15.3 3.8 L15.1 3.6 L14.9 3.2 L14.7 2.7 L14.6 1.9 L14.4 1.0 L14.2 -0.0 L14.0 -1.0 L13.8 -1.9 L13.7 -2.7 L13.5 -3.2 L13.3 -3.6 L13.1 -3.8Z" fill="#c86c1c" stroke="#9a5212" stroke-width="0.4" stroke-linejoin="round"/>
<path d="M0.0 3.8 L0.2 3.6 L0.4 3.2 L0.5 2.7 L0.7 1.9 L0.9 1.0 L1.1 0.0 L1.3 -1.0 L1.4 -1.9 L1.6 -2.7 L1.8 -3.2 L2.0 -3.6 L2.2 -3.8 L4.5 -3.8 L4.3 -3.6 L4.2 -3.2 L4.0 -2.7 L3.8 -1.9 L3.6 -1.0 L3.4 0.0 L3.3 1.0 L3.1 1.9 L2.9 2.7 L2.7 3.2 L2.5 3.6 L2.4 3.8Z" fill="url(#rc86c1cf5871ffbb468)" stroke="#9a5212" stroke-width="0.4" stroke-linejoin="round"/>
<path d="M4.3 3.8 L4.5 3.6 L4.7 3.2 L4.8 2.7 L5.0 1.9 L5.2 1.0 L5.4 0.0 L5.6 -1.0 L5.7 -1.9 L5.9 -2.7 L6.1 -3.2 L6.3 -3.6 L6.5 -3.8 L8.8 -3.8 L8.6 -3.6 L8.5 -3.2 L8.3 -2.7 L8.1 -1.9 L7.9 -1.0 L7.7 0.0 L7.6 1.0 L7.4 1.9 L7.2 2.7 L7.0 3.2 L6.8 3.6 L6.7 3.8Z" fill="url(#rc86c1cf5871ffbb468)" stroke="#9a5212" stroke-width="0.4" stroke-linejoin="round"/>
<path d="M8.6 3.8 L8.8 3.6 L9.0 3.2 L9.1 2.7 L9.3 1.9 L9.5 1.0 L9.7 0.0 L9.9 -1.0 L10.0 -1.9 L10.2 -2.7 L10.4 -3.2 L10.6 -3.6 L10.8 -3.8 L13.1 -3.8 L12.9 -3.6 L12.8 -3.2 L12.6 -2.7 L12.4 -1.9 L12.2 -1.0 L12.0 0.0 L11.9 1.0 L11.7 1.9 L11.5 2.7 L11.3 3.2 L11.1 3.6 L11.0 3.8Z" fill="url(#rc86c1cf5871ffbb468)" stroke="#9a5212" stroke-width="0.4" stroke-linejoin="round"/>
<path d="M12.9 3.8 L13.1 3.6 L13.3 3.2 L13.4 2.7 L13.6 1.9 L13.8 1.0 L14.0 0.0 L16.3 0.0 L16.2 1.0 L16.0 1.9 L15.8 2.7 L15.6 3.2 L15.4 3.6 L15.3 3.8Z" fill="url(#rc86c1cf5871ffbb468)" stroke="#9a5212" stroke-width="0.4" stroke-linejoin="round"/>
</g>
<g transform="translate(3.5,208.5) rotate(8.1)">
<path d="M2.1 -4.0 L2.3 -3.9 L2.5 -3.5 L2.7 -2.8 L2.8 -2.0 L3.0 -1.0 L3.2 -0.0 L3.4 1.0 L3.5 2.0 L3.7 2.8 L3.9 3.5 L4.1 3.9 L4.2 4.0 L6.6 4.0 L6.4 3.9 L6.2 3.5 L6.0 2.8 L5.9 2.0 L5.7 1.0 L5.5 -0.0 L5.3 -1.0 L5.2 -2.0 L5.0 -2.8 L4.8 -3.5 L4.6 -3.9 L4.5 -4.0Z" fill="#c86c1c" stroke="#9a5212" stroke-width="0.4" stroke-linejoin="round"/>
<path d="M6.4 -4.0 L6.5 -3.9 L6.7 -3.5 L6.9 -2.8 L7.1 -2.0 L7.2 -1.0 L7.4 -0.0 L7.6 1.0 L7.8 2.0 L8.0 2.8 L8.1 3.5 L8.3 3.9 L8.5 4.0 L10.8 4.0 L10.6 3.9 L10.5 3.5 L10.3 2.8 L10.1 2.0 L9.9 1.0 L9.8 -0.0 L9.6 -1.0 L9.4 -2.0 L9.2 -2.8 L9.1 -3.5 L8.9 -3.9 L8.7 -4.0Z" fill="#c86c1c" stroke="#9a5212" stroke-width="0.4" stroke-linejoin="round"/>
<path d="M0.0 4.0 L0.2 3.9 L0.4 3.5 L0.5 2.8 L0.7 2.0 L0.9 1.0 L1.1 0.0 L1.2 -1.0 L1.4 -2.0 L1.6 -2.8 L1.8 -3.5 L1.9 -3.9 L2.1 -4.0 L4.5 -4.0 L4.3 -3.9 L4.1 -3.5 L3.9 -2.8 L3.7 -2.0 L3.6 -1.0 L3.4 0.0 L3.2 1.0 L3.0 2.0 L2.9 2.8 L2.7 3.5 L2.5 3.9 L2.3 4.0Z" fill="url(#rc86c1cf5871ffbb468)" stroke="#9a5212" stroke-width="0.4" stroke-linejoin="round"/>
<path d="M4.2 4.0 L4.4 3.9 L4.6 3.5 L4.8 2.8 L4.9 2.0 L5.1 1.0 L5.3 0.0 L5.5 -1.0 L5.7 -2.0 L5.8 -2.8 L6.0 -3.5 L6.2 -3.9 L6.4 -4.0 L8.7 -4.0 L8.5 -3.9 L8.3 -3.5 L8.2 -2.8 L8.0 -2.0 L7.8 -1.0 L7.6 0.0 L7.5 1.0 L7.3 2.0 L7.1 2.8 L6.9 3.5 L6.8 3.9 L6.6 4.0Z" fill="url(#rc86c1cf5871ffbb468)" stroke="#9a5212" stroke-width="0.4" stroke-linejoin="round"/>
<path d="M8.5 4.0 L8.7 3.9 L8.8 3.5 L9.0 2.8 L9.2 2.0 L9.4 1.0 L9.5 0.0 L11.9 0.0 L11.7 1.0 L11.5 2.0 L11.3 2.8 L11.2 3.5 L11.0 3.9 L10.8 4.0Z" fill="url(#rc86c1cf5871ffbb468)" stroke="#9a5212" stroke-width="0.4" stroke-linejoin="round"/>
</g>
<g transform="translate(15.0,209.5) rotate(17.0)">
<path d="M2.1 -4.2 L2.3 -4.1 L2.4 -3.7 L2.6 -3.0 L2.8 -2.1 L3.0 -1.1 L3.1 -0.0 L3.3 1.1 L3.5 2.1 L3.7 3.0 L3.8 3.7 L4.0 4.1 L4.2 4.2 L6.5 4.2 L6.3 4.1 L6.1 3.7 L6.0 3.0 L5.8 2.1 L5.6 1.1 L5.4 -0.0 L5.3 -1.1 L5.1 -2.1 L4.9 -3.0 L4.7 -3.7 L4.6 -4.1 L4.4 -4.2Z" fill="#c86c1c" stroke="#9a5212" stroke-width="0.4" stroke-linejoin="round"/>
<path d="M6.3 -4.2 L6.4 -4.1 L6.6 -3.7 L6.8 -3.0 L7.0 -2.1 L7.1 -1.1 L7.3 -0.0 L7.5 1.1 L7.7 2.1 L7.8 3.0 L8.0 3.7 L8.2 4.1 L8.4 4.2 L10.7 4.2 L10.5 4.1 L10.3 3.7 L10.1 3.0 L10.0 2.1 L9.8 1.1 L9.6 -0.0 L9.4 -1.1 L9.3 -2.1 L9.1 -3.0 L8.9 -3.7 L8.7 -4.1 L8.6 -4.2Z" fill="#c86c1c" stroke="#9a5212" stroke-width="0.4" stroke-linejoin="round"/>
<path d="M10.5 -4.2 L10.6 -4.1 L10.8 -3.7 L11.0 -3.0 L11.2 -2.1 L11.3 -1.1 L11.5 -0.0 L11.7 1.1 L11.9 2.1 L12.0 3.0 L12.2 3.7 L12.4 4.1 L12.5 4.2 L14.8 4.2 L14.7 4.1 L14.5 3.7 L14.3 3.0 L14.2 2.1 L14.0 1.1 L13.8 -0.0 L13.6 -1.1 L13.5 -2.1 L13.3 -3.0 L13.1 -3.7 L12.9 -4.1 L12.8 -4.2Z" fill="#c86c1c" stroke="#9a5212" stroke-width="0.4" stroke-linejoin="round"/>
<path d="M14.6 -4.2 L14.8 -4.1 L15.0 -3.7 L15.2 -3.0 L15.3 -2.1 L15.5 -1.1 L15.7 -0.0 L15.9 1.1 L16.0 2.1 L16.2 3.0 L16.4 3.7 L16.6 4.1 L16.7 4.2 L19.0 4.2 L18.9 4.1 L18.7 3.7 L18.5 3.0 L18.3 2.1 L18.2 1.1 L18.0 -0.0 L17.8 -1.1 L17.6 -2.1 L17.5 -3.0 L17.3 -3.7 L17.1 -4.1 L16.9 -4.2Z" fill="#c86c1c" stroke="#9a5212" stroke-width="0.4" stroke-linejoin="round"/>
<path d="M0.0 4.2 L0.2 4.1 L0.3 3.7 L0.5 3.0 L0.7 2.1 L0.9 1.1 L1.0 0.0 L1.2 -1.1 L1.4 -2.1 L1.6 -3.0 L1.7 -3.7 L1.9 -4.1 L2.1 -4.2 L4.4 -4.2 L4.2 -4.1 L4.0 -3.7 L3.9 -3.0 L3.7 -2.1 L3.5 -1.1 L3.3 0.0 L3.2 1.1 L3.0 2.1 L2.8 3.0 L2.6 3.7 L2.5 4.1 L2.3 4.2Z" fill="url(#rc86c1cf5871ffbb468)" stroke="#9a5212" stroke-width="0.4" stroke-linejoin="round"/>
<path d="M4.2 4.2 L4.4 4.1 L4.5 3.7 L4.7 3.0 L4.9 2.1 L5.1 1.1 L5.2 0.0 L5.4 -1.1 L5.6 -2.1 L5.8 -3.0 L5.9 -3.7 L6.1 -4.1 L6.3 -4.2 L8.6 -4.2 L8.4 -4.1 L8.2 -3.7 L8.1 -3.0 L7.9 -2.1 L7.7 -1.1 L7.5 0.0 L7.4 1.1 L7.2 2.1 L7.0 3.0 L6.8 3.7 L6.7 4.1 L6.5 4.2Z" fill="url(#rc86c1cf5871ffbb468)" stroke="#9a5212" stroke-width="0.4" stroke-linejoin="round"/>
<path d="M8.4 4.2 L8.5 4.1 L8.7 3.7 L8.9 3.0 L9.1 2.1 L9.2 1.1 L9.4 0.0 L9.6 -1.1 L9.8 -2.1 L9.9 -3.0 L10.1 -3.7 L10.3 -4.1 L10.5 -4.2 L12.8 -4.2 L12.6 -4.1 L12.4 -3.7 L12.2 -3.0 L12.1 -2.1 L11.9 -1.1 L11.7 0.0 L11.5 1.1 L11.4 2.1 L11.2 3.0 L11.0 3.7 L10.8 4.1 L10.7 4.2Z" fill="url(#rc86c1cf5871ffbb468)" stroke="#9a5212" stroke-width="0.4" stroke-linejoin="round"/>
<path d="M12.5 4.2 L12.7 4.1 L12.9 3.7 L13.1 3.0 L13.2 2.1 L13.4 1.1 L13.6 0.0 L13.8 -1.1 L13.9 -2.1 L14.1 -3.0 L14.3 -3.7 L14.5 -4.1 L14.6 -4.2 L16.9 -4.2 L16.8 -4.1 L16.6 -3.7 L16.4 -3.0 L16.2 -2.1 L16.1 -1.1 L15.9 0.0 L15.7 1.1 L15.5 2.1 L15.4 3.0 L15.2 3.7 L15.0 4.1 L14.8 4.2Z" fill="url(#rc86c1cf5871ffbb468)" stroke="#9a5212" stroke-width="0.4" stroke-linejoin="round"/>
<path d="M16.7 4.2 L16.9 4.1 L17.1 3.7 L17.3 3.0 L17.4 2.1 L17.6 1.1 L17.8 0.0 L20.1 0.0 L19.9 1.1 L19.7 2.1 L19.6 3.0 L19.4 3.7 L19.2 4.1 L19.0 4.2Z" fill="url(#rc86c1cf5871ffbb468)" stroke="#9a5212" stroke-width="0.4" stroke-linejoin="round"/>
</g>
<g transform="translate(12.0,219.0) rotate(9.5)">
<path d="M2.6 -4.0 L2.8 -3.9 L3.0 -3.5 L3.3 -2.8 L3.5 -2.0 L3.7 -1.0 L3.9 -0.0 L4.1 1.0 L4.3 2.0 L4.6 2.8 L4.8 3.5 L5.0 3.9 L5.2 4.0 L8.1 4.0 L7.9 3.9 L7.6 3.5 L7.4 2.8 L7.2 2.0 L7.0 1.0 L6.8 -0.0 L6.6 -1.0 L6.3 -2.0 L6.1 -2.8 L5.9 -3.5 L5.7 -3.9 L5.5 -4.0Z" fill="#c86c1c" stroke="#9a5212" stroke-width="0.4" stroke-linejoin="round"/>
<path d="M7.8 -4.0 L8.0 -3.9 L8.3 -3.5 L8.5 -2.8 L8.7 -2.0 L8.9 -1.0 L9.1 -0.0 L9.3 1.0 L9.6 2.0 L9.8 2.8 L10.0 3.5 L10.2 3.9 L10.4 4.0 L13.3 4.0 L13.1 3.9 L12.9 3.5 L12.6 2.8 L12.4 2.0 L12.2 1.0 L12.0 -0.0 L11.8 -1.0 L11.6 -2.0 L11.3 -2.8 L11.1 -3.5 L10.9 -3.9 L10.7 -4.0Z" fill="#c86c1c" stroke="#9a5212" stroke-width="0.4" stroke-linejoin="round"/>
<path d="M13.0 -4.0 L13.3 -3.9 L13.5 -3.5 L13.7 -2.8 L13.9 -2.0 L14.1 -1.0 L14.3 -0.0 L14.6 1.0 L14.8 2.0 L15.0 2.8 L15.2 3.5 L15.4 3.9 L15.6 4.0 L18.5 4.0 L18.3 3.9 L18.1 3.5 L17.9 2.8 L17.6 2.0 L17.4 1.0 L17.2 -0.0 L17.0 -1.0 L16.8 -2.0 L16.6 -2.8 L16.3 -3.5 L16.1 -3.9 L15.9 -4.0Z" fill="#c86c1c" stroke="#9a5212" stroke-width="0.4" stroke-linejoin="round"/>
<path d="M0.0 4.0 L0.2 3.9 L0.4 3.5 L0.7 2.8 L0.9 2.0 L1.1 1.0 L1.3 0.0 L1.5 -1.0 L1.7 -2.0 L2.0 -2.8 L2.2 -3.5 L2.4 -3.9 L2.6 -4.0 L5.5 -4.0 L5.3 -3.9 L5.0 -3.5 L4.8 -2.8 L4.6 -2.0 L4.4 -1.0 L4.2 0.0 L4.0 1.0 L3.7 2.0 L3.5 2.8 L3.3 3.5 L3.1 3.9 L2.9 4.0Z" fill="url(#rc86c1cf5871ffbb468)" stroke="#9a5212" stroke-width="0.4" stroke-linejoin="round"/>
<path d="M5.2 4.0 L5.4 3.9 L5.6 3.5 L5.9 2.8 L6.1 2.0 L6.3 1.0 L6.5 0.0 L6.7 -1.0 L7.0 -2.0 L7.2 -2.8 L7.4 -3.5 L7.6 -3.9 L7.8 -4.0 L10.7 -4.0 L10.5 -3.9 L10.3 -3.5 L10.0 -2.8 L9.8 -2.0 L9.6 -1.0 L9.4 0.0 L9.2 1.0 L9.0 2.0 L8.7 2.8 L8.5 3.5 L8.3 3.9 L8.1 4.0Z" fill="url(#rc86c1cf5871ffbb468)" stroke="#9a5212" stroke-width="0.4" stroke-linejoin="round"/>
<path d="M10.4 4.0 L10.6 3.9 L10.9 3.5 L11.1 2.8 L11.3 2.0 L11.5 1.0 L11.7 0.0 L11.9 -1.0 L12.2 -2.0 L12.4 -2.8 L12.6 -3.5 L12.8 -3.9 L13.0 -4.0 L15.9 -4.0 L15.7 -3.9 L15.5 -3.5 L15.3 -2.8 L15.0 -2.0 L14.8 -1.0 L14.6 0.0 L14.4 1.0 L14.2 2.0 L13.9 2.8 L13.7 3.5 L13.5 3.9 L13.3 4.0Z" fill="url(#rc86c1cf5871ffbb468)" stroke="#9a5212" stroke-width="0.4" stroke-linejoin="round"/>
<path d="M15.6 4.0 L15.9 3.9 L16.1 3.5 L16.3 2.8 L16.5 2.0 L16.7 1.0 L16.9 0.0 L19.8 0.0 L19.6 1.0 L19.4 2.0 L19.2 2.8 L18.9 3.5 L18.7 3.9 L18.5 4.0Z" fill="url(#rc86c1cf5871ffbb468)" stroke="#9a5212" stroke-width="0.4" stroke-linejoin="round"/>
</g>
<g transform="translate(3.4,229.5) rotate(3.6)">
<path d="M2.4 -4.5 L2.6 -4.3 L2.8 -3.9 L3.0 -3.2 L3.2 -2.3 L3.5 -1.2 L3.7 -0.0 L3.9 1.2 L4.1 2.2 L4.3 3.2 L4.5 3.9 L4.7 4.3 L4.9 4.5 L7.6 4.5 L7.3 4.3 L7.1 3.9 L6.9 3.2 L6.7 2.2 L6.5 1.2 L6.3 -0.0 L6.1 -1.2 L5.9 -2.3 L5.7 -3.2 L5.5 -3.9 L5.3 -4.3 L5.1 -4.5Z" fill="#c86c1c" stroke="#9a5212" stroke-width="0.4" stroke-linejoin="round"/>
<path d="M7.3 -4.5 L7.5 -4.3 L7.7 -3.9 L7.9 -3.2 L8.1 -2.3 L8.3 -1.2 L8.5 -0.0 L8.7 1.2 L8.9 2.2 L9.1 3.2 L9.3 3.9 L9.5 4.3 L9.7 4.5 L12.4 4.5 L12.2 4.3 L12.0 3.9 L11.8 3.2 L11.6 2.2 L11.4 1.2 L11.2 -0.0 L11.0 -1.2 L10.8 -2.3 L10.6 -3.2 L10.4 -3.9 L10.2 -4.3 L10.0 -4.5Z" fill="#c86c1c" stroke="#9a5212" stroke-width="0.4" stroke-linejoin="round"/>
<path d="M12.2 -4.5 L12.4 -4.3 L12.6 -3.9 L12.8 -3.2 L13.0 -2.3 L13.2 -1.2 L13.4 -0.0 L13.6 1.2 L13.8 2.2 L14.0 3.2 L14.2 3.9 L14.4 4.3 L14.6 4.5 L17.3 4.5 L17.1 4.3 L16.9 3.9 L16.7 3.2 L16.5 2.2 L16.3 1.2 L16.1 -0.0 L15.9 -1.2 L15.7 -2.3 L15.5 -3.2 L15.3 -3.9 L15.1 -4.3 L14.9 -4.5Z" fill="#c86c1c" stroke="#9a5212" stroke-width="0.4" stroke-linejoin="round"/>
<path d="M17.0 -4.5 L17.3 -4.3 L17.5 -3.9 L17.7 -3.2 L17.9 -2.3 L18.1 -1.2 L18.3 -0.0 L18.5 1.2 L18.7 2.2 L18.9 3.2 L19.1 3.9 L19.3 4.3 L19.5 4.5 L22.2 4.5 L22.0 4.3 L21.8 3.9 L21.6 3.2 L21.4 2.2 L21.1 1.2 L20.9 -0.0 L20.7 -1.2 L20.5 -2.3 L20.3 -3.2 L20.1 -3.9 L19.9 -4.3 L19.7 -4.5Z" fill="#c86c1c" stroke="#9a5212" stroke-width="0.4" stroke-linejoin="round"/>
<path d="M21.9 -4.5 L22.1 -4.3 L22.3 -3.9 L22.5 -3.2 L22.7 -2.3 L22.9 -1.2 L23.1 -0.0 L23.3 1.2 L23.5 2.2 L23.7 3.2 L24.0 3.9 L24.2 4.3 L24.4 4.5 L27.0 4.5 L26.8 4.3 L26.6 3.9 L26.4 3.2 L26.2 2.2 L26.0 1.2 L25.8 -0.0 L25.6 -1.2 L25.4 -2.3 L25.2 -3.2 L25.0 -3.9 L24.8 -4.3 L24.6 -4.5Z" fill="#c86c1c" stroke="#9a5212" stroke-width="0.4" stroke-linejoin="round"/>
<path d="M26.8 -4.5 L27.0 -4.3 L27.2 -3.9 L27.4 -3.2 L27.6 -2.3 L27.8 -1.2 L28.0 -0.0 L28.2 1.2 L28.4 2.2 L28.6 3.2 L28.8 3.9 L29.0 4.3 L29.2 4.5 L31.9 4.5 L31.7 4.3 L31.5 3.9 L31.3 3.2 L31.1 2.2 L30.9 1.2 L30.7 -0.0 L30.5 -1.2 L30.3 -2.3 L30.1 -3.2 L29.9 -3.9 L29.7 -4.3 L29.5 -4.5Z" fill="#c86c1c" stroke="#9a5212" stroke-width="0.4" stroke-linejoin="round"/>
<path d="M0.0 4.5 L0.2 4.3 L0.4 3.9 L0.6 3.2 L0.8 2.3 L1.0 1.2 L1.2 0.0 L1.4 -1.2 L1.6 -2.2 L1.8 -3.2 L2.0 -3.9 L2.2 -4.3 L2.4 -4.5 L5.1 -4.5 L4.9 -4.3 L4.7 -3.9 L4.5 -3.2 L4.3 -2.2 L4.1 -1.2 L3.9 0.0 L3.7 1.2 L3.5 2.3 L3.3 3.2 L3.1 3.9 L2.9 4.3 L2.7 4.5Z" fill="url(#rc86c1cf5871ffbb468)" stroke="#9a5212" stroke-width="0.4" stroke-linejoin="round"/>
<path d="M4.9 4.5 L5.1 4.3 L5.3 3.9 L5.5 3.2 L5.7 2.3 L5.9 1.2 L6.1 0.0 L6.3 -1.2 L6.5 -2.2 L6.7 -3.2 L6.9 -3.9 L7.1 -4.3 L7.3 -4.5 L10.0 -4.5 L9.8 -4.3 L9.6 -3.9 L9.4 -3.2 L9.2 -2.2 L9.0 -1.2 L8.8 0.0 L8.6 1.2 L8.4 2.3 L8.2 3.2 L8.0 3.9 L7.8 4.3 L7.6 4.5Z" fill="url(#rc86c1cf5871ffbb468)" stroke="#9a5212" stroke-width="0.4" stroke-linejoin="round"/>
<path d="M9.7 4.5 L9.9 4.3 L10.1 3.9 L10.4 3.2 L10.6 2.3 L10.8 1.2 L11.0 0.0 L11.2 -1.2 L11.4 -2.2 L11.6 -3.2 L11.8 -3.9 L12.0 -4.3 L12.2 -4.5 L14.9 -4.5 L14.7 -4.3 L14.5 -3.9 L14.2 -3.2 L14.0 -2.2 L13.8 -1.2 L13.6 0.0 L13.4 1.2 L13.2 2.3 L13.0 3.2 L12.8 3.9 L12.6 4.3 L12.4 4.5Z" fill="url(#rc86c1cf5871ffbb468)" stroke="#9a5212" stroke-width="0.4" stroke-linejoin="round"/>
<path d="M14.6 4.5 L14.8 4.3 L15.0 3.9 L15.2 3.2 L15.4 2.3 L15.6 1.2 L15.8 0.0 L16.0 -1.2 L16.2 -2.2 L16.4 -3.2 L16.6 -3.9 L16.8 -4.3 L17.0 -4.5 L19.7 -4.5 L19.5 -4.3 L19.3 -3.9 L19.1 -3.2 L18.9 -2.2 L18.7 -1.2 L18.5 0.0 L18.3 1.2 L18.1 2.3 L17.9 3.2 L17.7 3.9 L17.5 4.3 L17.3 4.5Z" fill="url(#rc86c1cf5871ffbb468)" stroke="#9a5212" stroke-width="0.4" stroke-linejoin="round"/>
<path d="M19.5 4.5 L19.7 4.3 L19.9 3.9 L20.1 3.2 L20.3 2.3 L20.5 1.2 L20.7 0.0 L20.9 -1.2 L21.1 -2.2 L21.3 -3.2 L21.5 -3.9 L21.7 -4.3 L21.9 -4.5 L24.6 -4.5 L24.4 -4.3 L24.2 -3.9 L24.0 -3.2 L23.8 -2.2 L23.6 -1.2 L23.4 0.0 L23.2 1.2 L23.0 2.3 L22.8 3.2 L22.6 3.9 L22.4 4.3 L22.2 4.5Z" fill="url(#rc86c1cf5871ffbb468)" stroke="#9a5212" stroke-width="0.4" stroke-linejoin="round"/>
<path d="M24.4 4.5 L24.6 4.3 L24.8 3.9 L25.0 3.2 L25.2 2.3 L25.4 1.2 L25.6 0.0 L25.8 -1.2 L26.0 -2.2 L26.2 -3.2 L26.4 -3.9 L26.6 -4.3 L26.8 -4.5 L29.5 -4.5 L29.3 -4.3 L29.1 -3.9 L28.9 -3.2 L28.7 -2.2 L28.5 -1.2 L28.3 0.0 L28.1 1.2 L27.8 2.3 L27.6 3.2 L27.4 3.9 L27.2 4.3 L27.0 4.5Z" fill="url(#rc86c1cf5871ffbb468)" stroke="#9a5212" stroke-width="0.4" stroke-linejoin="round"/>
<path d="M29.2 4.5 L29.4 4.3 L29.6 3.9 L29.8 3.2 L30.0 2.3 L30.2 1.2 L30.4 0.0 L33.1 0.0 L32.9 1.2 L32.7 2.3 L32.5 3.2 L32.3 3.9 L32.1 4.3 L31.9 4.5Z" fill="url(#rc86c1cf5871ffbb468)" stroke="#9a5212" stroke-width="0.4" stroke-linejoin="round"/>
</g>
<g transform="translate(30.0,217.0) rotate(45.0)">
<path d="M2.3 -3.5 L2.5 -3.4 L2.6 -3.0 L2.8 -2.5 L3.0 -1.8 L3.2 -0.9 L3.4 -0.0 L3.6 0.9 L3.8 1.7 L4.0 2.5 L4.1 3.0 L4.3 3.4 L4.5 3.5 L7.0 3.5 L6.8 3.4 L6.6 3.0 L6.4 2.5 L6.3 1.7 L6.1 0.9 L5.9 -0.0 L5.7 -0.9 L5.5 -1.8 L5.3 -2.5 L5.1 -3.0 L4.9 -3.4 L4.8 -3.5Z" fill="#7a4a20" stroke="#5a3410" stroke-width="0.4" stroke-linejoin="round"/>
<path d="M6.8 -3.5 L7.0 -3.4 L7.2 -3.0 L7.4 -2.5 L7.5 -1.8 L7.7 -0.9 L7.9 -0.0 L8.1 0.9 L8.3 1.7 L8.5 2.5 L8.7 3.0 L8.9 3.4 L9.1 3.5 L11.5 3.5 L11.4 3.4 L11.2 3.0 L11.0 2.5 L10.8 1.7 L10.6 0.9 L10.4 -0.0 L10.2 -0.9 L10.0 -1.8 L9.8 -2.5 L9.7 -3.0 L9.5 -3.4 L9.3 -3.5Z" fill="#7a4a20" stroke="#5a3410" stroke-width="0.4" stroke-linejoin="round"/>
<path d="M0.0 3.5 L0.2 3.4 L0.4 3.0 L0.6 2.5 L0.8 1.8 L0.9 0.9 L1.1 0.0 L1.3 -0.9 L1.5 -1.7 L1.7 -2.5 L1.9 -3.0 L2.1 -3.4 L2.3 -3.5 L4.8 -3.5 L4.6 -3.4 L4.4 -3.0 L4.2 -2.5 L4.0 -1.7 L3.8 -0.9 L3.6 0.0 L3.4 0.9 L3.2 1.8 L3.1 2.5 L2.9 3.0 L2.7 3.4 L2.5 3.5Z" fill="url(#r7a4a20b07040d09a6a)" stroke="#5a3410" stroke-width="0.4" stroke-linejoin="round"/>
<path d="M4.5 3.5 L4.7 3.4 L4.9 3.0 L5.1 2.5 L5.3 1.8 L5.5 0.9 L5.7 0.0 L5.8 -0.9 L6.0 -1.7 L6.2 -2.5 L6.4 -3.0 L6.6 -3.4 L6.8 -3.5 L9.3 -3.5 L9.1 -3.4 L8.9 -3.0 L8.7 -2.5 L8.5 -1.7 L8.3 -0.9 L8.1 0.0 L8.0 0.9 L7.8 1.8 L7.6 2.5 L7.4 3.0 L7.2 3.4 L7.0 3.5Z" fill="url(#r7a4a20b07040d09a6a)" stroke="#5a3410" stroke-width="0.4" stroke-linejoin="round"/>
<path d="M9.1 3.5 L9.2 3.4 L9.4 3.0 L9.6 2.5 L9.8 1.8 L10.0 0.9 L10.2 0.0 L12.7 0.0 L12.5 0.9 L12.3 1.8 L12.1 2.5 L11.9 3.0 L11.7 3.4 L11.5 3.5Z" fill="url(#r7a4a20b07040d09a6a)" stroke="#5a3410" stroke-width="0.4" stroke-linejoin="round"/>
</g>
<path d="M30.0 195.0 C31.0 195.3 34.3 196.2 36.0 197.0 C37.7 197.8 39.3 199.5 40.0 200.0" fill="none" stroke="#6aad30" stroke-width="0.7" stroke-linecap="round"/>
<path d="M40.0 186.0 C40.7 185.3 42.0 182.8 44.0 182.0 C46.0 181.2 49.7 180.8 52.0 181.0 C54.3 181.2 57.0 182.7 58.0 183.0" fill="none" stroke="#6aad30" stroke-width="0.7" stroke-linecap="round"/>
<path d="M35.0 232.0 C35.8 231.7 38.2 231.0 40.0 230.0 C41.8 229.0 44.0 227.0 46.0 226.0 C48.0 225.0 51.0 224.3 52.0 224.0" fill="none" stroke="#6aad30" stroke-width="0.7" stroke-linecap="round"/>
<g transform="translate(42.0,185.5) rotate(8.3)">
<path d="M2.7 -4.5 L2.9 -4.3 L3.1 -3.9 L3.4 -3.2 L3.6 -2.3 L3.8 -1.2 L4.0 -0.0 L4.3 1.2 L4.5 2.2 L4.7 3.2 L4.9 3.9 L5.2 4.3 L5.4 4.5 L8.4 4.5 L8.1 4.3 L7.9 3.9 L7.7 3.2 L7.5 2.2 L7.2 1.2 L7.0 -0.0 L6.8 -1.2 L6.6 -2.3 L6.3 -3.2 L6.1 -3.9 L5.9 -4.3 L5.7 -4.5Z" fill="#4e8f22" stroke="#3a6e18" stroke-width="0.4" stroke-linejoin="round"/>
<path d="M8.1 -4.5 L8.3 -4.3 L8.5 -3.9 L8.8 -3.2 L9.0 -2.3 L9.2 -1.2 L9.4 -0.0 L9.7 1.2 L9.9 2.2 L10.1 3.2 L10.3 3.9 L10.6 4.3 L10.8 4.5 L13.7 4.5 L13.5 4.3 L13.3 3.9 L13.1 3.2 L12.8 2.2 L12.6 1.2 L12.4 -0.0 L12.2 -1.2 L11.9 -2.3 L11.7 -3.2 L11.5 -3.9 L11.3 -4.3 L11.0 -4.5Z" fill="#4e8f22" stroke="#3a6e18" stroke-width="0.4" stroke-linejoin="round"/>
<path d="M13.5 -4.5 L13.7 -4.3 L13.9 -3.9 L14.1 -3.2 L14.4 -2.3 L14.6 -1.2 L14.8 -0.0 L15.0 1.2 L15.3 2.2 L15.5 3.2 L15.7 3.9 L15.9 4.3 L16.2 4.5 L19.1 4.5 L18.9 4.3 L18.7 3.9 L18.5 3.2 L18.2 2.2 L18.0 1.2 L17.8 -0.0 L17.6 -1.2 L17.3 -2.3 L17.1 -3.2 L16.9 -3.9 L16.7 -4.3 L16.4 -4.5Z" fill="#4e8f22" stroke="#3a6e18" stroke-width="0.4" stroke-linejoin="round"/>
<path d="M18.9 -4.5 L19.1 -4.3 L19.3 -3.9 L19.5 -3.2 L19.8 -2.3 L20.0 -1.2 L20.2 -0.0 L20.4 1.2 L20.7 2.2 L20.9 3.2 L21.1 3.9 L21.3 4.3 L21.6 4.5 L24.5 4.5 L24.3 4.3 L24.1 3.9 L23.8 3.2 L23.6 2.2 L23.4 1.2 L23.2 -0.0 L23.0 -1.2 L22.7 -2.3 L22.5 -3.2 L22.3 -3.9 L22.1 -4.3 L21.8 -4.5Z" fill="#4e8f22" stroke="#3a6e18" stroke-width="0.4" stroke-linejoin="round"/>
<path d="M0.0 4.5 L0.2 4.3 L0.4 3.9 L0.7 3.2 L0.9 2.3 L1.1 1.2 L1.3 0.0 L1.6 -1.2 L1.8 -2.2 L2.0 -3.2 L2.2 -3.9 L2.5 -4.3 L2.7 -4.5 L5.7 -4.5 L5.4 -4.3 L5.2 -3.9 L5.0 -3.2 L4.8 -2.2 L4.5 -1.2 L4.3 0.0 L4.1 1.2 L3.9 2.3 L3.6 3.2 L3.4 3.9 L3.2 4.3 L3.0 4.5Z" fill="url(#r4e8f227cc040a8dc78)" stroke="#3a6e18" stroke-width="0.4" stroke-linejoin="round"/>
<path d="M5.4 4.5 L5.6 4.3 L5.8 3.9 L6.1 3.2 L6.3 2.3 L6.5 1.2 L6.7 0.0 L7.0 -1.2 L7.2 -2.2 L7.4 -3.2 L7.6 -3.9 L7.9 -4.3 L8.1 -4.5 L11.0 -4.5 L10.8 -4.3 L10.6 -3.9 L10.4 -3.2 L10.2 -2.2 L9.9 -1.2 L9.7 0.0 L9.5 1.2 L9.3 2.3 L9.0 3.2 L8.8 3.9 L8.6 4.3 L8.4 4.5Z" fill="url(#r4e8f227cc040a8dc78)" stroke="#3a6e18" stroke-width="0.4" stroke-linejoin="round"/>
<path d="M10.8 4.5 L11.0 4.3 L11.2 3.9 L11.5 3.2 L11.7 2.3 L11.9 1.2 L12.1 0.0 L12.4 -1.2 L12.6 -2.2 L12.8 -3.2 L13.0 -3.9 L13.2 -4.3 L13.5 -4.5 L16.4 -4.5 L16.2 -4.3 L16.0 -3.9 L15.8 -3.2 L15.5 -2.2 L15.3 -1.2 L15.1 0.0 L14.9 1.2 L14.6 2.3 L14.4 3.2 L14.2 3.9 L14.0 4.3 L13.7 4.5Z" fill="url(#r4e8f227cc040a8dc78)" stroke="#3a6e18" stroke-width="0.4" stroke-linejoin="round"/>
<path d="M16.2 4.5 L16.4 4.3 L16.6 3.9 L16.8 3.2 L17.1 2.3 L17.3 1.2 L17.5 0.0 L17.7 -1.2 L18.0 -2.2 L18.2 -3.2 L18.4 -3.9 L18.6 -4.3 L18.9 -4.5 L21.8 -4.5 L21.6 -4.3 L21.4 -3.9 L21.2 -3.2 L20.9 -2.2 L20.7 -1.2 L20.5 0.0 L20.3 1.2 L20.0 2.3 L19.8 3.2 L19.6 3.9 L19.4 4.3 L19.1 4.5Z" fill="url(#r4e8f227cc040a8dc78)" stroke="#3a6e18" stroke-width="0.4" stroke-linejoin="round"/>
<path d="M21.6 4.5 L21.8 4.3 L22.0 3.9 L22.2 3.2 L22.5 2.3 L22.7 1.2 L22.9 0.0 L25.9 0.0 L25.6 1.2 L25.4 2.3 L25.2 3.2 L25.0 3.9 L24.7 4.3 L24.5 4.5Z" fill="url(#r4e8f227cc040a8dc78)" stroke="#3a6e18" stroke-width="0.4" stroke-linejoin="round"/>
</g>
<g transform="translate(41.0,197.0) rotate(6.8)">
<path d="M2.8 -4.8 L3.0 -4.6 L3.3 -4.1 L3.5 -3.4 L3.7 -2.4 L4.0 -1.2 L4.2 -0.0 L4.4 1.2 L4.7 2.4 L4.9 3.4 L5.1 4.1 L5.4 4.6 L5.6 4.8 L8.7 4.8 L8.4 4.6 L8.2 4.1 L8.0 3.4 L7.7 2.4 L7.5 1.2 L7.3 -0.0 L7.0 -1.2 L6.8 -2.4 L6.6 -3.4 L6.3 -4.1 L6.1 -4.6 L5.9 -4.8Z" fill="#4e8f22" stroke="#3a6e18" stroke-width="0.4" stroke-linejoin="round"/>
<path d="M8.4 -4.8 L8.6 -4.6 L8.9 -4.1 L9.1 -3.4 L9.3 -2.4 L9.6 -1.2 L9.8 -0.0 L10.0 1.2 L10.3 2.4 L10.5 3.4 L10.7 4.1 L11.0 4.6 L11.2 4.8 L14.3 4.8 L14.0 4.6 L13.8 4.1 L13.6 3.4 L13.3 2.4 L13.1 1.2 L12.9 -0.0 L12.6 -1.2 L12.4 -2.4 L12.2 -3.4 L11.9 -4.1 L11.7 -4.6 L11.5 -4.8Z" fill="#4e8f22" stroke="#3a6e18" stroke-width="0.4" stroke-linejoin="round"/>
<path d="M14.0 -4.8 L14.2 -4.6 L14.5 -4.1 L14.7 -3.4 L14.9 -2.4 L15.2 -1.2 L15.4 -0.0 L15.6 1.2 L15.9 2.4 L16.1 3.4 L16.3 4.1 L16.6 4.6 L16.8 4.8 L19.9 4.8 L19.6 4.6 L19.4 4.1 L19.2 3.4 L18.9 2.4 L18.7 1.2 L18.5 -0.0 L18.2 -1.2 L18.0 -2.4 L17.8 -3.4 L17.5 -4.1 L17.3 -4.6 L17.1 -4.8Z" fill="#4e8f22" stroke="#3a6e18" stroke-width="0.4" stroke-linejoin="round"/>
<path d="M19.6 -4.8 L19.8 -4.6 L20.1 -4.1 L20.3 -3.4 L20.5 -2.4 L20.7 -1.2 L21.0 -0.0 L21.2 1.2 L21.4 2.4 L21.7 3.4 L21.9 4.1 L22.1 4.6 L22.4 4.8 L25.5 4.8 L25.2 4.6 L25.0 4.1 L24.8 3.4 L24.5 2.4 L24.3 1.2 L24.1 -0.0 L23.8 -1.2 L23.6 -2.4 L23.4 -3.4 L23.1 -4.1 L22.9 -4.6 L22.7 -4.8Z" fill="#4e8f22" stroke="#3a6e18" stroke-width="0.4" stroke-linejoin="round"/>
<path d="M0.0 4.8 L0.2 4.6 L0.5 4.1 L0.7 3.4 L0.9 2.4 L1.2 1.2 L1.4 0.0 L1.6 -1.2 L1.9 -2.4 L2.1 -3.4 L2.3 -4.1 L2.6 -4.6 L2.8 -4.8 L5.9 -4.8 L5.6 -4.6 L5.4 -4.1 L5.2 -3.4 L4.9 -2.4 L4.7 -1.2 L4.5 0.0 L4.2 1.2 L4.0 2.4 L3.8 3.4 L3.5 4.1 L3.3 4.6 L3.1 4.8Z" fill="url(#r4e8f227cc040a8dc78)" stroke="#3a6e18" stroke-width="0.4" stroke-linejoin="round"/>
<path d="M5.6 4.8 L5.8 4.6 L6.1 4.1 L6.3 3.4 L6.5 2.4 L6.8 1.2 L7.0 0.0 L7.2 -1.2 L7.5 -2.4 L7.7 -3.4 L7.9 -4.1 L8.2 -4.6 L8.4 -4.8 L11.5 -4.8 L11.2 -4.6 L11.0 -4.1 L10.8 -3.4 L10.5 -2.4 L10.3 -1.2 L10.1 0.0 L9.8 1.2 L9.6 2.4 L9.4 3.4 L9.1 4.1 L8.9 4.6 L8.7 4.8Z" fill="url(#r4e8f227cc040a8dc78)" stroke="#3a6e18" stroke-width="0.4" stroke-linejoin="round"/>
<path d="M11.2 4.8 L11.4 4.6 L11.7 4.1 L11.9 3.4 L12.1 2.4 L12.4 1.2 L12.6 0.0 L12.8 -1.2 L13.1 -2.4 L13.3 -3.4 L13.5 -4.1 L13.8 -4.6 L14.0 -4.8 L17.1 -4.8 L16.8 -4.6 L16.6 -4.1 L16.4 -3.4 L16.1 -2.4 L15.9 -1.2 L15.7 0.0 L15.4 1.2 L15.2 2.4 L15.0 3.4 L14.7 4.1 L14.5 4.6 L14.3 4.8Z" fill="url(#r4e8f227cc040a8dc78)" stroke="#3a6e18" stroke-width="0.4" stroke-linejoin="round"/>
<path d="M16.8 4.8 L17.0 4.6 L17.3 4.1 L17.5 3.4 L17.7 2.4 L18.0 1.2 L18.2 0.0 L18.4 -1.2 L18.7 -2.4 L18.9 -3.4 L19.1 -4.1 L19.4 -4.6 L19.6 -4.8 L22.7 -4.8 L22.4 -4.6 L22.2 -4.1 L22.0 -3.4 L21.7 -2.4 L21.5 -1.2 L21.3 0.0 L21.0 1.2 L20.8 2.4 L20.6 3.4 L20.3 4.1 L20.1 4.6 L19.9 4.8Z" fill="url(#r4e8f227cc040a8dc78)" stroke="#3a6e18" stroke-width="0.4" stroke-linejoin="round"/>
<path d="M22.4 4.8 L22.6 4.6 L22.8 4.1 L23.1 3.4 L23.3 2.4 L23.5 1.2 L23.8 0.0 L26.9 0.0 L26.6 1.2 L26.4 2.4 L26.2 3.4 L25.9 4.1 L25.7 4.6 L25.5 4.8Z" fill="url(#r4e8f227cc040a8dc78)" stroke="#3a6e18" stroke-width="0.4" stroke-linejoin="round"/>
</g>
<g transform="translate(49.0,215.0) rotate(19.7)">
<path d="M2.1 -4.0 L2.3 -3.9 L2.5 -3.5 L2.7 -2.8 L2.8 -2.0 L3.0 -1.0 L3.2 -0.0 L3.4 1.0 L3.5 2.0 L3.7 2.8 L3.9 3.5 L4.1 3.9 L4.2 4.0 L6.6 4.0 L6.4 3.9 L6.2 3.5 L6.1 2.8 L5.9 2.0 L5.7 1.0 L5.5 -0.0 L5.3 -1.0 L5.2 -2.0 L5.0 -2.8 L4.8 -3.5 L4.6 -3.9 L4.5 -4.0Z" fill="#4e8f22" stroke="#3a6e18" stroke-width="0.4" stroke-linejoin="round"/>
<path d="M6.4 -4.0 L6.5 -3.9 L6.7 -3.5 L6.9 -2.8 L7.1 -2.0 L7.3 -1.0 L7.4 -0.0 L7.6 1.0 L7.8 2.0 L8.0 2.8 L8.1 3.5 L8.3 3.9 L8.5 4.0 L10.8 4.0 L10.7 3.9 L10.5 3.5 L10.3 2.8 L10.1 2.0 L9.9 1.0 L9.8 -0.0 L9.6 -1.0 L9.4 -2.0 L9.2 -2.8 L9.1 -3.5 L8.9 -3.9 L8.7 -4.0Z" fill="#4e8f22" stroke="#3a6e18" stroke-width="0.4" stroke-linejoin="round"/>
<path d="M10.6 -4.0 L10.8 -3.9 L11.0 -3.5 L11.1 -2.8 L11.3 -2.0 L11.5 -1.0 L11.7 -0.0 L11.9 1.0 L12.0 2.0 L12.2 2.8 L12.4 3.5 L12.6 3.9 L12.7 4.0 L15.1 4.0 L14.9 3.9 L14.7 3.5 L14.5 2.8 L14.4 2.0 L14.2 1.0 L14.0 -0.0 L13.8 -1.0 L13.7 -2.0 L13.5 -2.8 L13.3 -3.5 L13.1 -3.9 L13.0 -4.0Z" fill="#4e8f22" stroke="#3a6e18" stroke-width="0.4" stroke-linejoin="round"/>
<path d="M0.0 4.0 L0.2 3.9 L0.4 3.5 L0.5 2.8 L0.7 2.0 L0.9 1.0 L1.1 0.0 L1.2 -1.0 L1.4 -2.0 L1.6 -2.8 L1.8 -3.5 L1.9 -3.9 L2.1 -4.0 L4.5 -4.0 L4.3 -3.9 L4.1 -3.5 L3.9 -2.8 L3.8 -2.0 L3.6 -1.0 L3.4 0.0 L3.2 1.0 L3.0 2.0 L2.9 2.8 L2.7 3.5 L2.5 3.9 L2.3 4.0Z" fill="url(#r4e8f227cc040a8dc78)" stroke="#3a6e18" stroke-width="0.4" stroke-linejoin="round"/>
<path d="M4.2 4.0 L4.4 3.9 L4.6 3.5 L4.8 2.8 L5.0 2.0 L5.1 1.0 L5.3 0.0 L5.5 -1.0 L5.7 -2.0 L5.8 -2.8 L6.0 -3.5 L6.2 -3.9 L6.4 -4.0 L8.7 -4.0 L8.5 -3.9 L8.4 -3.5 L8.2 -2.8 L8.0 -2.0 L7.8 -1.0 L7.6 0.0 L7.5 1.0 L7.3 2.0 L7.1 2.8 L6.9 3.5 L6.8 3.9 L6.6 4.0Z" fill="url(#r4e8f227cc040a8dc78)" stroke="#3a6e18" stroke-width="0.4" stroke-linejoin="round"/>
<path d="M8.5 4.0 L8.7 3.9 L8.8 3.5 L9.0 2.8 L9.2 2.0 L9.4 1.0 L9.6 0.0 L9.7 -1.0 L9.9 -2.0 L10.1 -2.8 L10.3 -3.5 L10.4 -3.9 L10.6 -4.0 L13.0 -4.0 L12.8 -3.9 L12.6 -3.5 L12.4 -2.8 L12.2 -2.0 L12.1 -1.0 L11.9 0.0 L11.7 1.0 L11.5 2.0 L11.4 2.8 L11.2 3.5 L11.0 3.9 L10.8 4.0Z" fill="url(#r4e8f227cc040a8dc78)" stroke="#3a6e18" stroke-width="0.4" stroke-linejoin="round"/>
<path d="M12.7 4.0 L12.9 3.9 L13.1 3.5 L13.3 2.8 L13.5 2.0 L13.6 1.0 L13.8 0.0 L16.1 0.0 L16.0 1.0 L15.8 2.0 L15.6 2.8 L15.4 3.5 L15.3 3.9 L15.1 4.0Z" fill="url(#r4e8f227cc040a8dc78)" stroke="#3a6e18" stroke-width="0.4" stroke-linejoin="round"/>
</g>
<path d="M73.0 176.0 C73.7 175.2 75.3 171.7 77.0 171.0 C78.7 170.3 82.0 171.8 83.0 172.0" fill="none" stroke="#9a5ab8" stroke-width="0.7" stroke-linecap="round"/>
<g transform="translate(74.0,174.0) rotate(79.1)">
<path d="M2.9 -4.5 L3.2 -4.3 L3.4 -3.9 L3.7 -3.2 L3.9 -2.3 L4.2 -1.2 L4.4 -0.0 L4.7 1.2 L4.9 2.2 L5.1 3.2 L5.4 3.9 L5.6 4.3 L5.9 4.5 L9.1 4.5 L8.9 4.3 L8.6 3.9 L8.4 3.2 L8.1 2.2 L7.9 1.2 L7.6 -0.0 L7.4 -1.2 L7.2 -2.3 L6.9 -3.2 L6.7 -3.9 L6.4 -4.3 L6.2 -4.5Z" fill="#7e3f9e" stroke="#5f2c7a" stroke-width="0.4" stroke-linejoin="round"/>
<path d="M8.8 -4.5 L9.1 -4.3 L9.3 -3.9 L9.6 -3.2 L9.8 -2.3 L10.1 -1.2 L10.3 -0.0 L10.5 1.2 L10.8 2.2 L11.0 3.2 L11.3 3.9 L11.5 4.3 L11.8 4.5 L15.0 4.5 L14.8 4.3 L14.5 3.9 L14.3 3.2 L14.0 2.2 L13.8 1.2 L13.5 -0.0 L13.3 -1.2 L13.0 -2.3 L12.8 -3.2 L12.6 -3.9 L12.3 -4.3 L12.1 -4.5Z" fill="#7e3f9e" stroke="#5f2c7a" stroke-width="0.4" stroke-linejoin="round"/>
<path d="M14.7 -4.5 L15.0 -4.3 L15.2 -3.9 L15.4 -3.2 L15.7 -2.3 L15.9 -1.2 L16.2 -0.0 L16.4 1.2 L16.7 2.2 L16.9 3.2 L17.2 3.9 L17.4 4.3 L17.7 4.5 L20.9 4.5 L20.6 4.3 L20.4 3.9 L20.2 3.2 L19.9 2.2 L19.7 1.2 L19.4 -0.0 L19.2 -1.2 L18.9 -2.3 L18.7 -3.2 L18.4 -3.9 L18.2 -4.3 L17.9 -4.5Z" fill="#7e3f9e" stroke="#5f2c7a" stroke-width="0.4" stroke-linejoin="round"/>
<path d="M20.6 -4.5 L20.8 -4.3 L21.1 -3.9 L21.3 -3.2 L21.6 -2.3 L21.8 -1.2 L22.1 -0.0 L22.3 1.2 L22.6 2.2 L22.8 3.2 L23.0 3.9 L23.3 4.3 L23.5 4.5 L26.8 4.5 L26.5 4.3 L26.3 3.9 L26.0 3.2 L25.8 2.2 L25.5 1.2 L25.3 -0.0 L25.1 -1.2 L24.8 -2.3 L24.6 -3.2 L24.3 -3.9 L24.1 -4.3 L23.8 -4.5Z" fill="#7e3f9e" stroke="#5f2c7a" stroke-width="0.4" stroke-linejoin="round"/>
<path d="M0.0 4.5 L0.2 4.3 L0.5 3.9 L0.7 3.2 L1.0 2.3 L1.2 1.2 L1.5 0.0 L1.7 -1.2 L2.0 -2.2 L2.2 -3.2 L2.5 -3.9 L2.7 -4.3 L2.9 -4.5 L6.2 -4.5 L5.9 -4.3 L5.7 -3.9 L5.4 -3.2 L5.2 -2.2 L5.0 -1.2 L4.7 0.0 L4.5 1.2 L4.2 2.3 L4.0 3.2 L3.7 3.9 L3.5 4.3 L3.2 4.5Z" fill="url(#r7e3f9ea86cc4d0a8e4)" stroke="#5f2c7a" stroke-width="0.4" stroke-linejoin="round"/>
<path d="M5.9 4.5 L6.1 4.3 L6.4 3.9 L6.6 3.2 L6.9 2.3 L7.1 1.2 L7.4 0.0 L7.6 -1.2 L7.8 -2.2 L8.1 -3.2 L8.3 -3.9 L8.6 -4.3 L8.8 -4.5 L12.1 -4.5 L11.8 -4.3 L11.6 -3.9 L11.3 -3.2 L11.1 -2.2 L10.8 -1.2 L10.6 0.0 L10.3 1.2 L10.1 2.3 L9.9 3.2 L9.6 3.9 L9.4 4.3 L9.1 4.5Z" fill="url(#r7e3f9ea86cc4d0a8e4)" stroke="#5f2c7a" stroke-width="0.4" stroke-linejoin="round"/>
<path d="M11.8 4.5 L12.0 4.3 L12.3 3.9 L12.5 3.2 L12.7 2.3 L13.0 1.2 L13.2 0.0 L13.5 -1.2 L13.7 -2.2 L14.0 -3.2 L14.2 -3.9 L14.5 -4.3 L14.7 -4.5 L17.9 -4.5 L17.7 -4.3 L17.5 -3.9 L17.2 -3.2 L17.0 -2.2 L16.7 -1.2 L16.5 0.0 L16.2 1.2 L16.0 2.3 L15.7 3.2 L15.5 3.9 L15.2 4.3 L15.0 4.5Z" fill="url(#r7e3f9ea86cc4d0a8e4)" stroke="#5f2c7a" stroke-width="0.4" stroke-linejoin="round"/>
<path d="M17.7 4.5 L17.9 4.3 L18.1 3.9 L18.4 3.2 L18.6 2.3 L18.9 1.2 L19.1 0.0 L19.4 -1.2 L19.6 -2.2 L19.9 -3.2 L20.1 -3.9 L20.3 -4.3 L20.6 -4.5 L23.8 -4.5 L23.6 -4.3 L23.3 -3.9 L23.1 -3.2 L22.8 -2.2 L22.6 -1.2 L22.4 0.0 L22.1 1.2 L21.9 2.3 L21.6 3.2 L21.4 3.9 L21.1 4.3 L20.9 4.5Z" fill="url(#r7e3f9ea86cc4d0a8e4)" stroke="#5f2c7a" stroke-width="0.4" stroke-linejoin="round"/>
<path d="M23.5 4.5 L23.8 4.3 L24.0 3.9 L24.3 3.2 L24.5 2.3 L24.8 1.2 L25.0 0.0 L28.2 0.0 L28.0 1.2 L27.8 2.3 L27.5 3.2 L27.3 3.9 L27.0 4.3 L26.8 4.5Z" fill="url(#r7e3f9ea86cc4d0a8e4)" stroke="#5f2c7a" stroke-width="0.4" stroke-linejoin="round"/>
</g>
<g transform="translate(85.0,172.0) rotate(77.5)">
<path d="M3.1 -4.8 L3.3 -4.6 L3.6 -4.1 L3.8 -3.4 L4.1 -2.4 L4.4 -1.2 L4.6 -0.0 L4.9 1.2 L5.1 2.4 L5.4 3.4 L5.6 4.1 L5.9 4.6 L6.1 4.8 L9.5 4.8 L9.3 4.6 L9.0 4.1 L8.8 3.4 L8.5 2.4 L8.2 1.2 L8.0 -0.0 L7.7 -1.2 L7.5 -2.4 L7.2 -3.4 L7.0 -4.1 L6.7 -4.6 L6.5 -4.8Z" fill="#7e3f9e" stroke="#5f2c7a" stroke-width="0.4" stroke-linejoin="round"/>
<path d="M9.2 -4.8 L9.5 -4.6 L9.7 -4.1 L10.0 -3.4 L10.2 -2.4 L10.5 -1.2 L10.8 -0.0 L11.0 1.2 L11.3 2.4 L11.5 3.4 L11.8 4.1 L12.0 4.6 L12.3 4.8 L15.7 4.8 L15.4 4.6 L15.2 4.1 L14.9 3.4 L14.6 2.4 L14.4 1.2 L14.1 -0.0 L13.9 -1.2 L13.6 -2.4 L13.4 -3.4 L13.1 -4.1 L12.9 -4.6 L12.6 -4.8Z" fill="#7e3f9e" stroke="#5f2c7a" stroke-width="0.4" stroke-linejoin="round"/>
<path d="M15.4 -4.8 L15.6 -4.6 L15.9 -4.1 L16.1 -3.4 L16.4 -2.4 L16.6 -1.2 L16.9 -0.0 L17.2 1.2 L17.4 2.4 L17.7 3.4 L17.9 4.1 L18.2 4.6 L18.4 4.8 L21.8 4.8 L21.6 4.6 L21.3 4.1 L21.1 3.4 L20.8 2.4 L20.5 1.2 L20.3 -0.0 L20.0 -1.2 L19.8 -2.4 L19.5 -3.4 L19.3 -4.1 L19.0 -4.6 L18.7 -4.8Z" fill="#7e3f9e" stroke="#5f2c7a" stroke-width="0.4" stroke-linejoin="round"/>
<path d="M21.5 -4.8 L21.8 -4.6 L22.0 -4.1 L22.3 -3.4 L22.5 -2.4 L22.8 -1.2 L23.0 -0.0 L23.3 1.2 L23.6 2.4 L23.8 3.4 L24.1 4.1 L24.3 4.6 L24.6 4.8 L28.0 4.8 L27.7 4.6 L27.5 4.1 L27.2 3.4 L26.9 2.4 L26.7 1.2 L26.4 -0.0 L26.2 -1.2 L25.9 -2.4 L25.7 -3.4 L25.4 -4.1 L25.1 -4.6 L24.9 -4.8Z" fill="#7e3f9e" stroke="#5f2c7a" stroke-width="0.4" stroke-linejoin="round"/>
<path d="M0.0 4.8 L0.3 4.6 L0.5 4.1 L0.8 3.4 L1.0 2.4 L1.3 1.2 L1.5 0.0 L1.8 -1.2 L2.0 -2.4 L2.3 -3.4 L2.6 -4.1 L2.8 -4.6 L3.1 -4.8 L6.5 -4.8 L6.2 -4.6 L5.9 -4.1 L5.7 -3.4 L5.4 -2.4 L5.2 -1.2 L4.9 0.0 L4.7 1.2 L4.4 2.4 L4.1 3.4 L3.9 4.1 L3.6 4.6 L3.4 4.8Z" fill="url(#r7e3f9ea86cc4d0a8e4)" stroke="#5f2c7a" stroke-width="0.4" stroke-linejoin="round"/>
<path d="M6.1 4.8 L6.4 4.6 L6.7 4.1 L6.9 3.4 L7.2 2.4 L7.4 1.2 L7.7 0.0 L7.9 -1.2 L8.2 -2.4 L8.5 -3.4 L8.7 -4.1 L9.0 -4.6 L9.2 -4.8 L12.6 -4.8 L12.3 -4.6 L12.1 -4.1 L11.8 -3.4 L11.6 -2.4 L11.3 -1.2 L11.1 0.0 L10.8 1.2 L10.6 2.4 L10.3 3.4 L10.0 4.1 L9.8 4.6 L9.5 4.8Z" fill="url(#r7e3f9ea86cc4d0a8e4)" stroke="#5f2c7a" stroke-width="0.4" stroke-linejoin="round"/>
<path d="M12.3 4.8 L12.5 4.6 L12.8 4.1 L13.1 3.4 L13.3 2.4 L13.6 1.2 L13.8 0.0 L14.1 -1.2 L14.3 -2.4 L14.6 -3.4 L14.9 -4.1 L15.1 -4.6 L15.4 -4.8 L18.7 -4.8 L18.5 -4.6 L18.2 -4.1 L18.0 -3.4 L17.7 -2.4 L17.5 -1.2 L17.2 0.0 L17.0 1.2 L16.7 2.4 L16.4 3.4 L16.2 4.1 L15.9 4.6 L15.7 4.8Z" fill="url(#r7e3f9ea86cc4d0a8e4)" stroke="#5f2c7a" stroke-width="0.4" stroke-linejoin="round"/>
<path d="M18.4 4.8 L18.7 4.6 L19.0 4.1 L19.2 3.4 L19.5 2.4 L19.7 1.2 L20.0 0.0 L20.2 -1.2 L20.5 -2.4 L20.7 -3.4 L21.0 -4.1 L21.3 -4.6 L21.5 -4.8 L24.9 -4.8 L24.6 -4.6 L24.4 -4.1 L24.1 -3.4 L23.9 -2.4 L23.6 -1.2 L23.4 0.0 L23.1 1.2 L22.8 2.4 L22.6 3.4 L22.3 4.1 L22.1 4.6 L21.8 4.8Z" fill="url(#r7e3f9ea86cc4d0a8e4)" stroke="#5f2c7a" stroke-width="0.4" stroke-linejoin="round"/>
<path d="M24.6 4.8 L24.8 4.6 L25.1 4.1 L25.4 3.4 L25.6 2.4 L25.9 1.2 L26.1 0.0 L29.5 0.0 L29.2 1.2 L29.0 2.4 L28.7 3.4 L28.5 4.1 L28.2 4.6 L28.0 4.8Z" fill="url(#r7e3f9ea86cc4d0a8e4)" stroke="#5f2c7a" stroke-width="0.4" stroke-linejoin="round"/>
</g>
<g transform="translate(94.0,175.0) rotate(74.1)">
<path d="M3.1 -3.8 L3.4 -3.6 L3.6 -3.2 L3.9 -2.7 L4.2 -1.9 L4.4 -1.0 L4.7 -0.0 L4.9 1.0 L5.2 1.9 L5.5 2.7 L5.7 3.2 L6.0 3.6 L6.2 3.8 L9.7 3.8 L9.4 3.6 L9.2 3.2 L8.9 2.7 L8.6 1.9 L8.4 1.0 L8.1 -0.0 L7.9 -1.0 L7.6 -1.9 L7.3 -2.7 L7.1 -3.2 L6.8 -3.6 L6.6 -3.8Z" fill="#7e3f9e" stroke="#5f2c7a" stroke-width="0.4" stroke-linejoin="round"/>
<path d="M9.4 -3.8 L9.6 -3.6 L9.9 -3.2 L10.1 -2.7 L10.4 -1.9 L10.7 -1.0 L10.9 -0.0 L11.2 1.0 L11.4 1.9 L11.7 2.7 L12.0 3.2 L12.2 3.6 L12.5 3.8 L15.9 3.8 L15.7 3.6 L15.4 3.2 L15.1 2.7 L14.9 1.9 L14.6 1.0 L14.4 -0.0 L14.1 -1.0 L13.8 -1.9 L13.6 -2.7 L13.3 -3.2 L13.1 -3.6 L12.8 -3.8Z" fill="#7e3f9e" stroke="#5f2c7a" stroke-width="0.4" stroke-linejoin="round"/>
<path d="M15.6 -3.8 L15.9 -3.6 L16.1 -3.2 L16.4 -2.7 L16.6 -1.9 L16.9 -1.0 L17.2 -0.0 L17.4 1.0 L17.7 1.9 L17.9 2.7 L18.2 3.2 L18.5 3.6 L18.7 3.8 L22.2 3.8 L21.9 3.6 L21.6 3.2 L21.4 2.7 L21.1 1.9 L20.9 1.0 L20.6 -0.0 L20.3 -1.0 L20.1 -1.9 L19.8 -2.7 L19.6 -3.2 L19.3 -3.6 L19.0 -3.8Z" fill="#7e3f9e" stroke="#5f2c7a" stroke-width="0.4" stroke-linejoin="round"/>
<path d="M0.0 3.8 L0.3 3.6 L0.5 3.2 L0.8 2.7 L1.0 1.9 L1.3 1.0 L1.6 0.0 L1.8 -1.0 L2.1 -1.9 L2.3 -2.7 L2.6 -3.2 L2.9 -3.6 L3.1 -3.8 L6.6 -3.8 L6.3 -3.6 L6.0 -3.2 L5.8 -2.7 L5.5 -1.9 L5.3 -1.0 L5.0 0.0 L4.7 1.0 L4.5 1.9 L4.2 2.7 L4.0 3.2 L3.7 3.6 L3.4 3.8Z" fill="url(#r7e3f9ea86cc4d0a8e4)" stroke="#5f2c7a" stroke-width="0.4" stroke-linejoin="round"/>
<path d="M6.2 3.8 L6.5 3.6 L6.8 3.2 L7.0 2.7 L7.3 1.9 L7.5 1.0 L7.8 0.0 L8.1 -1.0 L8.3 -1.9 L8.6 -2.7 L8.8 -3.2 L9.1 -3.6 L9.4 -3.8 L12.8 -3.8 L12.5 -3.6 L12.3 -3.2 L12.0 -2.7 L11.8 -1.9 L11.5 -1.0 L11.2 0.0 L11.0 1.0 L10.7 1.9 L10.5 2.7 L10.2 3.2 L9.9 3.6 L9.7 3.8Z" fill="url(#r7e3f9ea86cc4d0a8e4)" stroke="#5f2c7a" stroke-width="0.4" stroke-linejoin="round"/>
<path d="M12.5 3.8 L12.7 3.6 L13.0 3.2 L13.3 2.7 L13.5 1.9 L13.8 1.0 L14.0 0.0 L14.3 -1.0 L14.6 -1.9 L14.8 -2.7 L15.1 -3.2 L15.3 -3.6 L15.6 -3.8 L19.0 -3.8 L18.8 -3.6 L18.5 -3.2 L18.3 -2.7 L18.0 -1.9 L17.7 -1.0 L17.5 0.0 L17.2 1.0 L17.0 1.9 L16.7 2.7 L16.4 3.2 L16.2 3.6 L15.9 3.8Z" fill="url(#r7e3f9ea86cc4d0a8e4)" stroke="#5f2c7a" stroke-width="0.4" stroke-linejoin="round"/>
<path d="M18.7 3.8 L19.0 3.6 L19.2 3.2 L19.5 2.7 L19.8 1.9 L20.0 1.0 L20.3 0.0 L23.7 0.0 L23.5 1.0 L23.2 1.9 L22.9 2.7 L22.7 3.2 L22.4 3.6 L22.2 3.8Z" fill="url(#r7e3f9ea86cc4d0a8e4)" stroke="#5f2c7a" stroke-width="0.4" stroke-linejoin="round"/>
</g>
<g transform="translate(84.0,229.0) rotate(45.0)">
<path d="M2.3 -3.5 L2.5 -3.4 L2.6 -3.0 L2.8 -2.5 L3.0 -1.8 L3.2 -0.9 L3.4 -0.0 L3.6 0.9 L3.8 1.7 L4.0 2.5 L4.1 3.0 L4.3 3.4 L4.5 3.5 L7.0 3.5 L6.8 3.4 L6.6 3.0 L6.4 2.5 L6.3 1.7 L6.1 0.9 L5.9 -0.0 L5.7 -0.9 L5.5 -1.8 L5.3 -2.5 L5.1 -3.0 L4.9 -3.4 L4.8 -3.5Z" fill="#7e3f9e" stroke="#5f2c7a" stroke-width="0.4" stroke-linejoin="round"/>
<path d="M6.8 -3.5 L7.0 -3.4 L7.2 -3.0 L7.4 -2.5 L7.5 -1.8 L7.7 -0.9 L7.9 -0.0 L8.1 0.9 L8.3 1.7 L8.5 2.5 L8.7 3.0 L8.9 3.4 L9.1 3.5 L11.5 3.5 L11.4 3.4 L11.2 3.0 L11.0 2.5 L10.8 1.7 L10.6 0.9 L10.4 -0.0 L10.2 -0.9 L10.0 -1.8 L9.8 -2.5 L9.7 -3.0 L9.5 -3.4 L9.3 -3.5Z" fill="#7e3f9e" stroke="#5f2c7a" stroke-width="0.4" stroke-linejoin="round"/>
<path d="M0.0 3.5 L0.2 3.4 L0.4 3.0 L0.6 2.5 L0.8 1.8 L0.9 0.9 L1.1 0.0 L1.3 -0.9 L1.5 -1.7 L1.7 -2.5 L1.9 -3.0 L2.1 -3.4 L2.3 -3.5 L4.8 -3.5 L4.6 -3.4 L4.4 -3.0 L4.2 -2.5 L4.0 -1.7 L3.8 -0.9 L3.6 0.0 L3.4 0.9 L3.2 1.8 L3.1 2.5 L2.9 3.0 L2.7 3.4 L2.5 3.5Z" fill="url(#r7e3f9ea86cc4d0a8e4)" stroke="#5f2c7a" stroke-width="0.4" stroke-linejoin="round"/>
<path d="M4.5 3.5 L4.7 3.4 L4.9 3.0 L5.1 2.5 L5.3 1.8 L5.5 0.9 L5.7 0.0 L5.8 -0.9 L6.0 -1.7 L6.2 -2.5 L6.4 -3.0 L6.6 -3.4 L6.8 -3.5 L9.3 -3.5 L9.1 -3.4 L8.9 -3.0 L8.7 -2.5 L8.5 -1.7 L8.3 -0.9 L8.1 0.0 L8.0 0.9 L7.8 1.8 L7.6 2.5 L7.4 3.0 L7.2 3.4 L7.0 3.5Z" fill="url(#r7e3f9ea86cc4d0a8e4)" stroke="#5f2c7a" stroke-width="0.4" stroke-linejoin="round"/>
<path d="M9.1 3.5 L9.2 3.4 L9.4 3.0 L9.6 2.5 L9.8 1.8 L10.0 0.9 L10.2 0.0 L12.7 0.0 L12.5 0.9 L12.3 1.8 L12.1 2.5 L11.9 3.0 L11.7 3.4 L11.5 3.5Z" fill="url(#r7e3f9ea86cc4d0a8e4)" stroke="#5f2c7a" stroke-width="0.4" stroke-linejoin="round"/>
</g>
<path d="M106.0 194.0 C107.0 193.7 110.0 191.8 112.0 192.0 C114.0 192.2 116.0 194.2 118.0 195.0 C120.0 195.8 122.5 195.7 124.0 197.0 C125.5 198.3 126.3 201.0 127.0 203.0 C127.7 205.0 128.3 207.5 128.0 209.0 C127.7 210.5 125.5 211.5 125.0 212.0" fill="none" stroke="#f01010" stroke-width="0.8" stroke-linecap="round"/>
<path d="M62.0 226.0 C63.3 225.3 67.3 222.3 70.0 222.0 C72.7 221.7 75.3 224.0 78.0 224.0 C80.7 224.0 84.7 222.3 86.0 222.0" fill="none" stroke="#e01010" stroke-width="0.7" stroke-linecap="round"/>
<g transform="translate(87.0,196.0) rotate(37.6)">
<path d="M2.3 -4.5 L2.5 -4.3 L2.7 -3.9 L2.9 -3.2 L3.1 -2.3 L3.3 -1.2 L3.5 -0.0 L3.7 1.2 L3.9 2.2 L4.1 3.2 L4.3 3.9 L4.5 4.3 L4.7 4.5 L7.3 4.5 L7.1 4.3 L6.9 3.9 L6.7 3.2 L6.5 2.2 L6.3 1.2 L6.1 -0.0 L5.9 -1.2 L5.7 -2.3 L5.5 -3.2 L5.3 -3.9 L5.1 -4.3 L4.9 -4.5Z" fill="#b00000" stroke="#800000" stroke-width="0.4" stroke-linejoin="round"/>
<path d="M7.0 -4.5 L7.2 -4.3 L7.4 -3.9 L7.6 -3.2 L7.8 -2.3 L8.0 -1.2 L8.2 -0.0 L8.4 1.2 L8.6 2.2 L8.8 3.2 L9.0 3.9 L9.2 4.3 L9.4 4.5 L11.9 4.5 L11.8 4.3 L11.6 3.9 L11.4 3.2 L11.2 2.2 L11.0 1.2 L10.8 -0.0 L10.6 -1.2 L10.4 -2.3 L10.2 -3.2 L10.0 -3.9 L9.8 -4.3 L9.6 -4.5Z" fill="#b00000" stroke="#800000" stroke-width="0.4" stroke-linejoin="round"/>
<path d="M11.7 -4.5 L11.9 -4.3 L12.1 -3.9 L12.3 -3.2 L12.5 -2.3 L12.7 -1.2 L12.9 -0.0 L13.1 1.2 L13.3 2.2 L13.5 3.2 L13.7 3.9 L13.9 4.3 L14.1 4.5 L16.6 4.5 L16.4 4.3 L16.2 3.9 L16.0 3.2 L15.9 2.2 L15.7 1.2 L15.5 -0.0 L15.3 -1.2 L15.1 -2.3 L14.9 -3.2 L14.7 -3.9 L14.5 -4.3 L14.3 -4.5Z" fill="#b00000" stroke="#800000" stroke-width="0.4" stroke-linejoin="round"/>
<path d="M0.0 4.5 L0.2 4.3 L0.4 3.9 L0.6 3.2 L0.8 2.3 L1.0 1.2 L1.2 0.0 L1.4 -1.2 L1.6 -2.2 L1.8 -3.2 L2.0 -3.9 L2.1 -4.3 L2.3 -4.5 L4.9 -4.5 L4.7 -4.3 L4.5 -3.9 L4.3 -3.2 L4.1 -2.2 L3.9 -1.2 L3.7 0.0 L3.6 1.2 L3.4 2.3 L3.2 3.2 L3.0 3.9 L2.8 4.3 L2.6 4.5Z" fill="url(#rb00000f01a1aff7070)" stroke="#800000" stroke-width="0.4" stroke-linejoin="round"/>
<path d="M4.7 4.5 L4.9 4.3 L5.1 3.9 L5.3 3.2 L5.5 2.3 L5.7 1.2 L5.9 0.0 L6.1 -1.2 L6.2 -2.2 L6.4 -3.2 L6.6 -3.9 L6.8 -4.3 L7.0 -4.5 L9.6 -4.5 L9.4 -4.3 L9.2 -3.9 L9.0 -3.2 L8.8 -2.2 L8.6 -1.2 L8.4 0.0 L8.2 1.2 L8.0 2.3 L7.8 3.2 L7.7 3.9 L7.5 4.3 L7.3 4.5Z" fill="url(#rb00000f01a1aff7070)" stroke="#800000" stroke-width="0.4" stroke-linejoin="round"/>
<path d="M9.4 4.5 L9.6 4.3 L9.8 3.9 L10.0 3.2 L10.2 2.3 L10.3 1.2 L10.5 0.0 L10.7 -1.2 L10.9 -2.2 L11.1 -3.2 L11.3 -3.9 L11.5 -4.3 L11.7 -4.5 L14.3 -4.5 L14.1 -4.3 L13.9 -3.9 L13.7 -3.2 L13.5 -2.2 L13.3 -1.2 L13.1 0.0 L12.9 1.2 L12.7 2.3 L12.5 3.2 L12.3 3.9 L12.1 4.3 L11.9 4.5Z" fill="url(#rb00000f01a1aff7070)" stroke="#800000" stroke-width="0.4" stroke-linejoin="round"/>
<path d="M14.1 4.5 L14.3 4.3 L14.4 3.9 L14.6 3.2 L14.8 2.3 L15.0 1.2 L15.2 0.0 L17.8 0.0 L17.6 1.2 L17.4 2.3 L17.2 3.2 L17.0 3.9 L16.8 4.3 L16.6 4.5Z" fill="url(#rb00000f01a1aff7070)" stroke="#800000" stroke-width="0.4" stroke-linejoin="round"/>
</g>
<g transform="translate(93.0,211.0) rotate(3.4)">
<path d="M2.6 -4.8 L2.8 -4.6 L3.1 -4.1 L3.3 -3.4 L3.5 -2.4 L3.7 -1.2 L3.9 -0.0 L4.1 1.2 L4.4 2.4 L4.6 3.4 L4.8 4.1 L5.0 4.6 L5.2 4.8 L8.1 4.8 L7.9 4.6 L7.7 4.1 L7.5 3.4 L7.2 2.4 L7.0 1.2 L6.8 -0.0 L6.6 -1.2 L6.4 -2.4 L6.2 -3.4 L5.9 -4.1 L5.7 -4.6 L5.5 -4.8Z" fill="#b00000" stroke="#800000" stroke-width="0.4" stroke-linejoin="round"/>
<path d="M7.9 -4.8 L8.1 -4.6 L8.3 -4.1 L8.5 -3.4 L8.7 -2.4 L9.0 -1.2 L9.2 -0.0 L9.4 1.2 L9.6 2.4 L9.8 3.4 L10.0 4.1 L10.3 4.6 L10.5 4.8 L13.4 4.8 L13.1 4.6 L12.9 4.1 L12.7 3.4 L12.5 2.4 L12.3 1.2 L12.1 -0.0 L11.8 -1.2 L11.6 -2.4 L11.4 -3.4 L11.2 -4.1 L11.0 -4.6 L10.7 -4.8Z" fill="#b00000" stroke="#800000" stroke-width="0.4" stroke-linejoin="round"/>
<path d="M13.1 -4.8 L13.3 -4.6 L13.5 -4.1 L13.8 -3.4 L14.0 -2.4 L14.2 -1.2 L14.4 -0.0 L14.6 1.2 L14.8 2.4 L15.1 3.4 L15.3 4.1 L15.5 4.6 L15.7 4.8 L18.6 4.8 L18.4 4.6 L18.2 4.1 L17.9 3.4 L17.7 2.4 L17.5 1.2 L17.3 -0.0 L17.1 -1.2 L16.9 -2.4 L16.6 -3.4 L16.4 -4.1 L16.2 -4.6 L16.0 -4.8Z" fill="#b00000" stroke="#800000" stroke-width="0.4" stroke-linejoin="round"/>
<path d="M18.3 -4.8 L18.6 -4.6 L18.8 -4.1 L19.0 -3.4 L19.2 -2.4 L19.4 -1.2 L19.6 -0.0 L19.9 1.2 L20.1 2.4 L20.3 3.4 L20.5 4.1 L20.7 4.6 L21.0 4.8 L23.8 4.8 L23.6 4.6 L23.4 4.1 L23.2 3.4 L23.0 2.4 L22.7 1.2 L22.5 -0.0 L22.3 -1.2 L22.1 -2.4 L21.9 -3.4 L21.7 -4.1 L21.4 -4.6 L21.2 -4.8Z" fill="#b00000" stroke="#800000" stroke-width="0.4" stroke-linejoin="round"/>
<path d="M23.6 -4.8 L23.8 -4.6 L24.0 -4.1 L24.2 -3.4 L24.5 -2.4 L24.7 -1.2 L24.9 -0.0 L25.1 1.2 L25.3 2.4 L25.5 3.4 L25.8 4.1 L26.0 4.6 L26.2 4.8 L29.1 4.8 L28.9 4.6 L28.6 4.1 L28.4 3.4 L28.2 2.4 L28.0 1.2 L27.8 -0.0 L27.6 -1.2 L27.3 -2.4 L27.1 -3.4 L26.9 -4.1 L26.7 -4.6 L26.5 -4.8Z" fill="#b00000" stroke="#800000" stroke-width="0.4" stroke-linejoin="round"/>
<path d="M28.8 -4.8 L29.0 -4.6 L29.3 -4.1 L29.5 -3.4 L29.7 -2.4 L29.9 -1.2 L30.1 -0.0 L30.3 1.2 L30.6 2.4 L30.8 3.4 L31.0 4.1 L31.2 4.6 L31.4 4.8 L34.3 4.8 L34.1 4.6 L33.9 4.1 L33.7 3.4 L33.4 2.4 L33.2 1.2 L33.0 -0.0 L32.8 -1.2 L32.6 -2.4 L32.4 -3.4 L32.1 -4.1 L31.9 -4.6 L31.7 -4.8Z" fill="#b00000" stroke="#800000" stroke-width="0.4" stroke-linejoin="round"/>
<path d="M0.0 4.8 L0.2 4.6 L0.4 4.1 L0.7 3.4 L0.9 2.4 L1.1 1.2 L1.3 0.0 L1.5 -1.2 L1.7 -2.4 L2.0 -3.4 L2.2 -4.1 L2.4 -4.6 L2.6 -4.8 L5.5 -4.8 L5.3 -4.6 L5.1 -4.1 L4.8 -3.4 L4.6 -2.4 L4.4 -1.2 L4.2 0.0 L4.0 1.2 L3.8 2.4 L3.5 3.4 L3.3 4.1 L3.1 4.6 L2.9 4.8Z" fill="url(#rb00000f01a1aff7070)" stroke="#800000" stroke-width="0.4" stroke-linejoin="round"/>
<path d="M5.2 4.8 L5.5 4.6 L5.7 4.1 L5.9 3.4 L6.1 2.4 L6.3 1.2 L6.5 0.0 L6.8 -1.2 L7.0 -2.4 L7.2 -3.4 L7.4 -4.1 L7.6 -4.6 L7.9 -4.8 L10.7 -4.8 L10.5 -4.6 L10.3 -4.1 L10.1 -3.4 L9.9 -2.4 L9.6 -1.2 L9.4 0.0 L9.2 1.2 L9.0 2.4 L8.8 3.4 L8.6 4.1 L8.3 4.6 L8.1 4.8Z" fill="url(#rb00000f01a1aff7070)" stroke="#800000" stroke-width="0.4" stroke-linejoin="round"/>
<path d="M10.5 4.8 L10.7 4.6 L10.9 4.1 L11.1 3.4 L11.4 2.4 L11.6 1.2 L11.8 0.0 L12.0 -1.2 L12.2 -2.4 L12.4 -3.4 L12.7 -4.1 L12.9 -4.6 L13.1 -4.8 L16.0 -4.8 L15.8 -4.6 L15.5 -4.1 L15.3 -3.4 L15.1 -2.4 L14.9 -1.2 L14.7 0.0 L14.5 1.2 L14.2 2.4 L14.0 3.4 L13.8 4.1 L13.6 4.6 L13.4 4.8Z" fill="url(#rb00000f01a1aff7070)" stroke="#800000" stroke-width="0.4" stroke-linejoin="round"/>
<path d="M15.7 4.8 L15.9 4.6 L16.2 4.1 L16.4 3.4 L16.6 2.4 L16.8 1.2 L17.0 0.0 L17.2 -1.2 L17.5 -2.4 L17.7 -3.4 L17.9 -4.1 L18.1 -4.6 L18.3 -4.8 L21.2 -4.8 L21.0 -4.6 L20.8 -4.1 L20.6 -3.4 L20.3 -2.4 L20.1 -1.2 L19.9 0.0 L19.7 1.2 L19.5 2.4 L19.3 3.4 L19.0 4.1 L18.8 4.6 L18.6 4.8Z" fill="url(#rb00000f01a1aff7070)" stroke="#800000" stroke-width="0.4" stroke-linejoin="round"/>
<path d="M21.0 4.8 L21.2 4.6 L21.4 4.1 L21.6 3.4 L21.8 2.4 L22.1 1.2 L22.3 0.0 L22.5 -1.2 L22.7 -2.4 L22.9 -3.4 L23.1 -4.1 L23.4 -4.6 L23.6 -4.8 L26.5 -4.8 L26.2 -4.6 L26.0 -4.1 L25.8 -3.4 L25.6 -2.4 L25.4 -1.2 L25.2 0.0 L24.9 1.2 L24.7 2.4 L24.5 3.4 L24.3 4.1 L24.1 4.6 L23.8 4.8Z" fill="url(#rb00000f01a1aff7070)" stroke="#800000" stroke-width="0.4" stroke-linejoin="round"/>
<path d="M26.2 4.8 L26.4 4.6 L26.6 4.1 L26.9 3.4 L27.1 2.4 L27.3 1.2 L27.5 0.0 L27.7 -1.2 L27.9 -2.4 L28.2 -3.4 L28.4 -4.1 L28.6 -4.6 L28.8 -4.8 L31.7 -4.8 L31.5 -4.6 L31.3 -4.1 L31.0 -3.4 L30.8 -2.4 L30.6 -1.2 L30.4 0.0 L30.2 1.2 L30.0 2.4 L29.7 3.4 L29.5 4.1 L29.3 4.6 L29.1 4.8Z" fill="url(#rb00000f01a1aff7070)" stroke="#800000" stroke-width="0.4" stroke-linejoin="round"/>
<path d="M31.4 4.8 L31.7 4.6 L31.9 4.1 L32.1 3.4 L32.3 2.4 L32.5 1.2 L32.7 0.0 L35.6 0.0 L35.4 1.2 L35.2 2.4 L35.0 3.4 L34.8 4.1 L34.5 4.6 L34.3 4.8Z" fill="url(#rb00000f01a1aff7070)" stroke="#800000" stroke-width="0.4" stroke-linejoin="round"/>
</g>
<g transform="translate(100.0,197.0) rotate(45.0)">
<path d="M2.8 -4.5 L3.1 -4.3 L3.3 -3.9 L3.5 -3.2 L3.8 -2.3 L4.0 -1.2 L4.2 -0.0 L4.5 1.2 L4.7 2.2 L4.9 3.2 L5.2 3.9 L5.4 4.3 L5.7 4.5 L8.8 4.5 L8.5 4.3 L8.3 3.9 L8.1 3.2 L7.8 2.2 L7.6 1.2 L7.4 -0.0 L7.1 -1.2 L6.9 -2.3 L6.6 -3.2 L6.4 -3.9 L6.2 -4.3 L5.9 -4.5Z" fill="#b00000" stroke="#800000" stroke-width="0.4" stroke-linejoin="round"/>
<path d="M8.5 -4.5 L8.7 -4.3 L9.0 -3.9 L9.2 -3.2 L9.4 -2.3 L9.7 -1.2 L9.9 -0.0 L10.1 1.2 L10.4 2.2 L10.6 3.2 L10.8 3.9 L11.1 4.3 L11.3 4.5 L14.4 4.5 L14.2 4.3 L14.0 3.9 L13.7 3.2 L13.5 2.2 L13.2 1.2 L13.0 -0.0 L12.8 -1.2 L12.5 -2.3 L12.3 -3.2 L12.1 -3.9 L11.8 -4.3 L11.6 -4.5Z" fill="#b00000" stroke="#800000" stroke-width="0.4" stroke-linejoin="round"/>
<path d="M0.0 4.5 L0.2 4.3 L0.5 3.9 L0.7 3.2 L0.9 2.3 L1.2 1.2 L1.4 0.0 L1.6 -1.2 L1.9 -2.2 L2.1 -3.2 L2.4 -3.9 L2.6 -4.3 L2.8 -4.5 L5.9 -4.5 L5.7 -4.3 L5.5 -3.9 L5.2 -3.2 L5.0 -2.2 L4.8 -1.2 L4.5 0.0 L4.3 1.2 L4.1 2.3 L3.8 3.2 L3.6 3.9 L3.3 4.3 L3.1 4.5Z" fill="url(#rb00000f01a1aff7070)" stroke="#800000" stroke-width="0.4" stroke-linejoin="round"/>
<path d="M5.7 4.5 L5.9 4.3 L6.1 3.9 L6.4 3.2 L6.6 2.3 L6.8 1.2 L7.1 0.0 L7.3 -1.2 L7.5 -2.2 L7.8 -3.2 L8.0 -3.9 L8.2 -4.3 L8.5 -4.5 L11.6 -4.5 L11.4 -4.3 L11.1 -3.9 L10.9 -3.2 L10.7 -2.2 L10.4 -1.2 L10.2 0.0 L9.9 1.2 L9.7 2.3 L9.5 3.2 L9.2 3.9 L9.0 4.3 L8.8 4.5Z" fill="url(#rb00000f01a1aff7070)" stroke="#800000" stroke-width="0.4" stroke-linejoin="round"/>
<path d="M11.3 4.5 L11.5 4.3 L11.8 3.9 L12.0 3.2 L12.3 2.3 L12.5 1.2 L12.7 0.0 L15.8 0.0 L15.6 1.2 L15.4 2.3 L15.1 3.2 L14.9 3.9 L14.7 4.3 L14.4 4.5Z" fill="url(#rb00000f01a1aff7070)" stroke="#800000" stroke-width="0.4" stroke-linejoin="round"/>
</g>
<g transform="translate(82.0,190.0) rotate(63.4)">
<path d="M2.2 -4.0 L2.4 -3.9 L2.6 -3.5 L2.8 -2.8 L3.0 -2.0 L3.2 -1.0 L3.4 -0.0 L3.5 1.0 L3.7 2.0 L3.9 2.8 L4.1 3.5 L4.3 3.9 L4.5 4.0 L6.9 4.0 L6.7 3.9 L6.6 3.5 L6.4 2.8 L6.2 2.0 L6.0 1.0 L5.8 -0.0 L5.6 -1.0 L5.4 -2.0 L5.3 -2.8 L5.1 -3.5 L4.9 -3.9 L4.7 -4.0Z" fill="#050505" stroke="#000000" stroke-width="0.4" stroke-linejoin="round"/>
<path d="M6.7 -4.0 L6.9 -3.9 L7.1 -3.5 L7.3 -2.8 L7.5 -2.0 L7.6 -1.0 L7.8 -0.0 L8.0 1.0 L8.2 2.0 L8.4 2.8 L8.6 3.5 L8.8 3.9 L8.9 4.0 L11.4 4.0 L11.2 3.9 L11.0 3.5 L10.8 2.8 L10.7 2.0 L10.5 1.0 L10.3 -0.0 L10.1 -1.0 L9.9 -2.0 L9.7 -2.8 L9.5 -3.5 L9.4 -3.9 L9.2 -4.0Z" fill="#050505" stroke="#000000" stroke-width="0.4" stroke-linejoin="round"/>
<path d="M11.2 -4.0 L11.4 -3.9 L11.6 -3.5 L11.7 -2.8 L11.9 -2.0 L12.1 -1.0 L12.3 -0.0 L12.5 1.0 L12.7 2.0 L12.9 2.8 L13.0 3.5 L13.2 3.9 L13.4 4.0 L15.9 4.0 L15.7 3.9 L15.5 3.5 L15.3 2.8 L15.1 2.0 L14.9 1.0 L14.8 -0.0 L14.6 -1.0 L14.4 -2.0 L14.2 -2.8 L14.0 -3.5 L13.8 -3.9 L13.6 -4.0Z" fill="#050505" stroke="#000000" stroke-width="0.4" stroke-linejoin="round"/>
<path d="M15.7 -4.0 L15.8 -3.9 L16.0 -3.5 L16.2 -2.8 L16.4 -2.0 L16.6 -1.0 L16.8 -0.0 L17.0 1.0 L17.1 2.0 L17.3 2.8 L17.5 3.5 L17.7 3.9 L17.9 4.0 L20.3 4.0 L20.2 3.9 L20.0 3.5 L19.8 2.8 L19.6 2.0 L19.4 1.0 L19.2 -0.0 L19.0 -1.0 L18.9 -2.0 L18.7 -2.8 L18.5 -3.5 L18.3 -3.9 L18.1 -4.0Z" fill="#050505" stroke="#000000" stroke-width="0.4" stroke-linejoin="round"/>
<path d="M20.1 -4.0 L20.3 -3.9 L20.5 -3.5 L20.7 -2.8 L20.9 -2.0 L21.1 -1.0 L21.2 -0.0 L21.4 1.0 L21.6 2.0 L21.8 2.8 L22.0 3.5 L22.2 3.9 L22.4 4.0 L24.8 4.0 L24.6 3.9 L24.4 3.5 L24.3 2.8 L24.1 2.0 L23.9 1.0 L23.7 -0.0 L23.5 -1.0 L23.3 -2.0 L23.1 -2.8 L23.0 -3.5 L22.8 -3.9 L22.6 -4.0Z" fill="#050505" stroke="#000000" stroke-width="0.4" stroke-linejoin="round"/>
<path d="M0.0 4.0 L0.2 3.9 L0.4 3.5 L0.6 2.8 L0.7 2.0 L0.9 1.0 L1.1 0.0 L1.3 -1.0 L1.5 -2.0 L1.7 -2.8 L1.9 -3.5 L2.0 -3.9 L2.2 -4.0 L4.7 -4.0 L4.5 -3.9 L4.3 -3.5 L4.1 -2.8 L4.0 -2.0 L3.8 -1.0 L3.6 0.0 L3.4 1.0 L3.2 2.0 L3.0 2.8 L2.8 3.5 L2.6 3.9 L2.5 4.0Z" fill="url(#r0505052a2a2a555555)" stroke="#000000" stroke-width="0.4" stroke-linejoin="round"/>
<path d="M4.5 4.0 L4.7 3.9 L4.8 3.5 L5.0 2.8 L5.2 2.0 L5.4 1.0 L5.6 0.0 L5.8 -1.0 L6.0 -2.0 L6.1 -2.8 L6.3 -3.5 L6.5 -3.9 L6.7 -4.0 L9.2 -4.0 L9.0 -3.9 L8.8 -3.5 L8.6 -2.8 L8.4 -2.0 L8.2 -1.0 L8.0 0.0 L7.9 1.0 L7.7 2.0 L7.5 2.8 L7.3 3.5 L7.1 3.9 L6.9 4.0Z" fill="url(#r0505052a2a2a555555)" stroke="#000000" stroke-width="0.4" stroke-linejoin="round"/>
<path d="M8.9 4.0 L9.1 3.9 L9.3 3.5 L9.5 2.8 L9.7 2.0 L9.9 1.0 L10.1 0.0 L10.2 -1.0 L10.4 -2.0 L10.6 -2.8 L10.8 -3.5 L11.0 -3.9 L11.2 -4.0 L13.6 -4.0 L13.5 -3.9 L13.3 -3.5 L13.1 -2.8 L12.9 -2.0 L12.7 -1.0 L12.5 0.0 L12.3 1.0 L12.1 2.0 L12.0 2.8 L11.8 3.5 L11.6 3.9 L11.4 4.0Z" fill="url(#r0505052a2a2a555555)" stroke="#000000" stroke-width="0.4" stroke-linejoin="round"/>
<path d="M13.4 4.0 L13.6 3.9 L13.8 3.5 L14.0 2.8 L14.2 2.0 L14.3 1.0 L14.5 0.0 L14.7 -1.0 L14.9 -2.0 L15.1 -2.8 L15.3 -3.5 L15.5 -3.9 L15.7 -4.0 L18.1 -4.0 L17.9 -3.9 L17.7 -3.5 L17.6 -2.8 L17.4 -2.0 L17.2 -1.0 L17.0 0.0 L16.8 1.0 L16.6 2.0 L16.4 2.8 L16.2 3.5 L16.1 3.9 L15.9 4.0Z" fill="url(#r0505052a2a2a555555)" stroke="#000000" stroke-width="0.4" stroke-linejoin="round"/>
<path d="M17.9 4.0 L18.1 3.9 L18.3 3.5 L18.4 2.8 L18.6 2.0 L18.8 1.0 L19.0 0.0 L19.2 -1.0 L19.4 -2.0 L19.6 -2.8 L19.8 -3.5 L19.9 -3.9 L20.1 -4.0 L22.6 -4.0 L22.4 -3.9 L22.2 -3.5 L22.0 -2.8 L21.8 -2.0 L21.7 -1.0 L21.5 0.0 L21.3 1.0 L21.1 2.0 L20.9 2.8 L20.7 3.5 L20.5 3.9 L20.3 4.0Z" fill="url(#r0505052a2a2a555555)" stroke="#000000" stroke-width="0.4" stroke-linejoin="round"/>
<path d="M22.4 4.0 L22.5 3.9 L22.7 3.5 L22.9 2.8 L23.1 2.0 L23.3 1.0 L23.5 0.0 L25.9 0.0 L25.8 1.0 L25.6 2.0 L25.4 2.8 L25.2 3.5 L25.0 3.9 L24.8 4.0Z" fill="url(#r0505052a2a2a555555)" stroke="#000000" stroke-width="0.4" stroke-linejoin="round"/>
</g>
<g transform="translate(98.0,197.0) rotate(68.2)">
<path d="M2.4 -3.8 L2.6 -3.6 L2.8 -3.2 L3.0 -2.7 L3.2 -1.9 L3.4 -1.0 L3.6 -0.0 L3.8 1.0 L4.0 1.9 L4.2 2.7 L4.4 3.2 L4.6 3.6 L4.8 3.8 L7.4 3.8 L7.2 3.6 L7.0 3.2 L6.8 2.7 L6.6 1.9 L6.4 1.0 L6.2 -0.0 L6.0 -1.0 L5.8 -1.9 L5.6 -2.7 L5.4 -3.2 L5.2 -3.6 L5.0 -3.8Z" fill="#050505" stroke="#000000" stroke-width="0.4" stroke-linejoin="round"/>
<path d="M7.2 -3.8 L7.4 -3.6 L7.6 -3.2 L7.8 -2.7 L8.0 -1.9 L8.2 -1.0 L8.4 -0.0 L8.6 1.0 L8.8 1.9 L9.0 2.7 L9.2 3.2 L9.4 3.6 L9.6 3.8 L12.2 3.8 L12.0 3.6 L11.8 3.2 L11.6 2.7 L11.4 1.9 L11.2 1.0 L11.0 -0.0 L10.8 -1.0 L10.6 -1.9 L10.4 -2.7 L10.2 -3.2 L10.0 -3.6 L9.8 -3.8Z" fill="#050505" stroke="#000000" stroke-width="0.4" stroke-linejoin="round"/>
<path d="M12.0 -3.8 L12.2 -3.6 L12.4 -3.2 L12.6 -2.7 L12.8 -1.9 L13.0 -1.0 L13.2 -0.0 L13.4 1.0 L13.6 1.9 L13.8 2.7 L14.0 3.2 L14.2 3.6 L14.4 3.8 L17.0 3.8 L16.8 3.6 L16.6 3.2 L16.4 2.7 L16.2 1.9 L16.0 1.0 L15.8 -0.0 L15.6 -1.0 L15.4 -1.9 L15.2 -2.7 L15.0 -3.2 L14.8 -3.6 L14.6 -3.8Z" fill="#050505" stroke="#000000" stroke-width="0.4" stroke-linejoin="round"/>
<path d="M16.8 -3.8 L17.0 -3.6 L17.2 -3.2 L17.4 -2.7 L17.6 -1.9 L17.8 -1.0 L18.0 -0.0 L18.1 1.0 L18.3 1.9 L18.5 2.7 L18.7 3.2 L18.9 3.6 L19.1 3.8 L21.8 3.8 L21.6 3.6 L21.4 3.2 L21.2 2.7 L21.0 1.9 L20.8 1.0 L20.6 -0.0 L20.4 -1.0 L20.2 -1.9 L20.0 -2.7 L19.8 -3.2 L19.6 -3.6 L19.4 -3.8Z" fill="#050505" stroke="#000000" stroke-width="0.4" stroke-linejoin="round"/>
<path d="M0.0 3.8 L0.2 3.6 L0.4 3.2 L0.6 2.7 L0.8 1.9 L1.0 1.0 L1.2 0.0 L1.4 -1.0 L1.6 -1.9 L1.8 -2.7 L2.0 -3.2 L2.2 -3.6 L2.4 -3.8 L5.0 -3.8 L4.8 -3.6 L4.6 -3.2 L4.4 -2.7 L4.2 -1.9 L4.0 -1.0 L3.8 0.0 L3.6 1.0 L3.4 1.9 L3.2 2.7 L3.0 3.2 L2.8 3.6 L2.6 3.8Z" fill="url(#r0505052a2a2a555555)" stroke="#000000" stroke-width="0.4" stroke-linejoin="round"/>
<path d="M4.8 3.8 L5.0 3.6 L5.2 3.2 L5.4 2.7 L5.6 1.9 L5.8 1.0 L6.0 0.0 L6.2 -1.0 L6.4 -1.9 L6.6 -2.7 L6.8 -3.2 L7.0 -3.6 L7.2 -3.8 L9.8 -3.8 L9.6 -3.6 L9.4 -3.2 L9.2 -2.7 L9.0 -1.9 L8.8 -1.0 L8.6 0.0 L8.4 1.0 L8.2 1.9 L8.0 2.7 L7.8 3.2 L7.6 3.6 L7.4 3.8Z" fill="url(#r0505052a2a2a555555)" stroke="#000000" stroke-width="0.4" stroke-linejoin="round"/>
<path d="M9.6 3.8 L9.8 3.6 L10.0 3.2 L10.2 2.7 L10.4 1.9 L10.6 1.0 L10.8 0.0 L11.0 -1.0 L11.2 -1.9 L11.4 -2.7 L11.6 -3.2 L11.8 -3.6 L12.0 -3.8 L14.6 -3.8 L14.4 -3.6 L14.2 -3.2 L14.0 -2.7 L13.8 -1.9 L13.6 -1.0 L13.4 0.0 L13.2 1.0 L13.0 1.9 L12.8 2.7 L12.6 3.2 L12.4 3.6 L12.2 3.8Z" fill="url(#r0505052a2a2a555555)" stroke="#000000" stroke-width="0.4" stroke-linejoin="round"/>
<path d="M14.4 3.8 L14.6 3.6 L14.8 3.2 L15.0 2.7 L15.2 1.9 L15.4 1.0 L15.6 0.0 L15.8 -1.0 L16.0 -1.9 L16.2 -2.7 L16.4 -3.2 L16.6 -3.6 L16.8 -3.8 L19.4 -3.8 L19.2 -3.6 L19.0 -3.2 L18.8 -2.7 L18.6 -1.9 L18.4 -1.0 L18.2 0.0 L18.0 1.0 L17.8 1.9 L17.6 2.7 L17.4 3.2 L17.2 3.6 L17.0 3.8Z" fill="url(#r0505052a2a2a555555)" stroke="#000000" stroke-width="0.4" stroke-linejoin="round"/>
<path d="M19.1 3.8 L19.3 3.6 L19.5 3.2 L19.7 2.7 L19.9 1.9 L20.1 1.0 L20.3 0.0 L23.0 0.0 L22.8 1.0 L22.6 1.9 L22.4 2.7 L22.2 3.2 L22.0 3.6 L21.8 3.8Z" fill="url(#r0505052a2a2a555555)" stroke="#000000" stroke-width="0.4" stroke-linejoin="round"/>
</g>
<g transform="translate(96.0,222.0) rotate(60.9)">
<path d="M2.3 -3.2 L2.5 -3.1 L2.7 -2.8 L2.9 -2.3 L3.1 -1.6 L3.2 -0.8 L3.4 -0.0 L3.6 0.8 L3.8 1.6 L4.0 2.3 L4.2 2.8 L4.4 3.1 L4.6 3.2 L7.1 3.2 L6.9 3.1 L6.7 2.8 L6.5 2.3 L6.3 1.6 L6.1 0.8 L5.9 -0.0 L5.8 -0.8 L5.6 -1.6 L5.4 -2.3 L5.2 -2.8 L5.0 -3.1 L4.8 -3.2Z" fill="#050505" stroke="#000000" stroke-width="0.4" stroke-linejoin="round"/>
<path d="M6.9 -3.2 L7.1 -3.1 L7.2 -2.8 L7.4 -2.3 L7.6 -1.6 L7.8 -0.8 L8.0 -0.0 L8.2 0.8 L8.4 1.6 L8.6 2.3 L8.8 2.8 L9.0 3.1 L9.2 3.2 L11.7 3.2 L11.5 3.1 L11.3 2.8 L11.1 2.3 L10.9 1.6 L10.7 0.8 L10.5 -0.0 L10.3 -0.8 L10.1 -1.6 L10.0 -2.3 L9.8 -2.8 L9.6 -3.1 L9.4 -3.2Z" fill="#050505" stroke="#000000" stroke-width="0.4" stroke-linejoin="round"/>
<path d="M11.4 -3.2 L11.6 -3.1 L11.8 -2.8 L12.0 -2.3 L12.2 -1.6 L12.4 -0.8 L12.6 -0.0 L12.8 0.8 L13.0 1.6 L13.2 2.3 L13.3 2.8 L13.5 3.1 L13.7 3.2 L16.2 3.2 L16.1 3.1 L15.9 2.8 L15.7 2.3 L15.5 1.6 L15.3 0.8 L15.1 -0.0 L14.9 -0.8 L14.7 -1.6 L14.5 -2.3 L14.3 -2.8 L14.1 -3.1 L14.0 -3.2Z" fill="#050505" stroke="#000000" stroke-width="0.4" stroke-linejoin="round"/>
<path d="M16.0 -3.2 L16.2 -3.1 L16.4 -2.8 L16.6 -2.3 L16.8 -1.6 L17.0 -0.8 L17.2 -0.0 L17.4 0.8 L17.5 1.6 L17.7 2.3 L17.9 2.8 L18.1 3.1 L18.3 3.2 L20.8 3.2 L20.6 3.1 L20.4 2.8 L20.2 2.3 L20.1 1.6 L19.9 0.8 L19.7 -0.0 L19.5 -0.8 L19.3 -1.6 L19.1 -2.3 L18.9 -2.8 L18.7 -3.1 L18.5 -3.2Z" fill="#050505" stroke="#000000" stroke-width="0.4" stroke-linejoin="round"/>
<path d="M0.0 3.2 L0.2 3.1 L0.4 2.8 L0.6 2.3 L0.8 1.6 L1.0 0.8 L1.1 0.0 L1.3 -0.8 L1.5 -1.6 L1.7 -2.3 L1.9 -2.8 L2.1 -3.1 L2.3 -3.2 L4.8 -3.2 L4.6 -3.1 L4.4 -2.8 L4.2 -2.3 L4.0 -1.6 L3.9 -0.8 L3.7 0.0 L3.5 0.8 L3.3 1.6 L3.1 2.3 L2.9 2.8 L2.7 3.1 L2.5 3.2Z" fill="url(#r0505052a2a2a555555)" stroke="#000000" stroke-width="0.4" stroke-linejoin="round"/>
<path d="M4.6 3.2 L4.8 3.1 L5.0 2.8 L5.1 2.3 L5.3 1.6 L5.5 0.8 L5.7 0.0 L5.9 -0.8 L6.1 -1.6 L6.3 -2.3 L6.5 -2.8 L6.7 -3.1 L6.9 -3.2 L9.4 -3.2 L9.2 -3.1 L9.0 -2.8 L8.8 -2.3 L8.6 -1.6 L8.4 -0.8 L8.2 0.0 L8.0 0.8 L7.9 1.6 L7.7 2.3 L7.5 2.8 L7.3 3.1 L7.1 3.2Z" fill="url(#r0505052a2a2a555555)" stroke="#000000" stroke-width="0.4" stroke-linejoin="round"/>
<path d="M9.2 3.2 L9.3 3.1 L9.5 2.8 L9.7 2.3 L9.9 1.6 L10.1 0.8 L10.3 0.0 L10.5 -0.8 L10.7 -1.6 L10.9 -2.3 L11.1 -2.8 L11.2 -3.1 L11.4 -3.2 L14.0 -3.2 L13.8 -3.1 L13.6 -2.8 L13.4 -2.3 L13.2 -1.6 L13.0 -0.8 L12.8 0.0 L12.6 0.8 L12.4 1.6 L12.2 2.3 L12.0 2.8 L11.9 3.1 L11.7 3.2Z" fill="url(#r0505052a2a2a555555)" stroke="#000000" stroke-width="0.4" stroke-linejoin="round"/>
<path d="M13.7 3.2 L13.9 3.1 L14.1 2.8 L14.3 2.3 L14.5 1.6 L14.7 0.8 L14.9 0.0 L15.1 -0.8 L15.3 -1.6 L15.4 -2.3 L15.6 -2.8 L15.8 -3.1 L16.0 -3.2 L18.5 -3.2 L18.3 -3.1 L18.2 -2.8 L18.0 -2.3 L17.8 -1.6 L17.6 -0.8 L17.4 0.0 L17.2 0.8 L17.0 1.6 L16.8 2.3 L16.6 2.8 L16.4 3.1 L16.2 3.2Z" fill="url(#r0505052a2a2a555555)" stroke="#000000" stroke-width="0.4" stroke-linejoin="round"/>
<path d="M18.3 3.2 L18.5 3.1 L18.7 2.8 L18.9 2.3 L19.1 1.6 L19.3 0.8 L19.4 0.0 L22.0 0.0 L21.8 0.8 L21.6 1.6 L21.4 2.3 L21.2 2.8 L21.0 3.1 L20.8 3.2Z" fill="url(#r0505052a2a2a555555)" stroke="#000000" stroke-width="0.4" stroke-linejoin="round"/>
</g>
<path d="M41.0 206.0 C40.5 207.3 38.2 211.3 38.0 214.0 C37.8 216.7 39.0 219.7 40.0 222.0 C41.0 224.3 43.0 226.0 44.0 228.0 C45.0 230.0 45.7 233.0 46.0 234.0" fill="none" stroke="#0000e0" stroke-width="0.9" stroke-linecap="round"/>
<path d="M82.0 216.0 C83.0 216.8 86.3 219.0 88.0 221.0 C89.7 223.0 90.7 225.8 92.0 228.0 C93.3 230.2 95.7 232.0 96.0 234.0 C96.3 236.0 95.0 238.3 94.0 240.0 C93.0 241.7 90.7 243.3 90.0 244.0" fill="none" stroke="#0000e0" stroke-width="0.9" stroke-linecap="round"/>
<path d="M58.0 226.0 C59.3 226.5 63.3 228.8 66.0 229.0 C68.7 229.2 71.3 226.7 74.0 227.0 C76.7 227.3 79.7 230.0 82.0 231.0 C84.3 232.0 87.0 232.7 88.0 233.0" fill="none" stroke="#0000c8" stroke-width="0.8" stroke-linecap="round"/>
<path d="M90.0 244.0 C91.0 244.3 94.0 246.3 96.0 246.0 C98.0 245.7 101.3 243.7 102.0 242.0 C102.7 240.3 101.0 237.7 100.0 236.0 C99.0 234.3 96.7 232.7 96.0 232.0" fill="none" stroke="#0000c8" stroke-width="0.8" stroke-linecap="round"/>
<path d="M84.0 212.0 C85.3 211.7 89.7 209.7 92.0 210.0 C94.3 210.3 96.7 212.0 98.0 214.0 C99.3 216.0 99.7 220.7 100.0 222.0" fill="none" stroke="#0000c8" stroke-width="0.7" stroke-linecap="round"/>
<ellipse cx="48" cy="207.5" rx="6.5" ry="6" fill="#0808e8" stroke="#000070" stroke-width="0.5"/>
<g transform="translate(44.0,206.0) rotate(16.4)">
<path d="M2.7 -5.5 L2.9 -5.3 L3.2 -4.8 L3.4 -3.9 L3.6 -2.8 L3.8 -1.4 L4.1 -0.0 L4.3 1.4 L4.5 2.7 L4.7 3.9 L5.0 4.8 L5.2 5.3 L5.4 5.5 L8.4 5.5 L8.2 5.3 L8.0 4.8 L7.7 3.9 L7.5 2.7 L7.3 1.4 L7.0 -0.0 L6.8 -1.4 L6.6 -2.8 L6.4 -3.9 L6.1 -4.8 L5.9 -5.3 L5.7 -5.5Z" fill="#00008c" stroke="#000068" stroke-width="0.4" stroke-linejoin="round"/>
<path d="M8.1 -5.5 L8.4 -5.3 L8.6 -4.8 L8.8 -3.9 L9.0 -2.8 L9.3 -1.4 L9.5 -0.0 L9.7 1.4 L9.9 2.7 L10.2 3.9 L10.4 4.8 L10.6 5.3 L10.8 5.5 L13.8 5.5 L13.6 5.3 L13.4 4.8 L13.1 3.9 L12.9 2.7 L12.7 1.4 L12.5 -0.0 L12.2 -1.4 L12.0 -2.8 L11.8 -3.9 L11.6 -4.8 L11.3 -5.3 L11.1 -5.5Z" fill="#00008c" stroke="#000068" stroke-width="0.4" stroke-linejoin="round"/>
<path d="M13.6 -5.5 L13.8 -5.3 L14.0 -4.8 L14.2 -3.9 L14.5 -2.8 L14.7 -1.4 L14.9 -0.0 L15.1 1.4 L15.4 2.7 L15.6 3.9 L15.8 4.8 L16.0 5.3 L16.3 5.5 L19.2 5.5 L19.0 5.3 L18.8 4.8 L18.6 3.9 L18.3 2.7 L18.1 1.4 L17.9 -0.0 L17.7 -1.4 L17.4 -2.8 L17.2 -3.9 L17.0 -4.8 L16.8 -5.3 L16.5 -5.5Z" fill="#00008c" stroke="#000068" stroke-width="0.4" stroke-linejoin="round"/>
<path d="M19.0 -5.5 L19.2 -5.3 L19.4 -4.8 L19.7 -3.9 L19.9 -2.8 L20.1 -1.4 L20.3 -0.0 L20.6 1.4 L20.8 2.7 L21.0 3.9 L21.2 4.8 L21.5 5.3 L21.7 5.5 L24.7 5.5 L24.4 5.3 L24.2 4.8 L24.0 3.9 L23.8 2.7 L23.5 1.4 L23.3 -0.0 L23.1 -1.4 L22.9 -2.8 L22.6 -3.9 L22.4 -4.8 L22.2 -5.3 L22.0 -5.5Z" fill="#00008c" stroke="#000068" stroke-width="0.4" stroke-linejoin="round"/>
<path d="M24.4 -5.5 L24.6 -5.3 L24.8 -4.8 L25.1 -3.9 L25.3 -2.8 L25.5 -1.4 L25.8 -0.0 L26.0 1.4 L26.2 2.7 L26.4 3.9 L26.7 4.8 L26.9 5.3 L27.1 5.5 L30.1 5.5 L29.9 5.3 L29.6 4.8 L29.4 3.9 L29.2 2.7 L29.0 1.4 L28.7 -0.0 L28.5 -1.4 L28.3 -2.8 L28.1 -3.9 L27.8 -4.8 L27.6 -5.3 L27.4 -5.5Z" fill="#00008c" stroke="#000068" stroke-width="0.4" stroke-linejoin="round"/>
<path d="M29.8 -5.5 L30.0 -5.3 L30.3 -4.8 L30.5 -3.9 L30.7 -2.8 L30.9 -1.4 L31.2 -0.0 L31.4 1.4 L31.6 2.7 L31.9 3.9 L32.1 4.8 L32.3 5.3 L32.5 5.5 L35.5 5.5 L35.3 5.3 L35.1 4.8 L34.8 3.9 L34.6 2.7 L34.4 1.4 L34.2 -0.0 L33.9 -1.4 L33.7 -2.8 L33.5 -3.9 L33.3 -4.8 L33.0 -5.3 L32.8 -5.5Z" fill="#00008c" stroke="#000068" stroke-width="0.4" stroke-linejoin="round"/>
<path d="M35.2 -5.5 L35.5 -5.3 L35.7 -4.8 L35.9 -3.9 L36.1 -2.8 L36.4 -1.4 L36.6 -0.0 L36.8 1.4 L37.0 2.7 L37.3 3.9 L37.5 4.8 L37.7 5.3 L37.9 5.5 L40.9 5.5 L40.7 5.3 L40.5 4.8 L40.3 3.9 L40.0 2.7 L39.8 1.4 L39.6 -0.0 L39.4 -1.4 L39.1 -2.8 L38.9 -3.9 L38.7 -4.8 L38.4 -5.3 L38.2 -5.5Z" fill="#00008c" stroke="#000068" stroke-width="0.4" stroke-linejoin="round"/>
<path d="M0.0 5.5 L0.2 5.3 L0.5 4.8 L0.7 3.9 L0.9 2.8 L1.1 1.4 L1.4 0.0 L1.6 -1.4 L1.8 -2.7 L2.0 -3.9 L2.3 -4.8 L2.5 -5.3 L2.7 -5.5 L5.7 -5.5 L5.5 -5.3 L5.2 -4.8 L5.0 -3.9 L4.8 -2.7 L4.6 -1.4 L4.3 0.0 L4.1 1.4 L3.9 2.8 L3.7 3.9 L3.4 4.8 L3.2 5.3 L3.0 5.5Z" fill="url(#r00008c0a0af05a5aff)" stroke="#000068" stroke-width="0.4" stroke-linejoin="round"/>
<path d="M5.4 5.5 L5.6 5.3 L5.9 4.8 L6.1 3.9 L6.3 2.8 L6.6 1.4 L6.8 0.0 L7.0 -1.4 L7.2 -2.7 L7.5 -3.9 L7.7 -4.8 L7.9 -5.3 L8.1 -5.5 L11.1 -5.5 L10.9 -5.3 L10.7 -4.8 L10.4 -3.9 L10.2 -2.7 L10.0 -1.4 L9.8 0.0 L9.5 1.4 L9.3 2.8 L9.1 3.9 L8.9 4.8 L8.6 5.3 L8.4 5.5Z" fill="url(#r00008c0a0af05a5aff)" stroke="#000068" stroke-width="0.4" stroke-linejoin="round"/>
<path d="M10.8 5.5 L11.1 5.3 L11.3 4.8 L11.5 3.9 L11.7 2.8 L12.0 1.4 L12.2 0.0 L12.4 -1.4 L12.6 -2.7 L12.9 -3.9 L13.1 -4.8 L13.3 -5.3 L13.6 -5.5 L16.5 -5.5 L16.3 -5.3 L16.1 -4.8 L15.9 -3.9 L15.6 -2.7 L15.4 -1.4 L15.2 0.0 L15.0 1.4 L14.7 2.8 L14.5 3.9 L14.3 4.8 L14.1 5.3 L13.8 5.5Z" fill="url(#r00008c0a0af05a5aff)" stroke="#000068" stroke-width="0.4" stroke-linejoin="round"/>
<path d="M16.3 5.5 L16.5 5.3 L16.7 4.8 L16.9 3.9 L17.2 2.8 L17.4 1.4 L17.6 0.0 L17.8 -1.4 L18.1 -2.7 L18.3 -3.9 L18.5 -4.8 L18.7 -5.3 L19.0 -5.5 L22.0 -5.5 L21.7 -5.3 L21.5 -4.8 L21.3 -3.9 L21.1 -2.7 L20.8 -1.4 L20.6 0.0 L20.4 1.4 L20.1 2.8 L19.9 3.9 L19.7 4.8 L19.5 5.3 L19.2 5.5Z" fill="url(#r00008c0a0af05a5aff)" stroke="#000068" stroke-width="0.4" stroke-linejoin="round"/>
<path d="M21.7 5.5 L21.9 5.3 L22.1 4.8 L22.4 3.9 L22.6 2.8 L22.8 1.4 L23.0 0.0 L23.3 -1.4 L23.5 -2.7 L23.7 -3.9 L23.9 -4.8 L24.2 -5.3 L24.4 -5.5 L27.4 -5.5 L27.2 -5.3 L26.9 -4.8 L26.7 -3.9 L26.5 -2.7 L26.2 -1.4 L26.0 0.0 L25.8 1.4 L25.6 2.8 L25.3 3.9 L25.1 4.8 L24.9 5.3 L24.7 5.5Z" fill="url(#r00008c0a0af05a5aff)" stroke="#000068" stroke-width="0.4" stroke-linejoin="round"/>
<path d="M27.1 5.5 L27.3 5.3 L27.6 4.8 L27.8 3.9 L28.0 2.8 L28.2 1.4 L28.5 0.0 L28.7 -1.4 L28.9 -2.7 L29.1 -3.9 L29.4 -4.8 L29.6 -5.3 L29.8 -5.5 L32.8 -5.5 L32.6 -5.3 L32.3 -4.8 L32.1 -3.9 L31.9 -2.7 L31.7 -1.4 L31.4 0.0 L31.2 1.4 L31.0 2.8 L30.8 3.9 L30.5 4.8 L30.3 5.3 L30.1 5.5Z" fill="url(#r00008c0a0af05a5aff)" stroke="#000068" stroke-width="0.4" stroke-linejoin="round"/>
<path d="M32.5 5.5 L32.8 5.3 L33.0 4.8 L33.2 3.9 L33.4 2.8 L33.7 1.4 L33.9 0.0 L34.1 -1.4 L34.3 -2.7 L34.6 -3.9 L34.8 -4.8 L35.0 -5.3 L35.2 -5.5 L38.2 -5.5 L38.0 -5.3 L37.8 -4.8 L37.5 -3.9 L37.3 -2.7 L37.1 -1.4 L36.9 0.0 L36.6 1.4 L36.4 2.8 L36.2 3.9 L36.0 4.8 L35.7 5.3 L35.5 5.5Z" fill="url(#r00008c0a0af05a5aff)" stroke="#000068" stroke-width="0.4" stroke-linejoin="round"/>
<path d="M37.9 5.5 L38.2 5.3 L38.4 4.8 L38.6 3.9 L38.9 2.8 L39.1 1.4 L39.3 0.0 L42.3 0.0 L42.1 1.4 L41.8 2.8 L41.6 3.9 L41.4 4.8 L41.2 5.3 L40.9 5.5Z" fill="url(#r00008c0a0af05a5aff)" stroke="#000068" stroke-width="0.4" stroke-linejoin="round"/>
</g>
<g transform="translate(44.8,233.5) rotate(8.0)">
<path d="M2.7 -5.5 L3.0 -5.3 L3.2 -4.8 L3.4 -3.9 L3.7 -2.8 L3.9 -1.4 L4.1 -0.0 L4.3 1.4 L4.6 2.7 L4.8 3.9 L5.0 4.8 L5.3 5.3 L5.5 5.5 L8.5 5.5 L8.3 5.3 L8.1 4.8 L7.8 3.9 L7.6 2.7 L7.4 1.4 L7.1 -0.0 L6.9 -1.4 L6.7 -2.8 L6.4 -3.9 L6.2 -4.8 L6.0 -5.3 L5.8 -5.5Z" fill="#00008c" stroke="#000068" stroke-width="0.4" stroke-linejoin="round"/>
<path d="M8.2 -5.5 L8.5 -5.3 L8.7 -4.8 L8.9 -3.9 L9.1 -2.8 L9.4 -1.4 L9.6 -0.0 L9.8 1.4 L10.1 2.7 L10.3 3.9 L10.5 4.8 L10.7 5.3 L11.0 5.5 L14.0 5.5 L13.8 5.3 L13.5 4.8 L13.3 3.9 L13.1 2.7 L12.9 1.4 L12.6 -0.0 L12.4 -1.4 L12.2 -2.8 L11.9 -3.9 L11.7 -4.8 L11.5 -5.3 L11.3 -5.5Z" fill="#00008c" stroke="#000068" stroke-width="0.4" stroke-linejoin="round"/>
<path d="M13.7 -5.5 L14.0 -5.3 L14.2 -4.8 L14.4 -3.9 L14.6 -2.8 L14.9 -1.4 L15.1 -0.0 L15.3 1.4 L15.6 2.7 L15.8 3.9 L16.0 4.8 L16.2 5.3 L16.5 5.5 L19.5 5.5 L19.3 5.3 L19.0 4.8 L18.8 3.9 L18.6 2.7 L18.3 1.4 L18.1 -0.0 L17.9 -1.4 L17.7 -2.8 L17.4 -3.9 L17.2 -4.8 L17.0 -5.3 L16.7 -5.5Z" fill="#00008c" stroke="#000068" stroke-width="0.4" stroke-linejoin="round"/>
<path d="M19.2 -5.5 L19.4 -5.3 L19.7 -4.8 L19.9 -3.9 L20.1 -2.8 L20.4 -1.4 L20.6 -0.0 L20.8 1.4 L21.0 2.7 L21.3 3.9 L21.5 4.8 L21.7 5.3 L22.0 5.5 L25.0 5.5 L24.7 5.3 L24.5 4.8 L24.3 3.9 L24.1 2.7 L23.8 1.4 L23.6 -0.0 L23.4 -1.4 L23.1 -2.8 L22.9 -3.9 L22.7 -4.8 L22.5 -5.3 L22.2 -5.5Z" fill="#00008c" stroke="#000068" stroke-width="0.4" stroke-linejoin="round"/>
<path d="M24.7 -5.5 L24.9 -5.3 L25.2 -4.8 L25.4 -3.9 L25.6 -2.8 L25.8 -1.4 L26.1 -0.0 L26.3 1.4 L26.5 2.7 L26.8 3.9 L27.0 4.8 L27.2 5.3 L27.4 5.5 L30.5 5.5 L30.2 5.3 L30.0 4.8 L29.8 3.9 L29.5 2.7 L29.3 1.4 L29.1 -0.0 L28.9 -1.4 L28.6 -2.8 L28.4 -3.9 L28.2 -4.8 L27.9 -5.3 L27.7 -5.5Z" fill="#00008c" stroke="#000068" stroke-width="0.4" stroke-linejoin="round"/>
<path d="M30.2 -5.5 L30.4 -5.3 L30.6 -4.8 L30.9 -3.9 L31.1 -2.8 L31.3 -1.4 L31.6 -0.0 L31.8 1.4 L32.0 2.7 L32.2 3.9 L32.5 4.8 L32.7 5.3 L32.9 5.5 L36.0 5.5 L35.7 5.3 L35.5 4.8 L35.3 3.9 L35.0 2.7 L34.8 1.4 L34.6 -0.0 L34.4 -1.4 L34.1 -2.8 L33.9 -3.9 L33.7 -4.8 L33.4 -5.3 L33.2 -5.5Z" fill="#00008c" stroke="#000068" stroke-width="0.4" stroke-linejoin="round"/>
<path d="M35.7 -5.5 L35.9 -5.3 L36.1 -4.8 L36.4 -3.9 L36.6 -2.8 L36.8 -1.4 L37.0 -0.0 L37.3 1.4 L37.5 2.7 L37.7 3.9 L38.0 4.8 L38.2 5.3 L38.4 5.5 L41.4 5.5 L41.2 5.3 L41.0 4.8 L40.8 3.9 L40.5 2.7 L40.3 1.4 L40.1 -0.0 L39.8 -1.4 L39.6 -2.8 L39.4 -3.9 L39.2 -4.8 L38.9 -5.3 L38.7 -5.5Z" fill="#00008c" stroke="#000068" stroke-width="0.4" stroke-linejoin="round"/>
<path d="M41.2 -5.5 L41.4 -5.3 L41.6 -4.8 L41.9 -3.9 L42.1 -2.8 L42.3 -1.4 L42.5 -0.0 L42.8 1.4 L43.0 2.7 L43.2 3.9 L43.5 4.8 L43.7 5.3 L43.9 5.5 L46.9 5.5 L46.7 5.3 L46.5 4.8 L46.2 3.9 L46.0 2.7 L45.8 1.4 L45.6 -0.0 L45.3 -1.4 L45.1 -2.8 L44.9 -3.9 L44.6 -4.8 L44.4 -5.3 L44.2 -5.5Z" fill="#00008c" stroke="#000068" stroke-width="0.4" stroke-linejoin="round"/>
<path d="M0.0 5.5 L0.2 5.3 L0.5 4.8 L0.7 3.9 L0.9 2.8 L1.1 1.4 L1.4 0.0 L1.6 -1.4 L1.8 -2.7 L2.1 -3.9 L2.3 -4.8 L2.5 -5.3 L2.7 -5.5 L5.8 -5.5 L5.5 -5.3 L5.3 -4.8 L5.1 -3.9 L4.8 -2.7 L4.6 -1.4 L4.4 0.0 L4.2 1.4 L3.9 2.8 L3.7 3.9 L3.5 4.8 L3.2 5.3 L3.0 5.5Z" fill="url(#r00008c0a0af05a5aff)" stroke="#000068" stroke-width="0.4" stroke-linejoin="round"/>
<path d="M5.5 5.5 L5.7 5.3 L5.9 4.8 L6.2 3.9 L6.4 2.8 L6.6 1.4 L6.9 0.0 L7.1 -1.4 L7.3 -2.7 L7.5 -3.9 L7.8 -4.8 L8.0 -5.3 L8.2 -5.5 L11.3 -5.5 L11.0 -5.3 L10.8 -4.8 L10.6 -3.9 L10.3 -2.7 L10.1 -1.4 L9.9 0.0 L9.7 1.4 L9.4 2.8 L9.2 3.9 L9.0 4.8 L8.7 5.3 L8.5 5.5Z" fill="url(#r00008c0a0af05a5aff)" stroke="#000068" stroke-width="0.4" stroke-linejoin="round"/>
<path d="M11.0 5.5 L11.2 5.3 L11.4 4.8 L11.7 3.9 L11.9 2.8 L12.1 1.4 L12.3 0.0 L12.6 -1.4 L12.8 -2.7 L13.0 -3.9 L13.3 -4.8 L13.5 -5.3 L13.7 -5.5 L16.7 -5.5 L16.5 -5.3 L16.3 -4.8 L16.1 -3.9 L15.8 -2.7 L15.6 -1.4 L15.4 0.0 L15.1 1.4 L14.9 2.8 L14.7 3.9 L14.5 4.8 L14.2 5.3 L14.0 5.5Z" fill="url(#r00008c0a0af05a5aff)" stroke="#000068" stroke-width="0.4" stroke-linejoin="round"/>
<path d="M16.5 5.5 L16.7 5.3 L16.9 4.8 L17.2 3.9 L17.4 2.8 L17.6 1.4 L17.8 0.0 L18.1 -1.4 L18.3 -2.7 L18.5 -3.9 L18.8 -4.8 L19.0 -5.3 L19.2 -5.5 L22.2 -5.5 L22.0 -5.3 L21.8 -4.8 L21.5 -3.9 L21.3 -2.7 L21.1 -1.4 L20.9 0.0 L20.6 1.4 L20.4 2.8 L20.2 3.9 L19.9 4.8 L19.7 5.3 L19.5 5.5Z" fill="url(#r00008c0a0af05a5aff)" stroke="#000068" stroke-width="0.4" stroke-linejoin="round"/>
<path d="M22.0 5.5 L22.2 5.3 L22.4 4.8 L22.6 3.9 L22.9 2.8 L23.1 1.4 L23.3 0.0 L23.6 -1.4 L23.8 -2.7 L24.0 -3.9 L24.2 -4.8 L24.5 -5.3 L24.7 -5.5 L27.7 -5.5 L27.5 -5.3 L27.3 -4.8 L27.0 -3.9 L26.8 -2.7 L26.6 -1.4 L26.3 0.0 L26.1 1.4 L25.9 2.8 L25.7 3.9 L25.4 4.8 L25.2 5.3 L25.0 5.5Z" fill="url(#r00008c0a0af05a5aff)" stroke="#000068" stroke-width="0.4" stroke-linejoin="round"/>
<path d="M27.4 5.5 L27.7 5.3 L27.9 4.8 L28.1 3.9 L28.4 2.8 L28.6 1.4 L28.8 0.0 L29.0 -1.4 L29.3 -2.7 L29.5 -3.9 L29.7 -4.8 L30.0 -5.3 L30.2 -5.5 L33.2 -5.5 L33.0 -5.3 L32.7 -4.8 L32.5 -3.9 L32.3 -2.7 L32.1 -1.4 L31.8 0.0 L31.6 1.4 L31.4 2.8 L31.1 3.9 L30.9 4.8 L30.7 5.3 L30.5 5.5Z" fill="url(#r00008c0a0af05a5aff)" stroke="#000068" stroke-width="0.4" stroke-linejoin="round"/>
<path d="M32.9 5.5 L33.2 5.3 L33.4 4.8 L33.6 3.9 L33.8 2.8 L34.1 1.4 L34.3 0.0 L34.5 -1.4 L34.8 -2.7 L35.0 -3.9 L35.2 -4.8 L35.4 -5.3 L35.7 -5.5 L38.7 -5.5 L38.5 -5.3 L38.2 -4.8 L38.0 -3.9 L37.8 -2.7 L37.6 -1.4 L37.3 0.0 L37.1 1.4 L36.9 2.8 L36.6 3.9 L36.4 4.8 L36.2 5.3 L36.0 5.5Z" fill="url(#r00008c0a0af05a5aff)" stroke="#000068" stroke-width="0.4" stroke-linejoin="round"/>
<path d="M38.4 5.5 L38.7 5.3 L38.9 4.8 L39.1 3.9 L39.3 2.8 L39.6 1.4 L39.8 0.0 L40.0 -1.4 L40.3 -2.7 L40.5 -3.9 L40.7 -4.8 L40.9 -5.3 L41.2 -5.5 L44.2 -5.5 L44.0 -5.3 L43.7 -4.8 L43.5 -3.9 L43.3 -2.7 L43.0 -1.4 L42.8 0.0 L42.6 1.4 L42.4 2.8 L42.1 3.9 L41.9 4.8 L41.7 5.3 L41.4 5.5Z" fill="url(#r00008c0a0af05a5aff)" stroke="#000068" stroke-width="0.4" stroke-linejoin="round"/>
<path d="M43.9 5.5 L44.1 5.3 L44.4 4.8 L44.6 3.9 L44.8 2.8 L45.1 1.4 L45.3 0.0 L48.3 0.0 L48.1 1.4 L47.8 2.8 L47.6 3.9 L47.4 4.8 L47.2 5.3 L46.9 5.5Z" fill="url(#r00008c0a0af05a5aff)" stroke="#000068" stroke-width="0.4" stroke-linejoin="round"/>
</g>
<path d="M86.0 230.0 C87.0 229.3 90.0 226.0 92.0 226.0 C94.0 226.0 96.0 230.0 98.0 230.0 C100.0 230.0 102.3 225.7 104.0 226.0 C105.7 226.3 108.0 230.0 108.0 232.0 C108.0 234.0 105.7 237.3 104.0 238.0 C102.3 238.7 99.0 236.3 98.0 236.0" fill="none" stroke="#111" stroke-width="0.7" stroke-linecap="round"/>
<path d="M96.0 244.0 C96.7 243.0 98.3 238.7 100.0 238.0 C101.7 237.3 104.3 238.7 106.0 240.0 C107.7 241.3 110.0 244.3 110.0 246.0 C110.0 247.7 106.7 249.3 106.0 250.0" fill="none" stroke="#222" stroke-width="0.7" stroke-linecap="round"/>
<path d="M88.0 218.0 C89.0 218.7 92.0 222.0 94.0 222.0 C96.0 222.0 98.0 218.0 100.0 218.0 C102.0 218.0 104.3 221.7 106.0 222.0 C107.7 222.3 109.3 220.3 110.0 220.0" fill="none" stroke="#1010d0" stroke-width="0.7" stroke-linecap="round"/>
<path d="M70.0 226.0 C71.3 226.7 75.3 230.0 78.0 230.0 C80.7 230.0 83.7 225.7 86.0 226.0 C88.3 226.3 91.0 231.0 92.0 232.0" fill="none" stroke="#d01010" stroke-width="0.6" stroke-linecap="round"/>
<path d="M100.0 244.0 C100.7 245.0 102.3 249.2 104.0 250.0 C105.7 250.8 109.0 249.2 110.0 249.0" fill="none" stroke="#d8d000" stroke-width="0.8" stroke-linecap="round"/>
<path d="M139.0 252.0 C139.5 252.7 141.0 255.0 142.0 256.0 C143.0 257.0 144.5 257.7 145.0 258.0" fill="none" stroke="#d8d000" stroke-width="0.8" stroke-linecap="round"/>
<path d="M103.0 226.0 C104.0 226.3 108.0 227.7 109.0 228.0" fill="none" stroke="#d8d000" stroke-width="0.8" stroke-linecap="round"/>
<path d="M139.0 238.0 C139.5 239.0 141.8 242.2 142.0 244.0 C142.2 245.8 140.3 248.2 140.0 249.0" fill="none" stroke="#d8d000" stroke-width="0.8" stroke-linecap="round"/>
<g transform="translate(108.5,228.0) rotate(17.9)">
<path d="M3.0 -4.8 L3.2 -4.6 L3.5 -4.1 L3.7 -3.4 L3.9 -2.4 L4.2 -1.2 L4.4 -0.0 L4.7 1.2 L4.9 2.4 L5.2 3.4 L5.4 4.1 L5.7 4.6 L5.9 4.8 L9.2 4.8 L8.9 4.6 L8.7 4.1 L8.4 3.4 L8.2 2.4 L7.9 1.2 L7.7 -0.0 L7.5 -1.2 L7.2 -2.4 L7.0 -3.4 L6.7 -4.1 L6.5 -4.6 L6.2 -4.8Z" fill="#b0a800" stroke="#8a8400" stroke-width="0.4" stroke-linejoin="round"/>
<path d="M8.9 -4.8 L9.1 -4.6 L9.4 -4.1 L9.6 -3.4 L9.9 -2.4 L10.1 -1.2 L10.4 -0.0 L10.6 1.2 L10.9 2.4 L11.1 3.4 L11.4 4.1 L11.6 4.6 L11.8 4.8 L15.1 4.8 L14.9 4.6 L14.6 4.1 L14.4 3.4 L14.1 2.4 L13.9 1.2 L13.6 -0.0 L13.4 -1.2 L13.1 -2.4 L12.9 -3.4 L12.6 -4.1 L12.4 -4.6 L12.1 -4.8Z" fill="#b0a800" stroke="#8a8400" stroke-width="0.4" stroke-linejoin="round"/>
<path d="M14.8 -4.8 L15.1 -4.6 L15.3 -4.1 L15.5 -3.4 L15.8 -2.4 L16.0 -1.2 L16.3 -0.0 L16.5 1.2 L16.8 2.4 L17.0 3.4 L17.3 4.1 L17.5 4.6 L17.8 4.8 L21.0 4.8 L20.8 4.6 L20.5 4.1 L20.3 3.4 L20.0 2.4 L19.8 1.2 L19.5 -0.0 L19.3 -1.2 L19.1 -2.4 L18.8 -3.4 L18.6 -4.1 L18.3 -4.6 L18.1 -4.8Z" fill="#b0a800" stroke="#8a8400" stroke-width="0.4" stroke-linejoin="round"/>
<path d="M20.7 -4.8 L21.0 -4.6 L21.2 -4.1 L21.5 -3.4 L21.7 -2.4 L22.0 -1.2 L22.2 -0.0 L22.5 1.2 L22.7 2.4 L22.9 3.4 L23.2 4.1 L23.4 4.6 L23.7 4.8 L26.9 4.8 L26.7 4.6 L26.5 4.1 L26.2 3.4 L26.0 2.4 L25.7 1.2 L25.5 -0.0 L25.2 -1.2 L25.0 -2.4 L24.7 -3.4 L24.5 -4.1 L24.2 -4.6 L24.0 -4.8Z" fill="#b0a800" stroke="#8a8400" stroke-width="0.4" stroke-linejoin="round"/>
<path d="M26.7 -4.8 L26.9 -4.6 L27.1 -4.1 L27.4 -3.4 L27.6 -2.4 L27.9 -1.2 L28.1 -0.0 L28.4 1.2 L28.6 2.4 L28.9 3.4 L29.1 4.1 L29.4 4.6 L29.6 4.8 L32.9 4.8 L32.6 4.6 L32.4 4.1 L32.1 3.4 L31.9 2.4 L31.6 1.2 L31.4 -0.0 L31.1 -1.2 L30.9 -2.4 L30.6 -3.4 L30.4 -4.1 L30.2 -4.6 L29.9 -4.8Z" fill="#b0a800" stroke="#8a8400" stroke-width="0.4" stroke-linejoin="round"/>
<path d="M0.0 4.8 L0.2 4.6 L0.5 4.1 L0.7 3.4 L1.0 2.4 L1.2 1.2 L1.5 0.0 L1.7 -1.2 L2.0 -2.4 L2.2 -3.4 L2.5 -4.1 L2.7 -4.6 L3.0 -4.8 L6.2 -4.8 L6.0 -4.6 L5.7 -4.1 L5.5 -3.4 L5.2 -2.4 L5.0 -1.2 L4.7 0.0 L4.5 1.2 L4.2 2.4 L4.0 3.4 L3.8 4.1 L3.5 4.6 L3.3 4.8Z" fill="url(#rb0a800eee81afbf790)" stroke="#8a8400" stroke-width="0.4" stroke-linejoin="round"/>
<path d="M5.9 4.8 L6.2 4.6 L6.4 4.1 L6.7 3.4 L6.9 2.4 L7.2 1.2 L7.4 0.0 L7.6 -1.2 L7.9 -2.4 L8.1 -3.4 L8.4 -4.1 L8.6 -4.6 L8.9 -4.8 L12.1 -4.8 L11.9 -4.6 L11.6 -4.1 L11.4 -3.4 L11.2 -2.4 L10.9 -1.2 L10.7 0.0 L10.4 1.2 L10.2 2.4 L9.9 3.4 L9.7 4.1 L9.4 4.6 L9.2 4.8Z" fill="url(#rb0a800eee81afbf790)" stroke="#8a8400" stroke-width="0.4" stroke-linejoin="round"/>
<path d="M11.8 4.8 L12.1 4.6 L12.3 4.1 L12.6 3.4 L12.8 2.4 L13.1 1.2 L13.3 0.0 L13.6 -1.2 L13.8 -2.4 L14.1 -3.4 L14.3 -4.1 L14.6 -4.6 L14.8 -4.8 L18.1 -4.8 L17.8 -4.6 L17.6 -4.1 L17.3 -3.4 L17.1 -2.4 L16.8 -1.2 L16.6 0.0 L16.3 1.2 L16.1 2.4 L15.8 3.4 L15.6 4.1 L15.3 4.6 L15.1 4.8Z" fill="url(#rb0a800eee81afbf790)" stroke="#8a8400" stroke-width="0.4" stroke-linejoin="round"/>
<path d="M17.8 4.8 L18.0 4.6 L18.3 4.1 L18.5 3.4 L18.8 2.4 L19.0 1.2 L19.2 0.0 L19.5 -1.2 L19.7 -2.4 L20.0 -3.4 L20.2 -4.1 L20.5 -4.6 L20.7 -4.8 L24.0 -4.8 L23.7 -4.6 L23.5 -4.1 L23.2 -3.4 L23.0 -2.4 L22.8 -1.2 L22.5 0.0 L22.3 1.2 L22.0 2.4 L21.8 3.4 L21.5 4.1 L21.3 4.6 L21.0 4.8Z" fill="url(#rb0a800eee81afbf790)" stroke="#8a8400" stroke-width="0.4" stroke-linejoin="round"/>
<path d="M23.7 4.8 L23.9 4.6 L24.2 4.1 L24.4 3.4 L24.7 2.4 L24.9 1.2 L25.2 0.0 L25.4 -1.2 L25.7 -2.4 L25.9 -3.4 L26.2 -4.1 L26.4 -4.6 L26.7 -4.8 L29.9 -4.8 L29.7 -4.6 L29.4 -4.1 L29.2 -3.4 L28.9 -2.4 L28.7 -1.2 L28.4 0.0 L28.2 1.2 L27.9 2.4 L27.7 3.4 L27.4 4.1 L27.2 4.6 L26.9 4.8Z" fill="url(#rb0a800eee81afbf790)" stroke="#8a8400" stroke-width="0.4" stroke-linejoin="round"/>
<path d="M29.6 4.8 L29.9 4.6 L30.1 4.1 L30.4 3.4 L30.6 2.4 L30.8 1.2 L31.1 0.0 L34.3 0.0 L34.1 1.2 L33.9 2.4 L33.6 3.4 L33.4 4.1 L33.1 4.6 L32.9 4.8Z" fill="url(#rb0a800eee81afbf790)" stroke="#8a8400" stroke-width="0.4" stroke-linejoin="round"/>
</g>
<g transform="translate(109.5,249.0) rotate(4.8)">
<path d="M2.7 -4.2 L3.0 -4.1 L3.2 -3.7 L3.4 -3.0 L3.6 -2.1 L3.9 -1.1 L4.1 -0.0 L4.3 1.1 L4.6 2.1 L4.8 3.0 L5.0 3.7 L5.2 4.1 L5.5 4.2 L8.5 4.2 L8.3 4.1 L8.0 3.7 L7.8 3.0 L7.6 2.1 L7.3 1.1 L7.1 -0.0 L6.9 -1.1 L6.7 -2.1 L6.4 -3.0 L6.2 -3.7 L6.0 -4.1 L5.7 -4.2Z" fill="#b0a800" stroke="#8a8400" stroke-width="0.4" stroke-linejoin="round"/>
<path d="M8.2 -4.2 L8.4 -4.1 L8.7 -3.7 L8.9 -3.0 L9.1 -2.1 L9.4 -1.1 L9.6 -0.0 L9.8 1.1 L10.0 2.1 L10.3 3.0 L10.5 3.7 L10.7 4.1 L10.9 4.2 L14.0 4.2 L13.7 4.1 L13.5 3.7 L13.3 3.0 L13.0 2.1 L12.8 1.1 L12.6 -0.0 L12.4 -1.1 L12.1 -2.1 L11.9 -3.0 L11.7 -3.7 L11.4 -4.1 L11.2 -4.2Z" fill="#b0a800" stroke="#8a8400" stroke-width="0.4" stroke-linejoin="round"/>
<path d="M13.7 -4.2 L13.9 -4.1 L14.1 -3.7 L14.4 -3.0 L14.6 -2.1 L14.8 -1.1 L15.1 -0.0 L15.3 1.1 L15.5 2.1 L15.7 3.0 L16.0 3.7 L16.2 4.1 L16.4 4.2 L19.4 4.2 L19.2 4.1 L19.0 3.7 L18.7 3.0 L18.5 2.1 L18.3 1.1 L18.1 -0.0 L17.8 -1.1 L17.6 -2.1 L17.4 -3.0 L17.2 -3.7 L16.9 -4.1 L16.7 -4.2Z" fill="#b0a800" stroke="#8a8400" stroke-width="0.4" stroke-linejoin="round"/>
<path d="M19.2 -4.2 L19.4 -4.1 L19.6 -3.7 L19.8 -3.0 L20.1 -2.1 L20.3 -1.1 L20.5 -0.0 L20.8 1.1 L21.0 2.1 L21.2 3.0 L21.4 3.7 L21.7 4.1 L21.9 4.2 L24.9 4.2 L24.7 4.1 L24.4 3.7 L24.2 3.0 L24.0 2.1 L23.8 1.1 L23.5 -0.0 L23.3 -1.1 L23.1 -2.1 L22.9 -3.0 L22.6 -3.7 L22.4 -4.1 L22.2 -4.2Z" fill="#b0a800" stroke="#8a8400" stroke-width="0.4" stroke-linejoin="round"/>
<path d="M24.6 -4.2 L24.9 -4.1 L25.1 -3.7 L25.3 -3.0 L25.5 -2.1 L25.8 -1.1 L26.0 -0.0 L26.2 1.1 L26.5 2.1 L26.7 3.0 L26.9 3.7 L27.1 4.1 L27.4 4.2 L30.4 4.2 L30.1 4.1 L29.9 3.7 L29.7 3.0 L29.5 2.1 L29.2 1.1 L29.0 -0.0 L28.8 -1.1 L28.6 -2.1 L28.3 -3.0 L28.1 -3.7 L27.9 -4.1 L27.6 -4.2Z" fill="#b0a800" stroke="#8a8400" stroke-width="0.4" stroke-linejoin="round"/>
<path d="M0.0 4.2 L0.2 4.1 L0.5 3.7 L0.7 3.0 L0.9 2.1 L1.1 1.1 L1.4 0.0 L1.6 -1.1 L1.8 -2.1 L2.1 -3.0 L2.3 -3.7 L2.5 -4.1 L2.7 -4.2 L5.7 -4.2 L5.5 -4.1 L5.3 -3.7 L5.1 -3.0 L4.8 -2.1 L4.6 -1.1 L4.4 0.0 L4.2 1.1 L3.9 2.1 L3.7 3.0 L3.5 3.7 L3.2 4.1 L3.0 4.2Z" fill="url(#rb0a800eee81afbf790)" stroke="#8a8400" stroke-width="0.4" stroke-linejoin="round"/>
<path d="M5.5 4.2 L5.7 4.1 L5.9 3.7 L6.2 3.0 L6.4 2.1 L6.6 1.1 L6.8 0.0 L7.1 -1.1 L7.3 -2.1 L7.5 -3.0 L7.8 -3.7 L8.0 -4.1 L8.2 -4.2 L11.2 -4.2 L11.0 -4.1 L10.8 -3.7 L10.5 -3.0 L10.3 -2.1 L10.1 -1.1 L9.9 0.0 L9.6 1.1 L9.4 2.1 L9.2 3.0 L8.9 3.7 L8.7 4.1 L8.5 4.2Z" fill="url(#rb0a800eee81afbf790)" stroke="#8a8400" stroke-width="0.4" stroke-linejoin="round"/>
<path d="M10.9 4.2 L11.2 4.1 L11.4 3.7 L11.6 3.0 L11.9 2.1 L12.1 1.1 L12.3 0.0 L12.5 -1.1 L12.8 -2.1 L13.0 -3.0 L13.2 -3.7 L13.5 -4.1 L13.7 -4.2 L16.7 -4.2 L16.5 -4.1 L16.2 -3.7 L16.0 -3.0 L15.8 -2.1 L15.6 -1.1 L15.3 0.0 L15.1 1.1 L14.9 2.1 L14.6 3.0 L14.4 3.7 L14.2 4.1 L14.0 4.2Z" fill="url(#rb0a800eee81afbf790)" stroke="#8a8400" stroke-width="0.4" stroke-linejoin="round"/>
<path d="M16.4 4.2 L16.6 4.1 L16.9 3.7 L17.1 3.0 L17.3 2.1 L17.6 1.1 L17.8 0.0 L18.0 -1.1 L18.2 -2.1 L18.5 -3.0 L18.7 -3.7 L18.9 -4.1 L19.2 -4.2 L22.2 -4.2 L21.9 -4.1 L21.7 -3.7 L21.5 -3.0 L21.3 -2.1 L21.0 -1.1 L20.8 0.0 L20.6 1.1 L20.3 2.1 L20.1 3.0 L19.9 3.7 L19.7 4.1 L19.4 4.2Z" fill="url(#rb0a800eee81afbf790)" stroke="#8a8400" stroke-width="0.4" stroke-linejoin="round"/>
<path d="M21.9 4.2 L22.1 4.1 L22.3 3.7 L22.6 3.0 L22.8 2.1 L23.0 1.1 L23.3 0.0 L23.5 -1.1 L23.7 -2.1 L23.9 -3.0 L24.2 -3.7 L24.4 -4.1 L24.6 -4.2 L27.6 -4.2 L27.4 -4.1 L27.2 -3.7 L27.0 -3.0 L26.7 -2.1 L26.5 -1.1 L26.3 0.0 L26.0 1.1 L25.8 2.1 L25.6 3.0 L25.4 3.7 L25.1 4.1 L24.9 4.2Z" fill="url(#rb0a800eee81afbf790)" stroke="#8a8400" stroke-width="0.4" stroke-linejoin="round"/>
<path d="M27.4 4.2 L27.6 4.1 L27.8 3.7 L28.1 3.0 L28.3 2.1 L28.5 1.1 L28.7 0.0 L31.7 0.0 L31.5 1.1 L31.3 2.1 L31.1 3.0 L30.8 3.7 L30.6 4.1 L30.4 4.2Z" fill="url(#rb0a800eee81afbf790)" stroke="#8a8400" stroke-width="0.4" stroke-linejoin="round"/>
</g>
<ellipse cx="100" cy="255" rx="4.8" ry="3.5" fill="#f0e820" stroke="#a09800" stroke-width="0.5"/>
<g font-family="Liberation Sans, sans-serif" fill="#000">
<line x1="426.8" y1="0" x2="426.8" y2="272.4" stroke="#333" stroke-width="0.9"/>
<line x1="426.4" y1="272" x2="683.6" y2="272" stroke="#333" stroke-width="0.9"/>
<line x1="426.4" y1="0.4" x2="685" y2="0.4" stroke="#444" stroke-width="0.9"/>
<line x1="684" y1="0" x2="684" y2="272.4" stroke="#d6d6d6" stroke-width="1.8"/>
<line x1="423.3" y1="10.4" x2="426.8" y2="10.4" stroke="#333" stroke-width="0.8"/>
<text x="422.9" y="15.2" font-size="13.3" text-anchor="end" textLength="16.9" lengthAdjust="spacingAndGlyphs">20</text>
<line x1="423.3" y1="69.8" x2="426.8" y2="69.8" stroke="#333" stroke-width="0.8"/>
<text x="422.9" y="74.6" font-size="13.3" text-anchor="end" textLength="16.9" lengthAdjust="spacingAndGlyphs">10</text>
<line x1="423.3" y1="129.2" x2="426.8" y2="129.2" stroke="#333" stroke-width="0.8"/>
<text x="422.9" y="134.0" font-size="13.3" text-anchor="end" textLength="8.5" lengthAdjust="spacingAndGlyphs">0</text>
<line x1="423.3" y1="188.6" x2="426.8" y2="188.6" stroke="#333" stroke-width="0.8"/>
<text x="422.9" y="193.4" font-size="13.3" text-anchor="end" textLength="28.0" lengthAdjust="spacingAndGlyphs">−10</text>
<line x1="423.3" y1="248.0" x2="426.8" y2="248.0" stroke="#333" stroke-width="0.8"/>
<text x="422.9" y="252.8" font-size="13.3" text-anchor="end" textLength="28.0" lengthAdjust="spacingAndGlyphs">−20</text>
<line x1="449.4" y1="272" x2="449.4" y2="275.5" stroke="#333" stroke-width="0.8"/>
<text x="449.4" y="286.1" font-size="13.3" text-anchor="middle" textLength="28.0" lengthAdjust="spacingAndGlyphs">−15</text>
<line x1="486.5" y1="272" x2="486.5" y2="275.5" stroke="#333" stroke-width="0.8"/>
<text x="486.5" y="286.1" font-size="13.3" text-anchor="middle" textLength="28.0" lengthAdjust="spacingAndGlyphs">−10</text>
<line x1="523.6" y1="272" x2="523.6" y2="275.5" stroke="#333" stroke-width="0.8"/>
<text x="523.6" y="286.1" font-size="13.3" text-anchor="middle" textLength="19.6" lengthAdjust="spacingAndGlyphs">−5</text>
<line x1="560.7" y1="272" x2="560.7" y2="275.5" stroke="#333" stroke-width="0.8"/>
<text x="560.7" y="286.1" font-size="13.3" text-anchor="middle" textLength="8.5" lengthAdjust="spacingAndGlyphs">0</text>
<line x1="597.8" y1="272" x2="597.8" y2="275.5" stroke="#333" stroke-width="0.8"/>
<text x="597.8" y="286.1" font-size="13.3" text-anchor="middle" textLength="8.5" lengthAdjust="spacingAndGlyphs">5</text>
<line x1="634.9" y1="272" x2="634.9" y2="275.5" stroke="#333" stroke-width="0.8"/>
<text x="634.9" y="286.1" font-size="13.3" text-anchor="middle" textLength="16.9" lengthAdjust="spacingAndGlyphs">10</text>
<line x1="672.0" y1="272" x2="672.0" y2="275.5" stroke="#333" stroke-width="0.8"/>
<text x="672.0" y="286.1" font-size="13.3" text-anchor="middle" textLength="16.9" lengthAdjust="spacingAndGlyphs">15</text>
<text x="480.4" y="301.3" font-size="13.3" textLength="149.2" lengthAdjust="spacingAndGlyphs">Principal Component 1</text>
<text transform="translate(389.3,211.0) rotate(-90)" font-size="13.3" textLength="149.2" lengthAdjust="spacingAndGlyphs">Principal Component 2</text>
</g>
<g font-family="Liberation Sans, sans-serif" fill="#000">
<line x1="203.5" y1="264.9" x2="205.5" y2="264.9" stroke="#000" stroke-width="0.6"/>
<line x1="203.5" y1="258.2" x2="205.5" y2="258.2" stroke="#000" stroke-width="0.6"/>
<line x1="203.5" y1="253.5" x2="205.5" y2="253.5" stroke="#000" stroke-width="0.6"/>
<line x1="203.5" y1="249.8" x2="205.5" y2="249.8" stroke="#000" stroke-width="0.6"/>
<line x1="203.5" y1="246.8" x2="205.5" y2="246.8" stroke="#000" stroke-width="0.6"/>
<line x1="203.5" y1="244.3" x2="205.5" y2="244.3" stroke="#000" stroke-width="0.6"/>
<line x1="203.5" y1="242.1" x2="205.5" y2="242.1" stroke="#000" stroke-width="0.6"/>
<line x1="203.5" y1="240.1" x2="205.5" y2="240.1" stroke="#000" stroke-width="0.6"/>
<line x1="203.5" y1="227.0" x2="205.5" y2="227.0" stroke="#000" stroke-width="0.6"/>
<line x1="203.5" y1="220.3" x2="205.5" y2="220.3" stroke="#000" stroke-width="0.6"/>
<line x1="203.5" y1="215.6" x2="205.5" y2="215.6" stroke="#000" stroke-width="0.6"/>
<line x1="203.5" y1="211.9" x2="205.5" y2="211.9" stroke="#000" stroke-width="0.6"/>
<line x1="203.5" y1="208.9" x2="205.5" y2="208.9" stroke="#000" stroke-width="0.6"/>
<line x1="203.5" y1="206.3" x2="205.5" y2="206.3" stroke="#000" stroke-width="0.6"/>
<line x1="203.5" y1="204.1" x2="205.5" y2="204.1" stroke="#000" stroke-width="0.6"/>
<line x1="203.5" y1="202.2" x2="205.5" y2="202.2" stroke="#000" stroke-width="0.6"/>
<line x1="203.5" y1="189.0" x2="205.5" y2="189.0" stroke="#000" stroke-width="0.6"/>
<line x1="203.5" y1="182.3" x2="205.5" y2="182.3" stroke="#000" stroke-width="0.6"/>
<line x1="203.5" y1="177.6" x2="205.5" y2="177.6" stroke="#000" stroke-width="0.6"/>
<line x1="203.5" y1="173.9" x2="205.5" y2="173.9" stroke="#000" stroke-width="0.6"/>
<line x1="203.5" y1="170.9" x2="205.5" y2="170.9" stroke="#000" stroke-width="0.6"/>
<line x1="203.5" y1="168.4" x2="205.5" y2="168.4" stroke="#000" stroke-width="0.6"/>
<line x1="203.5" y1="166.2" x2="205.5" y2="166.2" stroke="#000" stroke-width="0.6"/>
<line x1="203.5" y1="164.2" x2="205.5" y2="164.2" stroke="#000" stroke-width="0.6"/>
<line x1="217.9" y1="270.3" x2="217.9" y2="273.3" stroke="#000" stroke-width="0.8"/>
<text transform="translate(216.7,283.2) rotate(-45)" font-size="11.4" text-anchor="middle" dominant-baseline="central" textLength="17.6" lengthAdjust="spacingAndGlyphs">0.5</text>
<line x1="235.7" y1="270.3" x2="235.7" y2="273.3" stroke="#000" stroke-width="0.8"/>
<text transform="translate(234.5,283.2) rotate(-45)" font-size="11.4" text-anchor="middle" dominant-baseline="central" textLength="17.6" lengthAdjust="spacingAndGlyphs">0.6</text>
<line x1="253.5" y1="270.3" x2="253.5" y2="273.3" stroke="#000" stroke-width="0.8"/>
<text transform="translate(252.3,283.2) rotate(-45)" font-size="11.4" text-anchor="middle" dominant-baseline="central" textLength="17.6" lengthAdjust="spacingAndGlyphs">0.7</text>
<line x1="271.3" y1="270.3" x2="271.3" y2="273.3" stroke="#000" stroke-width="0.8"/>
<text transform="translate(270.1,283.2) rotate(-45)" font-size="11.4" text-anchor="middle" dominant-baseline="central" textLength="17.6" lengthAdjust="spacingAndGlyphs">0.8</text>
<line x1="289.1" y1="270.3" x2="289.1" y2="273.3" stroke="#000" stroke-width="0.8"/>
<text transform="translate(287.9,283.2) rotate(-45)" font-size="11.4" text-anchor="middle" dominant-baseline="central" textLength="17.6" lengthAdjust="spacingAndGlyphs">0.9</text>
<line x1="306.9" y1="270.3" x2="306.9" y2="273.3" stroke="#000" stroke-width="0.8"/>
<text transform="translate(305.7,283.2) rotate(-45)" font-size="11.4" text-anchor="middle" dominant-baseline="central" textLength="17.6" lengthAdjust="spacingAndGlyphs">1.0</text>
<line x1="324.7" y1="270.3" x2="324.7" y2="273.3" stroke="#000" stroke-width="0.8"/>
<text transform="translate(323.5,283.2) rotate(-45)" font-size="11.4" text-anchor="middle" dominant-baseline="central" textLength="17.6" lengthAdjust="spacingAndGlyphs">1.1</text>
<line x1="342.5" y1="270.3" x2="342.5" y2="273.3" stroke="#000" stroke-width="0.8"/>
<text transform="translate(341.3,283.2) rotate(-45)" font-size="11.4" text-anchor="middle" dominant-baseline="central" textLength="17.6" lengthAdjust="spacingAndGlyphs">1.2</text>
<line x1="360.3" y1="270.3" x2="360.3" y2="273.3" stroke="#000" stroke-width="0.8"/>
<text transform="translate(359.1,283.2) rotate(-45)" font-size="11.4" text-anchor="middle" dominant-baseline="central" textLength="17.6" lengthAdjust="spacingAndGlyphs">1.3</text>
</g>
<g font-family="Liberation Sans, sans-serif" fill="#000">
  <!-- panel labels -->
  <text x="2.4" y="28" font-size="16" textLength="10.6" lengthAdjust="spacingAndGlyphs">A</text>
  <text x="383.2" y="26.5" font-size="16" textLength="10" lengthAdjust="spacingAndGlyphs">B</text>
  <text x="3.3" y="175.4" font-size="16" textLength="10.6" lengthAdjust="spacingAndGlyphs">C</text>
  <text x="132.4" y="176.7" font-size="16" textLength="11.6" lengthAdjust="spacingAndGlyphs">D</text>
  <!-- panel A titles -->
  <text x="29.6" y="13.5" font-size="14.5" textLength="149.8" lengthAdjust="spacingAndGlyphs">Principal Component 1</text>
  <text x="208.0" y="13.7" font-size="14.5" textLength="150.2" lengthAdjust="spacingAndGlyphs">Principal Component 2</text>
  <!-- 90 deg -->
  <text x="180" y="105.3" font-size="12.8" textLength="13.3" lengthAdjust="spacingAndGlyphs">90</text>
  <circle cx="195.9" cy="96.7" r="1.25" fill="none" stroke="#000" stroke-width="0.8"/>
</g>
<!-- arrows panel A -->
<defs><linearGradient id="rotg" x1="0" y1="0" x2="1" y2="0"><stop offset="0" stop-color="#b8b8b8"/><stop offset="0.2" stop-color="#c8c8c8"/><stop offset="0.4" stop-color="#a4a4a4"/><stop offset="0.65" stop-color="#cfcfcf"/><stop offset="1" stop-color="#e6e6e6"/></linearGradient></defs>
<path d="M155.1 75.3 L160.2 75.3 C160.6 83.5 164.5 88.6 168.5 88.5 C173 88.3 177.5 84.5 179.3 79.8 L177.2 79.8 L181.7 75 L186 79.5 L183.2 79.7 C181 86.5 175 91.6 168.5 91.7 C161 91.8 155 84.5 155.1 75.3 Z" fill="url(#rotg)" stroke="#555" stroke-width="0.6" stroke-linejoin="round"/>
<g>
  <rect x="149.6" y="60.8" width="38" height="2.7" fill="#000"/>
  <path d="M186.5 57.8 L195.4 62.15 L186.5 66.5 Z" fill="#000"/>
  <rect x="168" y="69.4" width="2.8" height="31.2" fill="#000"/>
</g>
<!-- Panel D axes -->
<g font-family="Liberation Sans, sans-serif">
  <rect x="205.5" y="159.4" width="155.4" height="111" fill="none" stroke="#000" stroke-width="0.95"/>
  <text x="193.2" y="142.9" font-size="11" fill="#22b14c" textLength="61.4" lengthAdjust="spacingAndGlyphs">High: α &gt; 10</text>
  <text x="300.1" y="142.9" font-size="11" fill="#ee1c24" textLength="45.6" lengthAdjust="spacingAndGlyphs">Low: α &lt;2</text>
  <text x="224.7" y="155.1" font-size="11" fill="#f7b521" textLength="99.2" lengthAdjust="spacingAndGlyphs">Medium: 2 &lt; α &lt; 10</text>
  <text x="311.5" y="170.3" font-size="11" fill="#000" textLength="43.2" lengthAdjust="spacingAndGlyphs">R² = 0.73</text>
  <line x1="211.7" y1="188" x2="354.2" y2="253.5" stroke="#000" stroke-width="1.8"/>
  <circle cx="212.6" cy="163.3" r="3" fill="#138a1e"/>
  <circle cx="221.6" cy="211.6" r="3" fill="#ffa500"/>
  <circle cx="241.5" cy="210.8" r="3" fill="#ffa500"/>
  <circle cx="348.2" cy="235.2" r="3" fill="#ff0000"/>
  <circle cx="353.8" cy="266.6" r="3" fill="#ff0000"/>
  <g font-size="10.2" fill="#000">
    <text x="213.4" y="171.7">P1</text>
    <text x="207.8" y="219.4">P2</text>
    <text x="242.3" y="219.4">P3</text>
    <text x="334.5" y="232.8">P4</text>
    <text x="339.4" y="263.6">P5</text>
  </g>
  <!-- y tick labels -->
  <g font-size="11.4" fill="#000">
    <text x="180.9" y="166.3" textLength="14.3" lengthAdjust="spacingAndGlyphs">10</text><text x="196.1" y="161.9" font-size="7.8">2</text>
    <text x="180.9" y="204.3" textLength="14.3" lengthAdjust="spacingAndGlyphs">10</text><text x="196.1" y="199.9" font-size="7.8">1</text>
    <text x="180.9" y="242.4" textLength="14.3" lengthAdjust="spacingAndGlyphs">10</text><text x="196.1" y="238" font-size="7.8">0</text>
  </g>
  <g stroke="#000" stroke-width="0.8">
    <line x1="202.5" y1="162.5" x2="205.4" y2="162.5"/>
    <line x1="202.5" y1="200.3" x2="205.4" y2="200.3"/>
    <line x1="202.5" y1="238.4" x2="205.4" y2="238.4"/>
  </g>
  <g font-size="10.8" fill="#000">
    <text transform="translate(162.7,242.1) rotate(-90)" font-size="11.8" textLength="52.2" lengthAdjust="spacingAndGlyphs">Measured</text>
    <text transform="translate(175.9,249.5) rotate(-90)" font-size="11.6" textLength="72" lengthAdjust="spacingAndGlyphs">Cooperativity</text>
  </g>
  <text x="231.4" y="303.8" font-size="11.2" fill="#000" textLength="101.8" lengthAdjust="spacingAndGlyphs">Shannon Entropy</text>
</g>

<g font-family="Liberation Sans, sans-serif" font-size="16.4">
  <text x="542.2" y="60.3" fill="#0000ff" textLength="22.8" lengthAdjust="spacingAndGlyphs">P5</text>
  <text x="488.7" y="103.0" fill="#008000" textLength="22.8" lengthAdjust="spacingAndGlyphs">P3</text>
  <text x="623.1" y="118.2" fill="#000" textLength="22.8" lengthAdjust="spacingAndGlyphs">P2</text>
  <text x="625.3" y="151.0" fill="#ffa500" textLength="22.8" lengthAdjust="spacingAndGlyphs">P1</text>
  <text x="468.2" y="180.1" fill="#8b008b" textLength="22.8" lengthAdjust="spacingAndGlyphs">P4</text>
  <circle cx="539.7" cy="63.8" r="1.5" fill="#0000ff"/>
  <circle cx="485.6" cy="106.1" r="1.5" fill="#006400"/>
  <circle cx="620.3" cy="121.3" r="1.5" fill="#000"/>
  <circle cx="465.3" cy="182.8" r="1.5" fill="#8b008b"/>
  <circle cx="580.6" cy="38.2" r="0.9" fill="#08306b"/>
</g>

</svg>
</body></html>
